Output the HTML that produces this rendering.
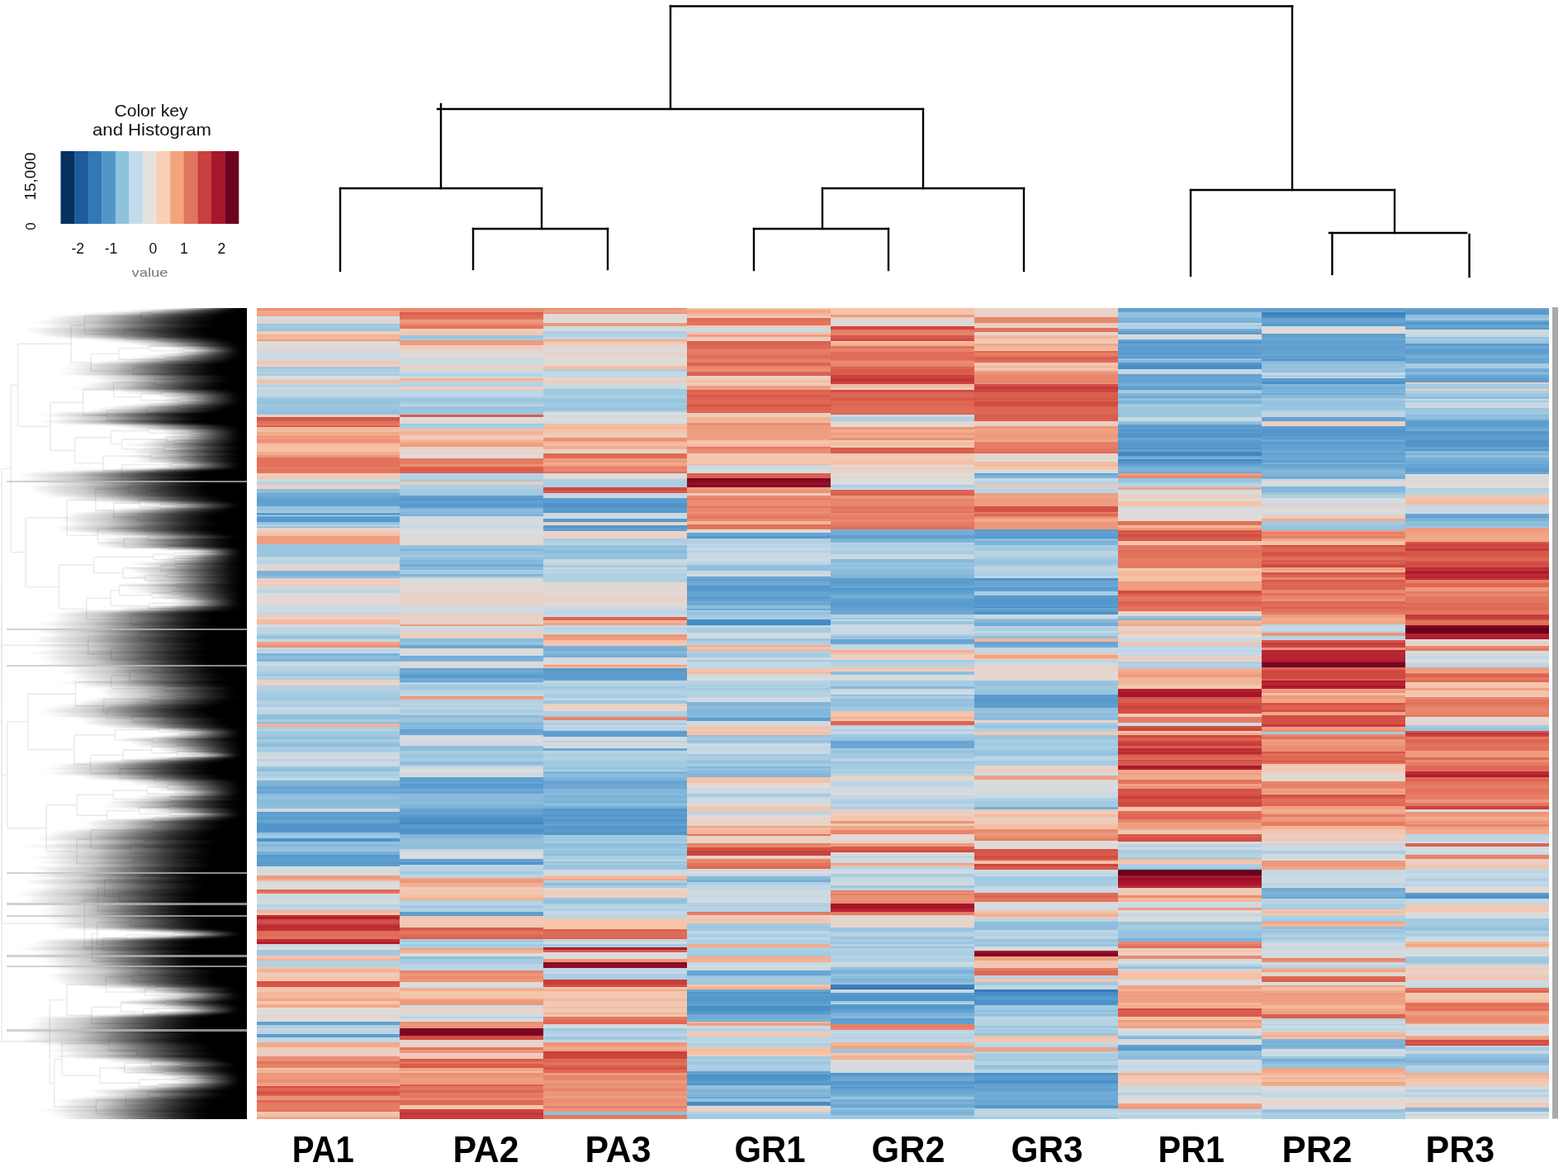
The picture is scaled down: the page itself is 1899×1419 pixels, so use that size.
<!DOCTYPE html>
<html><head><meta charset="utf-8"><title>Heatmap</title>
<style>
html,body{margin:0;padding:0;background:#fff;}
body{width:1899px;height:1419px;overflow:hidden;position:relative;}
svg{position:absolute;left:0;top:0;}
text{font-family:"Liberation Sans",Arial,sans-serif;}
#rd{position:absolute;left:0;top:373px;width:299px;height:981.5px;overflow:hidden;}
#rdi{position:absolute;left:0;top:-8px;width:320px;height:1000px;filter:blur(1.3px);}
#rdi div{position:absolute;left:0;width:320px;height:2.5px;}
#rd i{position:absolute;left:8px;width:292px;height:2.5px;background:rgba(192,192,192,.72);}
</style></head><body>
<svg width="1899" height="1419" viewBox="0 0 1899 1419">
<rect width="1899" height="1419" fill="#fff"/>
<g id="heat" shape-rendering="crispEdges">
<rect x="310.5" y="373.0" width="174.5" height="3.4" fill="#eb8f74"/>
<rect x="310.5" y="376.0" width="174.5" height="3.4" fill="#f1a889"/>
<rect x="310.5" y="379.0" width="174.5" height="4.0" fill="#f1a687"/>
<rect x="310.5" y="382.6" width="174.5" height="2.9" fill="#dddcda"/>
<rect x="310.5" y="385.1" width="174.5" height="4.9" fill="#d3dadf"/>
<rect x="310.5" y="389.6" width="174.5" height="3.2" fill="#eccec1"/>
<rect x="310.5" y="392.4" width="174.5" height="2.4" fill="#9cc7e0"/>
<rect x="310.5" y="394.4" width="174.5" height="3.9" fill="#a4cbe1"/>
<rect x="310.5" y="397.9" width="174.5" height="3.5" fill="#99c4df"/>
<rect x="310.5" y="401.0" width="174.5" height="4.4" fill="#eccdbf"/>
<rect x="310.5" y="405.0" width="174.5" height="3.4" fill="#f3b395"/>
<rect x="310.5" y="408.0" width="174.5" height="2.9" fill="#f4b89c"/>
<rect x="310.5" y="410.5" width="174.5" height="3.3" fill="#ee9c7f"/>
<rect x="310.5" y="413.4" width="174.5" height="2.4" fill="#dedcd9"/>
<rect x="310.5" y="415.4" width="174.5" height="2.4" fill="#dfdbd8"/>
<rect x="310.5" y="417.4" width="174.5" height="2.4" fill="#e1d9d5"/>
<rect x="310.5" y="419.4" width="174.5" height="3.4" fill="#d9dbdc"/>
<rect x="310.5" y="422.4" width="174.5" height="2.6" fill="#e3d7d1"/>
<rect x="310.5" y="424.6" width="174.5" height="3.9" fill="#c8d9e3"/>
<rect x="310.5" y="428.1" width="174.5" height="2.4" fill="#cedae1"/>
<rect x="310.5" y="430.1" width="174.5" height="4.4" fill="#d2dadf"/>
<rect x="310.5" y="434.1" width="174.5" height="3.3" fill="#cedae1"/>
<rect x="310.5" y="437.0" width="174.5" height="3.9" fill="#f2c7b0"/>
<rect x="310.5" y="440.5" width="174.5" height="3.9" fill="#ebcfc3"/>
<rect x="310.5" y="444.0" width="174.5" height="3.4" fill="#9fc8e0"/>
<rect x="310.5" y="447.0" width="174.5" height="3.4" fill="#aacde2"/>
<rect x="310.5" y="450.0" width="174.5" height="2.4" fill="#b5d2e3"/>
<rect x="310.5" y="452.0" width="174.5" height="3.8" fill="#abcee2"/>
<rect x="310.5" y="455.4" width="174.5" height="2.4" fill="#e0dad6"/>
<rect x="310.5" y="457.4" width="174.5" height="2.6" fill="#d7dbdd"/>
<rect x="310.5" y="459.6" width="174.5" height="4.6" fill="#f4bfa4"/>
<rect x="310.5" y="463.8" width="174.5" height="2.4" fill="#c4d8e5"/>
<rect x="310.5" y="465.8" width="174.5" height="3.4" fill="#b6d2e3"/>
<rect x="310.5" y="468.8" width="174.5" height="3.4" fill="#cdd9e1"/>
<rect x="310.5" y="471.8" width="174.5" height="2.4" fill="#bcd5e4"/>
<rect x="310.5" y="473.8" width="174.5" height="4.4" fill="#c1d7e5"/>
<rect x="310.5" y="477.8" width="174.5" height="3.2" fill="#bed6e4"/>
<rect x="310.5" y="480.6" width="174.5" height="2.4" fill="#a0c9e1"/>
<rect x="310.5" y="482.6" width="174.5" height="3.4" fill="#99c4df"/>
<rect x="310.5" y="485.6" width="174.5" height="2.9" fill="#93c1de"/>
<rect x="310.5" y="488.1" width="174.5" height="4.4" fill="#9bc6df"/>
<rect x="310.5" y="492.1" width="174.5" height="3.4" fill="#9bc5df"/>
<rect x="310.5" y="495.1" width="174.5" height="2.9" fill="#96c2de"/>
<rect x="310.5" y="497.6" width="174.5" height="4.4" fill="#92c0dd"/>
<rect x="310.5" y="501.6" width="174.5" height="3.3" fill="#e9d1c7"/>
<rect x="310.5" y="504.5" width="174.5" height="3.4" fill="#d55448"/>
<rect x="310.5" y="507.5" width="174.5" height="2.9" fill="#d85b4c"/>
<rect x="310.5" y="510.0" width="174.5" height="2.9" fill="#e2725b"/>
<rect x="310.5" y="512.5" width="174.5" height="2.4" fill="#e57c63"/>
<rect x="310.5" y="514.5" width="174.5" height="2.9" fill="#da5e4d"/>
<rect x="310.5" y="517.0" width="174.5" height="3.4" fill="#f4b99c"/>
<rect x="310.5" y="520.0" width="174.5" height="2.9" fill="#f4bca0"/>
<rect x="310.5" y="522.5" width="174.5" height="3.4" fill="#f1a687"/>
<rect x="310.5" y="525.5" width="174.5" height="1.9" fill="#f4bca0"/>
<rect x="310.5" y="527.0" width="174.5" height="2.4" fill="#ed977b"/>
<rect x="310.5" y="529.0" width="174.5" height="3.4" fill="#ee9a7e"/>
<rect x="310.5" y="532.0" width="174.5" height="3.4" fill="#ea8e74"/>
<rect x="310.5" y="535.0" width="174.5" height="2.1" fill="#ee9b7e"/>
<rect x="310.5" y="536.7" width="174.5" height="3.4" fill="#f4bda1"/>
<rect x="310.5" y="539.7" width="174.5" height="3.9" fill="#f5c0a4"/>
<rect x="310.5" y="543.2" width="174.5" height="4.4" fill="#f5c2a7"/>
<rect x="310.5" y="547.2" width="174.5" height="3.9" fill="#f2ad8f"/>
<rect x="310.5" y="550.7" width="174.5" height="3.9" fill="#ec957a"/>
<rect x="310.5" y="554.2" width="174.5" height="3.4" fill="#e1715a"/>
<rect x="310.5" y="557.2" width="174.5" height="3.9" fill="#e2725b"/>
<rect x="310.5" y="560.7" width="174.5" height="4.7" fill="#e1715a"/>
<rect x="310.5" y="565.0" width="174.5" height="2.9" fill="#e57b62"/>
<rect x="310.5" y="567.5" width="174.5" height="3.9" fill="#e2725b"/>
<rect x="310.5" y="571.0" width="174.5" height="2.8" fill="#e47960"/>
<rect x="310.5" y="573.4" width="174.5" height="4.4" fill="#eccec0"/>
<rect x="310.5" y="577.4" width="174.5" height="3.4" fill="#f1c7b2"/>
<rect x="310.5" y="580.4" width="174.5" height="3.4" fill="#cfdae0"/>
<rect x="310.5" y="583.4" width="174.5" height="4.4" fill="#bcd5e4"/>
<rect x="310.5" y="587.4" width="174.5" height="2.4" fill="#eccec2"/>
<rect x="310.5" y="589.4" width="174.5" height="2.6" fill="#e8d2c9"/>
<rect x="310.5" y="591.6" width="174.5" height="4.4" fill="#8ebedc"/>
<rect x="310.5" y="595.6" width="174.5" height="2.0" fill="#86b9db"/>
<rect x="310.5" y="597.2" width="174.5" height="3.9" fill="#70aad5"/>
<rect x="310.5" y="600.7" width="174.5" height="3.9" fill="#69a5d3"/>
<rect x="310.5" y="604.2" width="174.5" height="4.4" fill="#5f9fcf"/>
<rect x="310.5" y="608.2" width="174.5" height="2.4" fill="#61a0d0"/>
<rect x="310.5" y="610.2" width="174.5" height="2.8" fill="#61a0d0"/>
<rect x="310.5" y="612.6" width="174.5" height="3.9" fill="#97c3de"/>
<rect x="310.5" y="616.1" width="174.5" height="2.9" fill="#98c3df"/>
<rect x="310.5" y="618.6" width="174.5" height="2.8" fill="#a6cce1"/>
<rect x="310.5" y="621.0" width="174.5" height="3.2" fill="#5b9cce"/>
<rect x="310.5" y="623.8" width="174.5" height="1.8" fill="#c5d8e5"/>
<rect x="310.5" y="625.2" width="174.5" height="3.4" fill="#5c9dce"/>
<rect x="310.5" y="628.2" width="174.5" height="4.4" fill="#5698cc"/>
<rect x="310.5" y="632.2" width="174.5" height="3.4" fill="#96c2de"/>
<rect x="310.5" y="635.2" width="174.5" height="2.9" fill="#b2d0e3"/>
<rect x="310.5" y="637.7" width="174.5" height="1.9" fill="#86b8db"/>
<rect x="310.5" y="639.2" width="174.5" height="4.6" fill="#e5d5cd"/>
<rect x="310.5" y="643.4" width="174.5" height="2.9" fill="#f0c8b4"/>
<rect x="310.5" y="645.9" width="174.5" height="3.5" fill="#f5c0a5"/>
<rect x="310.5" y="649.0" width="174.5" height="3.4" fill="#ef9e81"/>
<rect x="310.5" y="652.0" width="174.5" height="4.4" fill="#efa082"/>
<rect x="310.5" y="656.0" width="174.5" height="3.2" fill="#ee9d80"/>
<rect x="310.5" y="658.8" width="174.5" height="4.4" fill="#9cc6e0"/>
<rect x="310.5" y="662.8" width="174.5" height="3.4" fill="#9ac5df"/>
<rect x="310.5" y="665.8" width="174.5" height="3.4" fill="#9bc6df"/>
<rect x="310.5" y="668.8" width="174.5" height="3.4" fill="#9bc6e0"/>
<rect x="310.5" y="671.8" width="174.5" height="2.8" fill="#96c3de"/>
<rect x="310.5" y="674.2" width="174.5" height="4.4" fill="#c1d7e5"/>
<rect x="310.5" y="678.2" width="174.5" height="4.8" fill="#b8d3e4"/>
<rect x="310.5" y="682.6" width="174.5" height="3.4" fill="#d8dbdd"/>
<rect x="310.5" y="685.6" width="174.5" height="3.4" fill="#e6d4cc"/>
<rect x="310.5" y="688.6" width="174.5" height="2.8" fill="#e4d6cf"/>
<rect x="310.5" y="691.0" width="174.5" height="3.4" fill="#7eb4d9"/>
<rect x="310.5" y="694.0" width="174.5" height="3.4" fill="#7bb1d8"/>
<rect x="310.5" y="697.0" width="174.5" height="2.9" fill="#8bbcdc"/>
<rect x="310.5" y="699.5" width="174.5" height="3.4" fill="#ebcec2"/>
<rect x="310.5" y="702.5" width="174.5" height="3.9" fill="#eccdbf"/>
<rect x="310.5" y="706.0" width="174.5" height="2.4" fill="#ebcfc3"/>
<rect x="310.5" y="708.0" width="174.5" height="3.1" fill="#edccbd"/>
<rect x="310.5" y="710.7" width="174.5" height="3.4" fill="#ccd9e2"/>
<rect x="310.5" y="713.7" width="174.5" height="4.4" fill="#bcd5e4"/>
<rect x="310.5" y="717.7" width="174.5" height="3.2" fill="#d8dbdc"/>
<rect x="310.5" y="720.5" width="174.5" height="3.9" fill="#dfdbd8"/>
<rect x="310.5" y="724.0" width="174.5" height="3.9" fill="#e5d5ce"/>
<rect x="310.5" y="727.5" width="174.5" height="2.4" fill="#dfdbd9"/>
<rect x="310.5" y="729.5" width="174.5" height="3.9" fill="#e3d7d1"/>
<rect x="310.5" y="733.0" width="174.5" height="3.9" fill="#cdd9e1"/>
<rect x="310.5" y="736.5" width="174.5" height="4.4" fill="#ccd9e1"/>
<rect x="310.5" y="740.5" width="174.5" height="2.4" fill="#bed6e4"/>
<rect x="310.5" y="742.5" width="174.5" height="2.2" fill="#ccd9e2"/>
<rect x="310.5" y="744.3" width="174.5" height="3.4" fill="#eeccbb"/>
<rect x="310.5" y="747.3" width="174.5" height="3.1" fill="#e9d1c7"/>
<rect x="310.5" y="750.0" width="174.5" height="4.4" fill="#f4bca0"/>
<rect x="310.5" y="754.0" width="174.5" height="1.9" fill="#f4ba9d"/>
<rect x="310.5" y="755.5" width="174.5" height="4.9" fill="#d0dae0"/>
<rect x="310.5" y="760.0" width="174.5" height="2.9" fill="#bed5e4"/>
<rect x="310.5" y="762.5" width="174.5" height="3.4" fill="#bcd5e4"/>
<rect x="310.5" y="765.5" width="174.5" height="1.9" fill="#c7d9e4"/>
<rect x="310.5" y="767.0" width="174.5" height="3.4" fill="#a9cde2"/>
<rect x="310.5" y="770.0" width="174.5" height="3.0" fill="#91c0dd"/>
<rect x="310.5" y="772.6" width="174.5" height="2.9" fill="#b8d3e4"/>
<rect x="310.5" y="775.1" width="174.5" height="2.1" fill="#cbd9e2"/>
<rect x="310.5" y="776.8" width="174.5" height="2.9" fill="#efa082"/>
<rect x="310.5" y="779.3" width="174.5" height="2.4" fill="#ef9f82"/>
<rect x="310.5" y="781.3" width="174.5" height="2.9" fill="#eb9075"/>
<rect x="310.5" y="783.8" width="174.5" height="2.9" fill="#c9d9e3"/>
<rect x="310.5" y="786.3" width="174.5" height="2.4" fill="#b5d2e3"/>
<rect x="310.5" y="788.3" width="174.5" height="2.9" fill="#c1d7e5"/>
<rect x="310.5" y="790.8" width="174.5" height="3.4" fill="#7cb2d8"/>
<rect x="310.5" y="793.8" width="174.5" height="4.4" fill="#8ebddc"/>
<rect x="310.5" y="797.8" width="174.5" height="3.2" fill="#81b5d9"/>
<rect x="310.5" y="800.6" width="174.5" height="3.9" fill="#c7d8e4"/>
<rect x="310.5" y="804.1" width="174.5" height="2.5" fill="#d0dae0"/>
<rect x="310.5" y="806.2" width="174.5" height="3.4" fill="#b7d3e3"/>
<rect x="310.5" y="809.2" width="174.5" height="3.9" fill="#b5d2e3"/>
<rect x="310.5" y="812.7" width="174.5" height="3.9" fill="#a7cce2"/>
<rect x="310.5" y="816.2" width="174.5" height="3.4" fill="#9bc6df"/>
<rect x="310.5" y="819.2" width="174.5" height="2.4" fill="#b7d2e3"/>
<rect x="310.5" y="821.2" width="174.5" height="2.2" fill="#abcee2"/>
<rect x="310.5" y="823.0" width="174.5" height="2.4" fill="#ebcfc4"/>
<rect x="310.5" y="825.0" width="174.5" height="3.4" fill="#e7d3c9"/>
<rect x="310.5" y="828.0" width="174.5" height="2.4" fill="#ead0c6"/>
<rect x="310.5" y="830.0" width="174.5" height="4.4" fill="#b2d1e3"/>
<rect x="310.5" y="834.0" width="174.5" height="3.9" fill="#b1d0e3"/>
<rect x="310.5" y="837.5" width="174.5" height="4.4" fill="#a6cce1"/>
<rect x="310.5" y="841.5" width="174.5" height="2.9" fill="#a4cbe1"/>
<rect x="310.5" y="844.0" width="174.5" height="4.4" fill="#9fc8e0"/>
<rect x="310.5" y="848.0" width="174.5" height="2.0" fill="#adcee2"/>
<rect x="310.5" y="849.6" width="174.5" height="2.9" fill="#bad4e4"/>
<rect x="310.5" y="852.1" width="174.5" height="3.9" fill="#aacde2"/>
<rect x="310.5" y="855.6" width="174.5" height="4.4" fill="#c6d8e4"/>
<rect x="310.5" y="859.6" width="174.5" height="3.4" fill="#c0d6e5"/>
<rect x="310.5" y="862.6" width="174.5" height="2.8" fill="#b9d4e4"/>
<rect x="310.5" y="865.0" width="174.5" height="3.9" fill="#91bfdd"/>
<rect x="310.5" y="868.5" width="174.5" height="2.9" fill="#8fbedd"/>
<rect x="310.5" y="871.0" width="174.5" height="2.9" fill="#aacde2"/>
<rect x="310.5" y="873.5" width="174.5" height="3.1" fill="#8abbdc"/>
<rect x="310.5" y="876.2" width="174.5" height="4.6" fill="#f3b194"/>
<rect x="310.5" y="880.4" width="174.5" height="2.9" fill="#abcee2"/>
<rect x="310.5" y="882.9" width="174.5" height="2.4" fill="#b6d2e3"/>
<rect x="310.5" y="884.9" width="174.5" height="4.4" fill="#a2cae1"/>
<rect x="310.5" y="888.9" width="174.5" height="3.9" fill="#9dc7e0"/>
<rect x="310.5" y="892.4" width="174.5" height="3.4" fill="#93c1de"/>
<rect x="310.5" y="895.4" width="174.5" height="2.9" fill="#a6cce1"/>
<rect x="310.5" y="897.9" width="174.5" height="2.4" fill="#9fc8e0"/>
<rect x="310.5" y="899.9" width="174.5" height="4.4" fill="#8fbedd"/>
<rect x="310.5" y="903.9" width="174.5" height="4.4" fill="#a9cde2"/>
<rect x="310.5" y="907.9" width="174.5" height="3.8" fill="#a9cde2"/>
<rect x="310.5" y="911.3" width="174.5" height="2.4" fill="#d2dadf"/>
<rect x="310.5" y="913.3" width="174.5" height="3.4" fill="#c6d8e4"/>
<rect x="310.5" y="916.3" width="174.5" height="3.4" fill="#d5dbde"/>
<rect x="310.5" y="919.3" width="174.5" height="3.4" fill="#bdd5e4"/>
<rect x="310.5" y="922.3" width="174.5" height="3.9" fill="#cfdae0"/>
<rect x="310.5" y="925.8" width="174.5" height="2.6" fill="#ccd9e2"/>
<rect x="310.5" y="928.0" width="174.5" height="3.4" fill="#9ac5df"/>
<rect x="310.5" y="931.0" width="174.5" height="2.4" fill="#8cbcdc"/>
<rect x="310.5" y="933.0" width="174.5" height="2.4" fill="#9ac5df"/>
<rect x="310.5" y="935.0" width="174.5" height="2.4" fill="#b4d2e3"/>
<rect x="310.5" y="937.0" width="174.5" height="2.9" fill="#a6cce1"/>
<rect x="310.5" y="939.5" width="174.5" height="2.9" fill="#b5d2e3"/>
<rect x="310.5" y="942.0" width="174.5" height="3.3" fill="#c2d7e5"/>
<rect x="310.5" y="944.9" width="174.5" height="4.4" fill="#7cb2d8"/>
<rect x="310.5" y="948.9" width="174.5" height="3.9" fill="#7bb1d8"/>
<rect x="310.5" y="952.4" width="174.5" height="3.0" fill="#67a4d2"/>
<rect x="310.5" y="955.0" width="174.5" height="3.9" fill="#6ea9d4"/>
<rect x="310.5" y="958.5" width="174.5" height="2.5" fill="#69a6d3"/>
<rect x="310.5" y="960.6" width="174.5" height="3.4" fill="#8bbcdc"/>
<rect x="310.5" y="963.6" width="174.5" height="4.4" fill="#92c0dd"/>
<rect x="310.5" y="967.6" width="174.5" height="3.9" fill="#8bbcdc"/>
<rect x="310.5" y="971.1" width="174.5" height="3.9" fill="#8abbdb"/>
<rect x="310.5" y="974.6" width="174.5" height="4.6" fill="#90bfdd"/>
<rect x="310.5" y="978.8" width="174.5" height="4.6" fill="#c8d9e3"/>
<rect x="310.5" y="983.0" width="174.5" height="2.9" fill="#5c9dce"/>
<rect x="310.5" y="985.5" width="174.5" height="3.9" fill="#63a1d1"/>
<rect x="310.5" y="989.0" width="174.5" height="3.9" fill="#5d9dce"/>
<rect x="310.5" y="992.5" width="174.5" height="3.4" fill="#68a5d3"/>
<rect x="310.5" y="995.5" width="174.5" height="1.9" fill="#5f9ecf"/>
<rect x="310.5" y="997.0" width="174.5" height="3.4" fill="#5396cb"/>
<rect x="310.5" y="1000.0" width="174.5" height="2.4" fill="#4f94ca"/>
<rect x="310.5" y="1002.0" width="174.5" height="3.4" fill="#5195cb"/>
<rect x="310.5" y="1005.0" width="174.5" height="3.6" fill="#5698cc"/>
<rect x="310.5" y="1008.2" width="174.5" height="3.4" fill="#95c2de"/>
<rect x="310.5" y="1011.2" width="174.5" height="2.4" fill="#a1c9e1"/>
<rect x="310.5" y="1013.2" width="174.5" height="2.4" fill="#9ec8e0"/>
<rect x="310.5" y="1015.2" width="174.5" height="4.6" fill="#4f94ca"/>
<rect x="310.5" y="1019.4" width="174.5" height="3.4" fill="#93c1de"/>
<rect x="310.5" y="1022.4" width="174.5" height="3.4" fill="#85b8da"/>
<rect x="310.5" y="1025.4" width="174.5" height="3.4" fill="#92c0dd"/>
<rect x="310.5" y="1028.4" width="174.5" height="3.4" fill="#99c5df"/>
<rect x="310.5" y="1031.4" width="174.5" height="3.8" fill="#77afd7"/>
<rect x="310.5" y="1034.8" width="174.5" height="3.9" fill="#589acd"/>
<rect x="310.5" y="1038.3" width="174.5" height="3.9" fill="#5f9fcf"/>
<rect x="310.5" y="1041.8" width="174.5" height="2.4" fill="#5e9ecf"/>
<rect x="310.5" y="1043.8" width="174.5" height="2.4" fill="#589acd"/>
<rect x="310.5" y="1045.8" width="174.5" height="3.4" fill="#5c9dce"/>
<rect x="310.5" y="1048.8" width="174.5" height="4.4" fill="#d8dbdc"/>
<rect x="310.5" y="1052.8" width="174.5" height="3.4" fill="#d0dae0"/>
<rect x="310.5" y="1055.8" width="174.5" height="4.6" fill="#dadbdc"/>
<rect x="310.5" y="1060.0" width="174.5" height="3.4" fill="#ee9c7f"/>
<rect x="310.5" y="1063.0" width="174.5" height="2.4" fill="#ef9e81"/>
<rect x="310.5" y="1065.0" width="174.5" height="2.4" fill="#f3b89c"/>
<rect x="310.5" y="1067.0" width="174.5" height="4.4" fill="#d5dbde"/>
<rect x="310.5" y="1071.0" width="174.5" height="3.9" fill="#dfdbd9"/>
<rect x="310.5" y="1074.5" width="174.5" height="2.7" fill="#dddcdb"/>
<rect x="310.5" y="1076.8" width="174.5" height="3.4" fill="#df6955"/>
<rect x="310.5" y="1079.8" width="174.5" height="3.0" fill="#e57c63"/>
<rect x="310.5" y="1082.4" width="174.5" height="2.9" fill="#d2dadf"/>
<rect x="310.5" y="1084.9" width="174.5" height="2.9" fill="#c4d8e5"/>
<rect x="310.5" y="1087.4" width="174.5" height="3.9" fill="#ced9e1"/>
<rect x="310.5" y="1090.9" width="174.5" height="4.5" fill="#d5dbde"/>
<rect x="310.5" y="1095.0" width="174.5" height="2.9" fill="#b5d2e3"/>
<rect x="310.5" y="1097.5" width="174.5" height="3.4" fill="#c6d8e4"/>
<rect x="310.5" y="1100.5" width="174.5" height="1.9" fill="#afcfe2"/>
<rect x="310.5" y="1102.0" width="174.5" height="2.9" fill="#f3b69a"/>
<rect x="310.5" y="1104.5" width="174.5" height="3.6" fill="#f5c1a6"/>
<rect x="310.5" y="1107.7" width="174.5" height="2.4" fill="#bb2934"/>
<rect x="310.5" y="1109.7" width="174.5" height="4.0" fill="#b31e30"/>
<rect x="310.5" y="1113.3" width="174.5" height="2.4" fill="#d14c42"/>
<rect x="310.5" y="1115.3" width="174.5" height="3.4" fill="#d45146"/>
<rect x="310.5" y="1118.3" width="174.5" height="2.4" fill="#ca413d"/>
<rect x="310.5" y="1120.3" width="174.5" height="3.9" fill="#bc2a35"/>
<rect x="310.5" y="1123.8" width="174.5" height="3.9" fill="#c03137"/>
<rect x="310.5" y="1127.3" width="174.5" height="4.4" fill="#df6c56"/>
<rect x="310.5" y="1131.3" width="174.5" height="2.9" fill="#e06c57"/>
<rect x="310.5" y="1133.8" width="174.5" height="3.6" fill="#e2745c"/>
<rect x="310.5" y="1137.0" width="174.5" height="3.4" fill="#be2e36"/>
<rect x="310.5" y="1140.0" width="174.5" height="3.1" fill="#b31d30"/>
<rect x="310.5" y="1142.7" width="174.5" height="3.4" fill="#c4d8e5"/>
<rect x="310.5" y="1145.7" width="174.5" height="4.7" fill="#dedcd9"/>
<rect x="310.5" y="1150.0" width="174.5" height="2.4" fill="#9dc7e0"/>
<rect x="310.5" y="1152.0" width="174.5" height="3.4" fill="#9fc8e0"/>
<rect x="310.5" y="1155.0" width="174.5" height="2.4" fill="#9fc8e0"/>
<rect x="310.5" y="1157.0" width="174.5" height="3.9" fill="#f5c2a7"/>
<rect x="310.5" y="1160.5" width="174.5" height="2.5" fill="#f2af91"/>
<rect x="310.5" y="1162.6" width="174.5" height="2.9" fill="#b1d0e3"/>
<rect x="310.5" y="1165.1" width="174.5" height="2.9" fill="#b5d2e3"/>
<rect x="310.5" y="1167.6" width="174.5" height="3.8" fill="#b2d1e3"/>
<rect x="310.5" y="1171.0" width="174.5" height="2.4" fill="#f4c4aa"/>
<rect x="310.5" y="1173.0" width="174.5" height="4.0" fill="#f3b295"/>
<rect x="310.5" y="1176.6" width="174.5" height="2.4" fill="#f0c8b4"/>
<rect x="310.5" y="1178.6" width="174.5" height="3.4" fill="#efcbb9"/>
<rect x="310.5" y="1181.6" width="174.5" height="3.4" fill="#f4c4aa"/>
<rect x="310.5" y="1184.6" width="174.5" height="3.6" fill="#f3c6af"/>
<rect x="310.5" y="1187.8" width="174.5" height="4.4" fill="#d45246"/>
<rect x="310.5" y="1191.8" width="174.5" height="3.4" fill="#d65548"/>
<rect x="310.5" y="1194.8" width="174.5" height="3.4" fill="#f5c0a5"/>
<rect x="310.5" y="1197.8" width="174.5" height="3.4" fill="#f3c6ae"/>
<rect x="310.5" y="1200.8" width="174.5" height="2.9" fill="#f3b79b"/>
<rect x="310.5" y="1203.3" width="174.5" height="3.9" fill="#f4b99d"/>
<rect x="310.5" y="1206.8" width="174.5" height="2.4" fill="#f3b395"/>
<rect x="310.5" y="1208.8" width="174.5" height="3.4" fill="#f1a687"/>
<rect x="310.5" y="1211.8" width="174.5" height="4.4" fill="#f3c6af"/>
<rect x="310.5" y="1215.8" width="174.5" height="4.6" fill="#f1a98a"/>
<rect x="310.5" y="1220.0" width="174.5" height="2.9" fill="#dedcda"/>
<rect x="310.5" y="1222.5" width="174.5" height="3.9" fill="#dbdcdb"/>
<rect x="310.5" y="1226.0" width="174.5" height="3.4" fill="#dedcda"/>
<rect x="310.5" y="1229.0" width="174.5" height="3.4" fill="#e6d4cd"/>
<rect x="310.5" y="1232.0" width="174.5" height="2.9" fill="#dbdbdb"/>
<rect x="310.5" y="1234.5" width="174.5" height="2.7" fill="#e2d8d2"/>
<rect x="310.5" y="1236.8" width="174.5" height="4.6" fill="#609fd0"/>
<rect x="310.5" y="1241.0" width="174.5" height="4.4" fill="#b0d0e3"/>
<rect x="310.5" y="1245.0" width="174.5" height="2.9" fill="#c2d7e5"/>
<rect x="310.5" y="1247.5" width="174.5" height="3.4" fill="#bbd4e4"/>
<rect x="310.5" y="1250.5" width="174.5" height="2.1" fill="#c0d6e5"/>
<rect x="310.5" y="1252.2" width="174.5" height="4.6" fill="#5d9dcf"/>
<rect x="310.5" y="1256.4" width="174.5" height="3.4" fill="#bfd6e4"/>
<rect x="310.5" y="1259.4" width="174.5" height="3.0" fill="#c2d7e5"/>
<rect x="310.5" y="1262.0" width="174.5" height="3.4" fill="#f1a98a"/>
<rect x="310.5" y="1265.0" width="174.5" height="3.0" fill="#f1a98b"/>
<rect x="310.5" y="1267.6" width="174.5" height="3.4" fill="#edccbc"/>
<rect x="310.5" y="1270.6" width="174.5" height="3.9" fill="#eccec1"/>
<rect x="310.5" y="1274.1" width="174.5" height="5.1" fill="#eccdbf"/>
<rect x="310.5" y="1278.8" width="174.5" height="3.4" fill="#eb8f75"/>
<rect x="310.5" y="1281.8" width="174.5" height="3.4" fill="#eb9277"/>
<rect x="310.5" y="1284.8" width="174.5" height="3.9" fill="#e2745c"/>
<rect x="310.5" y="1288.3" width="174.5" height="5.0" fill="#e78167"/>
<rect x="310.5" y="1292.9" width="174.5" height="2.9" fill="#f5c3a8"/>
<rect x="310.5" y="1295.4" width="174.5" height="3.5" fill="#f3b396"/>
<rect x="310.5" y="1298.5" width="174.5" height="2.9" fill="#ed987c"/>
<rect x="310.5" y="1301.0" width="174.5" height="3.4" fill="#ed997d"/>
<rect x="310.5" y="1304.0" width="174.5" height="3.4" fill="#ed997d"/>
<rect x="310.5" y="1307.0" width="174.5" height="3.9" fill="#ea8e74"/>
<rect x="310.5" y="1310.5" width="174.5" height="5.2" fill="#efa082"/>
<rect x="310.5" y="1315.3" width="174.5" height="2.4" fill="#d35145"/>
<rect x="310.5" y="1317.3" width="174.5" height="4.4" fill="#de6653"/>
<rect x="310.5" y="1321.3" width="174.5" height="3.9" fill="#d45246"/>
<rect x="310.5" y="1324.8" width="174.5" height="2.1" fill="#dd6552"/>
<rect x="310.5" y="1326.5" width="174.5" height="3.4" fill="#ec9378"/>
<rect x="310.5" y="1329.5" width="174.5" height="2.9" fill="#eb9176"/>
<rect x="310.5" y="1332.0" width="174.5" height="3.4" fill="#de6754"/>
<rect x="310.5" y="1335.0" width="174.5" height="3.9" fill="#e57b62"/>
<rect x="310.5" y="1338.5" width="174.5" height="3.4" fill="#e57b62"/>
<rect x="310.5" y="1341.5" width="174.5" height="3.4" fill="#e57b61"/>
<rect x="310.5" y="1344.5" width="174.5" height="1.9" fill="#e16e58"/>
<rect x="310.5" y="1346.0" width="174.5" height="3.4" fill="#f3c6af"/>
<rect x="310.5" y="1349.0" width="174.5" height="3.4" fill="#f4bfa4"/>
<rect x="310.5" y="1352.0" width="174.5" height="2.9" fill="#f1a688"/>
<rect x="484.4" y="373.0" width="174.5" height="5.8" fill="#e98b71"/>
<rect x="484.4" y="378.4" width="174.5" height="3.4" fill="#da5e4e"/>
<rect x="484.4" y="381.4" width="174.5" height="3.9" fill="#e06c57"/>
<rect x="484.4" y="384.9" width="174.5" height="2.3" fill="#e3765e"/>
<rect x="484.4" y="386.8" width="174.5" height="4.4" fill="#ee9a7e"/>
<rect x="484.4" y="390.8" width="174.5" height="3.4" fill="#e98a70"/>
<rect x="484.4" y="393.8" width="174.5" height="4.6" fill="#e3755d"/>
<rect x="484.4" y="398.0" width="174.5" height="2.4" fill="#edcdbf"/>
<rect x="484.4" y="400.0" width="174.5" height="3.4" fill="#efcab9"/>
<rect x="484.4" y="403.0" width="174.5" height="3.8" fill="#f2c6af"/>
<rect x="484.4" y="406.4" width="174.5" height="4.4" fill="#9bc6df"/>
<rect x="484.4" y="410.4" width="174.5" height="2.0" fill="#a2cae1"/>
<rect x="484.4" y="412.0" width="174.5" height="2.4" fill="#ed997d"/>
<rect x="484.4" y="414.0" width="174.5" height="4.0" fill="#ee9a7e"/>
<rect x="484.4" y="417.6" width="174.5" height="3.4" fill="#eccec2"/>
<rect x="484.4" y="420.6" width="174.5" height="2.9" fill="#eecbba"/>
<rect x="484.4" y="423.1" width="174.5" height="3.3" fill="#e6d4cb"/>
<rect x="484.4" y="426.0" width="174.5" height="4.4" fill="#e0dad6"/>
<rect x="484.4" y="430.0" width="174.5" height="4.8" fill="#e0dad7"/>
<rect x="484.4" y="434.4" width="174.5" height="2.4" fill="#ccd9e2"/>
<rect x="484.4" y="436.4" width="174.5" height="3.9" fill="#cedae1"/>
<rect x="484.4" y="439.9" width="174.5" height="3.3" fill="#d2dadf"/>
<rect x="484.4" y="442.8" width="174.5" height="4.4" fill="#ead0c4"/>
<rect x="484.4" y="446.8" width="174.5" height="2.0" fill="#e4d6cf"/>
<rect x="484.4" y="448.4" width="174.5" height="3.9" fill="#c9d9e3"/>
<rect x="484.4" y="451.9" width="174.5" height="4.4" fill="#b7d3e3"/>
<rect x="484.4" y="455.9" width="174.5" height="2.7" fill="#cfdae1"/>
<rect x="484.4" y="458.2" width="174.5" height="2.9" fill="#f3b194"/>
<rect x="484.4" y="460.7" width="174.5" height="2.1" fill="#f2c7b1"/>
<rect x="484.4" y="462.4" width="174.5" height="3.4" fill="#b6d2e3"/>
<rect x="484.4" y="465.4" width="174.5" height="3.0" fill="#b3d1e3"/>
<rect x="484.4" y="468.0" width="174.5" height="4.6" fill="#edcdbe"/>
<rect x="484.4" y="472.2" width="174.5" height="3.9" fill="#bcd5e4"/>
<rect x="484.4" y="475.7" width="174.5" height="4.4" fill="#c1d7e5"/>
<rect x="484.4" y="479.7" width="174.5" height="2.7" fill="#b1d0e3"/>
<rect x="484.4" y="482.0" width="174.5" height="4.4" fill="#9cc6e0"/>
<rect x="484.4" y="486.0" width="174.5" height="2.9" fill="#a5cbe1"/>
<rect x="484.4" y="488.5" width="174.5" height="3.9" fill="#b8d3e4"/>
<rect x="484.4" y="492.0" width="174.5" height="4.4" fill="#9ac5df"/>
<rect x="484.4" y="496.0" width="174.5" height="2.4" fill="#9cc6e0"/>
<rect x="484.4" y="498.0" width="174.5" height="4.0" fill="#9cc6e0"/>
<rect x="484.4" y="501.6" width="174.5" height="3.3" fill="#da5f4e"/>
<rect x="484.4" y="504.5" width="174.5" height="2.9" fill="#dedcda"/>
<rect x="484.4" y="507.0" width="174.5" height="3.9" fill="#dcdcdb"/>
<rect x="484.4" y="510.5" width="174.5" height="2.9" fill="#e5d5ce"/>
<rect x="484.4" y="513.0" width="174.5" height="2.9" fill="#a2cae1"/>
<rect x="484.4" y="515.5" width="174.5" height="3.4" fill="#adcfe2"/>
<rect x="484.4" y="518.5" width="174.5" height="3.4" fill="#f4bfa4"/>
<rect x="484.4" y="521.5" width="174.5" height="3.4" fill="#f3b396"/>
<rect x="484.4" y="524.5" width="174.5" height="2.9" fill="#f3b599"/>
<rect x="484.4" y="527.0" width="174.5" height="2.4" fill="#eccdbf"/>
<rect x="484.4" y="529.0" width="174.5" height="2.4" fill="#edcdbe"/>
<rect x="484.4" y="531.0" width="174.5" height="1.9" fill="#f5c1a5"/>
<rect x="484.4" y="532.5" width="174.5" height="3.4" fill="#f3b193"/>
<rect x="484.4" y="535.5" width="174.5" height="2.9" fill="#f0a385"/>
<rect x="484.4" y="538.0" width="174.5" height="3.4" fill="#ef9d80"/>
<rect x="484.4" y="541.0" width="174.5" height="3.9" fill="#ead0c5"/>
<rect x="484.4" y="544.5" width="174.5" height="3.4" fill="#e2d8d3"/>
<rect x="484.4" y="547.5" width="174.5" height="2.9" fill="#ead0c4"/>
<rect x="484.4" y="550.0" width="174.5" height="3.4" fill="#e1d9d6"/>
<rect x="484.4" y="553.0" width="174.5" height="2.4" fill="#dfdbd8"/>
<rect x="484.4" y="555.0" width="174.5" height="3.4" fill="#e47960"/>
<rect x="484.4" y="558.0" width="174.5" height="3.9" fill="#e57b62"/>
<rect x="484.4" y="561.5" width="174.5" height="3.9" fill="#eb9076"/>
<rect x="484.4" y="565.0" width="174.5" height="3.4" fill="#db604f"/>
<rect x="484.4" y="568.0" width="174.5" height="2.4" fill="#d85b4c"/>
<rect x="484.4" y="570.0" width="174.5" height="3.8" fill="#da5e4e"/>
<rect x="484.4" y="573.4" width="174.5" height="3.9" fill="#b7d2e3"/>
<rect x="484.4" y="576.9" width="174.5" height="4.4" fill="#b3d1e3"/>
<rect x="484.4" y="580.9" width="174.5" height="2.7" fill="#a1cae1"/>
<rect x="484.4" y="583.2" width="174.5" height="2.9" fill="#f2c7b1"/>
<rect x="484.4" y="585.7" width="174.5" height="2.1" fill="#e9d1c7"/>
<rect x="484.4" y="587.4" width="174.5" height="2.4" fill="#aacde2"/>
<rect x="484.4" y="589.4" width="174.5" height="3.4" fill="#afcfe3"/>
<rect x="484.4" y="592.4" width="174.5" height="4.4" fill="#a3cbe1"/>
<rect x="484.4" y="596.4" width="174.5" height="4.0" fill="#9fc8e0"/>
<rect x="484.4" y="600.0" width="174.5" height="3.4" fill="#609fd0"/>
<rect x="484.4" y="603.0" width="174.5" height="3.4" fill="#5699cc"/>
<rect x="484.4" y="606.0" width="174.5" height="4.4" fill="#62a1d0"/>
<rect x="484.4" y="610.0" width="174.5" height="3.9" fill="#5a9bce"/>
<rect x="484.4" y="613.5" width="174.5" height="2.3" fill="#62a1d1"/>
<rect x="484.4" y="615.4" width="174.5" height="2.4" fill="#7eb4d9"/>
<rect x="484.4" y="617.4" width="174.5" height="3.4" fill="#8dbddc"/>
<rect x="484.4" y="620.4" width="174.5" height="2.9" fill="#84b8da"/>
<rect x="484.4" y="622.9" width="174.5" height="2.7" fill="#7bb2d8"/>
<rect x="484.4" y="625.2" width="174.5" height="3.9" fill="#d2dadf"/>
<rect x="484.4" y="628.7" width="174.5" height="2.9" fill="#d4dbde"/>
<rect x="484.4" y="631.2" width="174.5" height="2.9" fill="#d3dadf"/>
<rect x="484.4" y="633.7" width="174.5" height="3.4" fill="#d0dae0"/>
<rect x="484.4" y="636.7" width="174.5" height="2.4" fill="#ccd9e2"/>
<rect x="484.4" y="638.7" width="174.5" height="2.3" fill="#cedae1"/>
<rect x="484.4" y="640.6" width="174.5" height="3.9" fill="#dedcda"/>
<rect x="484.4" y="644.1" width="174.5" height="3.4" fill="#dfdbd9"/>
<rect x="484.4" y="647.1" width="174.5" height="2.4" fill="#d8dbdd"/>
<rect x="484.4" y="649.1" width="174.5" height="3.9" fill="#dbdbdb"/>
<rect x="484.4" y="652.6" width="174.5" height="2.4" fill="#dbdbdb"/>
<rect x="484.4" y="654.6" width="174.5" height="2.4" fill="#e1d9d5"/>
<rect x="484.4" y="656.6" width="174.5" height="4.0" fill="#e3d7d1"/>
<rect x="484.4" y="660.2" width="174.5" height="2.9" fill="#96c3de"/>
<rect x="484.4" y="662.7" width="174.5" height="2.4" fill="#8ebedd"/>
<rect x="484.4" y="664.7" width="174.5" height="2.9" fill="#80b4d9"/>
<rect x="484.4" y="667.2" width="174.5" height="4.4" fill="#92c0dd"/>
<rect x="484.4" y="671.2" width="174.5" height="3.9" fill="#a0c9e1"/>
<rect x="484.4" y="674.7" width="174.5" height="3.4" fill="#90bfdd"/>
<rect x="484.4" y="677.7" width="174.5" height="3.4" fill="#84b7da"/>
<rect x="484.4" y="680.7" width="174.5" height="2.3" fill="#89badb"/>
<rect x="484.4" y="682.6" width="174.5" height="3.9" fill="#71abd6"/>
<rect x="484.4" y="686.1" width="174.5" height="3.9" fill="#89badb"/>
<rect x="484.4" y="689.6" width="174.5" height="2.4" fill="#aacde2"/>
<rect x="484.4" y="691.6" width="174.5" height="3.4" fill="#a4cbe1"/>
<rect x="484.4" y="694.6" width="174.5" height="3.4" fill="#83b7da"/>
<rect x="484.4" y="697.6" width="174.5" height="2.3" fill="#aacde2"/>
<rect x="484.4" y="699.5" width="174.5" height="3.4" fill="#dbdbdb"/>
<rect x="484.4" y="702.5" width="174.5" height="3.9" fill="#e0dad6"/>
<rect x="484.4" y="706.0" width="174.5" height="4.4" fill="#e0dad7"/>
<rect x="484.4" y="710.0" width="174.5" height="2.4" fill="#e5d5ce"/>
<rect x="484.4" y="712.0" width="174.5" height="3.4" fill="#e0dad7"/>
<rect x="484.4" y="715.0" width="174.5" height="2.9" fill="#e4d6d0"/>
<rect x="484.4" y="717.5" width="174.5" height="4.8" fill="#e6d4cc"/>
<rect x="484.4" y="721.9" width="174.5" height="3.4" fill="#ead0c6"/>
<rect x="484.4" y="724.9" width="174.5" height="3.4" fill="#e8d2c9"/>
<rect x="484.4" y="727.9" width="174.5" height="3.4" fill="#e8d2c9"/>
<rect x="484.4" y="730.9" width="174.5" height="2.5" fill="#ead0c4"/>
<rect x="484.4" y="733.0" width="174.5" height="3.4" fill="#ced9e1"/>
<rect x="484.4" y="736.0" width="174.5" height="4.4" fill="#d3dadf"/>
<rect x="484.4" y="740.0" width="174.5" height="2.9" fill="#d0dae0"/>
<rect x="484.4" y="742.5" width="174.5" height="2.2" fill="#cad9e2"/>
<rect x="484.4" y="744.3" width="174.5" height="3.4" fill="#eccec1"/>
<rect x="484.4" y="747.3" width="174.5" height="2.4" fill="#e8d2c9"/>
<rect x="484.4" y="749.3" width="174.5" height="3.4" fill="#e9d1c6"/>
<rect x="484.4" y="752.3" width="174.5" height="3.6" fill="#e9d1c7"/>
<rect x="484.4" y="755.5" width="174.5" height="3.2" fill="#ef9e81"/>
<rect x="484.4" y="758.3" width="174.5" height="2.1" fill="#d5dbde"/>
<rect x="484.4" y="760.0" width="174.5" height="4.6" fill="#ccd9e1"/>
<rect x="484.4" y="764.2" width="174.5" height="3.4" fill="#ead0c5"/>
<rect x="484.4" y="767.2" width="174.5" height="3.4" fill="#ebcfc4"/>
<rect x="484.4" y="770.2" width="174.5" height="2.8" fill="#edccbd"/>
<rect x="484.4" y="772.6" width="174.5" height="4.4" fill="#8bbbdc"/>
<rect x="484.4" y="776.6" width="174.5" height="4.8" fill="#97c3df"/>
<rect x="484.4" y="781.0" width="174.5" height="4.6" fill="#69a6d3"/>
<rect x="484.4" y="785.2" width="174.5" height="3.4" fill="#e4d6cf"/>
<rect x="484.4" y="788.2" width="174.5" height="5.8" fill="#d6dbde"/>
<rect x="484.4" y="793.6" width="174.5" height="3.4" fill="#74add6"/>
<rect x="484.4" y="796.6" width="174.5" height="2.9" fill="#76aed7"/>
<rect x="484.4" y="799.1" width="174.5" height="1.9" fill="#80b5d9"/>
<rect x="484.4" y="800.6" width="174.5" height="3.4" fill="#e1d9d4"/>
<rect x="484.4" y="803.6" width="174.5" height="3.4" fill="#d4dbde"/>
<rect x="484.4" y="806.6" width="174.5" height="2.8" fill="#d3dadf"/>
<rect x="484.4" y="809.0" width="174.5" height="2.4" fill="#65a3d1"/>
<rect x="484.4" y="811.0" width="174.5" height="3.4" fill="#72acd6"/>
<rect x="484.4" y="814.0" width="174.5" height="2.9" fill="#65a3d1"/>
<rect x="484.4" y="816.5" width="174.5" height="4.4" fill="#5a9bce"/>
<rect x="484.4" y="820.5" width="174.5" height="3.4" fill="#73acd6"/>
<rect x="484.4" y="823.5" width="174.5" height="2.7" fill="#6ba7d3"/>
<rect x="484.4" y="825.8" width="174.5" height="3.9" fill="#b7d3e4"/>
<rect x="484.4" y="829.3" width="174.5" height="2.9" fill="#a5cbe1"/>
<rect x="484.4" y="831.8" width="174.5" height="3.4" fill="#a1c9e1"/>
<rect x="484.4" y="834.8" width="174.5" height="3.9" fill="#b7d3e4"/>
<rect x="484.4" y="838.3" width="174.5" height="2.9" fill="#bdd5e4"/>
<rect x="484.4" y="840.8" width="174.5" height="2.2" fill="#c5d8e4"/>
<rect x="484.4" y="842.6" width="174.5" height="2.9" fill="#ec957a"/>
<rect x="484.4" y="845.1" width="174.5" height="2.1" fill="#efa183"/>
<rect x="484.4" y="846.8" width="174.5" height="4.4" fill="#b2d1e3"/>
<rect x="484.4" y="850.8" width="174.5" height="3.9" fill="#b9d3e4"/>
<rect x="484.4" y="854.3" width="174.5" height="3.4" fill="#b6d2e3"/>
<rect x="484.4" y="857.3" width="174.5" height="2.4" fill="#bdd5e4"/>
<rect x="484.4" y="859.3" width="174.5" height="3.9" fill="#a9cde2"/>
<rect x="484.4" y="862.8" width="174.5" height="4.0" fill="#b5d2e3"/>
<rect x="484.4" y="866.4" width="174.5" height="2.9" fill="#8bbcdc"/>
<rect x="484.4" y="868.9" width="174.5" height="4.4" fill="#9bc5df"/>
<rect x="484.4" y="872.9" width="174.5" height="2.9" fill="#95c2de"/>
<rect x="484.4" y="875.4" width="174.5" height="2.4" fill="#7eb3d9"/>
<rect x="484.4" y="877.4" width="174.5" height="2.9" fill="#87b9db"/>
<rect x="484.4" y="879.9" width="174.5" height="3.7" fill="#86b8db"/>
<rect x="484.4" y="883.2" width="174.5" height="3.9" fill="#66a4d2"/>
<rect x="484.4" y="886.7" width="174.5" height="4.0" fill="#6ba7d4"/>
<rect x="484.4" y="890.3" width="174.5" height="2.4" fill="#d3dadf"/>
<rect x="484.4" y="892.3" width="174.5" height="3.4" fill="#d7dbdd"/>
<rect x="484.4" y="895.3" width="174.5" height="4.4" fill="#d5dbde"/>
<rect x="484.4" y="899.3" width="174.5" height="4.0" fill="#cdd9e1"/>
<rect x="484.4" y="902.9" width="174.5" height="2.4" fill="#92c0dd"/>
<rect x="484.4" y="904.9" width="174.5" height="4.4" fill="#8ebedc"/>
<rect x="484.4" y="908.9" width="174.5" height="4.4" fill="#aacde2"/>
<rect x="484.4" y="912.9" width="174.5" height="4.4" fill="#99c5df"/>
<rect x="484.4" y="916.9" width="174.5" height="2.4" fill="#a4cbe1"/>
<rect x="484.4" y="918.9" width="174.5" height="3.4" fill="#a5cbe1"/>
<rect x="484.4" y="921.9" width="174.5" height="4.4" fill="#8dbddc"/>
<rect x="484.4" y="925.9" width="174.5" height="2.5" fill="#a8cce2"/>
<rect x="484.4" y="928.0" width="174.5" height="4.4" fill="#d0dae0"/>
<rect x="484.4" y="932.0" width="174.5" height="3.4" fill="#dfdbd9"/>
<rect x="484.4" y="935.0" width="174.5" height="3.4" fill="#ced9e1"/>
<rect x="484.4" y="938.0" width="174.5" height="3.1" fill="#d0dae0"/>
<rect x="484.4" y="940.7" width="174.5" height="2.9" fill="#61a0d0"/>
<rect x="484.4" y="943.2" width="174.5" height="2.9" fill="#5f9fcf"/>
<rect x="484.4" y="945.7" width="174.5" height="3.4" fill="#65a3d1"/>
<rect x="484.4" y="948.7" width="174.5" height="3.4" fill="#5598cc"/>
<rect x="484.4" y="951.7" width="174.5" height="3.7" fill="#5d9dcf"/>
<rect x="484.4" y="955.0" width="174.5" height="3.4" fill="#6ca8d4"/>
<rect x="484.4" y="958.0" width="174.5" height="3.0" fill="#67a4d2"/>
<rect x="484.4" y="960.6" width="174.5" height="3.9" fill="#8ebddc"/>
<rect x="484.4" y="964.1" width="174.5" height="4.4" fill="#89bbdb"/>
<rect x="484.4" y="968.1" width="174.5" height="2.9" fill="#85b8da"/>
<rect x="484.4" y="970.6" width="174.5" height="3.4" fill="#8abbdc"/>
<rect x="484.4" y="973.6" width="174.5" height="3.9" fill="#7fb4d9"/>
<rect x="484.4" y="977.1" width="174.5" height="2.1" fill="#7cb2d8"/>
<rect x="484.4" y="978.8" width="174.5" height="2.9" fill="#67a5d2"/>
<rect x="484.4" y="981.3" width="174.5" height="2.4" fill="#5d9dcf"/>
<rect x="484.4" y="983.3" width="174.5" height="3.4" fill="#66a4d2"/>
<rect x="484.4" y="986.3" width="174.5" height="2.7" fill="#5a9bcd"/>
<rect x="484.4" y="988.6" width="174.5" height="2.9" fill="#4d92c9"/>
<rect x="484.4" y="991.1" width="174.5" height="4.4" fill="#4a90c8"/>
<rect x="484.4" y="995.1" width="174.5" height="3.4" fill="#458ac3"/>
<rect x="484.4" y="998.1" width="174.5" height="3.9" fill="#589acd"/>
<rect x="484.4" y="1001.6" width="174.5" height="2.4" fill="#5497cc"/>
<rect x="484.4" y="1003.6" width="174.5" height="3.4" fill="#4a90c8"/>
<rect x="484.4" y="1006.6" width="174.5" height="3.4" fill="#5094ca"/>
<rect x="484.4" y="1009.6" width="174.5" height="2.4" fill="#7eb3d9"/>
<rect x="484.4" y="1011.6" width="174.5" height="3.4" fill="#85b8da"/>
<rect x="484.4" y="1014.6" width="174.5" height="4.4" fill="#92c0dd"/>
<rect x="484.4" y="1018.6" width="174.5" height="3.4" fill="#92c0dd"/>
<rect x="484.4" y="1021.6" width="174.5" height="3.9" fill="#90bfdd"/>
<rect x="484.4" y="1025.1" width="174.5" height="3.1" fill="#8fbedd"/>
<rect x="484.4" y="1027.8" width="174.5" height="3.9" fill="#bed6e4"/>
<rect x="484.4" y="1031.3" width="174.5" height="4.4" fill="#d7dbdd"/>
<rect x="484.4" y="1035.3" width="174.5" height="3.4" fill="#dbdcdb"/>
<rect x="484.4" y="1038.3" width="174.5" height="2.5" fill="#d0dae0"/>
<rect x="484.4" y="1040.4" width="174.5" height="3.9" fill="#62a1d0"/>
<rect x="484.4" y="1043.9" width="174.5" height="3.9" fill="#5195ca"/>
<rect x="484.4" y="1047.4" width="174.5" height="3.9" fill="#bbd4e4"/>
<rect x="484.4" y="1050.9" width="174.5" height="4.4" fill="#b7d2e3"/>
<rect x="484.4" y="1054.9" width="174.5" height="3.9" fill="#a2cae1"/>
<rect x="484.4" y="1058.4" width="174.5" height="2.4" fill="#b9d3e4"/>
<rect x="484.4" y="1060.4" width="174.5" height="2.8" fill="#b8d3e4"/>
<rect x="484.4" y="1062.8" width="174.5" height="2.9" fill="#f0a284"/>
<rect x="484.4" y="1065.3" width="174.5" height="4.4" fill="#ed987c"/>
<rect x="484.4" y="1069.3" width="174.5" height="2.3" fill="#f2b093"/>
<rect x="484.4" y="1071.2" width="174.5" height="3.4" fill="#f3b194"/>
<rect x="484.4" y="1074.2" width="174.5" height="3.4" fill="#f0c9b6"/>
<rect x="484.4" y="1077.2" width="174.5" height="4.4" fill="#f2c6b0"/>
<rect x="484.4" y="1081.2" width="174.5" height="2.9" fill="#f2c7b0"/>
<rect x="484.4" y="1083.7" width="174.5" height="3.9" fill="#f4bda1"/>
<rect x="484.4" y="1087.2" width="174.5" height="2.7" fill="#f2b193"/>
<rect x="484.4" y="1089.5" width="174.5" height="2.9" fill="#adcee2"/>
<rect x="484.4" y="1092.0" width="174.5" height="4.4" fill="#b9d3e4"/>
<rect x="484.4" y="1096.0" width="174.5" height="3.9" fill="#a1c9e1"/>
<rect x="484.4" y="1099.5" width="174.5" height="2.9" fill="#b3d1e3"/>
<rect x="484.4" y="1102.0" width="174.5" height="1.9" fill="#b2d1e3"/>
<rect x="484.4" y="1103.5" width="174.5" height="4.4" fill="#5f9fcf"/>
<rect x="484.4" y="1107.5" width="174.5" height="1.9" fill="#5698cc"/>
<rect x="484.4" y="1109.0" width="174.5" height="3.4" fill="#f3c6ae"/>
<rect x="484.4" y="1112.0" width="174.5" height="3.9" fill="#f0c9b7"/>
<rect x="484.4" y="1115.5" width="174.5" height="2.4" fill="#eecbbb"/>
<rect x="484.4" y="1117.5" width="174.5" height="4.4" fill="#f3c6ae"/>
<rect x="484.4" y="1121.5" width="174.5" height="1.9" fill="#f0c9b6"/>
<rect x="484.4" y="1123.0" width="174.5" height="4.4" fill="#d95c4d"/>
<rect x="484.4" y="1127.0" width="174.5" height="3.4" fill="#e3755d"/>
<rect x="484.4" y="1130.0" width="174.5" height="2.4" fill="#e3745c"/>
<rect x="484.4" y="1132.0" width="174.5" height="2.9" fill="#de6754"/>
<rect x="484.4" y="1134.5" width="174.5" height="2.9" fill="#db604f"/>
<rect x="484.4" y="1137.0" width="174.5" height="3.9" fill="#a1cae1"/>
<rect x="484.4" y="1140.5" width="174.5" height="2.9" fill="#b8d3e4"/>
<rect x="484.4" y="1143.0" width="174.5" height="3.4" fill="#a4cbe1"/>
<rect x="484.4" y="1146.0" width="174.5" height="2.7" fill="#accee2"/>
<rect x="484.4" y="1148.3" width="174.5" height="2.1" fill="#efa082"/>
<rect x="484.4" y="1150.0" width="174.5" height="4.6" fill="#f3b395"/>
<rect x="484.4" y="1154.2" width="174.5" height="4.6" fill="#dcdcdb"/>
<rect x="484.4" y="1158.4" width="174.5" height="3.4" fill="#93c0de"/>
<rect x="484.4" y="1161.4" width="174.5" height="3.9" fill="#a6cbe1"/>
<rect x="484.4" y="1164.9" width="174.5" height="2.3" fill="#a3cbe1"/>
<rect x="484.4" y="1166.8" width="174.5" height="4.4" fill="#b8d3e4"/>
<rect x="484.4" y="1170.8" width="174.5" height="4.8" fill="#bfd6e4"/>
<rect x="484.4" y="1175.2" width="174.5" height="3.4" fill="#e7846a"/>
<rect x="484.4" y="1178.2" width="174.5" height="4.4" fill="#ed967b"/>
<rect x="484.4" y="1182.2" width="174.5" height="3.4" fill="#ea8c71"/>
<rect x="484.4" y="1185.2" width="174.5" height="2.4" fill="#ec9479"/>
<rect x="484.4" y="1187.2" width="174.5" height="2.4" fill="#ec957a"/>
<rect x="484.4" y="1189.2" width="174.5" height="3.4" fill="#dfdbd9"/>
<rect x="484.4" y="1192.2" width="174.5" height="2.4" fill="#d5dbde"/>
<rect x="484.4" y="1194.2" width="174.5" height="2.4" fill="#d9dbdc"/>
<rect x="484.4" y="1196.2" width="174.5" height="3.9" fill="#f2ae90"/>
<rect x="484.4" y="1199.7" width="174.5" height="3.9" fill="#f2c7b1"/>
<rect x="484.4" y="1203.2" width="174.5" height="3.4" fill="#f5c3a8"/>
<rect x="484.4" y="1206.2" width="174.5" height="3.0" fill="#f2c7b0"/>
<rect x="484.4" y="1208.8" width="174.5" height="2.4" fill="#f1a587"/>
<rect x="484.4" y="1210.8" width="174.5" height="2.9" fill="#ed977b"/>
<rect x="484.4" y="1213.3" width="174.5" height="4.3" fill="#ed977b"/>
<rect x="484.4" y="1217.2" width="174.5" height="3.4" fill="#cedae1"/>
<rect x="484.4" y="1220.2" width="174.5" height="4.4" fill="#e5d5cd"/>
<rect x="484.4" y="1224.2" width="174.5" height="3.9" fill="#e4d6d0"/>
<rect x="484.4" y="1227.7" width="174.5" height="3.9" fill="#d3dadf"/>
<rect x="484.4" y="1231.2" width="174.5" height="2.4" fill="#b7d3e3"/>
<rect x="484.4" y="1233.2" width="174.5" height="4.0" fill="#d7dbdd"/>
<rect x="484.4" y="1236.8" width="174.5" height="3.9" fill="#eb9277"/>
<rect x="484.4" y="1240.3" width="174.5" height="3.4" fill="#ec957a"/>
<rect x="484.4" y="1243.3" width="174.5" height="2.3" fill="#eb9176"/>
<rect x="484.4" y="1245.2" width="174.5" height="4.4" fill="#7f0623"/>
<rect x="484.4" y="1249.2" width="174.5" height="2.4" fill="#780421"/>
<rect x="484.4" y="1251.2" width="174.5" height="2.8" fill="#800623"/>
<rect x="484.4" y="1253.6" width="174.5" height="3.9" fill="#d24e44"/>
<rect x="484.4" y="1257.1" width="174.5" height="2.5" fill="#d14d43"/>
<rect x="484.4" y="1259.2" width="174.5" height="2.9" fill="#e7d3ca"/>
<rect x="484.4" y="1261.7" width="174.5" height="4.4" fill="#e6d4cc"/>
<rect x="484.4" y="1265.7" width="174.5" height="2.3" fill="#ebcfc3"/>
<rect x="484.4" y="1267.6" width="174.5" height="3.4" fill="#e4775e"/>
<rect x="484.4" y="1270.6" width="174.5" height="4.4" fill="#ec967a"/>
<rect x="484.4" y="1274.6" width="174.5" height="2.9" fill="#e8d2c9"/>
<rect x="484.4" y="1277.1" width="174.5" height="2.4" fill="#efcab9"/>
<rect x="484.4" y="1279.1" width="174.5" height="2.9" fill="#f3c6ae"/>
<rect x="484.4" y="1281.6" width="174.5" height="3.4" fill="#d7584a"/>
<rect x="484.4" y="1284.6" width="174.5" height="3.4" fill="#e3745c"/>
<rect x="484.4" y="1287.6" width="174.5" height="3.4" fill="#d95d4d"/>
<rect x="484.4" y="1290.6" width="174.5" height="2.7" fill="#d65649"/>
<rect x="484.4" y="1292.9" width="174.5" height="4.4" fill="#f1a587"/>
<rect x="484.4" y="1296.9" width="174.5" height="2.0" fill="#f4b99c"/>
<rect x="484.4" y="1298.5" width="174.5" height="3.4" fill="#ea8f74"/>
<rect x="484.4" y="1301.5" width="174.5" height="3.4" fill="#ec9378"/>
<rect x="484.4" y="1304.5" width="174.5" height="4.4" fill="#ef9e81"/>
<rect x="484.4" y="1308.5" width="174.5" height="4.4" fill="#ee9b7f"/>
<rect x="484.4" y="1312.5" width="174.5" height="2.9" fill="#dc6250"/>
<rect x="484.4" y="1315.0" width="174.5" height="2.4" fill="#e3745c"/>
<rect x="484.4" y="1317.0" width="174.5" height="3.4" fill="#e3765e"/>
<rect x="484.4" y="1320.0" width="174.5" height="3.4" fill="#dd6552"/>
<rect x="484.4" y="1323.0" width="174.5" height="2.9" fill="#e57b62"/>
<rect x="484.4" y="1325.5" width="174.5" height="3.4" fill="#e4775e"/>
<rect x="484.4" y="1328.5" width="174.5" height="3.4" fill="#e9886e"/>
<rect x="484.4" y="1331.5" width="174.5" height="3.4" fill="#df6955"/>
<rect x="484.4" y="1334.5" width="174.5" height="3.6" fill="#e06c57"/>
<rect x="484.4" y="1337.7" width="174.5" height="2.4" fill="#f4c4aa"/>
<rect x="484.4" y="1339.7" width="174.5" height="4.0" fill="#f3c6ae"/>
<rect x="484.4" y="1343.3" width="174.5" height="4.4" fill="#cb423e"/>
<rect x="484.4" y="1347.3" width="174.5" height="3.4" fill="#c23438"/>
<rect x="484.4" y="1350.3" width="174.5" height="4.6" fill="#c93f3d"/>
<rect x="658.3" y="373.0" width="174.5" height="2.4" fill="#eb9177"/>
<rect x="658.3" y="375.0" width="174.5" height="3.9" fill="#ef9f81"/>
<rect x="658.3" y="378.5" width="174.5" height="1.9" fill="#e8876d"/>
<rect x="658.3" y="380.0" width="174.5" height="4.4" fill="#e0dad6"/>
<rect x="658.3" y="384.0" width="174.5" height="4.4" fill="#e2d8d3"/>
<rect x="658.3" y="388.0" width="174.5" height="3.4" fill="#dedcda"/>
<rect x="658.3" y="391.0" width="174.5" height="4.4" fill="#ee9a7e"/>
<rect x="658.3" y="395.0" width="174.5" height="2.4" fill="#d0dae0"/>
<rect x="658.3" y="397.0" width="174.5" height="4.4" fill="#d2dadf"/>
<rect x="658.3" y="401.0" width="174.5" height="3.9" fill="#abcee2"/>
<rect x="658.3" y="404.5" width="174.5" height="3.9" fill="#b7d2e3"/>
<rect x="658.3" y="408.0" width="174.5" height="3.0" fill="#c0d7e5"/>
<rect x="658.3" y="410.6" width="174.5" height="2.9" fill="#f1a98a"/>
<rect x="658.3" y="413.1" width="174.5" height="3.5" fill="#f4c4aa"/>
<rect x="658.3" y="416.2" width="174.5" height="2.4" fill="#ead0c6"/>
<rect x="658.3" y="418.2" width="174.5" height="2.9" fill="#e4d6cf"/>
<rect x="658.3" y="420.7" width="174.5" height="2.4" fill="#e1d9d4"/>
<rect x="658.3" y="422.7" width="174.5" height="3.9" fill="#dcdcdb"/>
<rect x="658.3" y="426.2" width="174.5" height="3.4" fill="#e5d5cd"/>
<rect x="658.3" y="429.2" width="174.5" height="2.4" fill="#e8d2c8"/>
<rect x="658.3" y="431.2" width="174.5" height="2.9" fill="#e2d8d4"/>
<rect x="658.3" y="433.7" width="174.5" height="2.4" fill="#dedcda"/>
<rect x="658.3" y="435.7" width="174.5" height="3.4" fill="#e2d8d4"/>
<rect x="658.3" y="438.7" width="174.5" height="4.7" fill="#e0dad7"/>
<rect x="658.3" y="443.0" width="174.5" height="4.4" fill="#f4bda2"/>
<rect x="658.3" y="447.0" width="174.5" height="3.4" fill="#accee2"/>
<rect x="658.3" y="450.0" width="174.5" height="4.4" fill="#c3d8e5"/>
<rect x="658.3" y="454.0" width="174.5" height="3.4" fill="#c3d8e5"/>
<rect x="658.3" y="457.0" width="174.5" height="3.9" fill="#e6d4cc"/>
<rect x="658.3" y="460.5" width="174.5" height="3.9" fill="#eecbbb"/>
<rect x="658.3" y="464.0" width="174.5" height="4.4" fill="#d1dadf"/>
<rect x="658.3" y="468.0" width="174.5" height="3.4" fill="#c5d8e4"/>
<rect x="658.3" y="471.0" width="174.5" height="4.4" fill="#a0c8e0"/>
<rect x="658.3" y="475.0" width="174.5" height="4.4" fill="#a3cbe1"/>
<rect x="658.3" y="479.0" width="174.5" height="2.9" fill="#b0d0e3"/>
<rect x="658.3" y="481.5" width="174.5" height="3.9" fill="#9bc6df"/>
<rect x="658.3" y="485.0" width="174.5" height="2.9" fill="#98c4df"/>
<rect x="658.3" y="487.5" width="174.5" height="3.9" fill="#a1c9e1"/>
<rect x="658.3" y="491.0" width="174.5" height="3.4" fill="#9dc7e0"/>
<rect x="658.3" y="494.0" width="174.5" height="2.9" fill="#97c3de"/>
<rect x="658.3" y="496.5" width="174.5" height="2.9" fill="#accee2"/>
<rect x="658.3" y="499.0" width="174.5" height="3.4" fill="#dedcda"/>
<rect x="658.3" y="502.0" width="174.5" height="4.4" fill="#d1dadf"/>
<rect x="658.3" y="506.0" width="174.5" height="3.4" fill="#dcdcdb"/>
<rect x="658.3" y="509.0" width="174.5" height="2.4" fill="#d9dbdc"/>
<rect x="658.3" y="511.0" width="174.5" height="2.4" fill="#d1dae0"/>
<rect x="658.3" y="513.0" width="174.5" height="4.4" fill="#f4bda1"/>
<rect x="658.3" y="517.0" width="174.5" height="3.4" fill="#f4b89c"/>
<rect x="658.3" y="520.0" width="174.5" height="3.4" fill="#f4c4aa"/>
<rect x="658.3" y="523.0" width="174.5" height="2.4" fill="#f3c6ae"/>
<rect x="658.3" y="525.0" width="174.5" height="5.4" fill="#efcbb9"/>
<rect x="658.3" y="530.0" width="174.5" height="3.9" fill="#eb9075"/>
<rect x="658.3" y="533.5" width="174.5" height="1.9" fill="#f0a183"/>
<rect x="658.3" y="535.0" width="174.5" height="2.4" fill="#f4b89c"/>
<rect x="658.3" y="537.0" width="174.5" height="3.4" fill="#f4bda1"/>
<rect x="658.3" y="540.0" width="174.5" height="4.4" fill="#f2ad8f"/>
<rect x="658.3" y="544.0" width="174.5" height="5.4" fill="#e8d2c8"/>
<rect x="658.3" y="549.0" width="174.5" height="3.9" fill="#df6a55"/>
<rect x="658.3" y="552.5" width="174.5" height="2.9" fill="#e06e58"/>
<rect x="658.3" y="555.0" width="174.5" height="3.4" fill="#ef9f81"/>
<rect x="658.3" y="558.0" width="174.5" height="2.4" fill="#ed977b"/>
<rect x="658.3" y="560.0" width="174.5" height="2.9" fill="#f2ab8d"/>
<rect x="658.3" y="562.5" width="174.5" height="2.9" fill="#ee9a7e"/>
<rect x="658.3" y="565.0" width="174.5" height="2.9" fill="#e67e65"/>
<rect x="658.3" y="567.5" width="174.5" height="2.4" fill="#ea8d72"/>
<rect x="658.3" y="569.5" width="174.5" height="2.4" fill="#e57c63"/>
<rect x="658.3" y="571.5" width="174.5" height="2.3" fill="#de6854"/>
<rect x="658.3" y="573.4" width="174.5" height="2.4" fill="#d5dbde"/>
<rect x="658.3" y="575.4" width="174.5" height="3.4" fill="#dedcd9"/>
<rect x="658.3" y="578.4" width="174.5" height="2.4" fill="#e2d8d3"/>
<rect x="658.3" y="580.4" width="174.5" height="4.4" fill="#b0d0e3"/>
<rect x="658.3" y="584.4" width="174.5" height="4.4" fill="#abcee2"/>
<rect x="658.3" y="588.4" width="174.5" height="2.2" fill="#accee2"/>
<rect x="658.3" y="590.2" width="174.5" height="3.9" fill="#d14b42"/>
<rect x="658.3" y="593.7" width="174.5" height="2.4" fill="#d95c4c"/>
<rect x="658.3" y="595.7" width="174.5" height="1.9" fill="#d8594b"/>
<rect x="658.3" y="597.2" width="174.5" height="3.9" fill="#c1d7e5"/>
<rect x="658.3" y="600.7" width="174.5" height="2.5" fill="#c5d8e5"/>
<rect x="658.3" y="602.8" width="174.5" height="4.4" fill="#5c9dce"/>
<rect x="658.3" y="606.8" width="174.5" height="2.4" fill="#599bcd"/>
<rect x="658.3" y="608.8" width="174.5" height="3.9" fill="#4f93ca"/>
<rect x="658.3" y="612.3" width="174.5" height="2.9" fill="#5195cb"/>
<rect x="658.3" y="614.8" width="174.5" height="2.9" fill="#5c9dce"/>
<rect x="658.3" y="617.3" width="174.5" height="4.1" fill="#589acd"/>
<rect x="658.3" y="621.0" width="174.5" height="3.4" fill="#cdd9e1"/>
<rect x="658.3" y="624.0" width="174.5" height="4.4" fill="#ccd9e2"/>
<rect x="658.3" y="628.0" width="174.5" height="2.9" fill="#5a9bcd"/>
<rect x="658.3" y="630.5" width="174.5" height="2.1" fill="#4c91c9"/>
<rect x="658.3" y="632.2" width="174.5" height="4.6" fill="#e6d4cb"/>
<rect x="658.3" y="636.4" width="174.5" height="3.4" fill="#5497cb"/>
<rect x="658.3" y="639.4" width="174.5" height="4.4" fill="#609fd0"/>
<rect x="658.3" y="643.4" width="174.5" height="4.4" fill="#e7d3c9"/>
<rect x="658.3" y="647.4" width="174.5" height="4.8" fill="#ead0c5"/>
<rect x="658.3" y="651.8" width="174.5" height="3.4" fill="#aacde2"/>
<rect x="658.3" y="654.8" width="174.5" height="3.4" fill="#afcfe3"/>
<rect x="658.3" y="657.8" width="174.5" height="2.8" fill="#bed5e4"/>
<rect x="658.3" y="660.2" width="174.5" height="3.9" fill="#94c1de"/>
<rect x="658.3" y="663.7" width="174.5" height="2.9" fill="#98c4df"/>
<rect x="658.3" y="666.2" width="174.5" height="3.9" fill="#8cbcdc"/>
<rect x="658.3" y="669.7" width="174.5" height="4.4" fill="#97c3de"/>
<rect x="658.3" y="673.7" width="174.5" height="3.7" fill="#90bfdd"/>
<rect x="658.3" y="677.0" width="174.5" height="2.4" fill="#c8d9e4"/>
<rect x="658.3" y="679.0" width="174.5" height="3.4" fill="#ccd9e1"/>
<rect x="658.3" y="682.0" width="174.5" height="2.9" fill="#bbd4e4"/>
<rect x="658.3" y="684.5" width="174.5" height="2.4" fill="#a5cbe1"/>
<rect x="658.3" y="686.5" width="174.5" height="2.4" fill="#ccd9e2"/>
<rect x="658.3" y="688.5" width="174.5" height="3.4" fill="#b8d3e4"/>
<rect x="658.3" y="691.5" width="174.5" height="2.4" fill="#c0d6e5"/>
<rect x="658.3" y="693.5" width="174.5" height="3.4" fill="#afcfe3"/>
<rect x="658.3" y="696.5" width="174.5" height="3.9" fill="#b4d1e3"/>
<rect x="658.3" y="700.0" width="174.5" height="3.9" fill="#afd0e3"/>
<rect x="658.3" y="703.5" width="174.5" height="1.9" fill="#b1d0e3"/>
<rect x="658.3" y="705.0" width="174.5" height="3.9" fill="#e2d8d3"/>
<rect x="658.3" y="708.5" width="174.5" height="3.9" fill="#e4d6d0"/>
<rect x="658.3" y="712.0" width="174.5" height="3.4" fill="#e4d6d0"/>
<rect x="658.3" y="715.0" width="174.5" height="3.4" fill="#d9dbdc"/>
<rect x="658.3" y="718.0" width="174.5" height="4.3" fill="#e3d7d2"/>
<rect x="658.3" y="721.9" width="174.5" height="4.4" fill="#e6d4cc"/>
<rect x="658.3" y="725.9" width="174.5" height="3.4" fill="#e8d2c8"/>
<rect x="658.3" y="728.9" width="174.5" height="4.5" fill="#e3d7d1"/>
<rect x="658.3" y="733.0" width="174.5" height="3.4" fill="#d3dade"/>
<rect x="658.3" y="736.0" width="174.5" height="3.9" fill="#c6d8e4"/>
<rect x="658.3" y="739.5" width="174.5" height="3.4" fill="#bdd5e4"/>
<rect x="658.3" y="742.5" width="174.5" height="4.9" fill="#ccd9e2"/>
<rect x="658.3" y="747.0" width="174.5" height="4.7" fill="#dc6351"/>
<rect x="658.3" y="751.3" width="174.5" height="3.4" fill="#f3b396"/>
<rect x="658.3" y="754.3" width="174.5" height="3.0" fill="#f1a586"/>
<rect x="658.3" y="756.9" width="174.5" height="3.5" fill="#c4d8e5"/>
<rect x="658.3" y="760.0" width="174.5" height="2.4" fill="#b6d2e3"/>
<rect x="658.3" y="762.0" width="174.5" height="4.4" fill="#bed6e4"/>
<rect x="658.3" y="766.0" width="174.5" height="2.8" fill="#d0dae0"/>
<rect x="658.3" y="768.4" width="174.5" height="3.9" fill="#ed987c"/>
<rect x="658.3" y="771.9" width="174.5" height="3.9" fill="#ef9f81"/>
<rect x="658.3" y="775.4" width="174.5" height="2.9" fill="#f5c0a5"/>
<rect x="658.3" y="777.9" width="174.5" height="3.4" fill="#f2c6b0"/>
<rect x="658.3" y="780.9" width="174.5" height="1.9" fill="#f4c4ab"/>
<rect x="658.3" y="782.4" width="174.5" height="3.4" fill="#79b0d8"/>
<rect x="658.3" y="785.4" width="174.5" height="3.4" fill="#73add6"/>
<rect x="658.3" y="788.4" width="174.5" height="2.9" fill="#87b9db"/>
<rect x="658.3" y="790.9" width="174.5" height="2.9" fill="#7db3d9"/>
<rect x="658.3" y="793.4" width="174.5" height="3.4" fill="#74add6"/>
<rect x="658.3" y="796.4" width="174.5" height="3.4" fill="#d7dbdd"/>
<rect x="658.3" y="799.4" width="174.5" height="2.4" fill="#d5dbde"/>
<rect x="658.3" y="801.4" width="174.5" height="3.8" fill="#d6dbde"/>
<rect x="658.3" y="804.8" width="174.5" height="2.9" fill="#ef9f82"/>
<rect x="658.3" y="807.3" width="174.5" height="2.1" fill="#f4bc9f"/>
<rect x="658.3" y="809.0" width="174.5" height="3.9" fill="#5799cd"/>
<rect x="658.3" y="812.5" width="174.5" height="3.4" fill="#5d9ecf"/>
<rect x="658.3" y="815.5" width="174.5" height="3.4" fill="#5c9dce"/>
<rect x="658.3" y="818.5" width="174.5" height="2.4" fill="#5c9dce"/>
<rect x="658.3" y="820.5" width="174.5" height="4.3" fill="#60a0d0"/>
<rect x="658.3" y="824.4" width="174.5" height="3.4" fill="#bbd4e4"/>
<rect x="658.3" y="827.4" width="174.5" height="3.9" fill="#b2d1e3"/>
<rect x="658.3" y="830.9" width="174.5" height="3.4" fill="#a2cae1"/>
<rect x="658.3" y="833.9" width="174.5" height="3.4" fill="#afd0e3"/>
<rect x="658.3" y="836.9" width="174.5" height="2.4" fill="#b9d3e4"/>
<rect x="658.3" y="838.9" width="174.5" height="3.4" fill="#afcfe3"/>
<rect x="658.3" y="841.9" width="174.5" height="3.9" fill="#a7cce2"/>
<rect x="658.3" y="845.4" width="174.5" height="2.9" fill="#c3d8e5"/>
<rect x="658.3" y="847.9" width="174.5" height="4.9" fill="#9dc7e0"/>
<rect x="658.3" y="852.4" width="174.5" height="3.4" fill="#eccec0"/>
<rect x="658.3" y="855.4" width="174.5" height="2.4" fill="#e2d8d2"/>
<rect x="658.3" y="857.4" width="174.5" height="3.8" fill="#e7d3cb"/>
<rect x="658.3" y="860.8" width="174.5" height="4.4" fill="#b1d0e3"/>
<rect x="658.3" y="864.8" width="174.5" height="3.4" fill="#a7cce2"/>
<rect x="658.3" y="867.8" width="174.5" height="4.6" fill="#e8856b"/>
<rect x="658.3" y="872.0" width="174.5" height="3.4" fill="#c0d6e5"/>
<rect x="658.3" y="875.0" width="174.5" height="3.4" fill="#aacde2"/>
<rect x="658.3" y="878.0" width="174.5" height="2.4" fill="#ccd9e1"/>
<rect x="658.3" y="880.0" width="174.5" height="2.9" fill="#bad4e4"/>
<rect x="658.3" y="882.5" width="174.5" height="2.5" fill="#b5d2e3"/>
<rect x="658.3" y="884.6" width="174.5" height="3.4" fill="#5c9dce"/>
<rect x="658.3" y="887.6" width="174.5" height="4.4" fill="#5e9ecf"/>
<rect x="658.3" y="891.6" width="174.5" height="2.9" fill="#cedae1"/>
<rect x="658.3" y="894.1" width="174.5" height="2.9" fill="#d5dbde"/>
<rect x="658.3" y="896.6" width="174.5" height="2.9" fill="#b9d3e4"/>
<rect x="658.3" y="899.1" width="174.5" height="3.4" fill="#cdd9e1"/>
<rect x="658.3" y="902.1" width="174.5" height="2.4" fill="#d0dae0"/>
<rect x="658.3" y="904.1" width="174.5" height="2.0" fill="#d9dbdc"/>
<rect x="658.3" y="905.7" width="174.5" height="3.2" fill="#6ca8d4"/>
<rect x="658.3" y="908.5" width="174.5" height="4.4" fill="#b8d3e4"/>
<rect x="658.3" y="912.5" width="174.5" height="3.4" fill="#adcee2"/>
<rect x="658.3" y="915.5" width="174.5" height="2.4" fill="#b3d1e3"/>
<rect x="658.3" y="917.5" width="174.5" height="3.4" fill="#b0d0e3"/>
<rect x="658.3" y="920.5" width="174.5" height="2.4" fill="#a5cbe1"/>
<rect x="658.3" y="922.5" width="174.5" height="4.4" fill="#a1c9e1"/>
<rect x="658.3" y="926.5" width="174.5" height="2.9" fill="#a3cae1"/>
<rect x="658.3" y="929.0" width="174.5" height="2.9" fill="#95c2de"/>
<rect x="658.3" y="931.5" width="174.5" height="2.6" fill="#adcee2"/>
<rect x="658.3" y="933.7" width="174.5" height="3.4" fill="#7fb4d9"/>
<rect x="658.3" y="936.7" width="174.5" height="4.4" fill="#8cbcdc"/>
<rect x="658.3" y="940.7" width="174.5" height="4.6" fill="#7eb3d9"/>
<rect x="658.3" y="944.9" width="174.5" height="2.9" fill="#69a5d3"/>
<rect x="658.3" y="947.4" width="174.5" height="3.4" fill="#68a5d2"/>
<rect x="658.3" y="950.4" width="174.5" height="5.0" fill="#6faad5"/>
<rect x="658.3" y="955.0" width="174.5" height="4.4" fill="#83b7da"/>
<rect x="658.3" y="959.0" width="174.5" height="2.4" fill="#83b7da"/>
<rect x="658.3" y="961.0" width="174.5" height="2.4" fill="#87b9db"/>
<rect x="658.3" y="963.0" width="174.5" height="3.4" fill="#7ab1d8"/>
<rect x="658.3" y="966.0" width="174.5" height="3.9" fill="#82b6da"/>
<rect x="658.3" y="969.5" width="174.5" height="2.9" fill="#74aed7"/>
<rect x="658.3" y="972.0" width="174.5" height="3.9" fill="#8fbedd"/>
<rect x="658.3" y="975.5" width="174.5" height="3.7" fill="#71abd6"/>
<rect x="658.3" y="978.8" width="174.5" height="3.4" fill="#5295cb"/>
<rect x="658.3" y="981.8" width="174.5" height="4.4" fill="#5c9dce"/>
<rect x="658.3" y="985.8" width="174.5" height="3.4" fill="#5295cb"/>
<rect x="658.3" y="988.8" width="174.5" height="3.4" fill="#5e9ecf"/>
<rect x="658.3" y="991.8" width="174.5" height="2.8" fill="#5094ca"/>
<rect x="658.3" y="994.2" width="174.5" height="2.9" fill="#599acd"/>
<rect x="658.3" y="996.7" width="174.5" height="3.9" fill="#63a2d1"/>
<rect x="658.3" y="1000.2" width="174.5" height="3.4" fill="#5497cb"/>
<rect x="658.3" y="1003.2" width="174.5" height="4.4" fill="#5b9cce"/>
<rect x="658.3" y="1007.2" width="174.5" height="4.2" fill="#5296cb"/>
<rect x="658.3" y="1011.0" width="174.5" height="2.9" fill="#a0c9e0"/>
<rect x="658.3" y="1013.5" width="174.5" height="4.4" fill="#a0c9e0"/>
<rect x="658.3" y="1017.5" width="174.5" height="2.3" fill="#99c5df"/>
<rect x="658.3" y="1019.4" width="174.5" height="2.4" fill="#aacde2"/>
<rect x="658.3" y="1021.4" width="174.5" height="3.4" fill="#8cbddc"/>
<rect x="658.3" y="1024.4" width="174.5" height="2.9" fill="#95c2de"/>
<rect x="658.3" y="1026.9" width="174.5" height="3.4" fill="#9ec7e0"/>
<rect x="658.3" y="1029.9" width="174.5" height="4.4" fill="#98c4df"/>
<rect x="658.3" y="1033.9" width="174.5" height="2.7" fill="#8ebedd"/>
<rect x="658.3" y="1036.2" width="174.5" height="2.9" fill="#a8cde2"/>
<rect x="658.3" y="1038.7" width="174.5" height="2.4" fill="#aecfe2"/>
<rect x="658.3" y="1040.7" width="174.5" height="2.4" fill="#bbd4e4"/>
<rect x="658.3" y="1042.7" width="174.5" height="2.9" fill="#95c2de"/>
<rect x="658.3" y="1045.2" width="174.5" height="2.4" fill="#aacde2"/>
<rect x="658.3" y="1047.2" width="174.5" height="3.4" fill="#97c3df"/>
<rect x="658.3" y="1050.2" width="174.5" height="3.2" fill="#9bc5df"/>
<rect x="658.3" y="1053.0" width="174.5" height="3.4" fill="#cdd9e1"/>
<rect x="658.3" y="1056.0" width="174.5" height="4.4" fill="#cedae1"/>
<rect x="658.3" y="1060.0" width="174.5" height="4.4" fill="#f3b89b"/>
<rect x="658.3" y="1064.0" width="174.5" height="2.0" fill="#f1a587"/>
<rect x="658.3" y="1065.6" width="174.5" height="3.4" fill="#b1d0e3"/>
<rect x="658.3" y="1068.6" width="174.5" height="3.4" fill="#8ebedc"/>
<rect x="658.3" y="1071.6" width="174.5" height="4.2" fill="#a8cce2"/>
<rect x="658.3" y="1075.4" width="174.5" height="2.9" fill="#e6d4cc"/>
<rect x="658.3" y="1077.9" width="174.5" height="3.4" fill="#eccec1"/>
<rect x="658.3" y="1080.9" width="174.5" height="3.4" fill="#edcdbf"/>
<rect x="658.3" y="1083.9" width="174.5" height="3.1" fill="#e9d1c7"/>
<rect x="658.3" y="1086.6" width="174.5" height="2.4" fill="#9bc6df"/>
<rect x="658.3" y="1088.6" width="174.5" height="3.4" fill="#93c1de"/>
<rect x="658.3" y="1091.6" width="174.5" height="2.5" fill="#96c3de"/>
<rect x="658.3" y="1093.7" width="174.5" height="3.4" fill="#b2d0e3"/>
<rect x="658.3" y="1096.7" width="174.5" height="3.4" fill="#bcd5e4"/>
<rect x="658.3" y="1099.7" width="174.5" height="2.9" fill="#adcee2"/>
<rect x="658.3" y="1102.2" width="174.5" height="2.4" fill="#bad4e4"/>
<rect x="658.3" y="1104.2" width="174.5" height="2.9" fill="#c9d9e3"/>
<rect x="658.3" y="1106.7" width="174.5" height="3.4" fill="#bdd5e4"/>
<rect x="658.3" y="1109.7" width="174.5" height="2.6" fill="#bad4e4"/>
<rect x="658.3" y="1111.9" width="174.5" height="3.4" fill="#f3c6ae"/>
<rect x="658.3" y="1114.9" width="174.5" height="2.9" fill="#f4c4aa"/>
<rect x="658.3" y="1117.4" width="174.5" height="3.4" fill="#f2c7b1"/>
<rect x="658.3" y="1120.4" width="174.5" height="4.5" fill="#f5c3a8"/>
<rect x="658.3" y="1124.5" width="174.5" height="3.9" fill="#dd6552"/>
<rect x="658.3" y="1128.0" width="174.5" height="3.4" fill="#e06d57"/>
<rect x="658.3" y="1131.0" width="174.5" height="3.9" fill="#de6955"/>
<rect x="658.3" y="1134.5" width="174.5" height="2.9" fill="#dc6351"/>
<rect x="658.3" y="1137.0" width="174.5" height="2.9" fill="#bcd5e4"/>
<rect x="658.3" y="1139.5" width="174.5" height="3.4" fill="#d5dbde"/>
<rect x="658.3" y="1142.5" width="174.5" height="4.8" fill="#a6cce1"/>
<rect x="658.3" y="1146.9" width="174.5" height="3.5" fill="#b11a2e"/>
<rect x="658.3" y="1150.0" width="174.5" height="2.9" fill="#da5d4d"/>
<rect x="658.3" y="1152.5" width="174.5" height="2.1" fill="#dcdcdb"/>
<rect x="658.3" y="1154.2" width="174.5" height="4.4" fill="#d7dbdd"/>
<rect x="658.3" y="1158.2" width="174.5" height="3.4" fill="#dadbdc"/>
<rect x="658.3" y="1161.2" width="174.5" height="4.6" fill="#ed967a"/>
<rect x="658.3" y="1165.4" width="174.5" height="3.4" fill="#890a25"/>
<rect x="658.3" y="1168.4" width="174.5" height="2.9" fill="#900d27"/>
<rect x="658.3" y="1170.9" width="174.5" height="1.9" fill="#930e28"/>
<rect x="658.3" y="1172.4" width="174.5" height="3.9" fill="#bed5e4"/>
<rect x="658.3" y="1175.9" width="174.5" height="3.4" fill="#c6d8e4"/>
<rect x="658.3" y="1178.9" width="174.5" height="4.4" fill="#aacde2"/>
<rect x="658.3" y="1182.9" width="174.5" height="3.9" fill="#accee2"/>
<rect x="658.3" y="1186.4" width="174.5" height="4.4" fill="#c83d3c"/>
<rect x="658.3" y="1190.4" width="174.5" height="2.4" fill="#c83d3c"/>
<rect x="658.3" y="1192.4" width="174.5" height="2.8" fill="#d24d43"/>
<rect x="658.3" y="1194.8" width="174.5" height="3.4" fill="#f3c5ad"/>
<rect x="658.3" y="1197.8" width="174.5" height="2.4" fill="#f1a788"/>
<rect x="658.3" y="1199.8" width="174.5" height="2.4" fill="#f1c8b3"/>
<rect x="658.3" y="1201.8" width="174.5" height="3.4" fill="#f2c6b0"/>
<rect x="658.3" y="1204.8" width="174.5" height="4.4" fill="#f0c9b6"/>
<rect x="658.3" y="1208.8" width="174.5" height="3.4" fill="#f4b99d"/>
<rect x="658.3" y="1211.8" width="174.5" height="4.4" fill="#f1c8b2"/>
<rect x="658.3" y="1215.8" width="174.5" height="3.4" fill="#f1c8b4"/>
<rect x="658.3" y="1218.8" width="174.5" height="2.4" fill="#f4bfa3"/>
<rect x="658.3" y="1220.8" width="174.5" height="2.4" fill="#f2c7b1"/>
<rect x="658.3" y="1222.8" width="174.5" height="3.4" fill="#f0c9b5"/>
<rect x="658.3" y="1225.8" width="174.5" height="2.9" fill="#f3b497"/>
<rect x="658.3" y="1228.3" width="174.5" height="3.3" fill="#f3c5ad"/>
<rect x="658.3" y="1231.2" width="174.5" height="4.4" fill="#e4775e"/>
<rect x="658.3" y="1235.2" width="174.5" height="2.9" fill="#de6955"/>
<rect x="658.3" y="1237.7" width="174.5" height="2.3" fill="#de6753"/>
<rect x="658.3" y="1239.6" width="174.5" height="3.4" fill="#ced9e1"/>
<rect x="658.3" y="1242.6" width="174.5" height="3.0" fill="#dadbdc"/>
<rect x="658.3" y="1245.2" width="174.5" height="3.4" fill="#a1c9e1"/>
<rect x="658.3" y="1248.2" width="174.5" height="3.4" fill="#adcfe2"/>
<rect x="658.3" y="1251.2" width="174.5" height="3.9" fill="#b9d3e4"/>
<rect x="658.3" y="1254.7" width="174.5" height="2.4" fill="#9cc7e0"/>
<rect x="658.3" y="1256.7" width="174.5" height="2.9" fill="#a4cbe1"/>
<rect x="658.3" y="1259.2" width="174.5" height="3.2" fill="#c0d6e5"/>
<rect x="658.3" y="1262.0" width="174.5" height="3.9" fill="#ed967b"/>
<rect x="658.3" y="1265.5" width="174.5" height="2.9" fill="#ef9f82"/>
<rect x="658.3" y="1268.0" width="174.5" height="3.4" fill="#f2ac8e"/>
<rect x="658.3" y="1271.0" width="174.5" height="2.6" fill="#ed987c"/>
<rect x="658.3" y="1273.2" width="174.5" height="3.4" fill="#c93f3c"/>
<rect x="658.3" y="1276.2" width="174.5" height="3.4" fill="#cc443e"/>
<rect x="658.3" y="1279.2" width="174.5" height="2.8" fill="#ce463f"/>
<rect x="658.3" y="1281.6" width="174.5" height="2.4" fill="#e06e58"/>
<rect x="658.3" y="1283.6" width="174.5" height="2.9" fill="#dd6451"/>
<rect x="658.3" y="1286.1" width="174.5" height="4.4" fill="#e1705a"/>
<rect x="658.3" y="1290.1" width="174.5" height="2.4" fill="#da5e4e"/>
<rect x="658.3" y="1292.1" width="174.5" height="3.4" fill="#d45347"/>
<rect x="658.3" y="1295.1" width="174.5" height="3.8" fill="#df6a55"/>
<rect x="658.3" y="1298.5" width="174.5" height="3.9" fill="#ee9b7e"/>
<rect x="658.3" y="1302.0" width="174.5" height="2.4" fill="#e8856b"/>
<rect x="658.3" y="1304.0" width="174.5" height="4.4" fill="#e8866c"/>
<rect x="658.3" y="1308.0" width="174.5" height="3.4" fill="#ee9c7f"/>
<rect x="658.3" y="1311.0" width="174.5" height="3.4" fill="#ea8f74"/>
<rect x="658.3" y="1314.0" width="174.5" height="3.9" fill="#eb9277"/>
<rect x="658.3" y="1317.5" width="174.5" height="3.9" fill="#e7836a"/>
<rect x="658.3" y="1321.0" width="174.5" height="2.4" fill="#ed967b"/>
<rect x="658.3" y="1323.0" width="174.5" height="4.4" fill="#ec9479"/>
<rect x="658.3" y="1327.0" width="174.5" height="3.4" fill="#ef9e81"/>
<rect x="658.3" y="1330.0" width="174.5" height="3.9" fill="#ea8f74"/>
<rect x="658.3" y="1333.5" width="174.5" height="2.4" fill="#ea8e73"/>
<rect x="658.3" y="1335.5" width="174.5" height="3.4" fill="#ed967a"/>
<rect x="658.3" y="1338.5" width="174.5" height="3.4" fill="#e68066"/>
<rect x="658.3" y="1341.5" width="174.5" height="3.4" fill="#ec9579"/>
<rect x="658.3" y="1344.5" width="174.5" height="1.9" fill="#ed967b"/>
<rect x="658.3" y="1346.0" width="174.5" height="4.7" fill="#91bfdd"/>
<rect x="658.3" y="1350.3" width="174.5" height="2.4" fill="#e3755d"/>
<rect x="658.3" y="1352.3" width="174.5" height="2.6" fill="#e57d63"/>
<rect x="832.2" y="373.0" width="174.5" height="2.4" fill="#f5c0a5"/>
<rect x="832.2" y="375.0" width="174.5" height="4.4" fill="#f1a586"/>
<rect x="832.2" y="379.0" width="174.5" height="2.9" fill="#f3b598"/>
<rect x="832.2" y="381.5" width="174.5" height="4.3" fill="#efcab8"/>
<rect x="832.2" y="385.4" width="174.5" height="3.4" fill="#e06c57"/>
<rect x="832.2" y="388.4" width="174.5" height="2.4" fill="#e16f59"/>
<rect x="832.2" y="390.4" width="174.5" height="3.8" fill="#e3765d"/>
<rect x="832.2" y="393.8" width="174.5" height="3.2" fill="#efcbb9"/>
<rect x="832.2" y="396.6" width="174.5" height="3.4" fill="#c8d9e3"/>
<rect x="832.2" y="399.6" width="174.5" height="3.0" fill="#c9d9e3"/>
<rect x="832.2" y="402.2" width="174.5" height="2.9" fill="#f5c0a5"/>
<rect x="832.2" y="404.7" width="174.5" height="3.5" fill="#ef9d80"/>
<rect x="832.2" y="407.8" width="174.5" height="2.4" fill="#eecbbb"/>
<rect x="832.2" y="409.8" width="174.5" height="4.0" fill="#edccbc"/>
<rect x="832.2" y="413.4" width="174.5" height="2.9" fill="#db604f"/>
<rect x="832.2" y="415.9" width="174.5" height="2.4" fill="#dd6653"/>
<rect x="832.2" y="417.9" width="174.5" height="3.9" fill="#de6754"/>
<rect x="832.2" y="421.4" width="174.5" height="2.2" fill="#df6b56"/>
<rect x="832.2" y="423.2" width="174.5" height="3.4" fill="#e67e65"/>
<rect x="832.2" y="426.2" width="174.5" height="4.4" fill="#e47960"/>
<rect x="832.2" y="430.2" width="174.5" height="2.9" fill="#e06d57"/>
<rect x="832.2" y="432.7" width="174.5" height="2.9" fill="#e2735c"/>
<rect x="832.2" y="435.2" width="174.5" height="3.9" fill="#e67f66"/>
<rect x="832.2" y="438.7" width="174.5" height="4.5" fill="#dc6351"/>
<rect x="832.2" y="442.8" width="174.5" height="3.4" fill="#e8856b"/>
<rect x="832.2" y="445.8" width="174.5" height="4.4" fill="#ea8c71"/>
<rect x="832.2" y="449.8" width="174.5" height="2.9" fill="#dd6653"/>
<rect x="832.2" y="452.3" width="174.5" height="3.5" fill="#da5f4e"/>
<rect x="832.2" y="455.4" width="174.5" height="2.9" fill="#ead0c5"/>
<rect x="832.2" y="457.9" width="174.5" height="3.4" fill="#f1c8b4"/>
<rect x="832.2" y="460.9" width="174.5" height="2.4" fill="#f4b99d"/>
<rect x="832.2" y="462.9" width="174.5" height="4.1" fill="#f0c9b6"/>
<rect x="832.2" y="466.6" width="174.5" height="3.4" fill="#ef9e81"/>
<rect x="832.2" y="469.6" width="174.5" height="3.0" fill="#efa082"/>
<rect x="832.2" y="472.2" width="174.5" height="2.9" fill="#dc6150"/>
<rect x="832.2" y="474.7" width="174.5" height="3.9" fill="#de6854"/>
<rect x="832.2" y="478.2" width="174.5" height="3.4" fill="#d8594b"/>
<rect x="832.2" y="481.2" width="174.5" height="3.4" fill="#db604f"/>
<rect x="832.2" y="484.2" width="174.5" height="3.4" fill="#df6955"/>
<rect x="832.2" y="487.2" width="174.5" height="2.9" fill="#de6854"/>
<rect x="832.2" y="489.7" width="174.5" height="2.4" fill="#d35045"/>
<rect x="832.2" y="491.7" width="174.5" height="4.4" fill="#dc6250"/>
<rect x="832.2" y="495.7" width="174.5" height="5.0" fill="#de6754"/>
<rect x="832.2" y="500.3" width="174.5" height="4.6" fill="#edccbc"/>
<rect x="832.2" y="504.5" width="174.5" height="2.9" fill="#f3b598"/>
<rect x="832.2" y="507.0" width="174.5" height="3.4" fill="#f3b194"/>
<rect x="832.2" y="510.0" width="174.5" height="1.9" fill="#f4bca0"/>
<rect x="832.2" y="511.5" width="174.5" height="3.4" fill="#ea8f74"/>
<rect x="832.2" y="514.5" width="174.5" height="2.9" fill="#ee9c7f"/>
<rect x="832.2" y="517.0" width="174.5" height="3.4" fill="#ee9c7f"/>
<rect x="832.2" y="520.0" width="174.5" height="3.9" fill="#ee9d80"/>
<rect x="832.2" y="523.5" width="174.5" height="3.9" fill="#f0a183"/>
<rect x="832.2" y="527.0" width="174.5" height="3.1" fill="#ef9f81"/>
<rect x="832.2" y="529.7" width="174.5" height="3.4" fill="#f0a183"/>
<rect x="832.2" y="532.7" width="174.5" height="2.4" fill="#f5c3a8"/>
<rect x="832.2" y="534.7" width="174.5" height="3.4" fill="#f3c5ad"/>
<rect x="832.2" y="537.7" width="174.5" height="3.6" fill="#f3b79a"/>
<rect x="832.2" y="540.9" width="174.5" height="2.9" fill="#e4775f"/>
<rect x="832.2" y="543.4" width="174.5" height="3.4" fill="#e98b70"/>
<rect x="832.2" y="546.4" width="174.5" height="3.3" fill="#ea8c72"/>
<rect x="832.2" y="549.3" width="174.5" height="3.4" fill="#f0c9b5"/>
<rect x="832.2" y="552.3" width="174.5" height="3.4" fill="#f2c6af"/>
<rect x="832.2" y="555.3" width="174.5" height="3.4" fill="#f5c3a9"/>
<rect x="832.2" y="558.3" width="174.5" height="3.9" fill="#f5c4a9"/>
<rect x="832.2" y="561.8" width="174.5" height="1.9" fill="#f3b496"/>
<rect x="832.2" y="563.3" width="174.5" height="2.1" fill="#c8d9e3"/>
<rect x="832.2" y="565.0" width="174.5" height="3.4" fill="#cad9e2"/>
<rect x="832.2" y="568.0" width="174.5" height="2.4" fill="#d3dade"/>
<rect x="832.2" y="570.0" width="174.5" height="3.8" fill="#d9dbdc"/>
<rect x="832.2" y="573.4" width="174.5" height="3.4" fill="#dc6250"/>
<rect x="832.2" y="576.4" width="174.5" height="3.0" fill="#dc6351"/>
<rect x="832.2" y="579.0" width="174.5" height="3.4" fill="#7f0623"/>
<rect x="832.2" y="582.0" width="174.5" height="2.4" fill="#880925"/>
<rect x="832.2" y="584.0" width="174.5" height="3.4" fill="#960f28"/>
<rect x="832.2" y="587.0" width="174.5" height="3.6" fill="#880a25"/>
<rect x="832.2" y="590.2" width="174.5" height="2.4" fill="#ef9f82"/>
<rect x="832.2" y="592.2" width="174.5" height="3.4" fill="#ed977b"/>
<rect x="832.2" y="595.2" width="174.5" height="2.4" fill="#ec9277"/>
<rect x="832.2" y="597.2" width="174.5" height="3.2" fill="#eeccbc"/>
<rect x="832.2" y="600.0" width="174.5" height="2.9" fill="#ea8c72"/>
<rect x="832.2" y="602.5" width="174.5" height="2.4" fill="#e57c63"/>
<rect x="832.2" y="604.5" width="174.5" height="2.9" fill="#e9896f"/>
<rect x="832.2" y="607.0" width="174.5" height="4.4" fill="#ea8f74"/>
<rect x="832.2" y="611.0" width="174.5" height="2.4" fill="#e98a70"/>
<rect x="832.2" y="613.0" width="174.5" height="2.4" fill="#e4775e"/>
<rect x="832.2" y="615.0" width="174.5" height="5.0" fill="#e9896f"/>
<rect x="832.2" y="619.6" width="174.5" height="2.9" fill="#ea8e73"/>
<rect x="832.2" y="622.1" width="174.5" height="3.4" fill="#e67f66"/>
<rect x="832.2" y="625.1" width="174.5" height="3.4" fill="#e4775e"/>
<rect x="832.2" y="628.1" width="174.5" height="3.1" fill="#e98b70"/>
<rect x="832.2" y="630.8" width="174.5" height="4.6" fill="#f3b497"/>
<rect x="832.2" y="635.0" width="174.5" height="4.4" fill="#e1705a"/>
<rect x="832.2" y="639.0" width="174.5" height="2.0" fill="#e57b62"/>
<rect x="832.2" y="640.6" width="174.5" height="4.6" fill="#dcdcdb"/>
<rect x="832.2" y="644.8" width="174.5" height="4.4" fill="#67a5d2"/>
<rect x="832.2" y="648.8" width="174.5" height="3.4" fill="#5598cc"/>
<rect x="832.2" y="651.8" width="174.5" height="3.4" fill="#b1d0e3"/>
<rect x="832.2" y="654.8" width="174.5" height="3.4" fill="#b3d1e3"/>
<rect x="832.2" y="657.8" width="174.5" height="2.4" fill="#bdd5e4"/>
<rect x="832.2" y="659.8" width="174.5" height="3.9" fill="#bbd4e4"/>
<rect x="832.2" y="663.3" width="174.5" height="3.9" fill="#c7d8e4"/>
<rect x="832.2" y="666.8" width="174.5" height="2.4" fill="#b0d0e3"/>
<rect x="832.2" y="668.8" width="174.5" height="2.0" fill="#c3d8e5"/>
<rect x="832.2" y="670.4" width="174.5" height="2.4" fill="#c4d8e5"/>
<rect x="832.2" y="672.4" width="174.5" height="3.9" fill="#c5d8e5"/>
<rect x="832.2" y="675.9" width="174.5" height="3.9" fill="#d0dae0"/>
<rect x="832.2" y="679.4" width="174.5" height="3.6" fill="#c0d6e5"/>
<rect x="832.2" y="682.6" width="174.5" height="2.9" fill="#a2cae1"/>
<rect x="832.2" y="685.1" width="174.5" height="2.9" fill="#8ebedd"/>
<rect x="832.2" y="687.6" width="174.5" height="3.8" fill="#92c0dd"/>
<rect x="832.2" y="691.0" width="174.5" height="3.9" fill="#c5d8e5"/>
<rect x="832.2" y="694.5" width="174.5" height="3.9" fill="#d2dadf"/>
<rect x="832.2" y="698.0" width="174.5" height="2.9" fill="#68a5d3"/>
<rect x="832.2" y="700.5" width="174.5" height="3.9" fill="#63a1d1"/>
<rect x="832.2" y="704.0" width="174.5" height="2.9" fill="#6da9d4"/>
<rect x="832.2" y="706.5" width="174.5" height="2.9" fill="#6faad5"/>
<rect x="832.2" y="709.0" width="174.5" height="3.4" fill="#5598cc"/>
<rect x="832.2" y="712.0" width="174.5" height="4.4" fill="#5799cc"/>
<rect x="832.2" y="716.0" width="174.5" height="2.4" fill="#65a3d1"/>
<rect x="832.2" y="718.0" width="174.5" height="2.9" fill="#67a4d2"/>
<rect x="832.2" y="720.5" width="174.5" height="2.4" fill="#65a3d1"/>
<rect x="832.2" y="722.5" width="174.5" height="2.9" fill="#589acd"/>
<rect x="832.2" y="725.0" width="174.5" height="2.9" fill="#64a2d1"/>
<rect x="832.2" y="727.5" width="174.5" height="2.4" fill="#72acd6"/>
<rect x="832.2" y="729.5" width="174.5" height="3.4" fill="#6ba7d3"/>
<rect x="832.2" y="732.5" width="174.5" height="4.4" fill="#8cbcdc"/>
<rect x="832.2" y="736.5" width="174.5" height="2.6" fill="#6ca8d4"/>
<rect x="832.2" y="738.7" width="174.5" height="2.9" fill="#a9cde2"/>
<rect x="832.2" y="741.2" width="174.5" height="3.4" fill="#93c1de"/>
<rect x="832.2" y="744.2" width="174.5" height="3.4" fill="#9ec8e0"/>
<rect x="832.2" y="747.2" width="174.5" height="3.1" fill="#a9cde2"/>
<rect x="832.2" y="749.9" width="174.5" height="3.9" fill="#488dc6"/>
<rect x="832.2" y="753.4" width="174.5" height="3.9" fill="#4488c2"/>
<rect x="832.2" y="756.9" width="174.5" height="3.5" fill="#bed5e4"/>
<rect x="832.2" y="760.0" width="174.5" height="3.4" fill="#a6cce2"/>
<rect x="832.2" y="763.0" width="174.5" height="3.0" fill="#a6cce2"/>
<rect x="832.2" y="765.6" width="174.5" height="3.4" fill="#d3dade"/>
<rect x="832.2" y="768.6" width="174.5" height="4.4" fill="#d6dbdd"/>
<rect x="832.2" y="772.6" width="174.5" height="3.4" fill="#9bc6df"/>
<rect x="832.2" y="775.6" width="174.5" height="3.4" fill="#accee2"/>
<rect x="832.2" y="778.6" width="174.5" height="2.8" fill="#b9d3e4"/>
<rect x="832.2" y="781.0" width="174.5" height="2.4" fill="#f2ab8d"/>
<rect x="832.2" y="783.0" width="174.5" height="2.9" fill="#f4c4ab"/>
<rect x="832.2" y="785.5" width="174.5" height="2.9" fill="#f3b89b"/>
<rect x="832.2" y="788.0" width="174.5" height="2.9" fill="#b0d0e3"/>
<rect x="832.2" y="790.5" width="174.5" height="2.4" fill="#a7cce2"/>
<rect x="832.2" y="792.5" width="174.5" height="3.4" fill="#a5cbe1"/>
<rect x="832.2" y="795.5" width="174.5" height="3.9" fill="#ccd9e2"/>
<rect x="832.2" y="799.0" width="174.5" height="2.0" fill="#a5cbe1"/>
<rect x="832.2" y="800.6" width="174.5" height="3.4" fill="#c1d7e5"/>
<rect x="832.2" y="803.6" width="174.5" height="3.4" fill="#bfd6e4"/>
<rect x="832.2" y="806.6" width="174.5" height="2.8" fill="#c1d7e5"/>
<rect x="832.2" y="809.0" width="174.5" height="3.9" fill="#f3c5ad"/>
<rect x="832.2" y="812.5" width="174.5" height="3.9" fill="#f4ba9d"/>
<rect x="832.2" y="816.0" width="174.5" height="4.4" fill="#cedae1"/>
<rect x="832.2" y="820.0" width="174.5" height="4.8" fill="#d8dbdd"/>
<rect x="832.2" y="824.4" width="174.5" height="3.9" fill="#b5d2e3"/>
<rect x="832.2" y="827.9" width="174.5" height="2.4" fill="#b0d0e3"/>
<rect x="832.2" y="829.9" width="174.5" height="3.9" fill="#aecfe2"/>
<rect x="832.2" y="833.4" width="174.5" height="2.4" fill="#a2cae1"/>
<rect x="832.2" y="835.4" width="174.5" height="2.9" fill="#adcfe2"/>
<rect x="832.2" y="837.9" width="174.5" height="3.4" fill="#b7d3e3"/>
<rect x="832.2" y="840.9" width="174.5" height="3.5" fill="#b5d2e3"/>
<rect x="832.2" y="844.0" width="174.5" height="3.4" fill="#ccd9e1"/>
<rect x="832.2" y="847.0" width="174.5" height="3.0" fill="#d1dadf"/>
<rect x="832.2" y="849.6" width="174.5" height="2.9" fill="#81b5d9"/>
<rect x="832.2" y="852.1" width="174.5" height="3.4" fill="#81b5d9"/>
<rect x="832.2" y="855.1" width="174.5" height="2.9" fill="#8dbddc"/>
<rect x="832.2" y="857.6" width="174.5" height="3.4" fill="#83b7da"/>
<rect x="832.2" y="860.6" width="174.5" height="3.4" fill="#82b6da"/>
<rect x="832.2" y="863.6" width="174.5" height="2.4" fill="#82b6da"/>
<rect x="832.2" y="865.6" width="174.5" height="4.0" fill="#88badb"/>
<rect x="832.2" y="869.2" width="174.5" height="4.6" fill="#5d9dcf"/>
<rect x="832.2" y="873.4" width="174.5" height="4.4" fill="#d2dadf"/>
<rect x="832.2" y="877.4" width="174.5" height="2.0" fill="#d2dadf"/>
<rect x="832.2" y="879.0" width="174.5" height="4.4" fill="#f3c5ad"/>
<rect x="832.2" y="883.0" width="174.5" height="3.4" fill="#efcbba"/>
<rect x="832.2" y="886.0" width="174.5" height="2.4" fill="#f4bea3"/>
<rect x="832.2" y="888.0" width="174.5" height="2.7" fill="#f4c4aa"/>
<rect x="832.2" y="890.3" width="174.5" height="2.9" fill="#97c3de"/>
<rect x="832.2" y="892.8" width="174.5" height="3.4" fill="#a3cae1"/>
<rect x="832.2" y="895.8" width="174.5" height="2.4" fill="#92c0dd"/>
<rect x="832.2" y="897.8" width="174.5" height="2.6" fill="#9bc5df"/>
<rect x="832.2" y="900.0" width="174.5" height="2.4" fill="#d0dae0"/>
<rect x="832.2" y="902.0" width="174.5" height="2.4" fill="#cbd9e2"/>
<rect x="832.2" y="904.0" width="174.5" height="3.9" fill="#c1d7e5"/>
<rect x="832.2" y="907.5" width="174.5" height="5.6" fill="#c7d8e4"/>
<rect x="832.2" y="912.7" width="174.5" height="3.4" fill="#a1c9e1"/>
<rect x="832.2" y="915.7" width="174.5" height="4.4" fill="#accee2"/>
<rect x="832.2" y="919.7" width="174.5" height="2.9" fill="#99c5df"/>
<rect x="832.2" y="922.2" width="174.5" height="2.4" fill="#92c0dd"/>
<rect x="832.2" y="924.2" width="174.5" height="2.4" fill="#a4cbe1"/>
<rect x="832.2" y="926.2" width="174.5" height="2.2" fill="#a6cce1"/>
<rect x="832.2" y="928.0" width="174.5" height="2.4" fill="#86b9db"/>
<rect x="832.2" y="930.0" width="174.5" height="3.4" fill="#95c2de"/>
<rect x="832.2" y="933.0" width="174.5" height="4.4" fill="#8cbcdc"/>
<rect x="832.2" y="937.0" width="174.5" height="4.1" fill="#7fb4d9"/>
<rect x="832.2" y="940.7" width="174.5" height="3.4" fill="#f5c2a7"/>
<rect x="832.2" y="943.7" width="174.5" height="4.4" fill="#f5c2a6"/>
<rect x="832.2" y="947.7" width="174.5" height="4.4" fill="#e0dad7"/>
<rect x="832.2" y="951.7" width="174.5" height="3.7" fill="#e2d8d3"/>
<rect x="832.2" y="955.0" width="174.5" height="2.4" fill="#c4d8e5"/>
<rect x="832.2" y="957.0" width="174.5" height="4.0" fill="#d1dae0"/>
<rect x="832.2" y="960.6" width="174.5" height="3.4" fill="#a3cae1"/>
<rect x="832.2" y="963.6" width="174.5" height="3.0" fill="#b9d4e4"/>
<rect x="832.2" y="966.2" width="174.5" height="3.4" fill="#cfdae1"/>
<rect x="832.2" y="969.2" width="174.5" height="3.9" fill="#d3dadf"/>
<rect x="832.2" y="972.7" width="174.5" height="2.3" fill="#d5dbde"/>
<rect x="832.2" y="974.6" width="174.5" height="2.9" fill="#e9d1c7"/>
<rect x="832.2" y="977.1" width="174.5" height="3.4" fill="#f5c3a9"/>
<rect x="832.2" y="980.1" width="174.5" height="1.9" fill="#f2c6af"/>
<rect x="832.2" y="981.6" width="174.5" height="3.4" fill="#bbd4e4"/>
<rect x="832.2" y="984.6" width="174.5" height="3.0" fill="#c2d7e5"/>
<rect x="832.2" y="987.2" width="174.5" height="3.4" fill="#e2d8d3"/>
<rect x="832.2" y="990.2" width="174.5" height="2.4" fill="#e8d2c8"/>
<rect x="832.2" y="992.2" width="174.5" height="2.9" fill="#e4d6cf"/>
<rect x="832.2" y="994.7" width="174.5" height="5.5" fill="#e9d1c6"/>
<rect x="832.2" y="999.8" width="174.5" height="2.4" fill="#f0a485"/>
<rect x="832.2" y="1001.8" width="174.5" height="3.9" fill="#f4bca0"/>
<rect x="832.2" y="1005.3" width="174.5" height="4.7" fill="#f3b497"/>
<rect x="832.2" y="1009.6" width="174.5" height="3.2" fill="#e2735b"/>
<rect x="832.2" y="1012.4" width="174.5" height="2.9" fill="#e9d1c7"/>
<rect x="832.2" y="1014.9" width="174.5" height="3.9" fill="#ead0c5"/>
<rect x="832.2" y="1018.4" width="174.5" height="2.8" fill="#e9d1c6"/>
<rect x="832.2" y="1020.8" width="174.5" height="2.4" fill="#e67d64"/>
<rect x="832.2" y="1022.8" width="174.5" height="4.0" fill="#e9896f"/>
<rect x="832.2" y="1026.4" width="174.5" height="3.9" fill="#d35045"/>
<rect x="832.2" y="1029.9" width="174.5" height="3.4" fill="#cb433e"/>
<rect x="832.2" y="1032.9" width="174.5" height="3.7" fill="#cb423e"/>
<rect x="832.2" y="1036.2" width="174.5" height="2.9" fill="#e9d1c6"/>
<rect x="832.2" y="1038.7" width="174.5" height="2.1" fill="#f2c6af"/>
<rect x="832.2" y="1040.4" width="174.5" height="4.6" fill="#e8856b"/>
<rect x="832.2" y="1044.6" width="174.5" height="3.9" fill="#e2725b"/>
<rect x="832.2" y="1048.1" width="174.5" height="3.9" fill="#df6a56"/>
<rect x="832.2" y="1051.6" width="174.5" height="3.9" fill="#d1dadf"/>
<rect x="832.2" y="1055.1" width="174.5" height="3.4" fill="#dcdcdb"/>
<rect x="832.2" y="1058.1" width="174.5" height="3.7" fill="#c1d7e5"/>
<rect x="832.2" y="1061.4" width="174.5" height="4.4" fill="#8abbdb"/>
<rect x="832.2" y="1065.4" width="174.5" height="3.4" fill="#76aed7"/>
<rect x="832.2" y="1068.4" width="174.5" height="3.4" fill="#b0d0e3"/>
<rect x="832.2" y="1071.4" width="174.5" height="2.4" fill="#bed6e4"/>
<rect x="832.2" y="1073.4" width="174.5" height="5.2" fill="#c1d7e5"/>
<rect x="832.2" y="1078.2" width="174.5" height="3.4" fill="#d0dae0"/>
<rect x="832.2" y="1081.2" width="174.5" height="4.4" fill="#cdd9e1"/>
<rect x="832.2" y="1085.2" width="174.5" height="2.9" fill="#cbd9e2"/>
<rect x="832.2" y="1087.7" width="174.5" height="2.4" fill="#cfdae0"/>
<rect x="832.2" y="1089.7" width="174.5" height="3.4" fill="#d1dae0"/>
<rect x="832.2" y="1092.7" width="174.5" height="2.7" fill="#b3d1e3"/>
<rect x="832.2" y="1095.0" width="174.5" height="3.4" fill="#afcfe3"/>
<rect x="832.2" y="1098.0" width="174.5" height="2.9" fill="#b7d3e3"/>
<rect x="832.2" y="1100.5" width="174.5" height="3.4" fill="#b5d2e3"/>
<rect x="832.2" y="1103.5" width="174.5" height="2.9" fill="#e4785f"/>
<rect x="832.2" y="1106.0" width="174.5" height="2.1" fill="#e78369"/>
<rect x="832.2" y="1107.7" width="174.5" height="3.9" fill="#eccec0"/>
<rect x="832.2" y="1111.2" width="174.5" height="4.4" fill="#f2c7b1"/>
<rect x="832.2" y="1115.2" width="174.5" height="2.7" fill="#f3c6ae"/>
<rect x="832.2" y="1117.5" width="174.5" height="4.4" fill="#a4cbe1"/>
<rect x="832.2" y="1121.5" width="174.5" height="1.9" fill="#9bc5df"/>
<rect x="832.2" y="1123.0" width="174.5" height="4.4" fill="#a0c9e1"/>
<rect x="832.2" y="1127.0" width="174.5" height="4.4" fill="#bcd5e4"/>
<rect x="832.2" y="1131.0" width="174.5" height="3.9" fill="#abcee2"/>
<rect x="832.2" y="1134.5" width="174.5" height="2.9" fill="#c1d7e5"/>
<rect x="832.2" y="1137.0" width="174.5" height="2.4" fill="#b3d1e3"/>
<rect x="832.2" y="1139.0" width="174.5" height="4.1" fill="#abcee2"/>
<rect x="832.2" y="1142.7" width="174.5" height="4.6" fill="#f2ab8d"/>
<rect x="832.2" y="1146.9" width="174.5" height="3.5" fill="#aecfe2"/>
<rect x="832.2" y="1150.0" width="174.5" height="3.9" fill="#aacde2"/>
<rect x="832.2" y="1153.5" width="174.5" height="3.4" fill="#a0c9e1"/>
<rect x="832.2" y="1156.5" width="174.5" height="2.3" fill="#9ec8e0"/>
<rect x="832.2" y="1158.4" width="174.5" height="4.4" fill="#f2ae90"/>
<rect x="832.2" y="1162.4" width="174.5" height="3.4" fill="#f3b193"/>
<rect x="832.2" y="1165.4" width="174.5" height="3.9" fill="#c9d9e3"/>
<rect x="832.2" y="1168.9" width="174.5" height="2.9" fill="#d4dade"/>
<rect x="832.2" y="1171.4" width="174.5" height="4.2" fill="#c6d8e4"/>
<rect x="832.2" y="1175.2" width="174.5" height="3.9" fill="#68a5d2"/>
<rect x="832.2" y="1178.7" width="174.5" height="2.5" fill="#63a2d1"/>
<rect x="832.2" y="1180.8" width="174.5" height="2.4" fill="#98c4df"/>
<rect x="832.2" y="1182.8" width="174.5" height="3.4" fill="#a0c9e1"/>
<rect x="832.2" y="1185.8" width="174.5" height="2.9" fill="#a6cce1"/>
<rect x="832.2" y="1188.3" width="174.5" height="4.1" fill="#9fc8e0"/>
<rect x="832.2" y="1192.0" width="174.5" height="3.4" fill="#f5c2a6"/>
<rect x="832.2" y="1195.0" width="174.5" height="3.0" fill="#f3b396"/>
<rect x="832.2" y="1197.6" width="174.5" height="3.9" fill="#68a5d2"/>
<rect x="832.2" y="1201.1" width="174.5" height="2.4" fill="#4f94ca"/>
<rect x="832.2" y="1203.1" width="174.5" height="2.9" fill="#5b9cce"/>
<rect x="832.2" y="1205.6" width="174.5" height="2.9" fill="#5296cb"/>
<rect x="832.2" y="1208.1" width="174.5" height="4.4" fill="#5598cc"/>
<rect x="832.2" y="1212.1" width="174.5" height="3.9" fill="#5b9cce"/>
<rect x="832.2" y="1215.6" width="174.5" height="2.9" fill="#63a1d1"/>
<rect x="832.2" y="1218.1" width="174.5" height="2.4" fill="#478dc5"/>
<rect x="832.2" y="1220.1" width="174.5" height="3.9" fill="#4a90c8"/>
<rect x="832.2" y="1223.6" width="174.5" height="5.2" fill="#5799cc"/>
<rect x="832.2" y="1228.4" width="174.5" height="3.9" fill="#71abd6"/>
<rect x="832.2" y="1231.9" width="174.5" height="2.9" fill="#72acd6"/>
<rect x="832.2" y="1234.4" width="174.5" height="2.8" fill="#7cb2d8"/>
<rect x="832.2" y="1236.8" width="174.5" height="2.4" fill="#f3b79a"/>
<rect x="832.2" y="1238.8" width="174.5" height="2.4" fill="#ef9d80"/>
<rect x="832.2" y="1240.8" width="174.5" height="2.0" fill="#ef9f82"/>
<rect x="832.2" y="1242.4" width="174.5" height="3.4" fill="#c8d9e3"/>
<rect x="832.2" y="1245.4" width="174.5" height="4.4" fill="#b8d3e4"/>
<rect x="832.2" y="1249.4" width="174.5" height="3.9" fill="#efcbb9"/>
<rect x="832.2" y="1252.9" width="174.5" height="2.5" fill="#f3c6ae"/>
<rect x="832.2" y="1255.0" width="174.5" height="2.4" fill="#bdd5e4"/>
<rect x="832.2" y="1257.0" width="174.5" height="2.9" fill="#b9d3e4"/>
<rect x="832.2" y="1259.5" width="174.5" height="3.4" fill="#bfd6e4"/>
<rect x="832.2" y="1262.5" width="174.5" height="3.4" fill="#aecfe2"/>
<rect x="832.2" y="1265.5" width="174.5" height="2.5" fill="#b7d3e4"/>
<rect x="832.2" y="1267.6" width="174.5" height="2.9" fill="#f4c4ab"/>
<rect x="832.2" y="1270.1" width="174.5" height="3.4" fill="#f4bca0"/>
<rect x="832.2" y="1273.1" width="174.5" height="4.4" fill="#f4c4aa"/>
<rect x="832.2" y="1277.1" width="174.5" height="2.1" fill="#f0c9b6"/>
<rect x="832.2" y="1278.8" width="174.5" height="4.4" fill="#a1c9e1"/>
<rect x="832.2" y="1282.8" width="174.5" height="2.9" fill="#aecfe2"/>
<rect x="832.2" y="1285.3" width="174.5" height="2.9" fill="#9dc7e0"/>
<rect x="832.2" y="1287.8" width="174.5" height="2.9" fill="#a5cbe1"/>
<rect x="832.2" y="1290.3" width="174.5" height="2.9" fill="#afcfe3"/>
<rect x="832.2" y="1292.8" width="174.5" height="4.6" fill="#a9cde2"/>
<rect x="832.2" y="1297.0" width="174.5" height="3.9" fill="#62a1d0"/>
<rect x="832.2" y="1300.5" width="174.5" height="3.4" fill="#4d92c9"/>
<rect x="832.2" y="1303.5" width="174.5" height="3.9" fill="#5094ca"/>
<rect x="832.2" y="1307.0" width="174.5" height="2.4" fill="#599acd"/>
<rect x="832.2" y="1309.0" width="174.5" height="3.4" fill="#5c9dce"/>
<rect x="832.2" y="1312.0" width="174.5" height="2.3" fill="#4f94ca"/>
<rect x="832.2" y="1313.9" width="174.5" height="4.4" fill="#94c1de"/>
<rect x="832.2" y="1317.9" width="174.5" height="2.4" fill="#88badb"/>
<rect x="832.2" y="1319.9" width="174.5" height="2.4" fill="#78b0d7"/>
<rect x="832.2" y="1321.9" width="174.5" height="4.4" fill="#86b8db"/>
<rect x="832.2" y="1325.9" width="174.5" height="2.9" fill="#7db3d9"/>
<rect x="832.2" y="1328.4" width="174.5" height="2.4" fill="#6ba7d4"/>
<rect x="832.2" y="1330.4" width="174.5" height="3.5" fill="#96c2de"/>
<rect x="832.2" y="1333.5" width="174.5" height="4.4" fill="#478dc5"/>
<rect x="832.2" y="1337.5" width="174.5" height="2.0" fill="#61a0d0"/>
<rect x="832.2" y="1339.1" width="174.5" height="2.9" fill="#e2d8d3"/>
<rect x="832.2" y="1341.6" width="174.5" height="2.9" fill="#ead0c4"/>
<rect x="832.2" y="1344.1" width="174.5" height="2.3" fill="#ead0c5"/>
<rect x="832.2" y="1346.0" width="174.5" height="3.4" fill="#b3d1e3"/>
<rect x="832.2" y="1349.0" width="174.5" height="3.9" fill="#a2cae1"/>
<rect x="832.2" y="1352.5" width="174.5" height="2.4" fill="#a8cce2"/>
<rect x="1006.1" y="373.0" width="174.5" height="2.4" fill="#f4c4aa"/>
<rect x="1006.1" y="375.0" width="174.5" height="2.4" fill="#f4c5ac"/>
<rect x="1006.1" y="377.0" width="174.5" height="4.6" fill="#f5c3a8"/>
<rect x="1006.1" y="381.2" width="174.5" height="3.2" fill="#ee9a7e"/>
<rect x="1006.1" y="384.0" width="174.5" height="2.9" fill="#e9d1c6"/>
<rect x="1006.1" y="386.5" width="174.5" height="3.4" fill="#d7dbdd"/>
<rect x="1006.1" y="389.5" width="174.5" height="3.4" fill="#e3d7d1"/>
<rect x="1006.1" y="392.5" width="174.5" height="3.1" fill="#e3d7d0"/>
<rect x="1006.1" y="395.2" width="174.5" height="4.6" fill="#ce463f"/>
<rect x="1006.1" y="399.4" width="174.5" height="2.9" fill="#e57b62"/>
<rect x="1006.1" y="401.9" width="174.5" height="4.9" fill="#e78369"/>
<rect x="1006.1" y="406.4" width="174.5" height="4.4" fill="#d7584a"/>
<rect x="1006.1" y="410.4" width="174.5" height="3.4" fill="#d24d43"/>
<rect x="1006.1" y="413.4" width="174.5" height="2.4" fill="#f4bfa3"/>
<rect x="1006.1" y="415.4" width="174.5" height="4.0" fill="#f2af92"/>
<rect x="1006.1" y="419.0" width="174.5" height="2.9" fill="#e2715a"/>
<rect x="1006.1" y="421.5" width="174.5" height="4.9" fill="#e8856b"/>
<rect x="1006.1" y="426.0" width="174.5" height="3.4" fill="#e06d57"/>
<rect x="1006.1" y="429.0" width="174.5" height="3.4" fill="#e06d58"/>
<rect x="1006.1" y="432.0" width="174.5" height="3.9" fill="#df6b56"/>
<rect x="1006.1" y="435.5" width="174.5" height="2.1" fill="#e57c63"/>
<rect x="1006.1" y="437.2" width="174.5" height="3.9" fill="#ea8d72"/>
<rect x="1006.1" y="440.7" width="174.5" height="3.9" fill="#e7846a"/>
<rect x="1006.1" y="444.2" width="174.5" height="2.9" fill="#dc6351"/>
<rect x="1006.1" y="446.7" width="174.5" height="2.4" fill="#d8594b"/>
<rect x="1006.1" y="448.7" width="174.5" height="5.7" fill="#da5d4d"/>
<rect x="1006.1" y="454.0" width="174.5" height="3.9" fill="#cb423e"/>
<rect x="1006.1" y="457.5" width="174.5" height="4.4" fill="#c23438"/>
<rect x="1006.1" y="461.5" width="174.5" height="4.1" fill="#cc433e"/>
<rect x="1006.1" y="465.2" width="174.5" height="3.9" fill="#f3b89b"/>
<rect x="1006.1" y="468.7" width="174.5" height="3.9" fill="#eeccbc"/>
<rect x="1006.1" y="472.2" width="174.5" height="3.4" fill="#d14d43"/>
<rect x="1006.1" y="475.2" width="174.5" height="3.4" fill="#dd6552"/>
<rect x="1006.1" y="478.2" width="174.5" height="3.4" fill="#df6955"/>
<rect x="1006.1" y="481.2" width="174.5" height="4.4" fill="#d8594b"/>
<rect x="1006.1" y="485.2" width="174.5" height="3.4" fill="#de6854"/>
<rect x="1006.1" y="488.2" width="174.5" height="3.9" fill="#dd6552"/>
<rect x="1006.1" y="491.7" width="174.5" height="2.9" fill="#df6955"/>
<rect x="1006.1" y="494.2" width="174.5" height="3.4" fill="#df6b56"/>
<rect x="1006.1" y="497.2" width="174.5" height="2.4" fill="#e2715b"/>
<rect x="1006.1" y="499.2" width="174.5" height="2.8" fill="#de6854"/>
<rect x="1006.1" y="501.6" width="174.5" height="3.4" fill="#cbd9e2"/>
<rect x="1006.1" y="504.6" width="174.5" height="3.9" fill="#b1d0e3"/>
<rect x="1006.1" y="508.1" width="174.5" height="2.3" fill="#adcfe2"/>
<rect x="1006.1" y="510.0" width="174.5" height="3.4" fill="#e5d5cd"/>
<rect x="1006.1" y="513.0" width="174.5" height="2.4" fill="#e2d8d3"/>
<rect x="1006.1" y="515.0" width="174.5" height="2.4" fill="#e1d9d4"/>
<rect x="1006.1" y="517.0" width="174.5" height="3.4" fill="#ec9479"/>
<rect x="1006.1" y="520.0" width="174.5" height="4.4" fill="#f2ad90"/>
<rect x="1006.1" y="524.0" width="174.5" height="3.4" fill="#ee9d80"/>
<rect x="1006.1" y="527.0" width="174.5" height="2.9" fill="#f2ac8e"/>
<rect x="1006.1" y="529.5" width="174.5" height="3.4" fill="#eb9176"/>
<rect x="1006.1" y="532.5" width="174.5" height="3.9" fill="#f1c8b3"/>
<rect x="1006.1" y="536.0" width="174.5" height="3.4" fill="#f4b99d"/>
<rect x="1006.1" y="539.0" width="174.5" height="3.7" fill="#f1c8b3"/>
<rect x="1006.1" y="542.3" width="174.5" height="2.9" fill="#d95c4c"/>
<rect x="1006.1" y="544.8" width="174.5" height="4.9" fill="#d95d4d"/>
<rect x="1006.1" y="549.3" width="174.5" height="4.4" fill="#f1c8b4"/>
<rect x="1006.1" y="553.3" width="174.5" height="2.9" fill="#efcbb9"/>
<rect x="1006.1" y="555.8" width="174.5" height="3.4" fill="#f4c4aa"/>
<rect x="1006.1" y="558.8" width="174.5" height="2.9" fill="#f4bea2"/>
<rect x="1006.1" y="561.3" width="174.5" height="2.4" fill="#f2c7b0"/>
<rect x="1006.1" y="563.3" width="174.5" height="2.1" fill="#dedcd9"/>
<rect x="1006.1" y="565.0" width="174.5" height="3.4" fill="#eecbba"/>
<rect x="1006.1" y="568.0" width="174.5" height="3.4" fill="#e7d3ca"/>
<rect x="1006.1" y="571.0" width="174.5" height="2.8" fill="#e7d3cb"/>
<rect x="1006.1" y="573.4" width="174.5" height="3.4" fill="#e0dad7"/>
<rect x="1006.1" y="576.4" width="174.5" height="4.4" fill="#e2d8d3"/>
<rect x="1006.1" y="580.4" width="174.5" height="3.9" fill="#dedcda"/>
<rect x="1006.1" y="583.9" width="174.5" height="3.9" fill="#dbdcdb"/>
<rect x="1006.1" y="587.4" width="174.5" height="3.4" fill="#adcee2"/>
<rect x="1006.1" y="590.4" width="174.5" height="3.0" fill="#c1d7e5"/>
<rect x="1006.1" y="593.0" width="174.5" height="3.9" fill="#dd6653"/>
<rect x="1006.1" y="596.5" width="174.5" height="3.9" fill="#db614f"/>
<rect x="1006.1" y="600.0" width="174.5" height="4.4" fill="#ec9479"/>
<rect x="1006.1" y="604.0" width="174.5" height="2.4" fill="#e78168"/>
<rect x="1006.1" y="606.0" width="174.5" height="3.4" fill="#e8876d"/>
<rect x="1006.1" y="609.0" width="174.5" height="3.4" fill="#e7846a"/>
<rect x="1006.1" y="612.0" width="174.5" height="2.4" fill="#e78167"/>
<rect x="1006.1" y="614.0" width="174.5" height="2.4" fill="#e16f59"/>
<rect x="1006.1" y="616.0" width="174.5" height="3.4" fill="#e67d64"/>
<rect x="1006.1" y="619.0" width="174.5" height="2.4" fill="#e3745c"/>
<rect x="1006.1" y="621.0" width="174.5" height="3.4" fill="#e8866c"/>
<rect x="1006.1" y="624.0" width="174.5" height="2.4" fill="#e68066"/>
<rect x="1006.1" y="626.0" width="174.5" height="3.4" fill="#e67f65"/>
<rect x="1006.1" y="629.0" width="174.5" height="3.6" fill="#e9896e"/>
<rect x="1006.1" y="632.2" width="174.5" height="4.4" fill="#e67e64"/>
<rect x="1006.1" y="636.2" width="174.5" height="2.9" fill="#e2745c"/>
<rect x="1006.1" y="638.7" width="174.5" height="2.3" fill="#e17059"/>
<rect x="1006.1" y="640.6" width="174.5" height="3.4" fill="#77afd7"/>
<rect x="1006.1" y="643.6" width="174.5" height="4.4" fill="#72acd6"/>
<rect x="1006.1" y="647.6" width="174.5" height="4.6" fill="#5f9fcf"/>
<rect x="1006.1" y="651.8" width="174.5" height="4.4" fill="#7ab1d8"/>
<rect x="1006.1" y="655.8" width="174.5" height="2.0" fill="#84b7da"/>
<rect x="1006.1" y="657.4" width="174.5" height="2.4" fill="#b7d3e3"/>
<rect x="1006.1" y="659.4" width="174.5" height="2.9" fill="#a9cde2"/>
<rect x="1006.1" y="661.9" width="174.5" height="2.4" fill="#b5d2e3"/>
<rect x="1006.1" y="663.9" width="174.5" height="3.9" fill="#b2d0e3"/>
<rect x="1006.1" y="667.4" width="174.5" height="4.4" fill="#a7cce2"/>
<rect x="1006.1" y="671.4" width="174.5" height="3.9" fill="#c5d8e5"/>
<rect x="1006.1" y="674.9" width="174.5" height="2.5" fill="#c9d9e3"/>
<rect x="1006.1" y="677.0" width="174.5" height="4.4" fill="#87b9db"/>
<rect x="1006.1" y="681.0" width="174.5" height="2.4" fill="#9ac5df"/>
<rect x="1006.1" y="683.0" width="174.5" height="3.4" fill="#93c0dd"/>
<rect x="1006.1" y="686.0" width="174.5" height="3.4" fill="#9ac5df"/>
<rect x="1006.1" y="689.0" width="174.5" height="2.9" fill="#8dbddc"/>
<rect x="1006.1" y="691.5" width="174.5" height="3.9" fill="#8dbddc"/>
<rect x="1006.1" y="695.0" width="174.5" height="4.9" fill="#83b7da"/>
<rect x="1006.1" y="699.5" width="174.5" height="3.9" fill="#5d9ecf"/>
<rect x="1006.1" y="703.0" width="174.5" height="4.4" fill="#5a9bce"/>
<rect x="1006.1" y="707.0" width="174.5" height="2.4" fill="#5e9ecf"/>
<rect x="1006.1" y="709.0" width="174.5" height="3.4" fill="#6aa6d3"/>
<rect x="1006.1" y="712.0" width="174.5" height="2.4" fill="#5396cb"/>
<rect x="1006.1" y="714.0" width="174.5" height="4.4" fill="#5d9dcf"/>
<rect x="1006.1" y="718.0" width="174.5" height="3.4" fill="#68a5d3"/>
<rect x="1006.1" y="721.0" width="174.5" height="2.4" fill="#74add6"/>
<rect x="1006.1" y="723.0" width="174.5" height="2.4" fill="#6ea9d4"/>
<rect x="1006.1" y="725.0" width="174.5" height="2.9" fill="#5f9fcf"/>
<rect x="1006.1" y="727.5" width="174.5" height="2.9" fill="#5d9ecf"/>
<rect x="1006.1" y="730.0" width="174.5" height="4.4" fill="#599bcd"/>
<rect x="1006.1" y="734.0" width="174.5" height="2.9" fill="#5e9ecf"/>
<rect x="1006.1" y="736.5" width="174.5" height="3.4" fill="#65a3d2"/>
<rect x="1006.1" y="739.5" width="174.5" height="5.2" fill="#6ba7d4"/>
<rect x="1006.1" y="744.3" width="174.5" height="4.4" fill="#b8d3e4"/>
<rect x="1006.1" y="748.3" width="174.5" height="2.4" fill="#9bc6df"/>
<rect x="1006.1" y="750.3" width="174.5" height="2.4" fill="#c1d7e5"/>
<rect x="1006.1" y="752.3" width="174.5" height="3.6" fill="#99c4df"/>
<rect x="1006.1" y="755.5" width="174.5" height="3.4" fill="#c9d9e3"/>
<rect x="1006.1" y="758.5" width="174.5" height="1.9" fill="#cdd9e1"/>
<rect x="1006.1" y="760.0" width="174.5" height="3.4" fill="#c8d9e3"/>
<rect x="1006.1" y="763.0" width="174.5" height="2.9" fill="#c6d8e4"/>
<rect x="1006.1" y="765.5" width="174.5" height="3.3" fill="#cedae1"/>
<rect x="1006.1" y="768.4" width="174.5" height="2.4" fill="#accee2"/>
<rect x="1006.1" y="770.4" width="174.5" height="4.0" fill="#98c4df"/>
<rect x="1006.1" y="774.0" width="174.5" height="4.4" fill="#67a4d2"/>
<rect x="1006.1" y="778.0" width="174.5" height="2.0" fill="#6da8d4"/>
<rect x="1006.1" y="779.6" width="174.5" height="3.4" fill="#bfd6e4"/>
<rect x="1006.1" y="782.6" width="174.5" height="2.4" fill="#c8d9e3"/>
<rect x="1006.1" y="784.6" width="174.5" height="2.4" fill="#c8d9e4"/>
<rect x="1006.1" y="786.6" width="174.5" height="3.9" fill="#f2b092"/>
<rect x="1006.1" y="790.1" width="174.5" height="2.5" fill="#f5bfa4"/>
<rect x="1006.1" y="792.2" width="174.5" height="2.9" fill="#ead0c4"/>
<rect x="1006.1" y="794.7" width="174.5" height="3.4" fill="#eccdc0"/>
<rect x="1006.1" y="797.7" width="174.5" height="1.9" fill="#ead0c4"/>
<rect x="1006.1" y="799.2" width="174.5" height="3.4" fill="#a6cce1"/>
<rect x="1006.1" y="802.2" width="174.5" height="5.8" fill="#b5d2e3"/>
<rect x="1006.1" y="807.6" width="174.5" height="3.9" fill="#f5c3a9"/>
<rect x="1006.1" y="811.1" width="174.5" height="2.5" fill="#ead0c5"/>
<rect x="1006.1" y="813.2" width="174.5" height="4.6" fill="#8fbedd"/>
<rect x="1006.1" y="817.4" width="174.5" height="2.4" fill="#d2dadf"/>
<rect x="1006.1" y="819.4" width="174.5" height="3.9" fill="#dbdcdb"/>
<rect x="1006.1" y="822.9" width="174.5" height="1.9" fill="#d9dbdc"/>
<rect x="1006.1" y="824.4" width="174.5" height="3.9" fill="#a6cbe1"/>
<rect x="1006.1" y="827.9" width="174.5" height="3.4" fill="#a9cde2"/>
<rect x="1006.1" y="830.9" width="174.5" height="3.7" fill="#88badb"/>
<rect x="1006.1" y="834.2" width="174.5" height="3.4" fill="#c5d8e4"/>
<rect x="1006.1" y="837.2" width="174.5" height="4.4" fill="#d2dadf"/>
<rect x="1006.1" y="841.2" width="174.5" height="2.4" fill="#95c2de"/>
<rect x="1006.1" y="843.2" width="174.5" height="3.4" fill="#afcfe3"/>
<rect x="1006.1" y="846.2" width="174.5" height="2.9" fill="#90bfdd"/>
<rect x="1006.1" y="848.7" width="174.5" height="3.4" fill="#96c3de"/>
<rect x="1006.1" y="851.7" width="174.5" height="2.4" fill="#91c0dd"/>
<rect x="1006.1" y="853.7" width="174.5" height="2.4" fill="#92c0dd"/>
<rect x="1006.1" y="855.7" width="174.5" height="3.4" fill="#a4cbe1"/>
<rect x="1006.1" y="858.7" width="174.5" height="2.5" fill="#a0c9e1"/>
<rect x="1006.1" y="860.8" width="174.5" height="4.4" fill="#f5c3a8"/>
<rect x="1006.1" y="864.8" width="174.5" height="2.9" fill="#f1c8b4"/>
<rect x="1006.1" y="867.3" width="174.5" height="4.4" fill="#f3b699"/>
<rect x="1006.1" y="871.3" width="174.5" height="2.5" fill="#f4c5ac"/>
<rect x="1006.1" y="873.4" width="174.5" height="4.6" fill="#dd6451"/>
<rect x="1006.1" y="877.6" width="174.5" height="2.9" fill="#b9d4e4"/>
<rect x="1006.1" y="880.1" width="174.5" height="3.4" fill="#c7d8e4"/>
<rect x="1006.1" y="883.1" width="174.5" height="2.4" fill="#a9cde2"/>
<rect x="1006.1" y="885.1" width="174.5" height="4.2" fill="#c6d8e4"/>
<rect x="1006.1" y="888.9" width="174.5" height="3.4" fill="#9dc7e0"/>
<rect x="1006.1" y="891.9" width="174.5" height="2.9" fill="#9dc7e0"/>
<rect x="1006.1" y="894.4" width="174.5" height="3.3" fill="#94c1de"/>
<rect x="1006.1" y="897.3" width="174.5" height="3.4" fill="#67a4d2"/>
<rect x="1006.1" y="900.3" width="174.5" height="5.8" fill="#6ba7d4"/>
<rect x="1006.1" y="905.7" width="174.5" height="2.9" fill="#a9cde2"/>
<rect x="1006.1" y="908.2" width="174.5" height="4.4" fill="#97c3df"/>
<rect x="1006.1" y="912.2" width="174.5" height="3.4" fill="#a1cae1"/>
<rect x="1006.1" y="915.2" width="174.5" height="2.9" fill="#a1c9e1"/>
<rect x="1006.1" y="917.7" width="174.5" height="4.4" fill="#b8d3e4"/>
<rect x="1006.1" y="921.7" width="174.5" height="3.4" fill="#98c4df"/>
<rect x="1006.1" y="924.7" width="174.5" height="3.7" fill="#a6cce1"/>
<rect x="1006.1" y="928.0" width="174.5" height="2.9" fill="#a3cae1"/>
<rect x="1006.1" y="930.5" width="174.5" height="3.9" fill="#b0d0e3"/>
<rect x="1006.1" y="934.0" width="174.5" height="2.4" fill="#a4cbe1"/>
<rect x="1006.1" y="936.0" width="174.5" height="3.7" fill="#b3d1e3"/>
<rect x="1006.1" y="939.3" width="174.5" height="3.4" fill="#ead0c4"/>
<rect x="1006.1" y="942.3" width="174.5" height="3.0" fill="#e5d5cd"/>
<rect x="1006.1" y="944.9" width="174.5" height="3.4" fill="#c0d6e4"/>
<rect x="1006.1" y="947.9" width="174.5" height="3.9" fill="#bad4e4"/>
<rect x="1006.1" y="951.4" width="174.5" height="4.0" fill="#cad9e2"/>
<rect x="1006.1" y="955.0" width="174.5" height="2.9" fill="#d4dbde"/>
<rect x="1006.1" y="957.5" width="174.5" height="3.4" fill="#d8dbdd"/>
<rect x="1006.1" y="960.5" width="174.5" height="3.3" fill="#e0dad7"/>
<rect x="1006.1" y="963.4" width="174.5" height="4.4" fill="#c1d7e5"/>
<rect x="1006.1" y="967.4" width="174.5" height="2.9" fill="#b3d1e3"/>
<rect x="1006.1" y="969.9" width="174.5" height="4.4" fill="#aecfe2"/>
<rect x="1006.1" y="973.9" width="174.5" height="2.5" fill="#c3d8e5"/>
<rect x="1006.1" y="976.0" width="174.5" height="4.6" fill="#adcfe2"/>
<rect x="1006.1" y="980.2" width="174.5" height="3.9" fill="#edcdbe"/>
<rect x="1006.1" y="983.7" width="174.5" height="4.4" fill="#ebcfc4"/>
<rect x="1006.1" y="987.7" width="174.5" height="3.4" fill="#f4c4aa"/>
<rect x="1006.1" y="990.7" width="174.5" height="3.9" fill="#f0c9b6"/>
<rect x="1006.1" y="994.2" width="174.5" height="3.2" fill="#ec9479"/>
<rect x="1006.1" y="997.0" width="174.5" height="3.4" fill="#f1c8b4"/>
<rect x="1006.1" y="1000.0" width="174.5" height="5.8" fill="#f1a586"/>
<rect x="1006.1" y="1005.4" width="174.5" height="4.6" fill="#e8856b"/>
<rect x="1006.1" y="1009.6" width="174.5" height="2.9" fill="#e6d4cd"/>
<rect x="1006.1" y="1012.1" width="174.5" height="4.4" fill="#dfdbd8"/>
<rect x="1006.1" y="1016.1" width="174.5" height="5.1" fill="#e7d3ca"/>
<rect x="1006.1" y="1020.8" width="174.5" height="4.6" fill="#ee9a7e"/>
<rect x="1006.1" y="1025.0" width="174.5" height="3.9" fill="#d85b4c"/>
<rect x="1006.1" y="1028.5" width="174.5" height="3.9" fill="#cf4840"/>
<rect x="1006.1" y="1032.0" width="174.5" height="3.9" fill="#e1d9d5"/>
<rect x="1006.1" y="1035.5" width="174.5" height="3.4" fill="#bdd5e4"/>
<rect x="1006.1" y="1038.5" width="174.5" height="2.9" fill="#d0dae0"/>
<rect x="1006.1" y="1041.0" width="174.5" height="4.0" fill="#d1dae0"/>
<rect x="1006.1" y="1044.6" width="174.5" height="2.4" fill="#f0a284"/>
<rect x="1006.1" y="1046.6" width="174.5" height="2.6" fill="#f3b497"/>
<rect x="1006.1" y="1048.8" width="174.5" height="3.4" fill="#b9d3e4"/>
<rect x="1006.1" y="1051.8" width="174.5" height="3.4" fill="#cad9e3"/>
<rect x="1006.1" y="1054.8" width="174.5" height="3.4" fill="#cedae1"/>
<rect x="1006.1" y="1057.8" width="174.5" height="4.4" fill="#a9cde2"/>
<rect x="1006.1" y="1061.8" width="174.5" height="3.4" fill="#c5d8e4"/>
<rect x="1006.1" y="1064.8" width="174.5" height="4.4" fill="#cbd9e2"/>
<rect x="1006.1" y="1068.8" width="174.5" height="3.4" fill="#cdd9e1"/>
<rect x="1006.1" y="1071.8" width="174.5" height="3.4" fill="#9fc8e0"/>
<rect x="1006.1" y="1074.8" width="174.5" height="3.8" fill="#bdd5e4"/>
<rect x="1006.1" y="1078.2" width="174.5" height="2.4" fill="#e7836a"/>
<rect x="1006.1" y="1080.2" width="174.5" height="2.4" fill="#eb9277"/>
<rect x="1006.1" y="1082.2" width="174.5" height="2.4" fill="#e67f65"/>
<rect x="1006.1" y="1084.2" width="174.5" height="2.9" fill="#ea8e73"/>
<rect x="1006.1" y="1086.7" width="174.5" height="4.4" fill="#ec9479"/>
<rect x="1006.1" y="1090.7" width="174.5" height="3.4" fill="#e9886e"/>
<rect x="1006.1" y="1093.7" width="174.5" height="3.4" fill="#a7152c"/>
<rect x="1006.1" y="1096.7" width="174.5" height="3.9" fill="#a4142b"/>
<rect x="1006.1" y="1100.2" width="174.5" height="3.7" fill="#b72332"/>
<rect x="1006.1" y="1103.5" width="174.5" height="4.6" fill="#e57b62"/>
<rect x="1006.1" y="1107.7" width="174.5" height="2.9" fill="#e7d3ca"/>
<rect x="1006.1" y="1110.2" width="174.5" height="3.9" fill="#e0dad7"/>
<rect x="1006.1" y="1113.7" width="174.5" height="2.9" fill="#e6d4cc"/>
<rect x="1006.1" y="1116.2" width="174.5" height="2.4" fill="#e6d4cb"/>
<rect x="1006.1" y="1118.2" width="174.5" height="5.2" fill="#e7d3ca"/>
<rect x="1006.1" y="1123.0" width="174.5" height="3.4" fill="#9bc6df"/>
<rect x="1006.1" y="1126.0" width="174.5" height="2.4" fill="#9bc6df"/>
<rect x="1006.1" y="1128.0" width="174.5" height="2.4" fill="#afcfe2"/>
<rect x="1006.1" y="1130.0" width="174.5" height="4.4" fill="#b8d3e4"/>
<rect x="1006.1" y="1134.0" width="174.5" height="2.9" fill="#99c4df"/>
<rect x="1006.1" y="1136.5" width="174.5" height="3.9" fill="#a8cce2"/>
<rect x="1006.1" y="1140.0" width="174.5" height="3.4" fill="#9cc6e0"/>
<rect x="1006.1" y="1143.0" width="174.5" height="2.9" fill="#b8d3e4"/>
<rect x="1006.1" y="1145.5" width="174.5" height="2.4" fill="#94c2de"/>
<rect x="1006.1" y="1147.5" width="174.5" height="2.9" fill="#b5d2e3"/>
<rect x="1006.1" y="1150.0" width="174.5" height="3.4" fill="#aecfe2"/>
<rect x="1006.1" y="1153.0" width="174.5" height="3.9" fill="#adcee2"/>
<rect x="1006.1" y="1156.5" width="174.5" height="3.9" fill="#b8d3e4"/>
<rect x="1006.1" y="1160.0" width="174.5" height="2.9" fill="#b0d0e3"/>
<rect x="1006.1" y="1162.5" width="174.5" height="3.3" fill="#b2d1e3"/>
<rect x="1006.1" y="1165.4" width="174.5" height="3.4" fill="#d7dbdd"/>
<rect x="1006.1" y="1168.4" width="174.5" height="3.0" fill="#c1d7e5"/>
<rect x="1006.1" y="1171.0" width="174.5" height="2.9" fill="#93c1de"/>
<rect x="1006.1" y="1173.5" width="174.5" height="2.9" fill="#7db3d9"/>
<rect x="1006.1" y="1176.0" width="174.5" height="3.4" fill="#7bb2d8"/>
<rect x="1006.1" y="1179.0" width="174.5" height="2.9" fill="#92c0dd"/>
<rect x="1006.1" y="1181.5" width="174.5" height="3.4" fill="#8abbdc"/>
<rect x="1006.1" y="1184.5" width="174.5" height="3.4" fill="#80b5d9"/>
<rect x="1006.1" y="1187.5" width="174.5" height="2.4" fill="#87b9db"/>
<rect x="1006.1" y="1189.5" width="174.5" height="2.9" fill="#96c2de"/>
<rect x="1006.1" y="1192.0" width="174.5" height="4.4" fill="#3c7fbb"/>
<rect x="1006.1" y="1196.0" width="174.5" height="2.0" fill="#3273b1"/>
<rect x="1006.1" y="1197.6" width="174.5" height="4.6" fill="#c6d8e4"/>
<rect x="1006.1" y="1201.8" width="174.5" height="3.4" fill="#599bcd"/>
<rect x="1006.1" y="1204.8" width="174.5" height="2.4" fill="#4e93c9"/>
<rect x="1006.1" y="1206.8" width="174.5" height="3.4" fill="#5295cb"/>
<rect x="1006.1" y="1209.8" width="174.5" height="2.2" fill="#5195cb"/>
<rect x="1006.1" y="1211.6" width="174.5" height="2.4" fill="#a0c9e1"/>
<rect x="1006.1" y="1213.6" width="174.5" height="2.6" fill="#b5d2e3"/>
<rect x="1006.1" y="1215.8" width="174.5" height="2.9" fill="#589acd"/>
<rect x="1006.1" y="1218.3" width="174.5" height="3.9" fill="#5497cc"/>
<rect x="1006.1" y="1221.8" width="174.5" height="4.2" fill="#63a1d1"/>
<rect x="1006.1" y="1225.6" width="174.5" height="4.4" fill="#76afd7"/>
<rect x="1006.1" y="1229.6" width="174.5" height="3.4" fill="#86b9db"/>
<rect x="1006.1" y="1232.6" width="174.5" height="2.9" fill="#5a9bce"/>
<rect x="1006.1" y="1235.1" width="174.5" height="3.4" fill="#5f9fcf"/>
<rect x="1006.1" y="1238.1" width="174.5" height="1.9" fill="#62a1d0"/>
<rect x="1006.1" y="1239.6" width="174.5" height="3.4" fill="#e67f65"/>
<rect x="1006.1" y="1242.6" width="174.5" height="2.4" fill="#e67e65"/>
<rect x="1006.1" y="1244.6" width="174.5" height="2.4" fill="#e8886e"/>
<rect x="1006.1" y="1246.6" width="174.5" height="2.9" fill="#bed5e4"/>
<rect x="1006.1" y="1249.1" width="174.5" height="2.4" fill="#c4d8e5"/>
<rect x="1006.1" y="1251.1" width="174.5" height="3.4" fill="#bbd4e4"/>
<rect x="1006.1" y="1254.1" width="174.5" height="3.9" fill="#b7d3e3"/>
<rect x="1006.1" y="1257.6" width="174.5" height="4.8" fill="#c2d7e5"/>
<rect x="1006.1" y="1262.0" width="174.5" height="4.4" fill="#f3b69a"/>
<rect x="1006.1" y="1266.0" width="174.5" height="4.8" fill="#f1a587"/>
<rect x="1006.1" y="1270.4" width="174.5" height="4.6" fill="#9dc7e0"/>
<rect x="1006.1" y="1274.6" width="174.5" height="3.9" fill="#f5c3a9"/>
<rect x="1006.1" y="1278.1" width="174.5" height="5.3" fill="#f3b294"/>
<rect x="1006.1" y="1283.0" width="174.5" height="3.9" fill="#e0dad7"/>
<rect x="1006.1" y="1286.5" width="174.5" height="2.9" fill="#d3dadf"/>
<rect x="1006.1" y="1289.0" width="174.5" height="3.4" fill="#dadbdc"/>
<rect x="1006.1" y="1292.0" width="174.5" height="2.4" fill="#d4dade"/>
<rect x="1006.1" y="1294.0" width="174.5" height="4.9" fill="#d6dbdd"/>
<rect x="1006.1" y="1298.5" width="174.5" height="3.4" fill="#5296cb"/>
<rect x="1006.1" y="1301.5" width="174.5" height="3.9" fill="#64a2d1"/>
<rect x="1006.1" y="1305.0" width="174.5" height="3.9" fill="#6faad5"/>
<rect x="1006.1" y="1308.5" width="174.5" height="4.4" fill="#5698cc"/>
<rect x="1006.1" y="1312.5" width="174.5" height="3.4" fill="#609fd0"/>
<rect x="1006.1" y="1315.5" width="174.5" height="2.4" fill="#5598cc"/>
<rect x="1006.1" y="1317.5" width="174.5" height="3.9" fill="#65a3d1"/>
<rect x="1006.1" y="1321.0" width="174.5" height="3.1" fill="#6ca8d4"/>
<rect x="1006.1" y="1323.7" width="174.5" height="2.4" fill="#72acd6"/>
<rect x="1006.1" y="1325.7" width="174.5" height="2.4" fill="#7cb2d8"/>
<rect x="1006.1" y="1327.7" width="174.5" height="3.9" fill="#98c4df"/>
<rect x="1006.1" y="1331.2" width="174.5" height="3.4" fill="#73acd6"/>
<rect x="1006.1" y="1334.2" width="174.5" height="3.4" fill="#7bb1d8"/>
<rect x="1006.1" y="1337.2" width="174.5" height="3.9" fill="#6ca8d4"/>
<rect x="1006.1" y="1340.7" width="174.5" height="3.9" fill="#90bfdd"/>
<rect x="1006.1" y="1344.2" width="174.5" height="2.4" fill="#82b6da"/>
<rect x="1006.1" y="1346.2" width="174.5" height="4.2" fill="#7cb2d8"/>
<rect x="1006.1" y="1350.0" width="174.5" height="4.9" fill="#9fc8e0"/>
<rect x="1179.9" y="373.0" width="174.5" height="3.9" fill="#e9d1c6"/>
<rect x="1179.9" y="376.5" width="174.5" height="3.4" fill="#e7d3cb"/>
<rect x="1179.9" y="379.5" width="174.5" height="2.4" fill="#e8d2c8"/>
<rect x="1179.9" y="381.5" width="174.5" height="2.9" fill="#ebcfc4"/>
<rect x="1179.9" y="384.0" width="174.5" height="4.4" fill="#e8886e"/>
<rect x="1179.9" y="388.0" width="174.5" height="3.4" fill="#e8876d"/>
<rect x="1179.9" y="391.0" width="174.5" height="3.4" fill="#eccec0"/>
<rect x="1179.9" y="394.0" width="174.5" height="3.0" fill="#ebcfc3"/>
<rect x="1179.9" y="396.6" width="174.5" height="3.9" fill="#e2725b"/>
<rect x="1179.9" y="400.1" width="174.5" height="2.5" fill="#e1705a"/>
<rect x="1179.9" y="402.2" width="174.5" height="4.6" fill="#e7d3ca"/>
<rect x="1179.9" y="406.4" width="174.5" height="4.4" fill="#f3b79a"/>
<rect x="1179.9" y="410.4" width="174.5" height="2.9" fill="#f1c8b3"/>
<rect x="1179.9" y="412.9" width="174.5" height="3.4" fill="#efcbb9"/>
<rect x="1179.9" y="415.9" width="174.5" height="3.9" fill="#f1a889"/>
<rect x="1179.9" y="419.4" width="174.5" height="3.9" fill="#f3b89b"/>
<rect x="1179.9" y="422.9" width="174.5" height="2.1" fill="#f4bda1"/>
<rect x="1179.9" y="424.6" width="174.5" height="2.9" fill="#df6955"/>
<rect x="1179.9" y="427.1" width="174.5" height="2.9" fill="#e67f65"/>
<rect x="1179.9" y="429.6" width="174.5" height="2.4" fill="#e4785f"/>
<rect x="1179.9" y="431.6" width="174.5" height="4.4" fill="#dc6250"/>
<rect x="1179.9" y="435.6" width="174.5" height="3.4" fill="#e06c57"/>
<rect x="1179.9" y="438.6" width="174.5" height="4.4" fill="#f0c9b6"/>
<rect x="1179.9" y="442.6" width="174.5" height="2.9" fill="#f3b294"/>
<rect x="1179.9" y="445.1" width="174.5" height="3.4" fill="#f2c7b1"/>
<rect x="1179.9" y="448.1" width="174.5" height="2.1" fill="#f2ae90"/>
<rect x="1179.9" y="449.8" width="174.5" height="3.4" fill="#ec9479"/>
<rect x="1179.9" y="452.8" width="174.5" height="4.4" fill="#e8886e"/>
<rect x="1179.9" y="456.8" width="174.5" height="4.4" fill="#e9886e"/>
<rect x="1179.9" y="460.8" width="174.5" height="2.4" fill="#e78268"/>
<rect x="1179.9" y="462.8" width="174.5" height="2.8" fill="#eb9176"/>
<rect x="1179.9" y="465.2" width="174.5" height="3.4" fill="#d34f45"/>
<rect x="1179.9" y="468.2" width="174.5" height="3.4" fill="#c63a3a"/>
<rect x="1179.9" y="471.2" width="174.5" height="4.2" fill="#cd453f"/>
<rect x="1179.9" y="475.0" width="174.5" height="3.9" fill="#db5f4e"/>
<rect x="1179.9" y="478.5" width="174.5" height="3.4" fill="#da5e4d"/>
<rect x="1179.9" y="481.5" width="174.5" height="2.4" fill="#d65548"/>
<rect x="1179.9" y="483.5" width="174.5" height="2.4" fill="#d95d4d"/>
<rect x="1179.9" y="485.5" width="174.5" height="3.4" fill="#d14b42"/>
<rect x="1179.9" y="488.5" width="174.5" height="3.4" fill="#d24d43"/>
<rect x="1179.9" y="491.5" width="174.5" height="2.4" fill="#dc6351"/>
<rect x="1179.9" y="493.5" width="174.5" height="4.4" fill="#dd6451"/>
<rect x="1179.9" y="497.5" width="174.5" height="3.4" fill="#df6a55"/>
<rect x="1179.9" y="500.5" width="174.5" height="4.4" fill="#da5d4d"/>
<rect x="1179.9" y="504.5" width="174.5" height="3.4" fill="#d95c4c"/>
<rect x="1179.9" y="507.5" width="174.5" height="2.9" fill="#dc6250"/>
<rect x="1179.9" y="510.0" width="174.5" height="3.4" fill="#ead0c5"/>
<rect x="1179.9" y="513.0" width="174.5" height="3.1" fill="#eeccbc"/>
<rect x="1179.9" y="515.7" width="174.5" height="3.9" fill="#ed967b"/>
<rect x="1179.9" y="519.2" width="174.5" height="3.4" fill="#f0a384"/>
<rect x="1179.9" y="522.2" width="174.5" height="3.9" fill="#ef9e81"/>
<rect x="1179.9" y="525.7" width="174.5" height="4.4" fill="#ed977b"/>
<rect x="1179.9" y="529.7" width="174.5" height="3.9" fill="#ef9e81"/>
<rect x="1179.9" y="533.2" width="174.5" height="2.5" fill="#f2ab8d"/>
<rect x="1179.9" y="535.3" width="174.5" height="3.9" fill="#e67e64"/>
<rect x="1179.9" y="538.8" width="174.5" height="4.4" fill="#e57d64"/>
<rect x="1179.9" y="542.8" width="174.5" height="4.4" fill="#e3765e"/>
<rect x="1179.9" y="546.8" width="174.5" height="2.9" fill="#df6b56"/>
<rect x="1179.9" y="549.3" width="174.5" height="2.4" fill="#e4d6d0"/>
<rect x="1179.9" y="551.3" width="174.5" height="2.9" fill="#e2d8d4"/>
<rect x="1179.9" y="553.8" width="174.5" height="3.4" fill="#e4d6cf"/>
<rect x="1179.9" y="556.8" width="174.5" height="2.6" fill="#dedcda"/>
<rect x="1179.9" y="559.0" width="174.5" height="3.4" fill="#f4bca0"/>
<rect x="1179.9" y="562.0" width="174.5" height="3.4" fill="#f4b99c"/>
<rect x="1179.9" y="565.0" width="174.5" height="2.4" fill="#f1c8b3"/>
<rect x="1179.9" y="567.0" width="174.5" height="2.6" fill="#f2c6af"/>
<rect x="1179.9" y="569.2" width="174.5" height="2.4" fill="#d7dbdd"/>
<rect x="1179.9" y="571.2" width="174.5" height="2.6" fill="#d1dadf"/>
<rect x="1179.9" y="573.4" width="174.5" height="2.4" fill="#64a2d1"/>
<rect x="1179.9" y="575.4" width="174.5" height="4.0" fill="#7cb2d8"/>
<rect x="1179.9" y="579.0" width="174.5" height="3.9" fill="#c5d8e5"/>
<rect x="1179.9" y="582.5" width="174.5" height="2.4" fill="#b7d3e3"/>
<rect x="1179.9" y="584.5" width="174.5" height="3.3" fill="#b9d4e4"/>
<rect x="1179.9" y="587.4" width="174.5" height="3.2" fill="#f5c3a9"/>
<rect x="1179.9" y="590.2" width="174.5" height="2.4" fill="#c2d7e5"/>
<rect x="1179.9" y="592.2" width="174.5" height="5.4" fill="#bad4e4"/>
<rect x="1179.9" y="597.2" width="174.5" height="3.9" fill="#ef9f82"/>
<rect x="1179.9" y="600.7" width="174.5" height="3.4" fill="#f1a586"/>
<rect x="1179.9" y="603.7" width="174.5" height="4.4" fill="#ee9b7e"/>
<rect x="1179.9" y="607.7" width="174.5" height="5.3" fill="#ef9e81"/>
<rect x="1179.9" y="612.6" width="174.5" height="3.4" fill="#d45246"/>
<rect x="1179.9" y="615.6" width="174.5" height="2.4" fill="#d35045"/>
<rect x="1179.9" y="617.6" width="174.5" height="2.4" fill="#d45347"/>
<rect x="1179.9" y="619.6" width="174.5" height="2.4" fill="#e68066"/>
<rect x="1179.9" y="621.6" width="174.5" height="3.4" fill="#de6754"/>
<rect x="1179.9" y="624.6" width="174.5" height="2.4" fill="#e9896f"/>
<rect x="1179.9" y="626.6" width="174.5" height="2.9" fill="#f0a485"/>
<rect x="1179.9" y="629.1" width="174.5" height="2.9" fill="#f2aa8c"/>
<rect x="1179.9" y="631.6" width="174.5" height="3.4" fill="#ed967b"/>
<rect x="1179.9" y="634.6" width="174.5" height="4.4" fill="#ed967a"/>
<rect x="1179.9" y="638.6" width="174.5" height="2.4" fill="#ed987c"/>
<rect x="1179.9" y="640.6" width="174.5" height="3.4" fill="#5c9dce"/>
<rect x="1179.9" y="643.6" width="174.5" height="2.4" fill="#64a2d1"/>
<rect x="1179.9" y="645.6" width="174.5" height="4.4" fill="#5d9dcf"/>
<rect x="1179.9" y="649.6" width="174.5" height="2.6" fill="#5195cb"/>
<rect x="1179.9" y="651.8" width="174.5" height="3.4" fill="#8cbcdc"/>
<rect x="1179.9" y="654.8" width="174.5" height="3.4" fill="#7eb3d9"/>
<rect x="1179.9" y="657.8" width="174.5" height="2.8" fill="#80b5d9"/>
<rect x="1179.9" y="660.2" width="174.5" height="3.4" fill="#abcee2"/>
<rect x="1179.9" y="663.2" width="174.5" height="4.4" fill="#a2cae1"/>
<rect x="1179.9" y="667.2" width="174.5" height="3.9" fill="#bad4e4"/>
<rect x="1179.9" y="670.7" width="174.5" height="3.9" fill="#b5d2e3"/>
<rect x="1179.9" y="674.2" width="174.5" height="2.9" fill="#a7cce2"/>
<rect x="1179.9" y="676.7" width="174.5" height="3.4" fill="#9dc7e0"/>
<rect x="1179.9" y="679.7" width="174.5" height="2.9" fill="#95c2de"/>
<rect x="1179.9" y="682.2" width="174.5" height="3.4" fill="#a0c9e1"/>
<rect x="1179.9" y="685.2" width="174.5" height="2.9" fill="#b6d2e3"/>
<rect x="1179.9" y="687.7" width="174.5" height="4.4" fill="#bed5e4"/>
<rect x="1179.9" y="691.7" width="174.5" height="3.4" fill="#b4d1e3"/>
<rect x="1179.9" y="694.7" width="174.5" height="2.9" fill="#a6cce1"/>
<rect x="1179.9" y="697.2" width="174.5" height="2.7" fill="#bdd5e4"/>
<rect x="1179.9" y="699.5" width="174.5" height="3.4" fill="#5295cb"/>
<rect x="1179.9" y="702.5" width="174.5" height="2.4" fill="#68a5d2"/>
<rect x="1179.9" y="704.5" width="174.5" height="3.4" fill="#66a4d2"/>
<rect x="1179.9" y="707.5" width="174.5" height="3.9" fill="#6ca8d4"/>
<rect x="1179.9" y="711.0" width="174.5" height="2.9" fill="#5b9cce"/>
<rect x="1179.9" y="713.5" width="174.5" height="3.2" fill="#60a0d0"/>
<rect x="1179.9" y="716.3" width="174.5" height="4.6" fill="#a9cde2"/>
<rect x="1179.9" y="720.5" width="174.5" height="2.4" fill="#5598cc"/>
<rect x="1179.9" y="722.5" width="174.5" height="2.4" fill="#599bcd"/>
<rect x="1179.9" y="724.5" width="174.5" height="4.4" fill="#5396cb"/>
<rect x="1179.9" y="728.5" width="174.5" height="3.4" fill="#5497cb"/>
<rect x="1179.9" y="731.5" width="174.5" height="2.4" fill="#609fd0"/>
<rect x="1179.9" y="733.5" width="174.5" height="2.4" fill="#4c91c9"/>
<rect x="1179.9" y="735.5" width="174.5" height="3.4" fill="#66a4d2"/>
<rect x="1179.9" y="738.5" width="174.5" height="2.9" fill="#5b9cce"/>
<rect x="1179.9" y="741.0" width="174.5" height="3.7" fill="#4d92c9"/>
<rect x="1179.9" y="744.3" width="174.5" height="4.6" fill="#cad9e2"/>
<rect x="1179.9" y="748.5" width="174.5" height="2.9" fill="#93c0dd"/>
<rect x="1179.9" y="751.0" width="174.5" height="3.4" fill="#82b6da"/>
<rect x="1179.9" y="754.0" width="174.5" height="4.7" fill="#73add6"/>
<rect x="1179.9" y="758.3" width="174.5" height="2.1" fill="#b5d2e3"/>
<rect x="1179.9" y="760.0" width="174.5" height="4.4" fill="#accee2"/>
<rect x="1179.9" y="764.0" width="174.5" height="2.0" fill="#c8d9e3"/>
<rect x="1179.9" y="765.6" width="174.5" height="4.4" fill="#aecfe2"/>
<rect x="1179.9" y="769.6" width="174.5" height="3.4" fill="#90bfdd"/>
<rect x="1179.9" y="772.6" width="174.5" height="4.6" fill="#f3b497"/>
<rect x="1179.9" y="776.8" width="174.5" height="4.4" fill="#66a4d2"/>
<rect x="1179.9" y="780.8" width="174.5" height="3.4" fill="#6ea9d5"/>
<rect x="1179.9" y="783.8" width="174.5" height="4.4" fill="#c4d8e5"/>
<rect x="1179.9" y="787.8" width="174.5" height="3.4" fill="#c0d7e5"/>
<rect x="1179.9" y="790.8" width="174.5" height="2.9" fill="#f5c3a8"/>
<rect x="1179.9" y="793.3" width="174.5" height="4.4" fill="#f0a284"/>
<rect x="1179.9" y="797.3" width="174.5" height="2.3" fill="#f5c3a9"/>
<rect x="1179.9" y="799.2" width="174.5" height="3.4" fill="#bdd5e4"/>
<rect x="1179.9" y="802.2" width="174.5" height="3.0" fill="#cfdae0"/>
<rect x="1179.9" y="804.8" width="174.5" height="3.4" fill="#e6d4cc"/>
<rect x="1179.9" y="807.8" width="174.5" height="2.9" fill="#e8d2c8"/>
<rect x="1179.9" y="810.3" width="174.5" height="2.4" fill="#e7d3ca"/>
<rect x="1179.9" y="812.3" width="174.5" height="2.9" fill="#e1d9d4"/>
<rect x="1179.9" y="814.8" width="174.5" height="3.9" fill="#e3d7d1"/>
<rect x="1179.9" y="818.3" width="174.5" height="4.4" fill="#e5d5cd"/>
<rect x="1179.9" y="822.3" width="174.5" height="2.5" fill="#e0dad6"/>
<rect x="1179.9" y="824.4" width="174.5" height="3.4" fill="#9ac5df"/>
<rect x="1179.9" y="827.4" width="174.5" height="3.4" fill="#93c1de"/>
<rect x="1179.9" y="830.4" width="174.5" height="3.9" fill="#9dc7e0"/>
<rect x="1179.9" y="833.9" width="174.5" height="2.4" fill="#9cc6e0"/>
<rect x="1179.9" y="835.9" width="174.5" height="5.7" fill="#99c4df"/>
<rect x="1179.9" y="841.2" width="174.5" height="3.4" fill="#5c9dce"/>
<rect x="1179.9" y="844.2" width="174.5" height="3.4" fill="#5799cd"/>
<rect x="1179.9" y="847.2" width="174.5" height="2.4" fill="#5799cc"/>
<rect x="1179.9" y="849.2" width="174.5" height="3.4" fill="#5799cd"/>
<rect x="1179.9" y="852.2" width="174.5" height="4.8" fill="#5f9fcf"/>
<rect x="1179.9" y="856.6" width="174.5" height="3.9" fill="#93c1de"/>
<rect x="1179.9" y="860.1" width="174.5" height="3.9" fill="#96c2de"/>
<rect x="1179.9" y="863.6" width="174.5" height="2.9" fill="#88badb"/>
<rect x="1179.9" y="866.1" width="174.5" height="2.4" fill="#97c3de"/>
<rect x="1179.9" y="868.1" width="174.5" height="4.3" fill="#8cbcdc"/>
<rect x="1179.9" y="872.0" width="174.5" height="3.2" fill="#e6d4cc"/>
<rect x="1179.9" y="874.8" width="174.5" height="3.4" fill="#a6cce1"/>
<rect x="1179.9" y="877.8" width="174.5" height="4.4" fill="#98c4df"/>
<rect x="1179.9" y="881.8" width="174.5" height="4.6" fill="#b3d1e3"/>
<rect x="1179.9" y="886.0" width="174.5" height="4.7" fill="#f1c8b3"/>
<rect x="1179.9" y="890.3" width="174.5" height="2.4" fill="#9cc6e0"/>
<rect x="1179.9" y="892.3" width="174.5" height="3.4" fill="#98c4df"/>
<rect x="1179.9" y="895.3" width="174.5" height="3.9" fill="#a7cce2"/>
<rect x="1179.9" y="898.8" width="174.5" height="2.9" fill="#a0c9e1"/>
<rect x="1179.9" y="901.3" width="174.5" height="2.0" fill="#9fc8e0"/>
<rect x="1179.9" y="902.9" width="174.5" height="3.9" fill="#adcee2"/>
<rect x="1179.9" y="906.4" width="174.5" height="2.9" fill="#a3cae1"/>
<rect x="1179.9" y="908.9" width="174.5" height="3.4" fill="#97c3de"/>
<rect x="1179.9" y="911.9" width="174.5" height="3.4" fill="#93c1de"/>
<rect x="1179.9" y="914.9" width="174.5" height="2.9" fill="#b5d2e3"/>
<rect x="1179.9" y="917.4" width="174.5" height="4.4" fill="#bcd5e4"/>
<rect x="1179.9" y="921.4" width="174.5" height="3.4" fill="#a4cbe1"/>
<rect x="1179.9" y="924.4" width="174.5" height="2.7" fill="#a7cce2"/>
<rect x="1179.9" y="926.7" width="174.5" height="4.4" fill="#e9d1c7"/>
<rect x="1179.9" y="930.7" width="174.5" height="4.7" fill="#edcdbe"/>
<rect x="1179.9" y="935.0" width="174.5" height="2.9" fill="#d8dbdd"/>
<rect x="1179.9" y="937.5" width="174.5" height="2.2" fill="#c8d9e3"/>
<rect x="1179.9" y="939.3" width="174.5" height="2.4" fill="#f0a284"/>
<rect x="1179.9" y="941.3" width="174.5" height="2.6" fill="#ef9f82"/>
<rect x="1179.9" y="943.5" width="174.5" height="2.9" fill="#d7dbdd"/>
<rect x="1179.9" y="946.0" width="174.5" height="3.4" fill="#dbdcdb"/>
<rect x="1179.9" y="949.0" width="174.5" height="2.4" fill="#d6dbdd"/>
<rect x="1179.9" y="951.0" width="174.5" height="4.4" fill="#d6dbdd"/>
<rect x="1179.9" y="955.0" width="174.5" height="2.9" fill="#d6dbdd"/>
<rect x="1179.9" y="957.5" width="174.5" height="2.4" fill="#d3dade"/>
<rect x="1179.9" y="959.5" width="174.5" height="3.4" fill="#ccd9e1"/>
<rect x="1179.9" y="962.5" width="174.5" height="4.1" fill="#ccd9e2"/>
<rect x="1179.9" y="966.2" width="174.5" height="4.4" fill="#aecfe2"/>
<rect x="1179.9" y="970.2" width="174.5" height="2.4" fill="#9dc7e0"/>
<rect x="1179.9" y="972.2" width="174.5" height="3.4" fill="#a6cbe1"/>
<rect x="1179.9" y="975.2" width="174.5" height="2.6" fill="#a4cbe1"/>
<rect x="1179.9" y="977.4" width="174.5" height="3.2" fill="#75aed7"/>
<rect x="1179.9" y="980.2" width="174.5" height="2.4" fill="#f1c8b3"/>
<rect x="1179.9" y="982.2" width="174.5" height="3.9" fill="#eeccbc"/>
<rect x="1179.9" y="985.7" width="174.5" height="3.9" fill="#f4ba9e"/>
<rect x="1179.9" y="989.2" width="174.5" height="2.9" fill="#eeccbc"/>
<rect x="1179.9" y="991.7" width="174.5" height="2.9" fill="#edcdbe"/>
<rect x="1179.9" y="994.2" width="174.5" height="2.9" fill="#efcab8"/>
<rect x="1179.9" y="996.7" width="174.5" height="2.1" fill="#f0c9b6"/>
<rect x="1179.9" y="998.4" width="174.5" height="3.4" fill="#f5c1a6"/>
<rect x="1179.9" y="1001.4" width="174.5" height="3.0" fill="#f4bca0"/>
<rect x="1179.9" y="1004.0" width="174.5" height="4.4" fill="#e98b71"/>
<rect x="1179.9" y="1008.0" width="174.5" height="2.9" fill="#ed987c"/>
<rect x="1179.9" y="1010.5" width="174.5" height="2.4" fill="#ec9378"/>
<rect x="1179.9" y="1012.5" width="174.5" height="2.9" fill="#e9896f"/>
<rect x="1179.9" y="1015.0" width="174.5" height="3.4" fill="#e68066"/>
<rect x="1179.9" y="1018.0" width="174.5" height="4.4" fill="#dcdcdb"/>
<rect x="1179.9" y="1022.0" width="174.5" height="2.4" fill="#e0dad6"/>
<rect x="1179.9" y="1024.0" width="174.5" height="4.2" fill="#e1d9d5"/>
<rect x="1179.9" y="1027.8" width="174.5" height="2.9" fill="#d45346"/>
<rect x="1179.9" y="1030.3" width="174.5" height="2.9" fill="#d65749"/>
<rect x="1179.9" y="1032.8" width="174.5" height="3.9" fill="#d85b4c"/>
<rect x="1179.9" y="1036.3" width="174.5" height="3.9" fill="#d14d43"/>
<rect x="1179.9" y="1039.8" width="174.5" height="2.4" fill="#dd6452"/>
<rect x="1179.9" y="1041.8" width="174.5" height="4.6" fill="#f4bfa4"/>
<rect x="1179.9" y="1046.0" width="174.5" height="3.4" fill="#cc433e"/>
<rect x="1179.9" y="1049.0" width="174.5" height="4.4" fill="#d95c4c"/>
<rect x="1179.9" y="1053.0" width="174.5" height="3.4" fill="#ccd9e2"/>
<rect x="1179.9" y="1056.0" width="174.5" height="3.4" fill="#c1d7e5"/>
<rect x="1179.9" y="1059.0" width="174.5" height="2.8" fill="#c5d8e4"/>
<rect x="1179.9" y="1061.4" width="174.5" height="4.4" fill="#a2cae1"/>
<rect x="1179.9" y="1065.4" width="174.5" height="4.4" fill="#a5cbe1"/>
<rect x="1179.9" y="1069.4" width="174.5" height="3.6" fill="#a8cde2"/>
<rect x="1179.9" y="1072.6" width="174.5" height="3.9" fill="#c6d8e4"/>
<rect x="1179.9" y="1076.1" width="174.5" height="2.4" fill="#c9d9e3"/>
<rect x="1179.9" y="1078.1" width="174.5" height="3.3" fill="#c3d7e5"/>
<rect x="1179.9" y="1081.0" width="174.5" height="3.9" fill="#df6a55"/>
<rect x="1179.9" y="1084.5" width="174.5" height="2.9" fill="#dc6351"/>
<rect x="1179.9" y="1087.0" width="174.5" height="5.6" fill="#e2745c"/>
<rect x="1179.9" y="1092.2" width="174.5" height="3.9" fill="#d4dbde"/>
<rect x="1179.9" y="1095.7" width="174.5" height="3.4" fill="#d8dbdc"/>
<rect x="1179.9" y="1098.7" width="174.5" height="3.7" fill="#cdd9e1"/>
<rect x="1179.9" y="1102.0" width="174.5" height="2.4" fill="#f1c8b3"/>
<rect x="1179.9" y="1104.0" width="174.5" height="2.9" fill="#f4bca0"/>
<rect x="1179.9" y="1106.5" width="174.5" height="3.4" fill="#f2b092"/>
<rect x="1179.9" y="1109.5" width="174.5" height="2.8" fill="#f1c8b4"/>
<rect x="1179.9" y="1111.9" width="174.5" height="4.6" fill="#b6d2e3"/>
<rect x="1179.9" y="1116.1" width="174.5" height="3.9" fill="#90bfdd"/>
<rect x="1179.9" y="1119.6" width="174.5" height="3.4" fill="#8dbddc"/>
<rect x="1179.9" y="1122.6" width="174.5" height="3.7" fill="#8fbedd"/>
<rect x="1179.9" y="1125.9" width="174.5" height="2.4" fill="#bfd6e4"/>
<rect x="1179.9" y="1127.9" width="174.5" height="3.9" fill="#b8d3e4"/>
<rect x="1179.9" y="1131.4" width="174.5" height="2.4" fill="#aecfe2"/>
<rect x="1179.9" y="1133.4" width="174.5" height="4.0" fill="#bbd4e4"/>
<rect x="1179.9" y="1137.0" width="174.5" height="3.4" fill="#93c1de"/>
<rect x="1179.9" y="1140.0" width="174.5" height="3.4" fill="#a4cbe1"/>
<rect x="1179.9" y="1143.0" width="174.5" height="2.9" fill="#98c4df"/>
<rect x="1179.9" y="1145.5" width="174.5" height="4.9" fill="#d7dbdd"/>
<rect x="1179.9" y="1150.0" width="174.5" height="1.5" fill="#c8d9e3"/>
<rect x="1179.9" y="1151.1" width="174.5" height="2.1" fill="#b21b2f"/>
<rect x="1179.9" y="1152.8" width="174.5" height="2.4" fill="#880925"/>
<rect x="1179.9" y="1154.8" width="174.5" height="4.0" fill="#800623"/>
<rect x="1179.9" y="1158.4" width="174.5" height="2.4" fill="#f1a586"/>
<rect x="1179.9" y="1160.4" width="174.5" height="3.4" fill="#efa082"/>
<rect x="1179.9" y="1163.4" width="174.5" height="3.8" fill="#f3c5ad"/>
<rect x="1179.9" y="1166.8" width="174.5" height="2.4" fill="#f1c7b2"/>
<rect x="1179.9" y="1168.8" width="174.5" height="4.0" fill="#f2c6af"/>
<rect x="1179.9" y="1172.4" width="174.5" height="3.4" fill="#e67d64"/>
<rect x="1179.9" y="1175.4" width="174.5" height="5.8" fill="#df6b56"/>
<rect x="1179.9" y="1180.8" width="174.5" height="4.6" fill="#b8d3e4"/>
<rect x="1179.9" y="1185.0" width="174.5" height="4.6" fill="#f3c5ad"/>
<rect x="1179.9" y="1189.2" width="174.5" height="3.9" fill="#9fc8e0"/>
<rect x="1179.9" y="1192.7" width="174.5" height="5.3" fill="#c2d7e5"/>
<rect x="1179.9" y="1197.6" width="174.5" height="3.4" fill="#397bb7"/>
<rect x="1179.9" y="1200.6" width="174.5" height="3.0" fill="#468bc4"/>
<rect x="1179.9" y="1203.2" width="174.5" height="2.9" fill="#498fc7"/>
<rect x="1179.9" y="1205.7" width="174.5" height="3.4" fill="#5a9bcd"/>
<rect x="1179.9" y="1208.7" width="174.5" height="2.9" fill="#599bcd"/>
<rect x="1179.9" y="1211.2" width="174.5" height="3.9" fill="#4b91c8"/>
<rect x="1179.9" y="1214.7" width="174.5" height="2.9" fill="#5095ca"/>
<rect x="1179.9" y="1217.2" width="174.5" height="3.4" fill="#a0c9e1"/>
<rect x="1179.9" y="1220.2" width="174.5" height="3.4" fill="#9ec8e0"/>
<rect x="1179.9" y="1223.2" width="174.5" height="2.4" fill="#8ebedc"/>
<rect x="1179.9" y="1225.2" width="174.5" height="2.9" fill="#99c4df"/>
<rect x="1179.9" y="1227.7" width="174.5" height="2.4" fill="#90bedd"/>
<rect x="1179.9" y="1229.7" width="174.5" height="1.9" fill="#a5cbe1"/>
<rect x="1179.9" y="1231.2" width="174.5" height="3.9" fill="#bfd6e4"/>
<rect x="1179.9" y="1234.7" width="174.5" height="3.4" fill="#b6d2e3"/>
<rect x="1179.9" y="1237.7" width="174.5" height="5.1" fill="#b7d3e3"/>
<rect x="1179.9" y="1242.4" width="174.5" height="2.4" fill="#99c4df"/>
<rect x="1179.9" y="1244.4" width="174.5" height="3.4" fill="#afcfe3"/>
<rect x="1179.9" y="1247.4" width="174.5" height="3.9" fill="#a7cce2"/>
<rect x="1179.9" y="1250.9" width="174.5" height="3.1" fill="#97c3de"/>
<rect x="1179.9" y="1253.6" width="174.5" height="3.9" fill="#f5c0a5"/>
<rect x="1179.9" y="1257.1" width="174.5" height="5.3" fill="#efcab8"/>
<rect x="1179.9" y="1262.0" width="174.5" height="2.9" fill="#c0d7e5"/>
<rect x="1179.9" y="1264.5" width="174.5" height="3.5" fill="#b9d3e4"/>
<rect x="1179.9" y="1267.6" width="174.5" height="4.4" fill="#f0a385"/>
<rect x="1179.9" y="1271.6" width="174.5" height="2.0" fill="#efa082"/>
<rect x="1179.9" y="1273.2" width="174.5" height="3.4" fill="#b5d2e3"/>
<rect x="1179.9" y="1276.2" width="174.5" height="3.9" fill="#a4cbe1"/>
<rect x="1179.9" y="1279.7" width="174.5" height="2.9" fill="#a8cde2"/>
<rect x="1179.9" y="1282.2" width="174.5" height="3.4" fill="#a5cbe1"/>
<rect x="1179.9" y="1285.2" width="174.5" height="2.4" fill="#bdd5e4"/>
<rect x="1179.9" y="1287.2" width="174.5" height="3.4" fill="#b1d0e3"/>
<rect x="1179.9" y="1290.2" width="174.5" height="2.4" fill="#8fbedd"/>
<rect x="1179.9" y="1292.2" width="174.5" height="2.9" fill="#9ec7e0"/>
<rect x="1179.9" y="1294.7" width="174.5" height="4.2" fill="#bad4e4"/>
<rect x="1179.9" y="1298.5" width="174.5" height="3.4" fill="#4d92c9"/>
<rect x="1179.9" y="1301.5" width="174.5" height="3.4" fill="#5a9bce"/>
<rect x="1179.9" y="1304.5" width="174.5" height="3.4" fill="#599acd"/>
<rect x="1179.9" y="1307.5" width="174.5" height="4.4" fill="#4c91c9"/>
<rect x="1179.9" y="1311.5" width="174.5" height="4.2" fill="#63a2d1"/>
<rect x="1179.9" y="1315.3" width="174.5" height="2.9" fill="#68a5d2"/>
<rect x="1179.9" y="1317.8" width="174.5" height="2.4" fill="#5f9fcf"/>
<rect x="1179.9" y="1319.8" width="174.5" height="2.4" fill="#68a5d3"/>
<rect x="1179.9" y="1321.8" width="174.5" height="3.9" fill="#72acd6"/>
<rect x="1179.9" y="1325.3" width="174.5" height="2.9" fill="#6eaad5"/>
<rect x="1179.9" y="1327.8" width="174.5" height="3.4" fill="#72acd6"/>
<rect x="1179.9" y="1330.8" width="174.5" height="3.4" fill="#6ba7d4"/>
<rect x="1179.9" y="1333.8" width="174.5" height="2.4" fill="#68a5d3"/>
<rect x="1179.9" y="1335.8" width="174.5" height="2.3" fill="#6eaad5"/>
<rect x="1179.9" y="1337.7" width="174.5" height="4.6" fill="#5396cb"/>
<rect x="1179.9" y="1341.9" width="174.5" height="2.9" fill="#b4d1e3"/>
<rect x="1179.9" y="1344.4" width="174.5" height="2.9" fill="#c0d6e5"/>
<rect x="1179.9" y="1346.9" width="174.5" height="2.9" fill="#c0d6e4"/>
<rect x="1179.9" y="1349.4" width="174.5" height="2.9" fill="#bbd4e4"/>
<rect x="1179.9" y="1351.9" width="174.5" height="3.0" fill="#a9cde2"/>
<rect x="1353.8" y="373.0" width="174.5" height="2.9" fill="#61a0d0"/>
<rect x="1353.8" y="375.5" width="174.5" height="3.3" fill="#65a3d1"/>
<rect x="1353.8" y="378.4" width="174.5" height="4.4" fill="#95c2de"/>
<rect x="1353.8" y="382.4" width="174.5" height="3.4" fill="#91bfdd"/>
<rect x="1353.8" y="385.4" width="174.5" height="3.4" fill="#7bb2d8"/>
<rect x="1353.8" y="388.4" width="174.5" height="3.0" fill="#79b1d8"/>
<rect x="1353.8" y="391.0" width="174.5" height="2.4" fill="#c2d7e5"/>
<rect x="1353.8" y="393.0" width="174.5" height="3.9" fill="#abcee2"/>
<rect x="1353.8" y="396.5" width="174.5" height="1.9" fill="#c5d8e5"/>
<rect x="1353.8" y="398.0" width="174.5" height="2.9" fill="#72acd6"/>
<rect x="1353.8" y="400.5" width="174.5" height="2.9" fill="#5f9fcf"/>
<rect x="1353.8" y="403.0" width="174.5" height="2.4" fill="#5f9fcf"/>
<rect x="1353.8" y="405.0" width="174.5" height="2.4" fill="#dfdbd7"/>
<rect x="1353.8" y="407.0" width="174.5" height="4.0" fill="#d0dae0"/>
<rect x="1353.8" y="410.6" width="174.5" height="2.4" fill="#6ca8d4"/>
<rect x="1353.8" y="412.6" width="174.5" height="3.9" fill="#5397cb"/>
<rect x="1353.8" y="416.1" width="174.5" height="2.4" fill="#65a3d1"/>
<rect x="1353.8" y="418.1" width="174.5" height="3.4" fill="#60a0d0"/>
<rect x="1353.8" y="421.1" width="174.5" height="3.4" fill="#5b9cce"/>
<rect x="1353.8" y="424.1" width="174.5" height="3.4" fill="#609fd0"/>
<rect x="1353.8" y="427.1" width="174.5" height="2.4" fill="#5699cc"/>
<rect x="1353.8" y="429.1" width="174.5" height="3.9" fill="#63a1d1"/>
<rect x="1353.8" y="432.6" width="174.5" height="2.2" fill="#5497cc"/>
<rect x="1353.8" y="434.4" width="174.5" height="2.4" fill="#98c4df"/>
<rect x="1353.8" y="436.4" width="174.5" height="2.6" fill="#88badb"/>
<rect x="1353.8" y="438.6" width="174.5" height="3.4" fill="#5497cb"/>
<rect x="1353.8" y="441.6" width="174.5" height="3.9" fill="#478dc5"/>
<rect x="1353.8" y="445.1" width="174.5" height="2.3" fill="#4c91c9"/>
<rect x="1353.8" y="447.0" width="174.5" height="4.4" fill="#c7d8e4"/>
<rect x="1353.8" y="451.0" width="174.5" height="2.0" fill="#bdd5e4"/>
<rect x="1353.8" y="452.6" width="174.5" height="2.4" fill="#62a1d0"/>
<rect x="1353.8" y="454.6" width="174.5" height="3.4" fill="#65a3d1"/>
<rect x="1353.8" y="457.6" width="174.5" height="3.4" fill="#66a3d2"/>
<rect x="1353.8" y="460.6" width="174.5" height="3.4" fill="#67a5d2"/>
<rect x="1353.8" y="463.6" width="174.5" height="3.9" fill="#74add7"/>
<rect x="1353.8" y="467.1" width="174.5" height="3.4" fill="#64a2d1"/>
<rect x="1353.8" y="470.1" width="174.5" height="2.5" fill="#589acd"/>
<rect x="1353.8" y="472.2" width="174.5" height="2.4" fill="#9dc7e0"/>
<rect x="1353.8" y="474.2" width="174.5" height="2.6" fill="#a8cde2"/>
<rect x="1353.8" y="476.4" width="174.5" height="3.9" fill="#7db3d9"/>
<rect x="1353.8" y="479.9" width="174.5" height="2.5" fill="#6aa6d3"/>
<rect x="1353.8" y="482.0" width="174.5" height="3.4" fill="#94c1de"/>
<rect x="1353.8" y="485.0" width="174.5" height="3.9" fill="#7eb4d9"/>
<rect x="1353.8" y="488.5" width="174.5" height="4.4" fill="#a6cce1"/>
<rect x="1353.8" y="492.5" width="174.5" height="4.4" fill="#99c5df"/>
<rect x="1353.8" y="496.5" width="174.5" height="3.9" fill="#9bc5df"/>
<rect x="1353.8" y="500.0" width="174.5" height="4.9" fill="#9ac5df"/>
<rect x="1353.8" y="504.5" width="174.5" height="2.4" fill="#cad9e2"/>
<rect x="1353.8" y="506.5" width="174.5" height="3.9" fill="#c9d9e3"/>
<rect x="1353.8" y="510.0" width="174.5" height="2.4" fill="#95c2de"/>
<rect x="1353.8" y="512.0" width="174.5" height="2.7" fill="#8ebedc"/>
<rect x="1353.8" y="514.3" width="174.5" height="3.9" fill="#5b9cce"/>
<rect x="1353.8" y="517.8" width="174.5" height="2.9" fill="#609fd0"/>
<rect x="1353.8" y="520.3" width="174.5" height="3.4" fill="#5698cc"/>
<rect x="1353.8" y="523.3" width="174.5" height="2.4" fill="#599bcd"/>
<rect x="1353.8" y="525.3" width="174.5" height="3.4" fill="#5296cb"/>
<rect x="1353.8" y="528.3" width="174.5" height="2.4" fill="#5195cb"/>
<rect x="1353.8" y="530.3" width="174.5" height="3.4" fill="#6aa7d3"/>
<rect x="1353.8" y="533.3" width="174.5" height="4.4" fill="#5b9cce"/>
<rect x="1353.8" y="537.3" width="174.5" height="2.4" fill="#5396cb"/>
<rect x="1353.8" y="539.3" width="174.5" height="3.4" fill="#5699cc"/>
<rect x="1353.8" y="542.3" width="174.5" height="2.4" fill="#4c92c9"/>
<rect x="1353.8" y="544.3" width="174.5" height="2.6" fill="#64a2d1"/>
<rect x="1353.8" y="546.5" width="174.5" height="2.4" fill="#4489c3"/>
<rect x="1353.8" y="548.5" width="174.5" height="3.9" fill="#4286c0"/>
<rect x="1353.8" y="552.0" width="174.5" height="2.4" fill="#6ba7d4"/>
<rect x="1353.8" y="554.0" width="174.5" height="2.7" fill="#7bb2d8"/>
<rect x="1353.8" y="556.3" width="174.5" height="2.4" fill="#4185bf"/>
<rect x="1353.8" y="558.3" width="174.5" height="4.0" fill="#5296cb"/>
<rect x="1353.8" y="561.9" width="174.5" height="3.5" fill="#66a4d2"/>
<rect x="1353.8" y="565.0" width="174.5" height="2.4" fill="#76afd7"/>
<rect x="1353.8" y="567.0" width="174.5" height="3.9" fill="#7bb2d8"/>
<rect x="1353.8" y="570.5" width="174.5" height="3.3" fill="#6da9d4"/>
<rect x="1353.8" y="573.4" width="174.5" height="3.4" fill="#ee9c7f"/>
<rect x="1353.8" y="576.4" width="174.5" height="3.0" fill="#e8876d"/>
<rect x="1353.8" y="579.0" width="174.5" height="3.9" fill="#98c4df"/>
<rect x="1353.8" y="582.5" width="174.5" height="2.5" fill="#a0c9e1"/>
<rect x="1353.8" y="584.6" width="174.5" height="4.4" fill="#b6d2e3"/>
<rect x="1353.8" y="588.6" width="174.5" height="2.0" fill="#b5d2e3"/>
<rect x="1353.8" y="590.2" width="174.5" height="3.2" fill="#f0a385"/>
<rect x="1353.8" y="593.0" width="174.5" height="3.4" fill="#d8dbdd"/>
<rect x="1353.8" y="596.0" width="174.5" height="3.0" fill="#d7dbdd"/>
<rect x="1353.8" y="598.6" width="174.5" height="4.4" fill="#edcdbe"/>
<rect x="1353.8" y="602.6" width="174.5" height="4.8" fill="#e1d9d5"/>
<rect x="1353.8" y="607.0" width="174.5" height="2.9" fill="#f5c3a8"/>
<rect x="1353.8" y="609.5" width="174.5" height="3.5" fill="#f4c4aa"/>
<rect x="1353.8" y="612.6" width="174.5" height="3.4" fill="#d6dbde"/>
<rect x="1353.8" y="615.6" width="174.5" height="3.4" fill="#dbdcdb"/>
<rect x="1353.8" y="618.6" width="174.5" height="4.4" fill="#dadbdc"/>
<rect x="1353.8" y="622.6" width="174.5" height="3.4" fill="#dcdcdb"/>
<rect x="1353.8" y="625.6" width="174.5" height="2.8" fill="#dfdbd9"/>
<rect x="1353.8" y="628.0" width="174.5" height="3.2" fill="#e1d9d5"/>
<rect x="1353.8" y="630.8" width="174.5" height="4.4" fill="#e17059"/>
<rect x="1353.8" y="634.8" width="174.5" height="2.0" fill="#e57a61"/>
<rect x="1353.8" y="636.4" width="174.5" height="2.9" fill="#f3b69a"/>
<rect x="1353.8" y="638.9" width="174.5" height="3.5" fill="#ee9a7d"/>
<rect x="1353.8" y="642.0" width="174.5" height="2.9" fill="#d7584a"/>
<rect x="1353.8" y="644.5" width="174.5" height="2.4" fill="#da5d4d"/>
<rect x="1353.8" y="646.5" width="174.5" height="4.3" fill="#d14c42"/>
<rect x="1353.8" y="650.4" width="174.5" height="4.6" fill="#d85b4b"/>
<rect x="1353.8" y="654.6" width="174.5" height="3.9" fill="#f5c2a7"/>
<rect x="1353.8" y="658.1" width="174.5" height="2.5" fill="#f1c7b2"/>
<rect x="1353.8" y="660.2" width="174.5" height="2.4" fill="#e3755d"/>
<rect x="1353.8" y="662.2" width="174.5" height="4.4" fill="#e4775e"/>
<rect x="1353.8" y="666.2" width="174.5" height="3.4" fill="#e06c57"/>
<rect x="1353.8" y="669.2" width="174.5" height="4.4" fill="#e3745c"/>
<rect x="1353.8" y="673.2" width="174.5" height="3.4" fill="#e3745c"/>
<rect x="1353.8" y="676.2" width="174.5" height="3.4" fill="#e67f65"/>
<rect x="1353.8" y="679.2" width="174.5" height="4.4" fill="#e57c63"/>
<rect x="1353.8" y="683.2" width="174.5" height="2.4" fill="#e4775e"/>
<rect x="1353.8" y="685.2" width="174.5" height="3.4" fill="#e57c62"/>
<rect x="1353.8" y="688.2" width="174.5" height="3.4" fill="#eecbba"/>
<rect x="1353.8" y="691.2" width="174.5" height="2.9" fill="#f4b99c"/>
<rect x="1353.8" y="693.7" width="174.5" height="3.9" fill="#f3b598"/>
<rect x="1353.8" y="697.2" width="174.5" height="4.4" fill="#f5c2a7"/>
<rect x="1353.8" y="701.2" width="174.5" height="2.9" fill="#f5c2a7"/>
<rect x="1353.8" y="703.7" width="174.5" height="2.9" fill="#ed997d"/>
<rect x="1353.8" y="706.2" width="174.5" height="3.4" fill="#ef9f81"/>
<rect x="1353.8" y="709.2" width="174.5" height="4.4" fill="#ef9f81"/>
<rect x="1353.8" y="713.2" width="174.5" height="2.1" fill="#ef9d80"/>
<rect x="1353.8" y="714.9" width="174.5" height="4.4" fill="#d24d43"/>
<rect x="1353.8" y="718.9" width="174.5" height="3.4" fill="#dc6351"/>
<rect x="1353.8" y="721.9" width="174.5" height="3.4" fill="#e3765e"/>
<rect x="1353.8" y="724.9" width="174.5" height="3.4" fill="#e3755d"/>
<rect x="1353.8" y="727.9" width="174.5" height="4.4" fill="#dc6250"/>
<rect x="1353.8" y="731.9" width="174.5" height="2.4" fill="#df6955"/>
<rect x="1353.8" y="733.9" width="174.5" height="4.4" fill="#e2725b"/>
<rect x="1353.8" y="737.9" width="174.5" height="2.5" fill="#e1705a"/>
<rect x="1353.8" y="740.0" width="174.5" height="3.9" fill="#e6d4cc"/>
<rect x="1353.8" y="743.5" width="174.5" height="2.6" fill="#e7d3c9"/>
<rect x="1353.8" y="745.7" width="174.5" height="3.4" fill="#91bfdd"/>
<rect x="1353.8" y="748.7" width="174.5" height="3.0" fill="#81b5d9"/>
<rect x="1353.8" y="751.3" width="174.5" height="4.4" fill="#f3b497"/>
<rect x="1353.8" y="755.3" width="174.5" height="3.4" fill="#f1a88a"/>
<rect x="1353.8" y="758.3" width="174.5" height="2.1" fill="#e9d1c7"/>
<rect x="1353.8" y="760.0" width="174.5" height="4.6" fill="#e6d4cc"/>
<rect x="1353.8" y="764.2" width="174.5" height="4.6" fill="#f4c4aa"/>
<rect x="1353.8" y="768.4" width="174.5" height="2.9" fill="#dedcda"/>
<rect x="1353.8" y="770.9" width="174.5" height="2.4" fill="#e0dad7"/>
<rect x="1353.8" y="772.9" width="174.5" height="4.3" fill="#c5d8e4"/>
<rect x="1353.8" y="776.8" width="174.5" height="4.6" fill="#f5c4a9"/>
<rect x="1353.8" y="781.0" width="174.5" height="3.4" fill="#bad4e4"/>
<rect x="1353.8" y="784.0" width="174.5" height="3.4" fill="#c6d8e4"/>
<rect x="1353.8" y="787.0" width="174.5" height="3.4" fill="#bfd6e4"/>
<rect x="1353.8" y="790.0" width="174.5" height="3.4" fill="#ccd9e2"/>
<rect x="1353.8" y="793.0" width="174.5" height="2.4" fill="#c3d7e5"/>
<rect x="1353.8" y="795.0" width="174.5" height="3.4" fill="#eecbbb"/>
<rect x="1353.8" y="798.0" width="174.5" height="3.0" fill="#e8d2c8"/>
<rect x="1353.8" y="800.6" width="174.5" height="3.9" fill="#adcfe2"/>
<rect x="1353.8" y="804.1" width="174.5" height="2.4" fill="#b8d3e4"/>
<rect x="1353.8" y="806.1" width="174.5" height="3.3" fill="#abcee2"/>
<rect x="1353.8" y="809.0" width="174.5" height="3.9" fill="#f2b092"/>
<rect x="1353.8" y="812.5" width="174.5" height="3.9" fill="#f1a586"/>
<rect x="1353.8" y="816.0" width="174.5" height="3.9" fill="#ee9c7f"/>
<rect x="1353.8" y="819.5" width="174.5" height="3.9" fill="#f3b497"/>
<rect x="1353.8" y="823.0" width="174.5" height="3.4" fill="#f3b79a"/>
<rect x="1353.8" y="826.0" width="174.5" height="3.4" fill="#f3b699"/>
<rect x="1353.8" y="829.0" width="174.5" height="5.6" fill="#f1c8b3"/>
<rect x="1353.8" y="834.2" width="174.5" height="3.9" fill="#b42031"/>
<rect x="1353.8" y="837.7" width="174.5" height="3.4" fill="#a7152c"/>
<rect x="1353.8" y="840.7" width="174.5" height="3.7" fill="#aa172d"/>
<rect x="1353.8" y="844.0" width="174.5" height="3.4" fill="#d7584a"/>
<rect x="1353.8" y="847.0" width="174.5" height="4.4" fill="#db5f4e"/>
<rect x="1353.8" y="851.0" width="174.5" height="2.9" fill="#d35045"/>
<rect x="1353.8" y="853.5" width="174.5" height="4.4" fill="#ce463f"/>
<rect x="1353.8" y="857.5" width="174.5" height="3.9" fill="#d14b42"/>
<rect x="1353.8" y="861.0" width="174.5" height="3.0" fill="#d34f45"/>
<rect x="1353.8" y="863.6" width="174.5" height="4.6" fill="#efcab8"/>
<rect x="1353.8" y="867.8" width="174.5" height="3.4" fill="#e57d64"/>
<rect x="1353.8" y="870.8" width="174.5" height="4.4" fill="#e57c63"/>
<rect x="1353.8" y="874.8" width="174.5" height="4.6" fill="#cedae1"/>
<rect x="1353.8" y="879.0" width="174.5" height="3.4" fill="#d24e44"/>
<rect x="1353.8" y="882.0" width="174.5" height="3.0" fill="#cd453f"/>
<rect x="1353.8" y="884.6" width="174.5" height="2.4" fill="#f3c5ae"/>
<rect x="1353.8" y="886.6" width="174.5" height="4.1" fill="#f2ac8e"/>
<rect x="1353.8" y="890.3" width="174.5" height="3.4" fill="#d04941"/>
<rect x="1353.8" y="893.3" width="174.5" height="3.9" fill="#dc614f"/>
<rect x="1353.8" y="896.8" width="174.5" height="3.9" fill="#cc443e"/>
<rect x="1353.8" y="900.3" width="174.5" height="2.9" fill="#c63b3b"/>
<rect x="1353.8" y="902.8" width="174.5" height="3.3" fill="#da5e4d"/>
<rect x="1353.8" y="905.7" width="174.5" height="3.4" fill="#be2e36"/>
<rect x="1353.8" y="908.7" width="174.5" height="2.4" fill="#c13338"/>
<rect x="1353.8" y="910.7" width="174.5" height="2.4" fill="#b82533"/>
<rect x="1353.8" y="912.7" width="174.5" height="2.9" fill="#d45246"/>
<rect x="1353.8" y="915.2" width="174.5" height="2.9" fill="#dd6452"/>
<rect x="1353.8" y="917.7" width="174.5" height="2.4" fill="#e06e58"/>
<rect x="1353.8" y="919.7" width="174.5" height="2.9" fill="#d14c42"/>
<rect x="1353.8" y="922.2" width="174.5" height="4.9" fill="#d8594b"/>
<rect x="1353.8" y="926.7" width="174.5" height="3.4" fill="#a7162c"/>
<rect x="1353.8" y="929.7" width="174.5" height="3.0" fill="#b62232"/>
<rect x="1353.8" y="932.3" width="174.5" height="4.4" fill="#f1a98a"/>
<rect x="1353.8" y="936.3" width="174.5" height="2.4" fill="#ee9b7e"/>
<rect x="1353.8" y="938.3" width="174.5" height="3.4" fill="#f1a98b"/>
<rect x="1353.8" y="941.3" width="174.5" height="2.6" fill="#f2ad8f"/>
<rect x="1353.8" y="943.5" width="174.5" height="2.9" fill="#e2725b"/>
<rect x="1353.8" y="946.0" width="174.5" height="3.5" fill="#e4775f"/>
<rect x="1353.8" y="949.1" width="174.5" height="2.9" fill="#efa082"/>
<rect x="1353.8" y="951.6" width="174.5" height="3.8" fill="#eb9277"/>
<rect x="1353.8" y="955.0" width="174.5" height="3.4" fill="#d35145"/>
<rect x="1353.8" y="958.0" width="174.5" height="2.4" fill="#d65649"/>
<rect x="1353.8" y="960.0" width="174.5" height="3.4" fill="#d45246"/>
<rect x="1353.8" y="963.0" width="174.5" height="2.4" fill="#cf4840"/>
<rect x="1353.8" y="965.0" width="174.5" height="2.4" fill="#c73c3b"/>
<rect x="1353.8" y="967.0" width="174.5" height="3.9" fill="#d45246"/>
<rect x="1353.8" y="970.5" width="174.5" height="3.4" fill="#ce4740"/>
<rect x="1353.8" y="973.5" width="174.5" height="2.4" fill="#d04b42"/>
<rect x="1353.8" y="975.5" width="174.5" height="2.3" fill="#d8594b"/>
<rect x="1353.8" y="977.4" width="174.5" height="4.6" fill="#f5c3a8"/>
<rect x="1353.8" y="981.6" width="174.5" height="3.4" fill="#e16e59"/>
<rect x="1353.8" y="984.6" width="174.5" height="2.9" fill="#de6854"/>
<rect x="1353.8" y="987.1" width="174.5" height="2.4" fill="#de6854"/>
<rect x="1353.8" y="989.1" width="174.5" height="3.4" fill="#dd6452"/>
<rect x="1353.8" y="992.1" width="174.5" height="3.9" fill="#e8856b"/>
<rect x="1353.8" y="995.6" width="174.5" height="3.4" fill="#efa082"/>
<rect x="1353.8" y="998.6" width="174.5" height="2.9" fill="#ef9f81"/>
<rect x="1353.8" y="1001.1" width="174.5" height="2.4" fill="#ee9c7f"/>
<rect x="1353.8" y="1003.1" width="174.5" height="2.7" fill="#f1a98b"/>
<rect x="1353.8" y="1005.4" width="174.5" height="2.4" fill="#f0c9b5"/>
<rect x="1353.8" y="1007.4" width="174.5" height="2.6" fill="#f4c4aa"/>
<rect x="1353.8" y="1009.6" width="174.5" height="4.4" fill="#d85a4b"/>
<rect x="1353.8" y="1013.6" width="174.5" height="4.4" fill="#d35045"/>
<rect x="1353.8" y="1017.6" width="174.5" height="2.2" fill="#d04941"/>
<rect x="1353.8" y="1019.4" width="174.5" height="3.4" fill="#d8dbdd"/>
<rect x="1353.8" y="1022.4" width="174.5" height="3.9" fill="#bbd4e4"/>
<rect x="1353.8" y="1025.9" width="174.5" height="3.7" fill="#cfdae0"/>
<rect x="1353.8" y="1029.2" width="174.5" height="2.9" fill="#a6cce1"/>
<rect x="1353.8" y="1031.7" width="174.5" height="2.4" fill="#abcee2"/>
<rect x="1353.8" y="1033.7" width="174.5" height="2.4" fill="#b3d1e3"/>
<rect x="1353.8" y="1035.7" width="174.5" height="3.4" fill="#b3d1e3"/>
<rect x="1353.8" y="1038.7" width="174.5" height="2.1" fill="#92c0dd"/>
<rect x="1353.8" y="1040.4" width="174.5" height="2.9" fill="#f4bfa4"/>
<rect x="1353.8" y="1042.9" width="174.5" height="3.5" fill="#f2c6af"/>
<rect x="1353.8" y="1046.0" width="174.5" height="2.9" fill="#afcfe2"/>
<rect x="1353.8" y="1048.5" width="174.5" height="2.4" fill="#abcee2"/>
<rect x="1353.8" y="1050.5" width="174.5" height="2.9" fill="#90bfdd"/>
<rect x="1353.8" y="1053.0" width="174.5" height="3.4" fill="#67001d"/>
<rect x="1353.8" y="1056.0" width="174.5" height="4.4" fill="#6a011e"/>
<rect x="1353.8" y="1060.0" width="174.5" height="3.4" fill="#ad182d"/>
<rect x="1353.8" y="1063.0" width="174.5" height="3.4" fill="#960f28"/>
<rect x="1353.8" y="1066.0" width="174.5" height="3.9" fill="#a5152c"/>
<rect x="1353.8" y="1069.5" width="174.5" height="2.9" fill="#ac172d"/>
<rect x="1353.8" y="1072.0" width="174.5" height="3.8" fill="#ba2834"/>
<rect x="1353.8" y="1075.4" width="174.5" height="3.4" fill="#efcbb9"/>
<rect x="1353.8" y="1078.4" width="174.5" height="3.4" fill="#f1c8b3"/>
<rect x="1353.8" y="1081.4" width="174.5" height="2.8" fill="#f0c9b5"/>
<rect x="1353.8" y="1083.8" width="174.5" height="3.9" fill="#ea8c71"/>
<rect x="1353.8" y="1087.3" width="174.5" height="5.3" fill="#f3b89b"/>
<rect x="1353.8" y="1092.2" width="174.5" height="3.9" fill="#cedae1"/>
<rect x="1353.8" y="1095.7" width="174.5" height="2.4" fill="#cbd9e2"/>
<rect x="1353.8" y="1097.7" width="174.5" height="2.0" fill="#c4d8e5"/>
<rect x="1353.8" y="1099.3" width="174.5" height="3.1" fill="#ef9e81"/>
<rect x="1353.8" y="1102.0" width="174.5" height="2.9" fill="#e0dad7"/>
<rect x="1353.8" y="1104.5" width="174.5" height="2.4" fill="#d0dae0"/>
<rect x="1353.8" y="1106.5" width="174.5" height="2.9" fill="#bdd5e4"/>
<rect x="1353.8" y="1109.0" width="174.5" height="2.4" fill="#d3dadf"/>
<rect x="1353.8" y="1111.0" width="174.5" height="3.4" fill="#dcdcdb"/>
<rect x="1353.8" y="1114.0" width="174.5" height="2.5" fill="#d7dbdd"/>
<rect x="1353.8" y="1116.1" width="174.5" height="4.4" fill="#98c4df"/>
<rect x="1353.8" y="1120.1" width="174.5" height="2.4" fill="#a6cce2"/>
<rect x="1353.8" y="1122.1" width="174.5" height="3.9" fill="#a7cce2"/>
<rect x="1353.8" y="1125.6" width="174.5" height="3.4" fill="#96c3de"/>
<rect x="1353.8" y="1128.6" width="174.5" height="3.9" fill="#93c1de"/>
<rect x="1353.8" y="1132.1" width="174.5" height="4.0" fill="#98c4df"/>
<rect x="1353.8" y="1135.7" width="174.5" height="4.6" fill="#7ab1d8"/>
<rect x="1353.8" y="1139.9" width="174.5" height="3.4" fill="#e9896f"/>
<rect x="1353.8" y="1142.9" width="174.5" height="2.9" fill="#e57a61"/>
<rect x="1353.8" y="1145.4" width="174.5" height="3.3" fill="#e06d58"/>
<rect x="1353.8" y="1148.3" width="174.5" height="2.1" fill="#ebcfc3"/>
<rect x="1353.8" y="1150.0" width="174.5" height="3.4" fill="#f1c7b1"/>
<rect x="1353.8" y="1153.0" width="174.5" height="2.9" fill="#e8d2c8"/>
<rect x="1353.8" y="1155.5" width="174.5" height="1.9" fill="#eeccbc"/>
<rect x="1353.8" y="1157.0" width="174.5" height="4.6" fill="#e98b71"/>
<rect x="1353.8" y="1161.2" width="174.5" height="3.4" fill="#d2dadf"/>
<rect x="1353.8" y="1164.2" width="174.5" height="3.0" fill="#d8dbdc"/>
<rect x="1353.8" y="1166.8" width="174.5" height="3.4" fill="#b7d3e3"/>
<rect x="1353.8" y="1169.8" width="174.5" height="3.4" fill="#95c2de"/>
<rect x="1353.8" y="1172.8" width="174.5" height="2.8" fill="#c7d8e4"/>
<rect x="1353.8" y="1175.2" width="174.5" height="3.4" fill="#f1c8b3"/>
<rect x="1353.8" y="1178.2" width="174.5" height="3.4" fill="#f5c0a5"/>
<rect x="1353.8" y="1181.2" width="174.5" height="5.6" fill="#f5c0a4"/>
<rect x="1353.8" y="1186.4" width="174.5" height="3.9" fill="#d6dbde"/>
<rect x="1353.8" y="1189.9" width="174.5" height="3.9" fill="#dadbdc"/>
<rect x="1353.8" y="1193.4" width="174.5" height="3.9" fill="#f1a586"/>
<rect x="1353.8" y="1196.9" width="174.5" height="2.4" fill="#f2ad8f"/>
<rect x="1353.8" y="1198.9" width="174.5" height="1.9" fill="#f4bfa4"/>
<rect x="1353.8" y="1200.4" width="174.5" height="2.4" fill="#ee9b7e"/>
<rect x="1353.8" y="1202.4" width="174.5" height="3.4" fill="#f0a385"/>
<rect x="1353.8" y="1205.4" width="174.5" height="2.4" fill="#ed997d"/>
<rect x="1353.8" y="1207.4" width="174.5" height="2.4" fill="#f0a384"/>
<rect x="1353.8" y="1209.4" width="174.5" height="2.9" fill="#ef9f81"/>
<rect x="1353.8" y="1211.9" width="174.5" height="2.9" fill="#ef9e81"/>
<rect x="1353.8" y="1214.4" width="174.5" height="2.4" fill="#f4ba9e"/>
<rect x="1353.8" y="1216.4" width="174.5" height="3.9" fill="#f2ad8f"/>
<rect x="1353.8" y="1219.9" width="174.5" height="1.9" fill="#f3b497"/>
<rect x="1353.8" y="1221.4" width="174.5" height="2.4" fill="#d14b42"/>
<rect x="1353.8" y="1223.4" width="174.5" height="3.4" fill="#db604f"/>
<rect x="1353.8" y="1226.4" width="174.5" height="5.2" fill="#d95b4c"/>
<rect x="1353.8" y="1231.2" width="174.5" height="3.9" fill="#f5c1a6"/>
<rect x="1353.8" y="1234.7" width="174.5" height="3.9" fill="#ee9c7f"/>
<rect x="1353.8" y="1238.2" width="174.5" height="3.9" fill="#f2ad8f"/>
<rect x="1353.8" y="1241.7" width="174.5" height="2.4" fill="#ef9f81"/>
<rect x="1353.8" y="1243.7" width="174.5" height="1.9" fill="#f1a586"/>
<rect x="1353.8" y="1245.2" width="174.5" height="4.4" fill="#dddcda"/>
<rect x="1353.8" y="1249.2" width="174.5" height="4.8" fill="#cfdae0"/>
<rect x="1353.8" y="1253.6" width="174.5" height="2.9" fill="#8dbddc"/>
<rect x="1353.8" y="1256.1" width="174.5" height="2.1" fill="#84b7da"/>
<rect x="1353.8" y="1257.8" width="174.5" height="3.9" fill="#d4dbde"/>
<rect x="1353.8" y="1261.3" width="174.5" height="2.4" fill="#d8dbdc"/>
<rect x="1353.8" y="1263.3" width="174.5" height="1.9" fill="#e0dad7"/>
<rect x="1353.8" y="1264.8" width="174.5" height="3.4" fill="#61a0d0"/>
<rect x="1353.8" y="1267.8" width="174.5" height="2.9" fill="#599bcd"/>
<rect x="1353.8" y="1270.3" width="174.5" height="1.9" fill="#5799cd"/>
<rect x="1353.8" y="1271.8" width="174.5" height="2.9" fill="#92c0dd"/>
<rect x="1353.8" y="1274.3" width="174.5" height="4.4" fill="#95c2de"/>
<rect x="1353.8" y="1278.3" width="174.5" height="5.1" fill="#8cbcdc"/>
<rect x="1353.8" y="1283.0" width="174.5" height="3.4" fill="#d6dbdd"/>
<rect x="1353.8" y="1286.0" width="174.5" height="3.4" fill="#ccd9e2"/>
<rect x="1353.8" y="1289.0" width="174.5" height="4.4" fill="#c5d8e5"/>
<rect x="1353.8" y="1293.0" width="174.5" height="2.9" fill="#d1dadf"/>
<rect x="1353.8" y="1295.5" width="174.5" height="3.4" fill="#c7d8e4"/>
<rect x="1353.8" y="1298.5" width="174.5" height="3.9" fill="#f2ae90"/>
<rect x="1353.8" y="1302.0" width="174.5" height="2.4" fill="#f4c4aa"/>
<rect x="1353.8" y="1304.0" width="174.5" height="3.4" fill="#f3c6ae"/>
<rect x="1353.8" y="1307.0" width="174.5" height="3.9" fill="#edcdbd"/>
<rect x="1353.8" y="1310.5" width="174.5" height="3.8" fill="#f3c5ac"/>
<rect x="1353.8" y="1313.9" width="174.5" height="2.9" fill="#c7d8e4"/>
<rect x="1353.8" y="1316.4" width="174.5" height="4.4" fill="#cdd9e1"/>
<rect x="1353.8" y="1320.4" width="174.5" height="3.4" fill="#cfdae0"/>
<rect x="1353.8" y="1323.4" width="174.5" height="2.9" fill="#b1d0e3"/>
<rect x="1353.8" y="1325.9" width="174.5" height="3.8" fill="#d2dadf"/>
<rect x="1353.8" y="1329.3" width="174.5" height="4.4" fill="#e4d6d0"/>
<rect x="1353.8" y="1333.3" width="174.5" height="3.4" fill="#dddcdb"/>
<rect x="1353.8" y="1336.3" width="174.5" height="3.9" fill="#f0a183"/>
<rect x="1353.8" y="1339.8" width="174.5" height="2.4" fill="#ed977c"/>
<rect x="1353.8" y="1341.8" width="174.5" height="1.9" fill="#f1a98b"/>
<rect x="1353.8" y="1343.3" width="174.5" height="4.4" fill="#b8d3e4"/>
<rect x="1353.8" y="1347.3" width="174.5" height="3.4" fill="#c9d9e3"/>
<rect x="1353.8" y="1350.3" width="174.5" height="2.9" fill="#afcfe3"/>
<rect x="1353.8" y="1352.8" width="174.5" height="2.1" fill="#c8d9e3"/>
<rect x="1527.7" y="373.0" width="174.5" height="3.4" fill="#5f9fd0"/>
<rect x="1527.7" y="376.0" width="174.5" height="2.8" fill="#64a2d1"/>
<rect x="1527.7" y="378.4" width="174.5" height="3.9" fill="#3e82bd"/>
<rect x="1527.7" y="381.9" width="174.5" height="3.9" fill="#458ac3"/>
<rect x="1527.7" y="385.4" width="174.5" height="2.9" fill="#64a2d1"/>
<rect x="1527.7" y="387.9" width="174.5" height="3.9" fill="#69a5d3"/>
<rect x="1527.7" y="391.4" width="174.5" height="4.2" fill="#5a9cce"/>
<rect x="1527.7" y="395.2" width="174.5" height="2.4" fill="#d8dbdd"/>
<rect x="1527.7" y="397.2" width="174.5" height="2.4" fill="#dbdcdb"/>
<rect x="1527.7" y="399.2" width="174.5" height="4.8" fill="#e2d8d3"/>
<rect x="1527.7" y="403.6" width="174.5" height="3.4" fill="#5f9fcf"/>
<rect x="1527.7" y="406.6" width="174.5" height="3.4" fill="#65a3d1"/>
<rect x="1527.7" y="409.6" width="174.5" height="2.4" fill="#6ca8d4"/>
<rect x="1527.7" y="411.6" width="174.5" height="4.4" fill="#5f9fcf"/>
<rect x="1527.7" y="415.6" width="174.5" height="2.9" fill="#65a3d1"/>
<rect x="1527.7" y="418.1" width="174.5" height="2.4" fill="#5f9fcf"/>
<rect x="1527.7" y="420.1" width="174.5" height="3.9" fill="#61a0d0"/>
<rect x="1527.7" y="423.6" width="174.5" height="4.4" fill="#64a2d1"/>
<rect x="1527.7" y="427.6" width="174.5" height="3.9" fill="#69a6d3"/>
<rect x="1527.7" y="431.1" width="174.5" height="3.9" fill="#609fd0"/>
<rect x="1527.7" y="434.6" width="174.5" height="3.0" fill="#5497cc"/>
<rect x="1527.7" y="437.2" width="174.5" height="3.4" fill="#87b9db"/>
<rect x="1527.7" y="440.2" width="174.5" height="3.9" fill="#93c1de"/>
<rect x="1527.7" y="443.7" width="174.5" height="2.9" fill="#93c1de"/>
<rect x="1527.7" y="446.2" width="174.5" height="3.4" fill="#98c4df"/>
<rect x="1527.7" y="449.2" width="174.5" height="2.4" fill="#91c0dd"/>
<rect x="1527.7" y="451.2" width="174.5" height="2.9" fill="#c6d8e4"/>
<rect x="1527.7" y="453.7" width="174.5" height="3.4" fill="#abcee2"/>
<rect x="1527.7" y="456.7" width="174.5" height="1.9" fill="#c6d8e4"/>
<rect x="1527.7" y="458.2" width="174.5" height="4.4" fill="#5b9cce"/>
<rect x="1527.7" y="462.2" width="174.5" height="3.4" fill="#4b91c8"/>
<rect x="1527.7" y="465.2" width="174.5" height="2.9" fill="#83b7da"/>
<rect x="1527.7" y="467.7" width="174.5" height="3.4" fill="#75aed7"/>
<rect x="1527.7" y="470.7" width="174.5" height="3.9" fill="#7db3d9"/>
<rect x="1527.7" y="474.2" width="174.5" height="2.4" fill="#80b5d9"/>
<rect x="1527.7" y="476.2" width="174.5" height="2.4" fill="#70abd5"/>
<rect x="1527.7" y="478.2" width="174.5" height="4.2" fill="#87b9db"/>
<rect x="1527.7" y="482.0" width="174.5" height="2.9" fill="#a5cbe1"/>
<rect x="1527.7" y="484.5" width="174.5" height="4.4" fill="#97c3de"/>
<rect x="1527.7" y="488.5" width="174.5" height="3.4" fill="#96c3de"/>
<rect x="1527.7" y="491.5" width="174.5" height="3.9" fill="#99c4df"/>
<rect x="1527.7" y="495.0" width="174.5" height="2.8" fill="#9bc6df"/>
<rect x="1527.7" y="497.4" width="174.5" height="2.4" fill="#b6d2e3"/>
<rect x="1527.7" y="499.4" width="174.5" height="5.5" fill="#c0d6e5"/>
<rect x="1527.7" y="504.5" width="174.5" height="3.4" fill="#65a3d2"/>
<rect x="1527.7" y="507.5" width="174.5" height="2.9" fill="#61a0d0"/>
<rect x="1527.7" y="510.0" width="174.5" height="3.9" fill="#ebcfc2"/>
<rect x="1527.7" y="513.5" width="174.5" height="2.6" fill="#e9d1c6"/>
<rect x="1527.7" y="515.7" width="174.5" height="2.9" fill="#5a9bce"/>
<rect x="1527.7" y="518.2" width="174.5" height="2.9" fill="#589acd"/>
<rect x="1527.7" y="520.7" width="174.5" height="3.9" fill="#5195ca"/>
<rect x="1527.7" y="524.2" width="174.5" height="3.9" fill="#5799cd"/>
<rect x="1527.7" y="527.7" width="174.5" height="4.4" fill="#5d9dcf"/>
<rect x="1527.7" y="531.7" width="174.5" height="3.4" fill="#6ea9d5"/>
<rect x="1527.7" y="534.7" width="174.5" height="3.7" fill="#5799cd"/>
<rect x="1527.7" y="538.0" width="174.5" height="2.4" fill="#64a2d1"/>
<rect x="1527.7" y="540.0" width="174.5" height="2.9" fill="#63a1d1"/>
<rect x="1527.7" y="542.5" width="174.5" height="3.4" fill="#65a3d1"/>
<rect x="1527.7" y="545.5" width="174.5" height="2.4" fill="#6faad5"/>
<rect x="1527.7" y="547.5" width="174.5" height="3.9" fill="#60a0d0"/>
<rect x="1527.7" y="551.0" width="174.5" height="3.9" fill="#68a5d2"/>
<rect x="1527.7" y="554.5" width="174.5" height="2.4" fill="#6da9d4"/>
<rect x="1527.7" y="556.5" width="174.5" height="3.4" fill="#5f9ecf"/>
<rect x="1527.7" y="559.5" width="174.5" height="2.9" fill="#76afd7"/>
<rect x="1527.7" y="562.0" width="174.5" height="3.4" fill="#67a4d2"/>
<rect x="1527.7" y="565.0" width="174.5" height="3.4" fill="#71abd6"/>
<rect x="1527.7" y="568.0" width="174.5" height="2.4" fill="#7fb4d9"/>
<rect x="1527.7" y="570.0" width="174.5" height="3.8" fill="#86b8db"/>
<rect x="1527.7" y="573.4" width="174.5" height="3.4" fill="#80b5d9"/>
<rect x="1527.7" y="576.4" width="174.5" height="2.9" fill="#70abd5"/>
<rect x="1527.7" y="578.9" width="174.5" height="1.9" fill="#79b1d8"/>
<rect x="1527.7" y="580.4" width="174.5" height="3.4" fill="#cdd9e1"/>
<rect x="1527.7" y="583.4" width="174.5" height="3.4" fill="#e1d9d4"/>
<rect x="1527.7" y="586.4" width="174.5" height="2.8" fill="#cfdae0"/>
<rect x="1527.7" y="588.8" width="174.5" height="2.9" fill="#83b7da"/>
<rect x="1527.7" y="591.3" width="174.5" height="2.9" fill="#83b7da"/>
<rect x="1527.7" y="593.8" width="174.5" height="2.4" fill="#84b7da"/>
<rect x="1527.7" y="595.8" width="174.5" height="3.4" fill="#9bc5df"/>
<rect x="1527.7" y="598.8" width="174.5" height="4.4" fill="#accee2"/>
<rect x="1527.7" y="602.8" width="174.5" height="3.4" fill="#dbdcdb"/>
<rect x="1527.7" y="605.8" width="174.5" height="3.9" fill="#d8dbdc"/>
<rect x="1527.7" y="609.3" width="174.5" height="3.4" fill="#c8d9e3"/>
<rect x="1527.7" y="612.3" width="174.5" height="3.4" fill="#e8d2c8"/>
<rect x="1527.7" y="615.3" width="174.5" height="3.4" fill="#dadbdc"/>
<rect x="1527.7" y="618.3" width="174.5" height="3.9" fill="#dfdbd8"/>
<rect x="1527.7" y="621.8" width="174.5" height="2.4" fill="#cbd9e2"/>
<rect x="1527.7" y="623.8" width="174.5" height="4.4" fill="#eecbba"/>
<rect x="1527.7" y="627.8" width="174.5" height="3.4" fill="#f2aa8b"/>
<rect x="1527.7" y="630.8" width="174.5" height="2.4" fill="#a0c9e1"/>
<rect x="1527.7" y="632.8" width="174.5" height="3.9" fill="#a1cae1"/>
<rect x="1527.7" y="636.3" width="174.5" height="3.4" fill="#95c2de"/>
<rect x="1527.7" y="639.3" width="174.5" height="3.1" fill="#95c2de"/>
<rect x="1527.7" y="642.0" width="174.5" height="2.4" fill="#ef9e81"/>
<rect x="1527.7" y="644.0" width="174.5" height="3.4" fill="#e78168"/>
<rect x="1527.7" y="647.0" width="174.5" height="2.4" fill="#e9886e"/>
<rect x="1527.7" y="649.0" width="174.5" height="3.2" fill="#e67f65"/>
<rect x="1527.7" y="651.8" width="174.5" height="3.4" fill="#f1a98a"/>
<rect x="1527.7" y="654.8" width="174.5" height="3.9" fill="#f5c0a5"/>
<rect x="1527.7" y="658.3" width="174.5" height="2.3" fill="#f4c4aa"/>
<rect x="1527.7" y="660.2" width="174.5" height="2.4" fill="#d24e44"/>
<rect x="1527.7" y="662.2" width="174.5" height="2.9" fill="#dd6552"/>
<rect x="1527.7" y="664.7" width="174.5" height="3.4" fill="#dd6552"/>
<rect x="1527.7" y="667.7" width="174.5" height="2.4" fill="#d55347"/>
<rect x="1527.7" y="669.7" width="174.5" height="3.4" fill="#d45146"/>
<rect x="1527.7" y="672.7" width="174.5" height="2.9" fill="#dc6350"/>
<rect x="1527.7" y="675.2" width="174.5" height="2.9" fill="#e16f59"/>
<rect x="1527.7" y="677.7" width="174.5" height="3.4" fill="#d95c4c"/>
<rect x="1527.7" y="680.7" width="174.5" height="2.3" fill="#dc614f"/>
<rect x="1527.7" y="682.6" width="174.5" height="2.9" fill="#d04b42"/>
<rect x="1527.7" y="685.1" width="174.5" height="2.1" fill="#cc433e"/>
<rect x="1527.7" y="686.8" width="174.5" height="4.4" fill="#f1a586"/>
<rect x="1527.7" y="690.8" width="174.5" height="2.1" fill="#f3b194"/>
<rect x="1527.7" y="692.5" width="174.5" height="3.9" fill="#d65649"/>
<rect x="1527.7" y="696.0" width="174.5" height="3.4" fill="#de6653"/>
<rect x="1527.7" y="699.0" width="174.5" height="3.4" fill="#e98a70"/>
<rect x="1527.7" y="702.0" width="174.5" height="2.9" fill="#d85b4b"/>
<rect x="1527.7" y="704.5" width="174.5" height="3.9" fill="#de6753"/>
<rect x="1527.7" y="708.0" width="174.5" height="4.4" fill="#dd6552"/>
<rect x="1527.7" y="712.0" width="174.5" height="1.9" fill="#dc6351"/>
<rect x="1527.7" y="713.5" width="174.5" height="2.4" fill="#e8856b"/>
<rect x="1527.7" y="715.5" width="174.5" height="2.4" fill="#ea8d73"/>
<rect x="1527.7" y="717.5" width="174.5" height="3.9" fill="#e1715a"/>
<rect x="1527.7" y="721.0" width="174.5" height="3.9" fill="#e7846a"/>
<rect x="1527.7" y="724.5" width="174.5" height="3.4" fill="#eb8f75"/>
<rect x="1527.7" y="727.5" width="174.5" height="3.9" fill="#dd6653"/>
<rect x="1527.7" y="731.0" width="174.5" height="3.9" fill="#e06d58"/>
<rect x="1527.7" y="734.5" width="174.5" height="2.9" fill="#db604e"/>
<rect x="1527.7" y="737.0" width="174.5" height="4.4" fill="#e16f59"/>
<rect x="1527.7" y="741.0" width="174.5" height="3.7" fill="#e57a61"/>
<rect x="1527.7" y="744.3" width="174.5" height="2.9" fill="#ed987c"/>
<rect x="1527.7" y="746.8" width="174.5" height="2.9" fill="#f1a486"/>
<rect x="1527.7" y="749.3" width="174.5" height="2.4" fill="#f2b093"/>
<rect x="1527.7" y="751.3" width="174.5" height="4.6" fill="#f1a688"/>
<rect x="1527.7" y="755.5" width="174.5" height="3.4" fill="#bed5e4"/>
<rect x="1527.7" y="758.5" width="174.5" height="1.9" fill="#d7dbdd"/>
<rect x="1527.7" y="760.0" width="174.5" height="4.4" fill="#c5d8e5"/>
<rect x="1527.7" y="764.0" width="174.5" height="2.0" fill="#b4d1e3"/>
<rect x="1527.7" y="765.6" width="174.5" height="4.6" fill="#ec957a"/>
<rect x="1527.7" y="769.8" width="174.5" height="3.4" fill="#b8d3e4"/>
<rect x="1527.7" y="772.8" width="174.5" height="3.0" fill="#bad4e4"/>
<rect x="1527.7" y="775.4" width="174.5" height="3.4" fill="#d75749"/>
<rect x="1527.7" y="778.4" width="174.5" height="3.4" fill="#c63b3b"/>
<rect x="1527.7" y="781.4" width="174.5" height="2.8" fill="#cd443f"/>
<rect x="1527.7" y="783.8" width="174.5" height="3.2" fill="#ec9479"/>
<rect x="1527.7" y="786.6" width="174.5" height="3.4" fill="#b72432"/>
<rect x="1527.7" y="789.6" width="174.5" height="3.4" fill="#ba2834"/>
<rect x="1527.7" y="792.6" width="174.5" height="4.4" fill="#b62332"/>
<rect x="1527.7" y="796.6" width="174.5" height="3.9" fill="#b62332"/>
<rect x="1527.7" y="800.1" width="174.5" height="2.3" fill="#af192e"/>
<rect x="1527.7" y="802.0" width="174.5" height="3.4" fill="#750321"/>
<rect x="1527.7" y="805.0" width="174.5" height="3.0" fill="#730320"/>
<rect x="1527.7" y="807.6" width="174.5" height="3.9" fill="#dd6451"/>
<rect x="1527.7" y="811.1" width="174.5" height="3.9" fill="#d04941"/>
<rect x="1527.7" y="814.6" width="174.5" height="4.4" fill="#cf4840"/>
<rect x="1527.7" y="818.6" width="174.5" height="3.4" fill="#d04a41"/>
<rect x="1527.7" y="821.6" width="174.5" height="3.2" fill="#db604f"/>
<rect x="1527.7" y="824.4" width="174.5" height="2.4" fill="#af182e"/>
<rect x="1527.7" y="826.4" width="174.5" height="4.4" fill="#b92633"/>
<rect x="1527.7" y="830.4" width="174.5" height="2.4" fill="#a9162c"/>
<rect x="1527.7" y="832.4" width="174.5" height="2.2" fill="#b21d2f"/>
<rect x="1527.7" y="834.2" width="174.5" height="2.4" fill="#f0a284"/>
<rect x="1527.7" y="836.2" width="174.5" height="2.9" fill="#ec957a"/>
<rect x="1527.7" y="838.7" width="174.5" height="3.4" fill="#f4bda1"/>
<rect x="1527.7" y="841.7" width="174.5" height="4.4" fill="#ed997d"/>
<rect x="1527.7" y="845.7" width="174.5" height="5.7" fill="#f1a586"/>
<rect x="1527.7" y="851.0" width="174.5" height="2.9" fill="#d55448"/>
<rect x="1527.7" y="853.5" width="174.5" height="2.4" fill="#dc6250"/>
<rect x="1527.7" y="855.5" width="174.5" height="3.4" fill="#dd6552"/>
<rect x="1527.7" y="858.5" width="174.5" height="4.1" fill="#d55347"/>
<rect x="1527.7" y="862.2" width="174.5" height="4.6" fill="#f1a687"/>
<rect x="1527.7" y="866.4" width="174.5" height="3.9" fill="#d24e44"/>
<rect x="1527.7" y="869.9" width="174.5" height="2.9" fill="#d55448"/>
<rect x="1527.7" y="872.4" width="174.5" height="2.4" fill="#d24e44"/>
<rect x="1527.7" y="874.4" width="174.5" height="2.9" fill="#d45246"/>
<rect x="1527.7" y="876.9" width="174.5" height="3.9" fill="#c63b3b"/>
<rect x="1527.7" y="880.4" width="174.5" height="3.4" fill="#f0a183"/>
<rect x="1527.7" y="883.4" width="174.5" height="3.0" fill="#eb9176"/>
<rect x="1527.7" y="886.0" width="174.5" height="3.3" fill="#a5cbe1"/>
<rect x="1527.7" y="888.9" width="174.5" height="3.9" fill="#e8876d"/>
<rect x="1527.7" y="892.4" width="174.5" height="3.4" fill="#e1715a"/>
<rect x="1527.7" y="895.4" width="174.5" height="4.4" fill="#ee9d80"/>
<rect x="1527.7" y="899.4" width="174.5" height="3.9" fill="#ed977b"/>
<rect x="1527.7" y="902.9" width="174.5" height="2.4" fill="#ea8c71"/>
<rect x="1527.7" y="904.9" width="174.5" height="5.4" fill="#ea8d72"/>
<rect x="1527.7" y="909.9" width="174.5" height="2.9" fill="#d75749"/>
<rect x="1527.7" y="912.4" width="174.5" height="3.9" fill="#e16f59"/>
<rect x="1527.7" y="915.9" width="174.5" height="2.9" fill="#dc6351"/>
<rect x="1527.7" y="918.4" width="174.5" height="2.9" fill="#df6b56"/>
<rect x="1527.7" y="920.9" width="174.5" height="2.9" fill="#d65749"/>
<rect x="1527.7" y="923.4" width="174.5" height="2.3" fill="#e2725b"/>
<rect x="1527.7" y="925.3" width="174.5" height="2.4" fill="#f4bfa4"/>
<rect x="1527.7" y="927.3" width="174.5" height="3.4" fill="#eecbbb"/>
<rect x="1527.7" y="930.3" width="174.5" height="3.8" fill="#f1c7b2"/>
<rect x="1527.7" y="933.7" width="174.5" height="3.9" fill="#ead0c5"/>
<rect x="1527.7" y="937.2" width="174.5" height="3.4" fill="#e1d9d4"/>
<rect x="1527.7" y="940.2" width="174.5" height="3.4" fill="#e5d5cd"/>
<rect x="1527.7" y="943.2" width="174.5" height="3.5" fill="#e3d7d1"/>
<rect x="1527.7" y="946.3" width="174.5" height="3.4" fill="#e8866c"/>
<rect x="1527.7" y="949.3" width="174.5" height="2.9" fill="#e67f66"/>
<rect x="1527.7" y="951.8" width="174.5" height="3.6" fill="#e8856b"/>
<rect x="1527.7" y="955.0" width="174.5" height="3.4" fill="#f0a385"/>
<rect x="1527.7" y="958.0" width="174.5" height="2.4" fill="#ed977b"/>
<rect x="1527.7" y="960.0" width="174.5" height="2.4" fill="#f1a687"/>
<rect x="1527.7" y="962.0" width="174.5" height="2.9" fill="#d34f44"/>
<rect x="1527.7" y="964.5" width="174.5" height="2.4" fill="#db604f"/>
<rect x="1527.7" y="966.5" width="174.5" height="4.4" fill="#e17059"/>
<rect x="1527.7" y="970.5" width="174.5" height="2.9" fill="#e06d58"/>
<rect x="1527.7" y="973.0" width="174.5" height="3.4" fill="#de6753"/>
<rect x="1527.7" y="976.0" width="174.5" height="4.4" fill="#f0a183"/>
<rect x="1527.7" y="980.0" width="174.5" height="4.4" fill="#f2ad8f"/>
<rect x="1527.7" y="984.0" width="174.5" height="2.2" fill="#efa083"/>
<rect x="1527.7" y="985.8" width="174.5" height="3.9" fill="#e67d64"/>
<rect x="1527.7" y="989.3" width="174.5" height="2.9" fill="#ed987c"/>
<rect x="1527.7" y="991.8" width="174.5" height="3.4" fill="#ed977b"/>
<rect x="1527.7" y="994.8" width="174.5" height="5.4" fill="#e57d64"/>
<rect x="1527.7" y="999.8" width="174.5" height="4.4" fill="#f3b396"/>
<rect x="1527.7" y="1003.8" width="174.5" height="2.4" fill="#f3c5ad"/>
<rect x="1527.7" y="1005.8" width="174.5" height="4.2" fill="#f1c8b4"/>
<rect x="1527.7" y="1009.6" width="174.5" height="3.9" fill="#edcdbe"/>
<rect x="1527.7" y="1013.1" width="174.5" height="3.4" fill="#eccdbf"/>
<rect x="1527.7" y="1016.1" width="174.5" height="2.4" fill="#f0c8b4"/>
<rect x="1527.7" y="1018.1" width="174.5" height="3.1" fill="#e8d2c9"/>
<rect x="1527.7" y="1020.8" width="174.5" height="3.9" fill="#c7d8e4"/>
<rect x="1527.7" y="1024.3" width="174.5" height="3.4" fill="#cfdae0"/>
<rect x="1527.7" y="1027.3" width="174.5" height="3.4" fill="#ccd9e2"/>
<rect x="1527.7" y="1030.3" width="174.5" height="4.4" fill="#adcee2"/>
<rect x="1527.7" y="1034.3" width="174.5" height="3.4" fill="#d0dae0"/>
<rect x="1527.7" y="1037.3" width="174.5" height="3.4" fill="#d1dadf"/>
<rect x="1527.7" y="1040.3" width="174.5" height="1.9" fill="#dfdbd9"/>
<rect x="1527.7" y="1041.8" width="174.5" height="4.4" fill="#ed987c"/>
<rect x="1527.7" y="1045.8" width="174.5" height="3.4" fill="#ed977b"/>
<rect x="1527.7" y="1048.8" width="174.5" height="4.6" fill="#f0a485"/>
<rect x="1527.7" y="1053.0" width="174.5" height="2.4" fill="#c8d9e3"/>
<rect x="1527.7" y="1055.0" width="174.5" height="3.4" fill="#c3d8e5"/>
<rect x="1527.7" y="1058.0" width="174.5" height="4.4" fill="#c9d9e3"/>
<rect x="1527.7" y="1062.0" width="174.5" height="3.4" fill="#cedae1"/>
<rect x="1527.7" y="1065.0" width="174.5" height="4.4" fill="#d3dadf"/>
<rect x="1527.7" y="1069.0" width="174.5" height="3.9" fill="#bdd5e4"/>
<rect x="1527.7" y="1072.5" width="174.5" height="3.3" fill="#cfdae0"/>
<rect x="1527.7" y="1075.4" width="174.5" height="3.9" fill="#70abd5"/>
<rect x="1527.7" y="1078.9" width="174.5" height="4.4" fill="#7db3d9"/>
<rect x="1527.7" y="1082.9" width="174.5" height="3.4" fill="#76afd7"/>
<rect x="1527.7" y="1085.9" width="174.5" height="2.5" fill="#68a5d3"/>
<rect x="1527.7" y="1088.0" width="174.5" height="3.4" fill="#bbd4e4"/>
<rect x="1527.7" y="1091.0" width="174.5" height="4.4" fill="#b7d3e3"/>
<rect x="1527.7" y="1095.0" width="174.5" height="2.4" fill="#a9cde2"/>
<rect x="1527.7" y="1097.0" width="174.5" height="4.1" fill="#accee2"/>
<rect x="1527.7" y="1100.7" width="174.5" height="2.9" fill="#f2c7b1"/>
<rect x="1527.7" y="1103.2" width="174.5" height="2.9" fill="#f4bda1"/>
<rect x="1527.7" y="1105.7" width="174.5" height="2.4" fill="#f2c7b0"/>
<rect x="1527.7" y="1107.7" width="174.5" height="3.4" fill="#b1d0e3"/>
<rect x="1527.7" y="1110.7" width="174.5" height="3.4" fill="#aacde2"/>
<rect x="1527.7" y="1113.7" width="174.5" height="2.8" fill="#a1c9e1"/>
<rect x="1527.7" y="1116.1" width="174.5" height="2.4" fill="#f0a385"/>
<rect x="1527.7" y="1118.1" width="174.5" height="4.0" fill="#f3b598"/>
<rect x="1527.7" y="1121.7" width="174.5" height="3.4" fill="#91bfdd"/>
<rect x="1527.7" y="1124.7" width="174.5" height="2.4" fill="#a5cbe1"/>
<rect x="1527.7" y="1126.7" width="174.5" height="2.4" fill="#97c3de"/>
<rect x="1527.7" y="1128.7" width="174.5" height="3.9" fill="#a5cbe1"/>
<rect x="1527.7" y="1132.2" width="174.5" height="3.4" fill="#b1d0e3"/>
<rect x="1527.7" y="1135.2" width="174.5" height="2.4" fill="#9ec8e0"/>
<rect x="1527.7" y="1137.2" width="174.5" height="3.1" fill="#b0d0e3"/>
<rect x="1527.7" y="1139.9" width="174.5" height="2.4" fill="#c0d6e4"/>
<rect x="1527.7" y="1141.9" width="174.5" height="4.4" fill="#d1dae0"/>
<rect x="1527.7" y="1145.9" width="174.5" height="4.5" fill="#cad9e3"/>
<rect x="1527.7" y="1150.0" width="174.5" height="2.9" fill="#d5dbde"/>
<rect x="1527.7" y="1152.5" width="174.5" height="3.9" fill="#d2dadf"/>
<rect x="1527.7" y="1156.0" width="174.5" height="4.2" fill="#d0dae0"/>
<rect x="1527.7" y="1159.8" width="174.5" height="3.4" fill="#e8866c"/>
<rect x="1527.7" y="1162.8" width="174.5" height="3.0" fill="#ea8e74"/>
<rect x="1527.7" y="1165.4" width="174.5" height="3.9" fill="#c9d9e3"/>
<rect x="1527.7" y="1168.9" width="174.5" height="3.9" fill="#b6d2e3"/>
<rect x="1527.7" y="1172.4" width="174.5" height="2.4" fill="#f3b194"/>
<rect x="1527.7" y="1174.4" width="174.5" height="2.6" fill="#f1a486"/>
<rect x="1527.7" y="1176.6" width="174.5" height="4.4" fill="#e2d8d3"/>
<rect x="1527.7" y="1180.6" width="174.5" height="2.0" fill="#e6d4cb"/>
<rect x="1527.7" y="1182.2" width="174.5" height="2.4" fill="#df6a56"/>
<rect x="1527.7" y="1184.2" width="174.5" height="5.4" fill="#dc6351"/>
<rect x="1527.7" y="1189.2" width="174.5" height="2.9" fill="#dfdbd8"/>
<rect x="1527.7" y="1191.7" width="174.5" height="2.1" fill="#d9dbdc"/>
<rect x="1527.7" y="1193.4" width="174.5" height="2.4" fill="#f0a284"/>
<rect x="1527.7" y="1195.4" width="174.5" height="4.4" fill="#f5c1a5"/>
<rect x="1527.7" y="1199.4" width="174.5" height="2.9" fill="#f2aa8c"/>
<rect x="1527.7" y="1201.9" width="174.5" height="4.4" fill="#ee9b7f"/>
<rect x="1527.7" y="1205.9" width="174.5" height="2.4" fill="#ef9f81"/>
<rect x="1527.7" y="1207.9" width="174.5" height="3.9" fill="#efa082"/>
<rect x="1527.7" y="1211.4" width="174.5" height="3.4" fill="#ef9f81"/>
<rect x="1527.7" y="1214.4" width="174.5" height="3.4" fill="#f0a485"/>
<rect x="1527.7" y="1217.4" width="174.5" height="3.9" fill="#f4b89c"/>
<rect x="1527.7" y="1220.9" width="174.5" height="3.4" fill="#f1a98a"/>
<rect x="1527.7" y="1223.9" width="174.5" height="2.4" fill="#f1a586"/>
<rect x="1527.7" y="1225.9" width="174.5" height="2.9" fill="#ef9f81"/>
<rect x="1527.7" y="1228.4" width="174.5" height="4.6" fill="#db614f"/>
<rect x="1527.7" y="1232.6" width="174.5" height="3.4" fill="#b6d2e3"/>
<rect x="1527.7" y="1235.6" width="174.5" height="4.4" fill="#c9d9e3"/>
<rect x="1527.7" y="1239.6" width="174.5" height="2.4" fill="#b8d3e4"/>
<rect x="1527.7" y="1241.6" width="174.5" height="3.4" fill="#d0dae0"/>
<rect x="1527.7" y="1244.6" width="174.5" height="3.4" fill="#bcd5e4"/>
<rect x="1527.7" y="1247.6" width="174.5" height="2.2" fill="#c8d9e3"/>
<rect x="1527.7" y="1249.4" width="174.5" height="2.9" fill="#f4bea3"/>
<rect x="1527.7" y="1251.9" width="174.5" height="4.4" fill="#f3b396"/>
<rect x="1527.7" y="1255.9" width="174.5" height="2.3" fill="#f3c5ad"/>
<rect x="1527.7" y="1257.8" width="174.5" height="2.4" fill="#81b5d9"/>
<rect x="1527.7" y="1259.8" width="174.5" height="2.4" fill="#7ab1d8"/>
<rect x="1527.7" y="1261.8" width="174.5" height="3.4" fill="#81b5d9"/>
<rect x="1527.7" y="1264.8" width="174.5" height="3.4" fill="#78b0d7"/>
<rect x="1527.7" y="1267.8" width="174.5" height="3.0" fill="#83b6da"/>
<rect x="1527.7" y="1270.4" width="174.5" height="3.9" fill="#d3dadf"/>
<rect x="1527.7" y="1273.9" width="174.5" height="3.4" fill="#cbd9e2"/>
<rect x="1527.7" y="1276.9" width="174.5" height="2.3" fill="#cad9e2"/>
<rect x="1527.7" y="1278.8" width="174.5" height="3.4" fill="#9bc6df"/>
<rect x="1527.7" y="1281.8" width="174.5" height="3.4" fill="#77afd7"/>
<rect x="1527.7" y="1284.8" width="174.5" height="3.9" fill="#88badb"/>
<rect x="1527.7" y="1288.3" width="174.5" height="5.0" fill="#99c4df"/>
<rect x="1527.7" y="1292.9" width="174.5" height="3.9" fill="#f1a687"/>
<rect x="1527.7" y="1296.4" width="174.5" height="2.5" fill="#f2ab8d"/>
<rect x="1527.7" y="1298.5" width="174.5" height="3.4" fill="#f3b69a"/>
<rect x="1527.7" y="1301.5" width="174.5" height="3.0" fill="#f4c5ac"/>
<rect x="1527.7" y="1304.1" width="174.5" height="3.4" fill="#f3b699"/>
<rect x="1527.7" y="1307.1" width="174.5" height="3.4" fill="#f4bfa3"/>
<rect x="1527.7" y="1310.1" width="174.5" height="2.4" fill="#f1a587"/>
<rect x="1527.7" y="1312.1" width="174.5" height="3.6" fill="#f2ac8e"/>
<rect x="1527.7" y="1315.3" width="174.5" height="2.9" fill="#d8dbdc"/>
<rect x="1527.7" y="1317.8" width="174.5" height="3.4" fill="#d9dbdc"/>
<rect x="1527.7" y="1320.8" width="174.5" height="3.4" fill="#c9d9e3"/>
<rect x="1527.7" y="1323.8" width="174.5" height="4.4" fill="#c0d7e5"/>
<rect x="1527.7" y="1327.8" width="174.5" height="1.9" fill="#cbd9e2"/>
<rect x="1527.7" y="1329.3" width="174.5" height="3.4" fill="#dbdcdb"/>
<rect x="1527.7" y="1332.3" width="174.5" height="3.4" fill="#e6d4cb"/>
<rect x="1527.7" y="1335.3" width="174.5" height="2.4" fill="#e1d9d5"/>
<rect x="1527.7" y="1337.3" width="174.5" height="3.9" fill="#dfdbd8"/>
<rect x="1527.7" y="1340.8" width="174.5" height="2.9" fill="#e1d9d5"/>
<rect x="1527.7" y="1343.3" width="174.5" height="3.9" fill="#97c3de"/>
<rect x="1527.7" y="1346.8" width="174.5" height="3.9" fill="#accee2"/>
<rect x="1527.7" y="1350.3" width="174.5" height="4.6" fill="#a9cde2"/>
<rect x="1701.6" y="373.0" width="174.5" height="2.4" fill="#69a6d3"/>
<rect x="1701.6" y="375.0" width="174.5" height="3.4" fill="#599acd"/>
<rect x="1701.6" y="378.0" width="174.5" height="3.6" fill="#5598cc"/>
<rect x="1701.6" y="381.2" width="174.5" height="2.9" fill="#8ebedc"/>
<rect x="1701.6" y="383.7" width="174.5" height="3.4" fill="#95c2de"/>
<rect x="1701.6" y="386.7" width="174.5" height="1.9" fill="#a1c9e1"/>
<rect x="1701.6" y="388.2" width="174.5" height="2.4" fill="#66a3d2"/>
<rect x="1701.6" y="390.2" width="174.5" height="3.4" fill="#5296cb"/>
<rect x="1701.6" y="393.2" width="174.5" height="4.4" fill="#67a4d2"/>
<rect x="1701.6" y="397.2" width="174.5" height="2.6" fill="#5a9bce"/>
<rect x="1701.6" y="399.4" width="174.5" height="2.9" fill="#d2dadf"/>
<rect x="1701.6" y="401.9" width="174.5" height="2.9" fill="#cbd9e2"/>
<rect x="1701.6" y="404.4" width="174.5" height="3.8" fill="#c6d8e4"/>
<rect x="1701.6" y="407.8" width="174.5" height="2.9" fill="#97c3de"/>
<rect x="1701.6" y="410.3" width="174.5" height="3.4" fill="#a2cae1"/>
<rect x="1701.6" y="413.3" width="174.5" height="3.3" fill="#97c3df"/>
<rect x="1701.6" y="416.2" width="174.5" height="2.9" fill="#5a9bce"/>
<rect x="1701.6" y="418.7" width="174.5" height="3.4" fill="#70aad5"/>
<rect x="1701.6" y="421.7" width="174.5" height="3.4" fill="#5d9dcf"/>
<rect x="1701.6" y="424.7" width="174.5" height="3.9" fill="#5d9ecf"/>
<rect x="1701.6" y="428.2" width="174.5" height="2.2" fill="#67a5d2"/>
<rect x="1701.6" y="430.0" width="174.5" height="4.0" fill="#73add6"/>
<rect x="1701.6" y="433.6" width="174.5" height="2.4" fill="#65a3d2"/>
<rect x="1701.6" y="435.6" width="174.5" height="4.4" fill="#6aa6d3"/>
<rect x="1701.6" y="439.6" width="174.5" height="3.9" fill="#a9cde2"/>
<rect x="1701.6" y="443.1" width="174.5" height="2.9" fill="#a5cbe1"/>
<rect x="1701.6" y="445.6" width="174.5" height="2.9" fill="#78b0d7"/>
<rect x="1701.6" y="448.1" width="174.5" height="2.7" fill="#6da8d4"/>
<rect x="1701.6" y="450.4" width="174.5" height="4.4" fill="#86b8da"/>
<rect x="1701.6" y="454.4" width="174.5" height="3.6" fill="#68a5d2"/>
<rect x="1701.6" y="457.6" width="174.5" height="5.8" fill="#5f9ecf"/>
<rect x="1701.6" y="463.0" width="174.5" height="2.2" fill="#eccdc0"/>
<rect x="1701.6" y="464.8" width="174.5" height="3.4" fill="#a4cbe1"/>
<rect x="1701.6" y="467.8" width="174.5" height="3.9" fill="#a4cbe1"/>
<rect x="1701.6" y="471.3" width="174.5" height="1.6" fill="#ebcfc4"/>
<rect x="1701.6" y="472.5" width="174.5" height="3.4" fill="#accee2"/>
<rect x="1701.6" y="475.5" width="174.5" height="4.4" fill="#9cc6e0"/>
<rect x="1701.6" y="479.5" width="174.5" height="3.6" fill="#8fbedd"/>
<rect x="1701.6" y="482.7" width="174.5" height="2.4" fill="#cad9e3"/>
<rect x="1701.6" y="484.7" width="174.5" height="2.4" fill="#a5cbe1"/>
<rect x="1701.6" y="486.7" width="174.5" height="4.4" fill="#c7d9e4"/>
<rect x="1701.6" y="490.7" width="174.5" height="3.2" fill="#ccd9e2"/>
<rect x="1701.6" y="493.5" width="174.5" height="3.4" fill="#9ac5df"/>
<rect x="1701.6" y="496.5" width="174.5" height="2.4" fill="#9dc7e0"/>
<rect x="1701.6" y="498.5" width="174.5" height="3.4" fill="#9fc8e0"/>
<rect x="1701.6" y="501.5" width="174.5" height="2.4" fill="#8cbcdc"/>
<rect x="1701.6" y="503.5" width="174.5" height="3.9" fill="#93c0dd"/>
<rect x="1701.6" y="507.0" width="174.5" height="2.4" fill="#84b7da"/>
<rect x="1701.6" y="509.0" width="174.5" height="3.9" fill="#5d9dcf"/>
<rect x="1701.6" y="512.5" width="174.5" height="4.2" fill="#5e9ecf"/>
<rect x="1701.6" y="516.3" width="174.5" height="3.4" fill="#64a2d1"/>
<rect x="1701.6" y="519.3" width="174.5" height="3.4" fill="#70abd5"/>
<rect x="1701.6" y="522.3" width="174.5" height="3.9" fill="#5698cc"/>
<rect x="1701.6" y="525.8" width="174.5" height="3.4" fill="#5c9cce"/>
<rect x="1701.6" y="528.8" width="174.5" height="3.4" fill="#609fd0"/>
<rect x="1701.6" y="531.8" width="174.5" height="2.4" fill="#5497cc"/>
<rect x="1701.6" y="533.8" width="174.5" height="3.4" fill="#5094ca"/>
<rect x="1701.6" y="536.8" width="174.5" height="4.4" fill="#5396cb"/>
<rect x="1701.6" y="540.8" width="174.5" height="3.9" fill="#64a2d1"/>
<rect x="1701.6" y="544.3" width="174.5" height="2.3" fill="#5699cc"/>
<rect x="1701.6" y="546.2" width="174.5" height="2.9" fill="#8cbcdc"/>
<rect x="1701.6" y="548.7" width="174.5" height="2.9" fill="#7bb1d8"/>
<rect x="1701.6" y="551.2" width="174.5" height="3.4" fill="#93c0dd"/>
<rect x="1701.6" y="554.2" width="174.5" height="4.4" fill="#77afd7"/>
<rect x="1701.6" y="558.2" width="174.5" height="3.9" fill="#71abd5"/>
<rect x="1701.6" y="561.7" width="174.5" height="4.4" fill="#69a5d3"/>
<rect x="1701.6" y="565.7" width="174.5" height="2.9" fill="#5f9fcf"/>
<rect x="1701.6" y="568.2" width="174.5" height="3.4" fill="#5b9cce"/>
<rect x="1701.6" y="571.2" width="174.5" height="3.0" fill="#68a5d2"/>
<rect x="1701.6" y="573.8" width="174.5" height="4.0" fill="#dfdbd9"/>
<rect x="1701.6" y="577.4" width="174.5" height="4.4" fill="#d8dbdd"/>
<rect x="1701.6" y="581.4" width="174.5" height="2.4" fill="#d0dae0"/>
<rect x="1701.6" y="583.4" width="174.5" height="2.9" fill="#e3d7d0"/>
<rect x="1701.6" y="585.9" width="174.5" height="5.1" fill="#dfdbd8"/>
<rect x="1701.6" y="590.6" width="174.5" height="3.9" fill="#b4d1e3"/>
<rect x="1701.6" y="594.1" width="174.5" height="4.9" fill="#b7d3e4"/>
<rect x="1701.6" y="598.6" width="174.5" height="3.4" fill="#f0c9b5"/>
<rect x="1701.6" y="601.6" width="174.5" height="2.9" fill="#f3c6ae"/>
<rect x="1701.6" y="604.1" width="174.5" height="3.9" fill="#f5c0a5"/>
<rect x="1701.6" y="607.6" width="174.5" height="4.0" fill="#f4bb9f"/>
<rect x="1701.6" y="611.2" width="174.5" height="3.4" fill="#c5d8e5"/>
<rect x="1701.6" y="614.2" width="174.5" height="3.4" fill="#c9d9e3"/>
<rect x="1701.6" y="617.2" width="174.5" height="2.9" fill="#cad9e2"/>
<rect x="1701.6" y="619.7" width="174.5" height="3.1" fill="#cbd9e2"/>
<rect x="1701.6" y="622.4" width="174.5" height="2.9" fill="#6ca8d4"/>
<rect x="1701.6" y="624.9" width="174.5" height="2.1" fill="#5e9ecf"/>
<rect x="1701.6" y="626.6" width="174.5" height="4.4" fill="#7db3d8"/>
<rect x="1701.6" y="630.6" width="174.5" height="3.4" fill="#8fbedd"/>
<rect x="1701.6" y="633.6" width="174.5" height="3.4" fill="#8ebedc"/>
<rect x="1701.6" y="636.6" width="174.5" height="3.0" fill="#9ac5df"/>
<rect x="1701.6" y="639.2" width="174.5" height="2.9" fill="#ee9b7f"/>
<rect x="1701.6" y="641.7" width="174.5" height="2.4" fill="#ee9b7f"/>
<rect x="1701.6" y="643.7" width="174.5" height="4.4" fill="#f0a385"/>
<rect x="1701.6" y="647.7" width="174.5" height="3.9" fill="#f1a586"/>
<rect x="1701.6" y="651.2" width="174.5" height="5.2" fill="#f1a788"/>
<rect x="1701.6" y="656.0" width="174.5" height="2.4" fill="#d75749"/>
<rect x="1701.6" y="658.0" width="174.5" height="2.9" fill="#ce463f"/>
<rect x="1701.6" y="660.5" width="174.5" height="3.4" fill="#cf4940"/>
<rect x="1701.6" y="663.5" width="174.5" height="3.9" fill="#c5393a"/>
<rect x="1701.6" y="667.0" width="174.5" height="3.4" fill="#d65649"/>
<rect x="1701.6" y="670.0" width="174.5" height="3.9" fill="#d65648"/>
<rect x="1701.6" y="673.5" width="174.5" height="2.4" fill="#dd6451"/>
<rect x="1701.6" y="675.5" width="174.5" height="3.4" fill="#de6753"/>
<rect x="1701.6" y="678.5" width="174.5" height="2.4" fill="#d55548"/>
<rect x="1701.6" y="680.5" width="174.5" height="3.4" fill="#d04b42"/>
<rect x="1701.6" y="683.5" width="174.5" height="3.7" fill="#d24f44"/>
<rect x="1701.6" y="686.8" width="174.5" height="2.4" fill="#ba2834"/>
<rect x="1701.6" y="688.8" width="174.5" height="2.9" fill="#c13338"/>
<rect x="1701.6" y="691.3" width="174.5" height="4.4" fill="#b21c2f"/>
<rect x="1701.6" y="695.3" width="174.5" height="2.4" fill="#be2e36"/>
<rect x="1701.6" y="697.3" width="174.5" height="3.4" fill="#b82533"/>
<rect x="1701.6" y="700.3" width="174.5" height="2.4" fill="#c13338"/>
<rect x="1701.6" y="702.3" width="174.5" height="4.4" fill="#e68066"/>
<rect x="1701.6" y="706.3" width="174.5" height="4.8" fill="#de6854"/>
<rect x="1701.6" y="710.7" width="174.5" height="2.9" fill="#ee9b7e"/>
<rect x="1701.6" y="713.2" width="174.5" height="3.5" fill="#ed987c"/>
<rect x="1701.6" y="716.3" width="174.5" height="3.4" fill="#e57b62"/>
<rect x="1701.6" y="719.3" width="174.5" height="3.4" fill="#e9896f"/>
<rect x="1701.6" y="722.3" width="174.5" height="2.4" fill="#e3755d"/>
<rect x="1701.6" y="724.3" width="174.5" height="3.4" fill="#e3755d"/>
<rect x="1701.6" y="727.3" width="174.5" height="2.9" fill="#e4775e"/>
<rect x="1701.6" y="729.8" width="174.5" height="2.9" fill="#df6b56"/>
<rect x="1701.6" y="732.3" width="174.5" height="3.4" fill="#e06e58"/>
<rect x="1701.6" y="735.3" width="174.5" height="3.9" fill="#df6a56"/>
<rect x="1701.6" y="738.8" width="174.5" height="4.4" fill="#e3775e"/>
<rect x="1701.6" y="742.8" width="174.5" height="1.9" fill="#e47960"/>
<rect x="1701.6" y="744.3" width="174.5" height="4.4" fill="#c63a3b"/>
<rect x="1701.6" y="748.3" width="174.5" height="2.0" fill="#c93e3c"/>
<rect x="1701.6" y="749.9" width="174.5" height="2.4" fill="#dc6351"/>
<rect x="1701.6" y="751.9" width="174.5" height="2.9" fill="#e3755d"/>
<rect x="1701.6" y="754.4" width="174.5" height="2.9" fill="#e1715a"/>
<rect x="1701.6" y="756.9" width="174.5" height="3.5" fill="#840824"/>
<rect x="1701.6" y="760.0" width="174.5" height="3.4" fill="#69011d"/>
<rect x="1701.6" y="763.0" width="174.5" height="4.4" fill="#6b011e"/>
<rect x="1701.6" y="767.0" width="174.5" height="4.4" fill="#b52031"/>
<rect x="1701.6" y="771.0" width="174.5" height="3.4" fill="#b11b2f"/>
<rect x="1701.6" y="774.0" width="174.5" height="3.4" fill="#e0dad6"/>
<rect x="1701.6" y="777.0" width="174.5" height="3.4" fill="#edcdbe"/>
<rect x="1701.6" y="780.0" width="174.5" height="2.8" fill="#e5d5ce"/>
<rect x="1701.6" y="782.4" width="174.5" height="3.4" fill="#e8866c"/>
<rect x="1701.6" y="785.4" width="174.5" height="3.0" fill="#e4785f"/>
<rect x="1701.6" y="788.0" width="174.5" height="3.4" fill="#d9dbdc"/>
<rect x="1701.6" y="791.0" width="174.5" height="2.9" fill="#d0dae0"/>
<rect x="1701.6" y="793.5" width="174.5" height="4.4" fill="#c4d8e5"/>
<rect x="1701.6" y="797.5" width="174.5" height="3.4" fill="#dbdcdb"/>
<rect x="1701.6" y="800.5" width="174.5" height="1.9" fill="#dfdbd8"/>
<rect x="1701.6" y="802.0" width="174.5" height="2.9" fill="#c6d8e4"/>
<rect x="1701.6" y="804.5" width="174.5" height="3.5" fill="#bad4e4"/>
<rect x="1701.6" y="807.6" width="174.5" height="2.9" fill="#ee9c7f"/>
<rect x="1701.6" y="810.1" width="174.5" height="2.9" fill="#ee9b7f"/>
<rect x="1701.6" y="812.6" width="174.5" height="2.4" fill="#f0a385"/>
<rect x="1701.6" y="814.6" width="174.5" height="2.9" fill="#e06d58"/>
<rect x="1701.6" y="817.1" width="174.5" height="3.4" fill="#db5f4e"/>
<rect x="1701.6" y="820.1" width="174.5" height="2.9" fill="#e4785f"/>
<rect x="1701.6" y="822.6" width="174.5" height="3.6" fill="#df6c57"/>
<rect x="1701.6" y="825.8" width="174.5" height="3.9" fill="#f1c8b4"/>
<rect x="1701.6" y="829.3" width="174.5" height="4.4" fill="#f4c4aa"/>
<rect x="1701.6" y="833.3" width="174.5" height="3.4" fill="#f0a284"/>
<rect x="1701.6" y="836.3" width="174.5" height="2.9" fill="#f2c6b0"/>
<rect x="1701.6" y="838.8" width="174.5" height="3.4" fill="#f5c2a7"/>
<rect x="1701.6" y="841.8" width="174.5" height="2.6" fill="#f0c9b6"/>
<rect x="1701.6" y="844.0" width="174.5" height="2.9" fill="#e8856b"/>
<rect x="1701.6" y="846.5" width="174.5" height="3.4" fill="#e3765e"/>
<rect x="1701.6" y="849.5" width="174.5" height="3.9" fill="#e2715a"/>
<rect x="1701.6" y="853.0" width="174.5" height="3.9" fill="#e57d63"/>
<rect x="1701.6" y="856.5" width="174.5" height="3.4" fill="#e9886e"/>
<rect x="1701.6" y="859.5" width="174.5" height="2.9" fill="#e98a70"/>
<rect x="1701.6" y="862.0" width="174.5" height="2.9" fill="#e8856b"/>
<rect x="1701.6" y="864.5" width="174.5" height="3.7" fill="#e57b62"/>
<rect x="1701.6" y="867.8" width="174.5" height="3.4" fill="#e0dad6"/>
<rect x="1701.6" y="870.8" width="174.5" height="3.4" fill="#e1d9d5"/>
<rect x="1701.6" y="873.8" width="174.5" height="4.2" fill="#e9d1c6"/>
<rect x="1701.6" y="877.6" width="174.5" height="3.4" fill="#a4cbe1"/>
<rect x="1701.6" y="880.6" width="174.5" height="4.4" fill="#98c4df"/>
<rect x="1701.6" y="884.6" width="174.5" height="2.4" fill="#d55347"/>
<rect x="1701.6" y="886.6" width="174.5" height="3.4" fill="#c63a3b"/>
<rect x="1701.6" y="889.6" width="174.5" height="2.4" fill="#cc443e"/>
<rect x="1701.6" y="891.6" width="174.5" height="3.4" fill="#e47960"/>
<rect x="1701.6" y="894.6" width="174.5" height="4.4" fill="#dd6452"/>
<rect x="1701.6" y="898.6" width="174.5" height="2.4" fill="#e06d58"/>
<rect x="1701.6" y="900.6" width="174.5" height="3.9" fill="#e3745c"/>
<rect x="1701.6" y="904.1" width="174.5" height="4.8" fill="#e1705a"/>
<rect x="1701.6" y="908.5" width="174.5" height="4.4" fill="#ee9c7f"/>
<rect x="1701.6" y="912.5" width="174.5" height="4.8" fill="#ee9b7e"/>
<rect x="1701.6" y="916.9" width="174.5" height="3.9" fill="#df6b56"/>
<rect x="1701.6" y="920.4" width="174.5" height="3.4" fill="#ea8c72"/>
<rect x="1701.6" y="923.4" width="174.5" height="3.9" fill="#e57c63"/>
<rect x="1701.6" y="926.9" width="174.5" height="2.9" fill="#df6b56"/>
<rect x="1701.6" y="929.4" width="174.5" height="2.9" fill="#de6854"/>
<rect x="1701.6" y="931.9" width="174.5" height="2.2" fill="#e16f59"/>
<rect x="1701.6" y="933.7" width="174.5" height="4.4" fill="#bc2a35"/>
<rect x="1701.6" y="937.7" width="174.5" height="3.4" fill="#b0192e"/>
<rect x="1701.6" y="940.7" width="174.5" height="2.9" fill="#e06c57"/>
<rect x="1701.6" y="943.2" width="174.5" height="3.4" fill="#dd6451"/>
<rect x="1701.6" y="946.2" width="174.5" height="4.4" fill="#e3755d"/>
<rect x="1701.6" y="950.2" width="174.5" height="5.2" fill="#e67e64"/>
<rect x="1701.6" y="955.0" width="174.5" height="3.4" fill="#e16f59"/>
<rect x="1701.6" y="958.0" width="174.5" height="3.9" fill="#e3745c"/>
<rect x="1701.6" y="961.5" width="174.5" height="3.4" fill="#e67f66"/>
<rect x="1701.6" y="964.5" width="174.5" height="3.9" fill="#e67d64"/>
<rect x="1701.6" y="968.0" width="174.5" height="4.4" fill="#ed967b"/>
<rect x="1701.6" y="972.0" width="174.5" height="4.4" fill="#e3755d"/>
<rect x="1701.6" y="976.0" width="174.5" height="4.6" fill="#cb423e"/>
<rect x="1701.6" y="980.2" width="174.5" height="3.2" fill="#dadbdc"/>
<rect x="1701.6" y="983.0" width="174.5" height="2.9" fill="#ec9479"/>
<rect x="1701.6" y="985.5" width="174.5" height="3.9" fill="#ee997d"/>
<rect x="1701.6" y="989.0" width="174.5" height="2.9" fill="#f2ad8e"/>
<rect x="1701.6" y="991.5" width="174.5" height="2.9" fill="#f1a586"/>
<rect x="1701.6" y="994.0" width="174.5" height="4.4" fill="#ed987c"/>
<rect x="1701.6" y="998.0" width="174.5" height="3.6" fill="#e8866c"/>
<rect x="1701.6" y="1001.2" width="174.5" height="4.4" fill="#f0a385"/>
<rect x="1701.6" y="1005.2" width="174.5" height="4.8" fill="#f2ad8e"/>
<rect x="1701.6" y="1009.6" width="174.5" height="2.9" fill="#bad4e4"/>
<rect x="1701.6" y="1012.1" width="174.5" height="3.4" fill="#bcd5e4"/>
<rect x="1701.6" y="1015.1" width="174.5" height="3.9" fill="#c0d6e5"/>
<rect x="1701.6" y="1018.6" width="174.5" height="2.6" fill="#d8dbdc"/>
<rect x="1701.6" y="1020.8" width="174.5" height="4.6" fill="#dd6451"/>
<rect x="1701.6" y="1025.0" width="174.5" height="4.4" fill="#d2dadf"/>
<rect x="1701.6" y="1029.0" width="174.5" height="3.4" fill="#d8dbdd"/>
<rect x="1701.6" y="1032.0" width="174.5" height="3.2" fill="#c8d9e3"/>
<rect x="1701.6" y="1034.8" width="174.5" height="3.4" fill="#e78369"/>
<rect x="1701.6" y="1037.8" width="174.5" height="3.0" fill="#e8846a"/>
<rect x="1701.6" y="1040.4" width="174.5" height="4.4" fill="#ebcfc2"/>
<rect x="1701.6" y="1044.4" width="174.5" height="2.9" fill="#edcdbe"/>
<rect x="1701.6" y="1046.9" width="174.5" height="2.4" fill="#f3c5ad"/>
<rect x="1701.6" y="1048.9" width="174.5" height="3.1" fill="#f1c8b2"/>
<rect x="1701.6" y="1051.6" width="174.5" height="2.4" fill="#c1d7e5"/>
<rect x="1701.6" y="1053.6" width="174.5" height="3.4" fill="#bcd5e4"/>
<rect x="1701.6" y="1056.6" width="174.5" height="3.4" fill="#cbd9e2"/>
<rect x="1701.6" y="1059.6" width="174.5" height="2.4" fill="#c6d8e4"/>
<rect x="1701.6" y="1061.6" width="174.5" height="2.4" fill="#bed6e4"/>
<rect x="1701.6" y="1063.6" width="174.5" height="3.9" fill="#afcfe3"/>
<rect x="1701.6" y="1067.1" width="174.5" height="4.4" fill="#c3d8e5"/>
<rect x="1701.6" y="1071.1" width="174.5" height="1.9" fill="#b9d4e4"/>
<rect x="1701.6" y="1072.6" width="174.5" height="2.4" fill="#d7dbdd"/>
<rect x="1701.6" y="1074.6" width="174.5" height="2.9" fill="#e1d9d4"/>
<rect x="1701.6" y="1077.1" width="174.5" height="4.3" fill="#e3d7d0"/>
<rect x="1701.6" y="1081.0" width="174.5" height="2.9" fill="#5b9cce"/>
<rect x="1701.6" y="1083.5" width="174.5" height="4.9" fill="#4f93ca"/>
<rect x="1701.6" y="1088.0" width="174.5" height="3.9" fill="#c6d8e4"/>
<rect x="1701.6" y="1091.5" width="174.5" height="3.9" fill="#c2d7e5"/>
<rect x="1701.6" y="1095.0" width="174.5" height="4.4" fill="#f2c7b1"/>
<rect x="1701.6" y="1099.0" width="174.5" height="2.4" fill="#f1c8b3"/>
<rect x="1701.6" y="1101.0" width="174.5" height="2.9" fill="#efcab8"/>
<rect x="1701.6" y="1103.5" width="174.5" height="3.4" fill="#e1d9d5"/>
<rect x="1701.6" y="1106.5" width="174.5" height="3.9" fill="#d6dbde"/>
<rect x="1701.6" y="1110.0" width="174.5" height="2.3" fill="#dddcda"/>
<rect x="1701.6" y="1111.9" width="174.5" height="4.4" fill="#a2cae1"/>
<rect x="1701.6" y="1115.9" width="174.5" height="3.9" fill="#a8cce2"/>
<rect x="1701.6" y="1119.4" width="174.5" height="3.9" fill="#9fc8e0"/>
<rect x="1701.6" y="1122.9" width="174.5" height="4.4" fill="#94c2de"/>
<rect x="1701.6" y="1126.9" width="174.5" height="3.9" fill="#b4d1e3"/>
<rect x="1701.6" y="1130.4" width="174.5" height="4.3" fill="#a6cce1"/>
<rect x="1701.6" y="1134.3" width="174.5" height="4.4" fill="#cfdae0"/>
<rect x="1701.6" y="1138.3" width="174.5" height="2.0" fill="#d4dade"/>
<rect x="1701.6" y="1139.9" width="174.5" height="3.9" fill="#f3b89c"/>
<rect x="1701.6" y="1143.4" width="174.5" height="2.9" fill="#f1a586"/>
<rect x="1701.6" y="1145.9" width="174.5" height="2.8" fill="#f5c0a5"/>
<rect x="1701.6" y="1148.3" width="174.5" height="2.1" fill="#d1dae0"/>
<rect x="1701.6" y="1150.0" width="174.5" height="2.4" fill="#d8dbdd"/>
<rect x="1701.6" y="1152.0" width="174.5" height="3.4" fill="#d4dade"/>
<rect x="1701.6" y="1155.0" width="174.5" height="3.8" fill="#dcdcdb"/>
<rect x="1701.6" y="1158.4" width="174.5" height="4.4" fill="#a1c9e1"/>
<rect x="1701.6" y="1162.4" width="174.5" height="3.9" fill="#9dc7e0"/>
<rect x="1701.6" y="1165.9" width="174.5" height="2.7" fill="#adcee2"/>
<rect x="1701.6" y="1168.2" width="174.5" height="2.4" fill="#ebcfc3"/>
<rect x="1701.6" y="1170.2" width="174.5" height="2.4" fill="#e6d4cb"/>
<rect x="1701.6" y="1172.2" width="174.5" height="3.9" fill="#eccec1"/>
<rect x="1701.6" y="1175.7" width="174.5" height="2.7" fill="#e2d8d3"/>
<rect x="1701.6" y="1178.0" width="174.5" height="3.4" fill="#eccdbf"/>
<rect x="1701.6" y="1181.0" width="174.5" height="3.4" fill="#f1c8b4"/>
<rect x="1701.6" y="1184.0" width="174.5" height="2.8" fill="#f3c5ad"/>
<rect x="1701.6" y="1186.4" width="174.5" height="2.4" fill="#cdd9e1"/>
<rect x="1701.6" y="1188.4" width="174.5" height="3.4" fill="#d1dae0"/>
<rect x="1701.6" y="1191.4" width="174.5" height="3.4" fill="#d0dae0"/>
<rect x="1701.6" y="1194.4" width="174.5" height="2.2" fill="#c4d8e5"/>
<rect x="1701.6" y="1196.2" width="174.5" height="3.4" fill="#e3745c"/>
<rect x="1701.6" y="1199.2" width="174.5" height="3.0" fill="#dd6552"/>
<rect x="1701.6" y="1201.8" width="174.5" height="3.4" fill="#f3c5ad"/>
<rect x="1701.6" y="1204.8" width="174.5" height="3.4" fill="#f2c7b1"/>
<rect x="1701.6" y="1207.8" width="174.5" height="2.9" fill="#f3c5ad"/>
<rect x="1701.6" y="1210.3" width="174.5" height="4.5" fill="#f4bda1"/>
<rect x="1701.6" y="1214.4" width="174.5" height="2.4" fill="#e3745c"/>
<rect x="1701.6" y="1216.4" width="174.5" height="2.4" fill="#e06c57"/>
<rect x="1701.6" y="1218.4" width="174.5" height="2.9" fill="#e4775f"/>
<rect x="1701.6" y="1220.9" width="174.5" height="3.7" fill="#e1705a"/>
<rect x="1701.6" y="1224.2" width="174.5" height="2.9" fill="#ee9a7e"/>
<rect x="1701.6" y="1226.7" width="174.5" height="2.9" fill="#f0a385"/>
<rect x="1701.6" y="1229.2" width="174.5" height="2.4" fill="#eb9075"/>
<rect x="1701.6" y="1231.2" width="174.5" height="3.9" fill="#e98a70"/>
<rect x="1701.6" y="1234.7" width="174.5" height="3.4" fill="#e9886e"/>
<rect x="1701.6" y="1237.7" width="174.5" height="2.3" fill="#f0a183"/>
<rect x="1701.6" y="1239.6" width="174.5" height="2.4" fill="#dddcda"/>
<rect x="1701.6" y="1241.6" width="174.5" height="2.9" fill="#d2dadf"/>
<rect x="1701.6" y="1244.1" width="174.5" height="3.4" fill="#c8d9e3"/>
<rect x="1701.6" y="1247.1" width="174.5" height="3.9" fill="#d2dadf"/>
<rect x="1701.6" y="1250.6" width="174.5" height="3.4" fill="#d6dbdd"/>
<rect x="1701.6" y="1253.6" width="174.5" height="3.4" fill="#f1a586"/>
<rect x="1701.6" y="1256.6" width="174.5" height="3.0" fill="#ee9c7f"/>
<rect x="1701.6" y="1259.2" width="174.5" height="3.4" fill="#d14d43"/>
<rect x="1701.6" y="1262.2" width="174.5" height="2.4" fill="#d65648"/>
<rect x="1701.6" y="1264.2" width="174.5" height="2.4" fill="#cf4941"/>
<rect x="1701.6" y="1266.2" width="174.5" height="2.4" fill="#bbd4e4"/>
<rect x="1701.6" y="1268.2" width="174.5" height="4.4" fill="#a7cce2"/>
<rect x="1701.6" y="1272.2" width="174.5" height="4.2" fill="#c5d8e5"/>
<rect x="1701.6" y="1276.0" width="174.5" height="3.9" fill="#95c2de"/>
<rect x="1701.6" y="1279.5" width="174.5" height="4.4" fill="#8abbdc"/>
<rect x="1701.6" y="1283.5" width="174.5" height="3.4" fill="#7db3d9"/>
<rect x="1701.6" y="1286.5" width="174.5" height="3.9" fill="#91bfdd"/>
<rect x="1701.6" y="1290.0" width="174.5" height="2.9" fill="#b4d1e3"/>
<rect x="1701.6" y="1292.5" width="174.5" height="4.4" fill="#b1d0e3"/>
<rect x="1701.6" y="1296.5" width="174.5" height="2.4" fill="#a5cbe1"/>
<rect x="1701.6" y="1298.5" width="174.5" height="3.9" fill="#f2ae90"/>
<rect x="1701.6" y="1302.0" width="174.5" height="4.4" fill="#f3b89c"/>
<rect x="1701.6" y="1306.0" width="174.5" height="4.4" fill="#f3c5ad"/>
<rect x="1701.6" y="1310.0" width="174.5" height="2.4" fill="#eecbbb"/>
<rect x="1701.6" y="1312.0" width="174.5" height="3.7" fill="#f1c7b2"/>
<rect x="1701.6" y="1315.3" width="174.5" height="3.9" fill="#d1dadf"/>
<rect x="1701.6" y="1318.8" width="174.5" height="3.4" fill="#b5d2e3"/>
<rect x="1701.6" y="1321.8" width="174.5" height="4.4" fill="#c5d8e5"/>
<rect x="1701.6" y="1325.8" width="174.5" height="2.4" fill="#b1d0e3"/>
<rect x="1701.6" y="1327.8" width="174.5" height="1.9" fill="#cedae1"/>
<rect x="1701.6" y="1329.3" width="174.5" height="3.4" fill="#e3d7d2"/>
<rect x="1701.6" y="1332.3" width="174.5" height="3.4" fill="#dcdcdb"/>
<rect x="1701.6" y="1335.3" width="174.5" height="5.6" fill="#eecbbb"/>
<rect x="1701.6" y="1340.5" width="174.5" height="3.4" fill="#81b5d9"/>
<rect x="1701.6" y="1343.5" width="174.5" height="2.9" fill="#88badb"/>
<rect x="1701.6" y="1346.0" width="174.5" height="3.4" fill="#d5dbde"/>
<rect x="1701.6" y="1349.0" width="174.5" height="2.4" fill="#c0d6e5"/>
<rect x="1701.6" y="1351.0" width="174.5" height="3.9" fill="#dedcda"/>
</g>
<rect x="1880" y="372" width="7" height="982.5" fill="#aaaaaa"/>
<g id="coldend" stroke="#000" stroke-width="2.4" stroke-linecap="square" fill="none">
<line x1="812" y1="7.5" x2="1565" y2="7.5"/>
<line x1="812" y1="7.5" x2="812" y2="132"/>
<line x1="1565" y1="7.5" x2="1565" y2="230"/>
<line x1="530" y1="132" x2="1118" y2="132"/>
<line x1="534" y1="126" x2="534" y2="228"/>
<line x1="1118" y1="132" x2="1118" y2="228"/>
<line x1="412" y1="228" x2="656" y2="228"/>
<line x1="412" y1="228" x2="412" y2="328"/>
<line x1="656" y1="228" x2="656" y2="277"/>
<line x1="573" y1="277" x2="736" y2="277"/>
<line x1="573" y1="277" x2="573" y2="326"/>
<line x1="736" y1="277" x2="736" y2="326"/>
<line x1="996" y1="228" x2="1240" y2="228"/>
<line x1="996" y1="228" x2="996" y2="277"/>
<line x1="1240" y1="228" x2="1240" y2="328"/>
<line x1="913" y1="277" x2="1076" y2="277"/>
<line x1="913" y1="277" x2="913" y2="327"/>
<line x1="1076" y1="277" x2="1076" y2="327"/>
<line x1="1442" y1="230" x2="1689" y2="230"/>
<line x1="1442" y1="230" x2="1442" y2="334"/>
<line x1="1689" y1="230" x2="1689" y2="282"/>
<line x1="1610" y1="282" x2="1776" y2="282"/>
<line x1="1613.4" y1="282" x2="1613.4" y2="332"/>
<line x1="1779.5" y1="284" x2="1779.5" y2="335"/>
</g>
<g id="key">
<rect x="73.50" y="183" width="16.88" height="88" fill="#05305f"/>
<rect x="90.08" y="183" width="16.88" height="88" fill="#1f5a9a"/>
<rect x="106.65" y="183" width="16.88" height="88" fill="#3278b6"/>
<rect x="123.23" y="183" width="16.88" height="88" fill="#5097c8"/>
<rect x="139.81" y="183" width="16.88" height="88" fill="#8fc2dd"/>
<rect x="156.38" y="183" width="16.88" height="88" fill="#c2dced"/>
<rect x="172.96" y="183" width="16.88" height="88" fill="#e5e2de"/>
<rect x="189.54" y="183" width="16.88" height="88" fill="#f9cfb6"/>
<rect x="206.12" y="183" width="16.88" height="88" fill="#f3a47e"/>
<rect x="222.69" y="183" width="16.88" height="88" fill="#e0765f"/>
<rect x="239.27" y="183" width="16.88" height="88" fill="#c9403e"/>
<rect x="255.85" y="183" width="16.88" height="88" fill="#a6172d"/>
<rect x="272.42" y="183" width="16.88" height="88" fill="#6b0220"/>
<text x="183" y="140.5" font-size="21" text-anchor="middle" fill="#111" textLength="89" lengthAdjust="spacingAndGlyphs">Color key</text>
<text x="184" y="163.8" font-size="21" text-anchor="middle" fill="#111" textLength="144" lengthAdjust="spacingAndGlyphs">and Histogram</text>
<g font-size="17.5" text-anchor="middle" fill="#111">
<text x="94.3" y="307">-2</text><text x="134.5" y="307">-1</text><text x="185.3" y="307">0</text><text x="222.9" y="307">1</text><text x="268.4" y="307">2</text>
</g>
<text x="181.5" y="335" font-size="15" text-anchor="middle" fill="#777" textLength="44" lengthAdjust="spacingAndGlyphs">value</text>
<text transform="translate(43,213.5) rotate(-90)" font-size="17.5" text-anchor="middle" fill="#111" textLength="58" lengthAdjust="spacingAndGlyphs">15,000</text>
<text transform="translate(43,274) rotate(-90)" font-size="17" text-anchor="middle" fill="#111">0</text>
</g>
<g id="labels" font-size="45" font-weight="bold" fill="#000">
<text x="391.4" y="1407" text-anchor="middle" textLength="75.1" lengthAdjust="spacingAndGlyphs">PA1</text>
<text x="588.5" y="1407" text-anchor="middle" textLength="80.0" lengthAdjust="spacingAndGlyphs">PA2</text>
<text x="748.5" y="1407" text-anchor="middle" textLength="80.0" lengthAdjust="spacingAndGlyphs">PA3</text>
<text x="932.5" y="1407" text-anchor="middle" textLength="86.0" lengthAdjust="spacingAndGlyphs">GR1</text>
<text x="1100.0" y="1407" text-anchor="middle" textLength="89.0" lengthAdjust="spacingAndGlyphs">GR2</text>
<text x="1268.0" y="1407" text-anchor="middle" textLength="87.0" lengthAdjust="spacingAndGlyphs">GR3</text>
<text x="1442.8" y="1407" text-anchor="middle" textLength="80.5" lengthAdjust="spacingAndGlyphs">PR1</text>
<text x="1595.0" y="1407" text-anchor="middle" textLength="85.0" lengthAdjust="spacingAndGlyphs">PR2</text>
<text x="1768.3" y="1407" text-anchor="middle" textLength="83.6" lengthAdjust="spacingAndGlyphs">PR3</text>
</g>
</svg>
<svg style="position:absolute;left:0;top:0" width="300" height="1419"><g stroke="#e9e9e9" stroke-width="1.4" fill="none"><path d="M184.3 375.9L184.3 381.1"/><path d="M184.3 375.9L265.0 375.9"/><path d="M184.3 381.1L265.0 381.1"/><path d="M219.6 388.1L219.6 391.1"/><path d="M219.6 388.1L265.0 388.1"/><path d="M219.6 391.1L265.0 391.1"/><path d="M198.0 384.8L198.0 389.6"/><path d="M198.0 384.8L265.0 384.8"/><path d="M198.0 389.6L219.6 389.6"/><path d="M171.2 378.5L171.2 387.2"/><path d="M171.2 378.5L184.3 378.5"/><path d="M171.2 387.2L198.0 387.2"/><path d="M218.3 394.0L218.3 397.7"/><path d="M218.3 394.0L265.0 394.0"/><path d="M218.3 397.7L265.0 397.7"/><path d="M180.3 395.9L180.3 401.7"/><path d="M180.3 395.9L218.3 395.9"/><path d="M180.3 401.7L265.0 401.7"/><path d="M220.6 406.0L220.6 409.4"/><path d="M220.6 406.0L265.0 406.0"/><path d="M220.6 409.4L265.0 409.4"/><path d="M191.7 407.7L191.7 413.3"/><path d="M191.7 407.7L220.6 407.7"/><path d="M191.7 413.3L265.0 413.3"/><path d="M151.4 398.8L151.4 410.5"/><path d="M151.4 398.8L180.3 398.8"/><path d="M151.4 410.5L191.7 410.5"/><path d="M102.5 382.8L102.5 404.6"/><path d="M102.5 382.8L171.2 382.8"/><path d="M102.5 404.6L151.4 404.6"/><path d="M222.4 422.6L222.4 426.3"/><path d="M222.4 422.6L265.0 422.6"/><path d="M222.4 426.3L265.0 426.3"/><path d="M181.5 418.7L181.5 424.5"/><path d="M181.5 418.7L265.0 418.7"/><path d="M181.5 424.5L222.4 424.5"/><path d="M226.4 431.1L226.4 434.3"/><path d="M226.4 431.1L265.0 431.1"/><path d="M226.4 434.3L265.0 434.3"/><path d="M200.7 432.7L200.7 437.8"/><path d="M200.7 432.7L226.4 432.7"/><path d="M200.7 437.8L265.0 437.8"/><path d="M143.7 421.6L143.7 435.3"/><path d="M143.7 421.6L181.5 421.6"/><path d="M143.7 435.3L200.7 435.3"/><path d="M208.4 442.5L208.4 447.4"/><path d="M208.4 442.5L265.0 442.5"/><path d="M208.4 447.4L265.0 447.4"/><path d="M216.7 451.9L216.7 454.9"/><path d="M216.7 451.9L265.0 451.9"/><path d="M216.7 454.9L265.0 454.9"/><path d="M161.7 444.9L161.7 453.4"/><path d="M161.7 444.9L208.4 444.9"/><path d="M161.7 453.4L216.7 453.4"/><path d="M110.3 428.4L110.3 449.2"/><path d="M110.3 428.4L143.7 428.4"/><path d="M110.3 449.2L161.7 449.2"/><path d="M86.2 393.7L86.2 438.8"/><path d="M86.2 393.7L102.5 393.7"/><path d="M86.2 438.8L110.3 438.8"/><path d="M214.0 457.6L214.0 461.1"/><path d="M214.0 457.6L265.0 457.6"/><path d="M214.0 461.1L265.0 461.1"/><path d="M220.3 464.9L220.3 468.3"/><path d="M220.3 464.9L265.0 464.9"/><path d="M220.3 468.3L265.0 468.3"/><path d="M187.6 459.3L187.6 466.6"/><path d="M187.6 459.3L214.0 459.3"/><path d="M187.6 466.6L220.3 466.6"/><path d="M226.3 472.3L226.3 476.0"/><path d="M226.3 472.3L265.0 472.3"/><path d="M226.3 476.0L265.0 476.0"/><path d="M195.6 474.2L195.6 479.1"/><path d="M195.6 474.2L226.3 474.2"/><path d="M195.6 479.1L265.0 479.1"/><path d="M217.1 482.5L217.1 486.6"/><path d="M217.1 482.5L265.0 482.5"/><path d="M217.1 486.6L265.0 486.6"/><path d="M170.5 476.7L170.5 484.5"/><path d="M170.5 476.7L195.6 476.7"/><path d="M170.5 484.5L217.1 484.5"/><path d="M137.6 463.0L137.6 480.6"/><path d="M137.6 463.0L187.6 463.0"/><path d="M137.6 480.6L170.5 480.6"/><path d="M215.4 490.8L215.4 495.0"/><path d="M215.4 490.8L265.0 490.8"/><path d="M215.4 495.0L265.0 495.0"/><path d="M178.3 492.9L178.3 500.5"/><path d="M178.3 492.9L215.4 492.9"/><path d="M178.3 500.5L265.0 500.5"/><path d="M222.3 510.0L222.3 513.7"/><path d="M222.3 510.0L265.0 510.0"/><path d="M222.3 513.7L265.0 513.7"/><path d="M194.7 506.1L194.7 511.8"/><path d="M194.7 506.1L265.0 506.1"/><path d="M194.7 511.8L222.3 511.8"/><path d="M129.8 496.7L129.8 509.0"/><path d="M129.8 496.7L178.3 496.7"/><path d="M129.8 509.0L194.7 509.0"/><path d="M100.7 471.8L100.7 502.8"/><path d="M100.7 471.8L137.6 471.8"/><path d="M100.7 502.8L129.8 502.8"/><path d="M230.9 522.9L230.9 526.1"/><path d="M230.9 522.9L265.0 522.9"/><path d="M230.9 526.1L265.0 526.1"/><path d="M179.8 518.6L179.8 524.5"/><path d="M179.8 518.6L265.0 518.6"/><path d="M179.8 524.5L230.9 524.5"/><path d="M210.6 533.0L210.6 536.7"/><path d="M210.6 533.0L265.0 533.0"/><path d="M210.6 536.7L265.0 536.7"/><path d="M201.7 529.1L201.7 534.9"/><path d="M201.7 529.1L265.0 529.1"/><path d="M201.7 534.9L210.6 534.9"/><path d="M236.4 539.8L236.4 542.9"/><path d="M236.4 539.8L265.0 539.8"/><path d="M236.4 542.9L265.0 542.9"/><path d="M198.6 541.4L198.6 545.8"/><path d="M198.6 541.4L236.4 541.4"/><path d="M198.6 545.8L265.0 545.8"/><path d="M147.5 532.0L147.5 543.6"/><path d="M147.5 532.0L201.7 532.0"/><path d="M147.5 543.6L198.6 543.6"/><path d="M134.3 521.5L134.3 537.8"/><path d="M134.3 521.5L179.8 521.5"/><path d="M134.3 537.8L147.5 537.8"/><path d="M220.8 553.1L220.8 556.5"/><path d="M220.8 553.1L265.0 553.1"/><path d="M220.8 556.5L265.0 556.5"/><path d="M182.4 549.4L182.4 554.8"/><path d="M182.4 549.4L265.0 549.4"/><path d="M182.4 554.8L220.8 554.8"/><path d="M207.0 560.9L207.0 564.8"/><path d="M207.0 560.9L265.0 560.9"/><path d="M207.0 564.8L265.0 564.8"/><path d="M212.3 567.9L212.3 571.7"/><path d="M212.3 567.9L265.0 567.9"/><path d="M212.3 571.7L265.0 571.7"/><path d="M189.7 569.8L189.7 575.7"/><path d="M189.7 569.8L212.3 569.8"/><path d="M189.7 575.7L265.0 575.7"/><path d="M170.7 572.8L170.7 580.3"/><path d="M170.7 572.8L189.7 572.8"/><path d="M170.7 580.3L265.0 580.3"/><path d="M147.5 562.9L147.5 576.6"/><path d="M147.5 562.9L207.0 562.9"/><path d="M147.5 576.6L170.7 576.6"/><path d="M125.0 552.1L125.0 569.7"/><path d="M125.0 552.1L182.4 552.1"/><path d="M125.0 569.7L147.5 569.7"/><path d="M90.5 529.7L90.5 560.9"/><path d="M90.5 529.7L134.3 529.7"/><path d="M90.5 560.9L125.0 560.9"/><path d="M61.0 487.3L61.0 545.3"/><path d="M61.0 487.3L100.7 487.3"/><path d="M61.0 545.3L90.5 545.3"/><path d="M21.6 416.3L21.6 516.3"/><path d="M21.6 416.3L86.2 416.3"/><path d="M21.6 516.3L61.0 516.3"/><path d="M208.7 585.9L208.7 590.0"/><path d="M208.7 585.9L265.0 585.9"/><path d="M208.7 590.0L265.0 590.0"/><path d="M177.9 594.2L177.9 599.9"/><path d="M177.9 594.2L265.0 594.2"/><path d="M177.9 599.9L265.0 599.9"/><path d="M156.1 587.9L156.1 597.1"/><path d="M156.1 587.9L208.7 587.9"/><path d="M156.1 597.1L177.9 597.1"/><path d="M215.6 609.3L215.6 612.3"/><path d="M215.6 609.3L265.0 609.3"/><path d="M215.6 612.3L265.0 612.3"/><path d="M194.3 610.8L194.3 616.1"/><path d="M194.3 610.8L215.6 610.8"/><path d="M194.3 616.1L265.0 616.1"/><path d="M169.2 605.1L169.2 613.5"/><path d="M169.2 605.1L265.0 605.1"/><path d="M169.2 613.5L194.3 613.5"/><path d="M214.6 620.4L214.6 624.5"/><path d="M214.6 620.4L265.0 620.4"/><path d="M214.6 624.5L265.0 624.5"/><path d="M214.8 628.5L214.8 631.5"/><path d="M214.8 628.5L265.0 628.5"/><path d="M214.8 631.5L265.0 631.5"/><path d="M166.8 622.4L166.8 630.0"/><path d="M166.8 622.4L214.6 622.4"/><path d="M166.8 630.0L214.8 630.0"/><path d="M137.8 609.3L137.8 626.2"/><path d="M137.8 609.3L169.2 609.3"/><path d="M137.8 626.2L166.8 626.2"/><path d="M115.7 592.5L115.7 617.8"/><path d="M115.7 592.5L156.1 592.5"/><path d="M115.7 617.8L137.8 617.8"/><path d="M215.6 634.5L215.6 637.9"/><path d="M215.6 634.5L265.0 634.5"/><path d="M215.6 637.9L265.0 637.9"/><path d="M211.4 641.1L211.4 644.7"/><path d="M211.4 641.1L265.0 641.1"/><path d="M211.4 644.7L265.0 644.7"/><path d="M174.8 636.2L174.8 642.9"/><path d="M174.8 636.2L215.6 636.2"/><path d="M174.8 642.9L211.4 642.9"/><path d="M228.4 652.9L228.4 656.1"/><path d="M228.4 652.9L265.0 652.9"/><path d="M228.4 656.1L265.0 656.1"/><path d="M179.0 649.1L179.0 654.5"/><path d="M179.0 649.1L265.0 649.1"/><path d="M179.0 654.5L228.4 654.5"/><path d="M204.9 660.5L204.9 665.3"/><path d="M204.9 660.5L265.0 660.5"/><path d="M204.9 665.3L265.0 665.3"/><path d="M150.1 651.8L150.1 662.9"/><path d="M150.1 651.8L179.0 651.8"/><path d="M150.1 662.9L204.9 662.9"/><path d="M118.4 639.6L118.4 657.3"/><path d="M118.4 639.6L174.8 639.6"/><path d="M118.4 657.3L150.1 657.3"/><path d="M81.2 605.1L81.2 648.4"/><path d="M81.2 605.1L115.7 605.1"/><path d="M81.2 648.4L118.4 648.4"/><path d="M211.2 669.5L211.2 672.8"/><path d="M211.2 669.5L265.0 669.5"/><path d="M211.2 672.8L265.0 672.8"/><path d="M210.8 675.8L210.8 679.5"/><path d="M210.8 675.8L265.0 675.8"/><path d="M210.8 679.5L265.0 679.5"/><path d="M185.7 671.2L185.7 677.6"/><path d="M185.7 671.2L211.2 671.2"/><path d="M185.7 677.6L210.8 677.6"/><path d="M212.8 682.9L212.8 686.4"/><path d="M212.8 682.9L265.0 682.9"/><path d="M212.8 686.4L265.0 686.4"/><path d="M194.7 684.7L194.7 690.7"/><path d="M194.7 684.7L212.8 684.7"/><path d="M194.7 690.7L265.0 690.7"/><path d="M203.3 694.6L203.3 698.6"/><path d="M203.3 694.6L265.0 694.6"/><path d="M203.3 698.6L265.0 698.6"/><path d="M176.3 696.6L176.3 702.8"/><path d="M176.3 696.6L203.3 696.6"/><path d="M176.3 702.8L265.0 702.8"/><path d="M148.9 687.7L148.9 699.7"/><path d="M148.9 687.7L194.7 687.7"/><path d="M148.9 699.7L176.3 699.7"/><path d="M113.7 674.4L113.7 693.7"/><path d="M113.7 674.4L185.7 674.4"/><path d="M113.7 693.7L148.9 693.7"/><path d="M214.3 706.7L214.3 710.9"/><path d="M214.3 706.7L265.0 706.7"/><path d="M214.3 710.9L265.0 710.9"/><path d="M207.2 715.8L207.2 719.7"/><path d="M207.2 715.8L265.0 715.8"/><path d="M207.2 719.7L265.0 719.7"/><path d="M219.0 722.3L219.0 725.5"/><path d="M219.0 722.3L265.0 722.3"/><path d="M219.0 725.5L265.0 725.5"/><path d="M184.1 717.8L184.1 723.9"/><path d="M184.1 717.8L207.2 717.8"/><path d="M184.1 723.9L219.0 723.9"/><path d="M144.6 708.8L144.6 720.8"/><path d="M144.6 708.8L214.3 708.8"/><path d="M144.6 720.8L184.1 720.8"/><path d="M213.5 734.9L213.5 738.5"/><path d="M213.5 734.9L265.0 734.9"/><path d="M213.5 738.5L265.0 738.5"/><path d="M180.0 730.3L180.0 736.7"/><path d="M180.0 730.3L265.0 730.3"/><path d="M180.0 736.7L213.5 736.7"/><path d="M134.0 714.8L134.0 733.5"/><path d="M134.0 714.8L144.6 714.8"/><path d="M134.0 733.5L180.0 733.5"/><path d="M222.1 741.6L222.1 745.5"/><path d="M222.1 741.6L265.0 741.6"/><path d="M222.1 745.5L265.0 745.5"/><path d="M235.3 749.7L235.3 752.9"/><path d="M235.3 749.7L265.0 749.7"/><path d="M235.3 752.9L265.0 752.9"/><path d="M213.8 751.3L213.8 755.9"/><path d="M213.8 751.3L235.3 751.3"/><path d="M213.8 755.9L265.0 755.9"/><path d="M172.2 753.6L172.2 759.6"/><path d="M172.2 753.6L213.8 753.6"/><path d="M172.2 759.6L265.0 759.6"/><path d="M158.7 743.6L158.7 756.6"/><path d="M158.7 743.6L222.1 743.6"/><path d="M158.7 756.6L172.2 756.6"/><path d="M104.7 724.2L104.7 750.1"/><path d="M104.7 724.2L134.0 724.2"/><path d="M104.7 750.1L158.7 750.1"/><path d="M71.5 684.0L71.5 737.1"/><path d="M71.5 684.0L113.7 684.0"/><path d="M71.5 737.1L104.7 737.1"/><path d="M31.1 626.8L31.1 710.6"/><path d="M31.1 626.8L81.2 626.8"/><path d="M31.1 710.6L71.5 710.6"/><path d="M199.8 763.6L199.8 767.6"/><path d="M199.8 763.6L265.0 763.6"/><path d="M199.8 767.6L265.0 767.6"/><path d="M190.3 772.7L190.3 777.9"/><path d="M190.3 772.7L265.0 772.7"/><path d="M190.3 777.9L265.0 777.9"/><path d="M169.7 765.6L169.7 775.3"/><path d="M169.7 765.6L199.8 765.6"/><path d="M169.7 775.3L190.3 775.3"/><path d="M213.4 783.0L213.4 787.1"/><path d="M213.4 783.0L265.0 783.0"/><path d="M213.4 787.1L265.0 787.1"/><path d="M213.8 791.0L213.8 794.9"/><path d="M213.8 791.0L265.0 791.0"/><path d="M213.8 794.9L265.0 794.9"/><path d="M176.2 792.9L176.2 798.2"/><path d="M176.2 792.9L213.8 792.9"/><path d="M176.2 798.2L265.0 798.2"/><path d="M170.6 795.6L170.6 803.1"/><path d="M170.6 795.6L176.2 795.6"/><path d="M170.6 803.1L265.0 803.1"/><path d="M134.7 785.0L134.7 799.3"/><path d="M134.7 785.0L213.4 785.0"/><path d="M134.7 799.3L170.6 799.3"/><path d="M106.8 770.4L106.8 792.2"/><path d="M106.8 770.4L169.7 770.4"/><path d="M106.8 792.2L134.7 792.2"/><path d="M226.5 812.8L226.5 816.3"/><path d="M226.5 812.8L265.0 812.8"/><path d="M226.5 816.3L265.0 816.3"/><path d="M184.2 808.7L184.2 814.6"/><path d="M184.2 808.7L265.0 808.7"/><path d="M184.2 814.6L226.5 814.6"/><path d="M216.1 819.8L216.1 823.0"/><path d="M216.1 819.8L265.0 819.8"/><path d="M216.1 823.0L265.0 823.0"/><path d="M195.9 821.4L195.9 826.7"/><path d="M195.9 821.4L216.1 821.4"/><path d="M195.9 826.7L265.0 826.7"/><path d="M157.3 811.6L157.3 824.1"/><path d="M157.3 811.6L184.2 811.6"/><path d="M157.3 824.1L195.9 824.1"/><path d="M228.7 834.9L228.7 838.4"/><path d="M228.7 834.9L265.0 834.9"/><path d="M228.7 838.4L265.0 838.4"/><path d="M199.4 830.8L199.4 836.6"/><path d="M199.4 830.8L265.0 830.8"/><path d="M199.4 836.6L228.7 836.6"/><path d="M134.8 817.8L134.8 833.7"/><path d="M134.8 817.8L157.3 817.8"/><path d="M134.8 833.7L199.4 833.7"/><path d="M211.5 841.8L211.5 845.0"/><path d="M211.5 841.8L265.0 841.8"/><path d="M211.5 845.0L265.0 845.0"/><path d="M182.5 843.4L182.5 848.8"/><path d="M182.5 843.4L211.5 843.4"/><path d="M182.5 848.8L265.0 848.8"/><path d="M189.9 854.2L189.9 859.7"/><path d="M189.9 854.2L265.0 854.2"/><path d="M189.9 859.7L265.0 859.7"/><path d="M199.4 864.8L199.4 868.7"/><path d="M199.4 864.8L265.0 864.8"/><path d="M199.4 868.7L265.0 868.7"/><path d="M199.9 871.5L199.9 875.6"/><path d="M199.9 871.5L265.0 871.5"/><path d="M199.9 875.6L265.0 875.6"/><path d="M161.1 866.7L161.1 873.5"/><path d="M161.1 866.7L199.4 866.7"/><path d="M161.1 873.5L199.9 873.5"/><path d="M129.6 856.9L129.6 870.1"/><path d="M129.6 856.9L189.9 856.9"/><path d="M129.6 870.1L161.1 870.1"/><path d="M125.6 846.1L125.6 863.5"/><path d="M125.6 846.1L182.5 846.1"/><path d="M125.6 863.5L129.6 863.5"/><path d="M91.4 825.8L91.4 854.8"/><path d="M91.4 825.8L134.8 825.8"/><path d="M91.4 854.8L125.6 854.8"/><path d="M216.8 884.7L216.8 888.1"/><path d="M216.8 884.7L265.0 884.7"/><path d="M216.8 888.1L265.0 888.1"/><path d="M191.9 880.8L191.9 886.4"/><path d="M191.9 880.8L265.0 880.8"/><path d="M191.9 886.4L216.8 886.4"/><path d="M217.3 891.4L217.3 894.5"/><path d="M217.3 891.4L265.0 891.4"/><path d="M217.3 894.5L265.0 894.5"/><path d="M184.4 892.9L184.4 898.9"/><path d="M184.4 892.9L217.3 892.9"/><path d="M184.4 898.9L265.0 898.9"/><path d="M139.4 883.6L139.4 895.9"/><path d="M139.4 883.6L191.9 883.6"/><path d="M139.4 895.9L184.4 895.9"/><path d="M215.1 902.7L215.1 905.9"/><path d="M215.1 902.7L265.0 902.7"/><path d="M215.1 905.9L265.0 905.9"/><path d="M214.2 909.7L214.2 913.6"/><path d="M214.2 909.7L265.0 909.7"/><path d="M214.2 913.6L265.0 913.6"/><path d="M183.8 904.3L183.8 911.7"/><path d="M183.8 904.3L215.1 904.3"/><path d="M183.8 911.7L214.2 911.7"/><path d="M204.4 918.0L204.4 923.0"/><path d="M204.4 918.0L265.0 918.0"/><path d="M204.4 923.0L265.0 923.0"/><path d="M149.2 908.0L149.2 920.5"/><path d="M149.2 908.0L183.8 908.0"/><path d="M149.2 920.5L204.4 920.5"/><path d="M194.5 928.1L194.5 933.3"/><path d="M194.5 928.1L265.0 928.1"/><path d="M194.5 933.3L265.0 933.3"/><path d="M224.3 937.8L224.3 941.2"/><path d="M224.3 937.8L265.0 937.8"/><path d="M224.3 941.2L265.0 941.2"/><path d="M187.3 939.5L187.3 945.4"/><path d="M187.3 939.5L224.3 939.5"/><path d="M187.3 945.4L265.0 945.4"/><path d="M145.2 930.7L145.2 942.4"/><path d="M145.2 930.7L194.5 930.7"/><path d="M145.2 942.4L187.3 942.4"/><path d="M109.6 914.2L109.6 936.6"/><path d="M109.6 914.2L149.2 914.2"/><path d="M109.6 936.6L145.2 936.6"/><path d="M89.9 889.8L89.9 925.4"/><path d="M89.9 889.8L139.4 889.8"/><path d="M89.9 925.4L109.6 925.4"/><path d="M33.8 840.3L33.8 907.6"/><path d="M33.8 840.3L91.4 840.3"/><path d="M33.8 907.6L89.9 907.6"/><path d="M203.3 950.2L203.3 955.5"/><path d="M203.3 950.2L265.0 950.2"/><path d="M203.3 955.5L265.0 955.5"/><path d="M178.0 952.9L178.0 961.0"/><path d="M178.0 952.9L203.3 952.9"/><path d="M178.0 961.0L265.0 961.0"/><path d="M206.3 965.3L206.3 969.5"/><path d="M206.3 965.3L265.0 965.3"/><path d="M206.3 969.5L265.0 969.5"/><path d="M137.3 957.0L137.3 967.4"/><path d="M137.3 957.0L178.0 957.0"/><path d="M137.3 967.4L206.3 967.4"/><path d="M227.9 973.9L227.9 977.1"/><path d="M227.9 973.9L265.0 973.9"/><path d="M227.9 977.1L265.0 977.1"/><path d="M205.1 975.5L205.1 979.9"/><path d="M205.1 975.5L227.9 975.5"/><path d="M205.1 979.9L265.0 979.9"/><path d="M205.0 983.5L205.0 987.2"/><path d="M205.0 983.5L265.0 983.5"/><path d="M205.0 987.2L265.0 987.2"/><path d="M168.6 977.7L168.6 985.4"/><path d="M168.6 977.7L205.1 977.7"/><path d="M168.6 985.4L205.0 985.4"/><path d="M223.4 993.3L223.4 996.9"/><path d="M223.4 993.3L265.0 993.3"/><path d="M223.4 996.9L265.0 996.9"/><path d="M185.2 990.5L185.2 995.1"/><path d="M185.2 990.5L265.0 990.5"/><path d="M185.2 995.1L223.4 995.1"/><path d="M129.6 981.5L129.6 992.8"/><path d="M129.6 981.5L168.6 981.5"/><path d="M129.6 992.8L185.2 992.8"/><path d="M93.2 962.2L93.2 987.2"/><path d="M93.2 962.2L137.3 962.2"/><path d="M93.2 987.2L129.6 987.2"/><path d="M233.3 1004.6L233.3 1007.6"/><path d="M233.3 1004.6L265.0 1004.6"/><path d="M233.3 1007.6L265.0 1007.6"/><path d="M203.1 1006.1L203.1 1011.4"/><path d="M203.1 1006.1L233.3 1006.1"/><path d="M203.1 1011.4L265.0 1011.4"/><path d="M185.7 1001.3L185.7 1008.8"/><path d="M185.7 1001.3L265.0 1001.3"/><path d="M185.7 1008.8L203.1 1008.8"/><path d="M194.8 1015.8L194.8 1020.1"/><path d="M194.8 1015.8L265.0 1015.8"/><path d="M194.8 1020.1L265.0 1020.1"/><path d="M213.5 1024.0L213.5 1027.8"/><path d="M213.5 1024.0L265.0 1024.0"/><path d="M213.5 1027.8L265.0 1027.8"/><path d="M174.6 1018.0L174.6 1025.9"/><path d="M174.6 1018.0L194.8 1018.0"/><path d="M174.6 1025.9L213.5 1025.9"/><path d="M219.2 1030.6L219.2 1034.4"/><path d="M219.2 1030.6L265.0 1030.6"/><path d="M219.2 1034.4L265.0 1034.4"/><path d="M157.7 1022.0L157.7 1032.5"/><path d="M157.7 1022.0L174.6 1022.0"/><path d="M157.7 1032.5L219.2 1032.5"/><path d="M110.0 1005.0L110.0 1027.2"/><path d="M110.0 1005.0L185.7 1005.0"/><path d="M110.0 1027.2L157.7 1027.2"/><path d="M213.4 1039.2L213.4 1043.5"/><path d="M213.4 1039.2L265.0 1039.2"/><path d="M213.4 1043.5L265.0 1043.5"/><path d="M212.4 1051.4L212.4 1054.8"/><path d="M212.4 1051.4L265.0 1051.4"/><path d="M212.4 1054.8L265.0 1054.8"/><path d="M192.0 1047.8L192.0 1053.1"/><path d="M192.0 1047.8L265.0 1047.8"/><path d="M192.0 1053.1L212.4 1053.1"/><path d="M162.9 1041.3L162.9 1050.4"/><path d="M162.9 1041.3L213.4 1041.3"/><path d="M162.9 1050.4L192.0 1050.4"/><path d="M93.3 1016.1L93.3 1045.9"/><path d="M93.3 1016.1L110.0 1016.1"/><path d="M93.3 1045.9L162.9 1045.9"/><path d="M56.0 974.7L56.0 1031.0"/><path d="M56.0 974.7L93.2 974.7"/><path d="M56.0 1031.0L93.3 1031.0"/><path d="M8.7 873.9L8.7 1002.8"/><path d="M8.7 873.9L33.8 873.9"/><path d="M8.7 1002.8L56.0 1002.8"/><path d="M212.1 1058.3L212.1 1062.1"/><path d="M212.1 1058.3L265.0 1058.3"/><path d="M212.1 1062.1L265.0 1062.1"/><path d="M232.0 1066.1L232.0 1069.2"/><path d="M232.0 1066.1L265.0 1066.1"/><path d="M232.0 1069.2L265.0 1069.2"/><path d="M196.4 1067.6L196.4 1072.1"/><path d="M196.4 1067.6L232.0 1067.6"/><path d="M196.4 1072.1L265.0 1072.1"/><path d="M172.8 1060.2L172.8 1069.9"/><path d="M172.8 1060.2L212.1 1060.2"/><path d="M172.8 1069.9L196.4 1069.9"/><path d="M215.7 1075.3L215.7 1078.9"/><path d="M215.7 1075.3L265.0 1075.3"/><path d="M215.7 1078.9L265.0 1078.9"/><path d="M187.0 1077.1L187.0 1083.4"/><path d="M187.0 1077.1L215.7 1077.1"/><path d="M187.0 1083.4L265.0 1083.4"/><path d="M199.1 1088.9L199.1 1093.1"/><path d="M199.1 1088.9L265.0 1088.9"/><path d="M199.1 1093.1L265.0 1093.1"/><path d="M144.6 1080.3L144.6 1091.0"/><path d="M144.6 1080.3L187.0 1080.3"/><path d="M144.6 1091.0L199.1 1091.0"/><path d="M126.8 1065.1L126.8 1085.6"/><path d="M126.8 1065.1L172.8 1065.1"/><path d="M126.8 1085.6L144.6 1085.6"/><path d="M197.7 1096.9L197.7 1101.8"/><path d="M197.7 1096.9L265.0 1096.9"/><path d="M197.7 1101.8L265.0 1101.8"/><path d="M180.9 1099.4L180.9 1106.6"/><path d="M180.9 1099.4L197.7 1099.4"/><path d="M180.9 1106.6L265.0 1106.6"/><path d="M216.6 1110.4L216.6 1114.1"/><path d="M216.6 1110.4L265.0 1110.4"/><path d="M216.6 1114.1L265.0 1114.1"/><path d="M229.5 1122.2L229.5 1125.3"/><path d="M229.5 1122.2L265.0 1122.2"/><path d="M229.5 1125.3L265.0 1125.3"/><path d="M203.7 1118.7L203.7 1123.7"/><path d="M203.7 1118.7L265.0 1118.7"/><path d="M203.7 1123.7L229.5 1123.7"/><path d="M157.8 1112.3L157.8 1121.2"/><path d="M157.8 1112.3L216.6 1112.3"/><path d="M157.8 1121.2L203.7 1121.2"/><path d="M210.5 1129.8L210.5 1133.9"/><path d="M210.5 1129.8L265.0 1129.8"/><path d="M210.5 1133.9L265.0 1133.9"/><path d="M193.6 1137.3L193.6 1142.0"/><path d="M193.6 1137.3L265.0 1137.3"/><path d="M193.6 1142.0L265.0 1142.0"/><path d="M152.9 1131.9L152.9 1139.7"/><path d="M152.9 1131.9L210.5 1131.9"/><path d="M152.9 1139.7L193.6 1139.7"/><path d="M216.5 1146.2L216.5 1149.4"/><path d="M216.5 1146.2L265.0 1146.2"/><path d="M216.5 1149.4L265.0 1149.4"/><path d="M218.2 1152.5L218.2 1155.7"/><path d="M218.2 1152.5L265.0 1152.5"/><path d="M218.2 1155.7L265.0 1155.7"/><path d="M190.0 1147.8L190.0 1154.1"/><path d="M190.0 1147.8L216.5 1147.8"/><path d="M190.0 1154.1L218.2 1154.1"/><path d="M124.5 1135.8L124.5 1150.9"/><path d="M124.5 1135.8L152.9 1135.8"/><path d="M124.5 1150.9L190.0 1150.9"/><path d="M117.8 1116.7L117.8 1143.4"/><path d="M117.8 1116.7L157.8 1116.7"/><path d="M117.8 1143.4L124.5 1143.4"/><path d="M224.4 1159.2L224.4 1162.2"/><path d="M224.4 1159.2L265.0 1159.2"/><path d="M224.4 1162.2L265.0 1162.2"/><path d="M231.0 1165.7L231.0 1168.8"/><path d="M231.0 1165.7L265.0 1165.7"/><path d="M231.0 1168.8L265.0 1168.8"/><path d="M185.6 1160.7L185.6 1167.2"/><path d="M185.6 1160.7L224.4 1160.7"/><path d="M185.6 1167.2L231.0 1167.2"/><path d="M231.8 1172.0L231.8 1175.3"/><path d="M231.8 1172.0L265.0 1172.0"/><path d="M231.8 1175.3L265.0 1175.3"/><path d="M205.0 1178.5L205.0 1182.4"/><path d="M205.0 1178.5L265.0 1178.5"/><path d="M205.0 1182.4L265.0 1182.4"/><path d="M169.6 1173.6L169.6 1180.5"/><path d="M169.6 1173.6L231.8 1173.6"/><path d="M169.6 1180.5L205.0 1180.5"/><path d="M214.0 1186.8L214.0 1190.8"/><path d="M214.0 1186.8L265.0 1186.8"/><path d="M214.0 1190.8L265.0 1190.8"/><path d="M161.5 1177.1L161.5 1188.8"/><path d="M161.5 1177.1L169.6 1177.1"/><path d="M161.5 1188.8L214.0 1188.8"/><path d="M220.0 1197.6L220.0 1200.6"/><path d="M220.0 1197.6L265.0 1197.6"/><path d="M220.0 1200.6L265.0 1200.6"/><path d="M189.1 1194.5L189.1 1199.1"/><path d="M189.1 1194.5L265.0 1194.5"/><path d="M189.1 1199.1L220.0 1199.1"/><path d="M175.9 1196.8L175.9 1205.4"/><path d="M175.9 1196.8L189.1 1196.8"/><path d="M175.9 1205.4L265.0 1205.4"/><path d="M128.4 1182.9L128.4 1201.1"/><path d="M128.4 1182.9L161.5 1182.9"/><path d="M128.4 1201.1L175.9 1201.1"/><path d="M218.0 1209.6L218.0 1213.0"/><path d="M218.0 1209.6L265.0 1209.6"/><path d="M218.0 1213.0L265.0 1213.0"/><path d="M200.2 1211.3L200.2 1216.8"/><path d="M200.2 1211.3L218.0 1211.3"/><path d="M200.2 1216.8L265.0 1216.8"/><path d="M214.0 1229.4L214.0 1232.9"/><path d="M214.0 1229.4L265.0 1229.4"/><path d="M214.0 1232.9L265.0 1232.9"/><path d="M191.8 1225.5L191.8 1231.2"/><path d="M191.8 1225.5L265.0 1225.5"/><path d="M191.8 1231.2L214.0 1231.2"/><path d="M173.7 1221.2L173.7 1228.3"/><path d="M173.7 1221.2L265.0 1221.2"/><path d="M173.7 1228.3L191.8 1228.3"/><path d="M146.3 1214.0L146.3 1224.8"/><path d="M146.3 1214.0L200.2 1214.0"/><path d="M146.3 1224.8L173.7 1224.8"/><path d="M199.6 1240.2L199.6 1244.9"/><path d="M199.6 1240.2L265.0 1240.2"/><path d="M199.6 1244.9L265.0 1244.9"/><path d="M180.0 1236.1L180.0 1242.5"/><path d="M180.0 1236.1L265.0 1236.1"/><path d="M180.0 1242.5L199.6 1242.5"/><path d="M111.1 1219.4L111.1 1239.3"/><path d="M111.1 1219.4L146.3 1219.4"/><path d="M111.1 1239.3L180.0 1239.3"/><path d="M81.0 1192.0L81.0 1229.4"/><path d="M81.0 1192.0L128.4 1192.0"/><path d="M81.0 1229.4L111.1 1229.4"/><path d="M211.7 1259.9L211.7 1263.2"/><path d="M211.7 1259.9L265.0 1259.9"/><path d="M211.7 1263.2L265.0 1263.2"/><path d="M199.9 1255.8L199.9 1261.6"/><path d="M199.9 1255.8L265.0 1255.8"/><path d="M199.9 1261.6L211.7 1261.6"/><path d="M175.8 1250.5L175.8 1258.7"/><path d="M175.8 1250.5L265.0 1250.5"/><path d="M175.8 1258.7L199.9 1258.7"/><path d="M223.0 1271.7L223.0 1275.3"/><path d="M223.0 1271.7L265.0 1271.7"/><path d="M223.0 1275.3L265.0 1275.3"/><path d="M200.1 1273.5L200.1 1278.9"/><path d="M200.1 1273.5L223.0 1273.5"/><path d="M200.1 1278.9L265.0 1278.9"/><path d="M165.1 1267.4L165.1 1276.2"/><path d="M165.1 1267.4L265.0 1267.4"/><path d="M165.1 1276.2L200.1 1276.2"/><path d="M132.2 1254.6L132.2 1271.8"/><path d="M132.2 1254.6L175.8 1254.6"/><path d="M132.2 1271.8L165.1 1271.8"/><path d="M219.7 1288.7L219.7 1292.8"/><path d="M219.7 1288.7L265.0 1288.7"/><path d="M219.7 1292.8L265.0 1292.8"/><path d="M182.7 1283.5L182.7 1290.8"/><path d="M182.7 1283.5L265.0 1283.5"/><path d="M182.7 1290.8L219.7 1290.8"/><path d="M198.1 1296.6L198.1 1300.8"/><path d="M198.1 1296.6L265.0 1296.6"/><path d="M198.1 1300.8L265.0 1300.8"/><path d="M151.0 1287.1L151.0 1298.7"/><path d="M151.0 1287.1L182.7 1287.1"/><path d="M151.0 1298.7L198.1 1298.7"/><path d="M217.0 1305.1L217.0 1308.9"/><path d="M217.0 1305.1L265.0 1305.1"/><path d="M217.0 1308.9L265.0 1308.9"/><path d="M191.4 1313.0L191.4 1317.9"/><path d="M191.4 1313.0L265.0 1313.0"/><path d="M191.4 1317.9L265.0 1317.9"/><path d="M168.9 1307.0L168.9 1315.4"/><path d="M168.9 1307.0L217.0 1307.0"/><path d="M168.9 1315.4L191.4 1315.4"/><path d="M121.0 1292.9L121.0 1311.2"/><path d="M121.0 1292.9L151.0 1292.9"/><path d="M121.0 1311.2L168.9 1311.2"/><path d="M75.0 1263.2L75.0 1302.1"/><path d="M75.0 1263.2L132.2 1263.2"/><path d="M75.0 1302.1L121.0 1302.1"/><path d="M200.5 1327.2L200.5 1331.3"/><path d="M200.5 1327.2L265.0 1327.2"/><path d="M200.5 1331.3L265.0 1331.3"/><path d="M180.3 1322.3L180.3 1329.3"/><path d="M180.3 1322.3L265.0 1322.3"/><path d="M180.3 1329.3L200.5 1329.3"/><path d="M201.1 1335.5L201.1 1340.4"/><path d="M201.1 1335.5L265.0 1335.5"/><path d="M201.1 1340.4L265.0 1340.4"/><path d="M152.4 1325.8L152.4 1337.9"/><path d="M152.4 1325.8L180.3 1325.8"/><path d="M152.4 1337.9L201.1 1337.9"/><path d="M217.4 1343.9L217.4 1347.2"/><path d="M217.4 1343.9L265.0 1343.9"/><path d="M217.4 1347.2L265.0 1347.2"/><path d="M180.6 1345.6L180.6 1351.4"/><path d="M180.6 1345.6L217.4 1345.6"/><path d="M180.6 1351.4L265.0 1351.4"/><path d="M116.4 1331.9L116.4 1348.5"/><path d="M116.4 1331.9L152.4 1331.9"/><path d="M116.4 1348.5L180.6 1348.5"/><path d="M65.8 1282.6L65.8 1340.2"/><path d="M65.8 1282.6L75.0 1282.6"/><path d="M65.8 1340.2L116.4 1340.2"/><path d="M13.1 466.3L13.1 668.7"/><path d="M13.1 466.3L21.6 466.3"/><path d="M13.1 668.7L31.1 668.7"/><path d="M2.0 781.3L2.0 938.4"/><path d="M2.0 781.3L106.8 781.3"/><path d="M2.0 938.4L8.7 938.4"/><path d="M118.4 1075.3L118.4 1103.0"/><path d="M118.4 1075.3L126.8 1075.3"/><path d="M118.4 1103.0L180.9 1103.0"/><path d="M111.6 1130.0L111.6 1164.0"/><path d="M111.6 1130.0L117.8 1130.0"/><path d="M111.6 1164.0L185.6 1164.0"/><path d="M60.2 1210.7L60.2 1311.4"/><path d="M60.2 1210.7L81.0 1210.7"/><path d="M60.2 1311.4L65.8 1311.4"/><path d="M2.0 567.5L2.0 859.8"/><path d="M2.0 567.5L13.1 567.5"/><path d="M2.0 859.8L2.0 859.8"/><path d="M102.4 1089.2L102.4 1147.0"/><path d="M102.4 1089.2L118.4 1089.2"/><path d="M102.4 1147.0L111.6 1147.0"/><path d="M2.0 713.7L2.0 1118.1"/><path d="M2.0 713.7L2.0 713.7"/><path d="M2.0 1118.1L102.4 1118.1"/><path d="M2.0 915.9L2.0 1261.0"/><path d="M2.0 915.9L2.0 915.9"/><path d="M2.0 1261.0L60.2 1261.0"/></g></svg>
<div id="rd"><div id="rdi">
<div style="top:0px;background:linear-gradient(90deg,rgba(0,0,0,0) 226px,rgba(0,0,0,0.05) 233px,rgba(0,0,0,0.15) 246px,rgba(0,0,0,0.3) 256px,rgba(0,0,0,0.5) 267px,rgba(0,0,0,0.75) 279px,rgba(0,0,0,0.92) 287px,#000 292px)"></div>
<div style="top:2px;background:linear-gradient(90deg,rgba(0,0,0,0) 231px,rgba(0,0,0,0.05) 237px,rgba(0,0,0,0.15) 249px,rgba(0,0,0,0.3) 258px,rgba(0,0,0,0.5) 269px,rgba(0,0,0,0.75) 280px,rgba(0,0,0,0.92) 287px,#000 292px)"></div>
<div style="top:4px;background:linear-gradient(90deg,rgba(0,0,0,0) 222px,rgba(0,0,0,0.05) 229px,rgba(0,0,0,0.15) 243px,rgba(0,0,0,0.3) 253px,rgba(0,0,0,0.5) 265px,rgba(0,0,0,0.75) 278px,rgba(0,0,0,0.92) 286px,#000 292px)"></div>
<div style="top:6px;background:linear-gradient(90deg,rgba(0,0,0,0) 218px,rgba(0,0,0,0.05) 226px,rgba(0,0,0,0.15) 240px,rgba(0,0,0,0.3) 252px,rgba(0,0,0,0.5) 264px,rgba(0,0,0,0.75) 277px,rgba(0,0,0,0.92) 286px,#000 292px)"></div>
<div style="top:8px;background:linear-gradient(90deg,rgba(0,0,0,0) 189px,rgba(0,0,0,0.05) 199px,rgba(0,0,0,0.15) 220px,rgba(0,0,0,0.3) 235px,rgba(0,0,0,0.5) 253px,rgba(0,0,0,0.75) 271px,rgba(0,0,0,0.92) 284px,#000 292px)"></div>
<div style="top:10px;background:linear-gradient(90deg,rgba(0,0,0,0) 151px,rgba(0,0,0,0.05) 164px,rgba(0,0,0,0.15) 191px,rgba(0,0,0,0.3) 211px,rgba(0,0,0,0.5) 234px,rgba(0,0,0,0.75) 259px,rgba(0,0,0,0.92) 275px,#000 285px)"></div>
<div style="top:12px;background:linear-gradient(90deg,rgba(0,0,0,0) 127px,rgba(0,0,0,0.05) 142px,rgba(0,0,0,0.15) 173px,rgba(0,0,0,0.3) 196px,rgba(0,0,0,0.5) 223px,rgba(0,0,0,0.75) 251px,rgba(0,0,0,0.92) 269px,#000 282px)"></div>
<div style="top:14px;background:linear-gradient(90deg,rgba(0,0,0,0) 94px,rgba(0,0,0,0.05) 112px,rgba(0,0,0,0.15) 148px,rgba(0,0,0,0.3) 175px,rgba(0,0,0,0.5) 206px,rgba(0,0,0,0.75) 238px,rgba(0,0,0,0.92) 260px,#000 274px)"></div>
<div style="top:16px;background:linear-gradient(90deg,rgba(0,0,0,0) 73px,rgba(0,0,0,0.05) 93px,rgba(0,0,0,0.15) 132px,rgba(0,0,0,0.3) 162px,rgba(0,0,0,0.5) 196px,rgba(0,0,0,0.75) 232px,rgba(0,0,0,0.92) 255px,#000 271px)"></div>
<div style="top:18px;background:linear-gradient(90deg,rgba(0,0,0,0) 52px,rgba(0,0,0,0.05) 74px,rgba(0,0,0,0.15) 116px,rgba(0,0,0,0.3) 148px,rgba(0,0,0,0.5) 184px,rgba(0,0,0,0.75) 222px,rgba(0,0,0,0.92) 248px,#000 265px)"></div>
<div style="top:20px;background:linear-gradient(90deg,rgba(0,0,0,0) 54px,rgba(0,0,0,0.05) 75px,rgba(0,0,0,0.15) 117px,rgba(0,0,0,0.3) 148px,rgba(0,0,0,0.5) 184px,rgba(0,0,0,0.75) 221px,rgba(0,0,0,0.92) 247px,#000 263px)"></div>
<div style="top:22px;background:linear-gradient(90deg,rgba(0,0,0,0) 52px,rgba(0,0,0,0.05) 73px,rgba(0,0,0,0.15) 114px,rgba(0,0,0,0.3) 146px,rgba(0,0,0,0.5) 181px,rgba(0,0,0,0.75) 219px,rgba(0,0,0,0.92) 244px,#000 261px)"></div>
<div style="top:24px;background:linear-gradient(90deg,rgba(0,0,0,0) 34px,rgba(0,0,0,0.05) 56px,rgba(0,0,0,0.15) 100px,rgba(0,0,0,0.3) 133px,rgba(0,0,0,0.5) 170px,rgba(0,0,0,0.75) 209px,rgba(0,0,0,0.92) 235px,#000 253px)"></div>
<div style="top:26px;background:linear-gradient(90deg,rgba(0,0,0,0) 56px,rgba(0,0,0,0.05) 76px,rgba(0,0,0,0.15) 117px,rgba(0,0,0,0.3) 148px,rgba(0,0,0,0.5) 183px,rgba(0,0,0,0.75) 220px,rgba(0,0,0,0.92) 245px,#000 261px)"></div>
<div style="top:28px;background:linear-gradient(90deg,rgba(0,0,0,0) 52px,rgba(0,0,0,0.05) 72px,rgba(0,0,0,0.15) 114px,rgba(0,0,0,0.3) 145px,rgba(0,0,0,0.5) 180px,rgba(0,0,0,0.75) 217px,rgba(0,0,0,0.92) 242px,#000 259px)"></div>
<div style="top:30px;background:linear-gradient(90deg,rgba(0,0,0,0) 50px,rgba(0,0,0,0.05) 71px,rgba(0,0,0,0.15) 113px,rgba(0,0,0,0.3) 144px,rgba(0,0,0,0.5) 179px,rgba(0,0,0,0.75) 216px,rgba(0,0,0,0.92) 241px,#000 258px)"></div>
<div style="top:32px;background:linear-gradient(90deg,rgba(0,0,0,0) 30px,rgba(0,0,0,0.05) 52px,rgba(0,0,0,0.15) 96px,rgba(0,0,0,0.3) 128px,rgba(0,0,0,0.5) 166px,rgba(0,0,0,0.75) 205px,rgba(0,0,0,0.92) 231px,#000 249px)"></div>
<div style="top:34px;background:linear-gradient(90deg,rgba(0,0,0,0) 29px,rgba(0,0,0,0.05) 51px,rgba(0,0,0,0.15) 95px,rgba(0,0,0,0.3) 128px,rgba(0,0,0,0.5) 165px,rgba(0,0,0,0.75) 205px,rgba(0,0,0,0.92) 231px,#000 249px)"></div>
<div style="top:36px;background:linear-gradient(90deg,rgba(0,0,0,0) 37px,rgba(0,0,0,0.05) 58px,rgba(0,0,0,0.15) 101px,rgba(0,0,0,0.3) 134px,rgba(0,0,0,0.5) 170px,rgba(0,0,0,0.75) 209px,rgba(0,0,0,0.92) 235px,#000 252px)"></div>
<div style="top:38px;background:linear-gradient(90deg,rgba(0,0,0,0) 41px,rgba(0,0,0,0.05) 62px,rgba(0,0,0,0.15) 105px,rgba(0,0,0,0.3) 136px,rgba(0,0,0,0.5) 173px,rgba(0,0,0,0.75) 211px,rgba(0,0,0,0.92) 236px,#000 253px)"></div>
<div style="top:40px;background:linear-gradient(90deg,rgba(0,0,0,0) 48px,rgba(0,0,0,0.05) 69px,rgba(0,0,0,0.15) 110px,rgba(0,0,0,0.3) 142px,rgba(0,0,0,0.5) 177px,rgba(0,0,0,0.75) 214px,rgba(0,0,0,0.92) 239px,#000 256px)"></div>
<div style="top:42px;background:linear-gradient(90deg,rgba(0,0,0,0) 63px,rgba(0,0,0,0.05) 83px,rgba(0,0,0,0.15) 123px,rgba(0,0,0,0.3) 152px,rgba(0,0,0,0.5) 186px,rgba(0,0,0,0.75) 222px,rgba(0,0,0,0.92) 245px,#000 261px)"></div>
<div style="top:44px;background:linear-gradient(90deg,rgba(0,0,0,0) 106px,rgba(0,0,0,0.05) 123px,rgba(0,0,0,0.15) 157px,rgba(0,0,0,0.3) 182px,rgba(0,0,0,0.5) 211px,rgba(0,0,0,0.75) 242px,rgba(0,0,0,0.92) 262px,#000 276px)"></div>
<div style="top:46px;background:linear-gradient(90deg,rgba(0,0,0,0) 122px,rgba(0,0,0,0.05) 137px,rgba(0,0,0,0.15) 169px,rgba(0,0,0,0.3) 193px,rgba(0,0,0,0.5) 219px,rgba(0,0,0,0.75) 248px,rgba(0,0,0,0.92) 267px,#000 279px)"></div>
<div style="top:48px;background:linear-gradient(90deg,rgba(0,0,0,0) 145px,rgba(0,0,0,0.05) 159px,rgba(0,0,0,0.15) 187px,rgba(0,0,0,0.3) 208px,rgba(0,0,0,0.5) 232px,rgba(0,0,0,0.75) 258px,rgba(0,0,0,0.92) 274px,#000 286px)"></div>
<div style="top:50px;background:linear-gradient(90deg,rgba(0,0,0,0) 161px,rgba(0,0,0,0.05) 174px,rgba(0,0,0,0.15) 199px,rgba(0,0,0,0.3) 219px,rgba(0,0,0,0.5) 240px,rgba(0,0,0,0.75) 263px,rgba(0,0,0,0.92) 279px,#000 289px)"></div>
<div style="top:52px;background:linear-gradient(90deg,rgba(0,0,0,0) 167px,rgba(0,0,0,0.05) 179px,rgba(0,0,0,0.15) 203px,rgba(0,0,0,0.3) 221px,rgba(0,0,0,0.5) 242px,rgba(0,0,0,0.75) 264px,rgba(0,0,0,0.92) 278px,#000 288px)"></div>
<div style="top:54px;background:linear-gradient(90deg,rgba(0,0,0,0) 203px,rgba(0,0,0,0.05) 212px,rgba(0,0,0,0.15) 230px,rgba(0,0,0,0.3) 243px,rgba(0,0,0,0.5) 258px,rgba(0,0,0,0.75) 274px,rgba(0,0,0,0.92) 285px,#000 292px)"></div>
<div style="top:56px;background:linear-gradient(90deg,rgba(0,0,0,0) 208px,rgba(0,0,0,0.05) 216px,rgba(0,0,0,0.15) 233px,rgba(0,0,0,0.3) 246px,rgba(0,0,0,0.5) 260px,rgba(0,0,0,0.75) 275px,rgba(0,0,0,0.92) 285px,#000 292px)"></div>
<div style="top:58px;background:linear-gradient(90deg,rgba(0,0,0,0) 228px,rgba(0,0,0,0.05) 235px,rgba(0,0,0,0.15) 247px,rgba(0,0,0,0.3) 257px,rgba(0,0,0,0.5) 268px,rgba(0,0,0,0.75) 279px,rgba(0,0,0,0.92) 287px,#000 292px)"></div>
<div style="top:60px;background:linear-gradient(90deg,rgba(0,0,0,0) 211px,rgba(0,0,0,0.05) 219px,rgba(0,0,0,0.15) 236px,rgba(0,0,0,0.3) 248px,rgba(0,0,0,0.5) 261px,rgba(0,0,0,0.75) 276px,rgba(0,0,0,0.92) 286px,#000 292px)"></div>
<div style="top:62px;background:linear-gradient(90deg,rgba(0,0,0,0) 194px,rgba(0,0,0,0.05) 204px,rgba(0,0,0,0.15) 223px,rgba(0,0,0,0.3) 238px,rgba(0,0,0,0.5) 255px,rgba(0,0,0,0.75) 272px,rgba(0,0,0,0.92) 284px,#000 292px)"></div>
<div style="top:64px;background:linear-gradient(90deg,rgba(0,0,0,0) 182px,rgba(0,0,0,0.05) 193px,rgba(0,0,0,0.15) 215px,rgba(0,0,0,0.3) 231px,rgba(0,0,0,0.5) 250px,rgba(0,0,0,0.75) 270px,rgba(0,0,0,0.92) 283px,#000 292px)"></div>
<div style="top:66px;background:linear-gradient(90deg,rgba(0,0,0,0) 168px,rgba(0,0,0,0.05) 180px,rgba(0,0,0,0.15) 204px,rgba(0,0,0,0.3) 222px,rgba(0,0,0,0.5) 243px,rgba(0,0,0,0.75) 265px,rgba(0,0,0,0.92) 280px,#000 289px)"></div>
<div style="top:68px;background:linear-gradient(90deg,rgba(0,0,0,0) 158px,rgba(0,0,0,0.05) 171px,rgba(0,0,0,0.15) 197px,rgba(0,0,0,0.3) 217px,rgba(0,0,0,0.5) 239px,rgba(0,0,0,0.75) 263px,rgba(0,0,0,0.92) 278px,#000 289px)"></div>
<div style="top:70px;background:linear-gradient(90deg,rgba(0,0,0,0) 138px,rgba(0,0,0,0.05) 153px,rgba(0,0,0,0.15) 182px,rgba(0,0,0,0.3) 204px,rgba(0,0,0,0.5) 229px,rgba(0,0,0,0.75) 255px,rgba(0,0,0,0.92) 272px,#000 284px)"></div>
<div style="top:72px;background:linear-gradient(90deg,rgba(0,0,0,0) 116px,rgba(0,0,0,0.05) 132px,rgba(0,0,0,0.15) 165px,rgba(0,0,0,0.3) 189px,rgba(0,0,0,0.5) 217px,rgba(0,0,0,0.75) 246px,rgba(0,0,0,0.92) 265px,#000 278px)"></div>
<div style="top:74px;background:linear-gradient(90deg,rgba(0,0,0,0) 91px,rgba(0,0,0,0.05) 109px,rgba(0,0,0,0.15) 145px,rgba(0,0,0,0.3) 171px,rgba(0,0,0,0.5) 202px,rgba(0,0,0,0.75) 234px,rgba(0,0,0,0.92) 255px,#000 269px)"></div>
<div style="top:76px;background:linear-gradient(90deg,rgba(0,0,0,0) 75px,rgba(0,0,0,0.05) 94px,rgba(0,0,0,0.15) 132px,rgba(0,0,0,0.3) 160px,rgba(0,0,0,0.5) 192px,rgba(0,0,0,0.75) 226px,rgba(0,0,0,0.92) 248px,#000 263px)"></div>
<div style="top:78px;background:linear-gradient(90deg,rgba(0,0,0,0) 91px,rgba(0,0,0,0.05) 109px,rgba(0,0,0,0.15) 145px,rgba(0,0,0,0.3) 171px,rgba(0,0,0,0.5) 202px,rgba(0,0,0,0.75) 234px,rgba(0,0,0,0.92) 255px,#000 269px)"></div>
<div style="top:80px;background:linear-gradient(90deg,rgba(0,0,0,0) 73px,rgba(0,0,0,0.05) 92px,rgba(0,0,0,0.15) 130px,rgba(0,0,0,0.3) 158px,rgba(0,0,0,0.5) 190px,rgba(0,0,0,0.75) 224px,rgba(0,0,0,0.92) 247px,#000 262px)"></div>
<div style="top:82px;background:linear-gradient(90deg,rgba(0,0,0,0) 82px,rgba(0,0,0,0.05) 101px,rgba(0,0,0,0.15) 137px,rgba(0,0,0,0.3) 165px,rgba(0,0,0,0.5) 196px,rgba(0,0,0,0.75) 229px,rgba(0,0,0,0.92) 251px,#000 266px)"></div>
<div style="top:84px;background:linear-gradient(90deg,rgba(0,0,0,0) 84px,rgba(0,0,0,0.05) 102px,rgba(0,0,0,0.15) 139px,rgba(0,0,0,0.3) 166px,rgba(0,0,0,0.5) 197px,rgba(0,0,0,0.75) 230px,rgba(0,0,0,0.92) 252px,#000 267px)"></div>
<div style="top:86px;background:linear-gradient(90deg,rgba(0,0,0,0) 67px,rgba(0,0,0,0.05) 86px,rgba(0,0,0,0.15) 125px,rgba(0,0,0,0.3) 153px,rgba(0,0,0,0.5) 186px,rgba(0,0,0,0.75) 221px,rgba(0,0,0,0.92) 244px,#000 260px)"></div>
<div style="top:88px;background:linear-gradient(90deg,rgba(0,0,0,0) 95px,rgba(0,0,0,0.05) 112px,rgba(0,0,0,0.15) 148px,rgba(0,0,0,0.3) 174px,rgba(0,0,0,0.5) 204px,rgba(0,0,0,0.75) 236px,rgba(0,0,0,0.92) 257px,#000 271px)"></div>
<div style="top:90px;background:linear-gradient(90deg,rgba(0,0,0,0) 120px,rgba(0,0,0,0.05) 136px,rgba(0,0,0,0.15) 169px,rgba(0,0,0,0.3) 193px,rgba(0,0,0,0.5) 220px,rgba(0,0,0,0.75) 249px,rgba(0,0,0,0.92) 268px,#000 281px)"></div>
<div style="top:92px;background:linear-gradient(90deg,rgba(0,0,0,0) 105px,rgba(0,0,0,0.05) 122px,rgba(0,0,0,0.15) 156px,rgba(0,0,0,0.3) 181px,rgba(0,0,0,0.5) 210px,rgba(0,0,0,0.75) 241px,rgba(0,0,0,0.92) 261px,#000 275px)"></div>
<div style="top:94px;background:linear-gradient(90deg,rgba(0,0,0,0) 123px,rgba(0,0,0,0.05) 139px,rgba(0,0,0,0.15) 170px,rgba(0,0,0,0.3) 194px,rgba(0,0,0,0.5) 221px,rgba(0,0,0,0.75) 250px,rgba(0,0,0,0.92) 269px,#000 282px)"></div>
<div style="top:96px;background:linear-gradient(90deg,rgba(0,0,0,0) 116px,rgba(0,0,0,0.05) 132px,rgba(0,0,0,0.15) 165px,rgba(0,0,0,0.3) 189px,rgba(0,0,0,0.5) 217px,rgba(0,0,0,0.75) 246px,rgba(0,0,0,0.92) 265px,#000 278px)"></div>
<div style="top:98px;background:linear-gradient(90deg,rgba(0,0,0,0) 101px,rgba(0,0,0,0.05) 118px,rgba(0,0,0,0.15) 152px,rgba(0,0,0,0.3) 178px,rgba(0,0,0,0.5) 207px,rgba(0,0,0,0.75) 237px,rgba(0,0,0,0.92) 258px,#000 271px)"></div>
<div style="top:100px;background:linear-gradient(90deg,rgba(0,0,0,0) 104px,rgba(0,0,0,0.05) 121px,rgba(0,0,0,0.15) 155px,rgba(0,0,0,0.3) 180px,rgba(0,0,0,0.5) 208px,rgba(0,0,0,0.75) 238px,rgba(0,0,0,0.92) 258px,#000 272px)"></div>
<div style="top:102px;background:linear-gradient(90deg,rgba(0,0,0,0) 99px,rgba(0,0,0,0.05) 116px,rgba(0,0,0,0.15) 151px,rgba(0,0,0,0.3) 176px,rgba(0,0,0,0.5) 205px,rgba(0,0,0,0.75) 236px,rgba(0,0,0,0.92) 256px,#000 270px)"></div>
<div style="top:104px;background:linear-gradient(90deg,rgba(0,0,0,0) 87px,rgba(0,0,0,0.05) 105px,rgba(0,0,0,0.15) 140px,rgba(0,0,0,0.3) 167px,rgba(0,0,0,0.5) 197px,rgba(0,0,0,0.75) 229px,rgba(0,0,0,0.92) 250px,#000 265px)"></div>
<div style="top:106px;background:linear-gradient(90deg,rgba(0,0,0,0) 127px,rgba(0,0,0,0.05) 143px,rgba(0,0,0,0.15) 173px,rgba(0,0,0,0.3) 196px,rgba(0,0,0,0.5) 222px,rgba(0,0,0,0.75) 250px,rgba(0,0,0,0.92) 268px,#000 280px)"></div>
<div style="top:108px;background:linear-gradient(90deg,rgba(0,0,0,0) 146px,rgba(0,0,0,0.05) 160px,rgba(0,0,0,0.15) 188px,rgba(0,0,0,0.3) 210px,rgba(0,0,0,0.5) 234px,rgba(0,0,0,0.75) 259px,rgba(0,0,0,0.92) 276px,#000 287px)"></div>
<div style="top:110px;background:linear-gradient(90deg,rgba(0,0,0,0) 169px,rgba(0,0,0,0.05) 181px,rgba(0,0,0,0.15) 206px,rgba(0,0,0,0.3) 224px,rgba(0,0,0,0.5) 245px,rgba(0,0,0,0.75) 267px,rgba(0,0,0,0.92) 282px,#000 292px)"></div>
<div style="top:112px;background:linear-gradient(90deg,rgba(0,0,0,0) 193px,rgba(0,0,0,0.05) 203px,rgba(0,0,0,0.15) 223px,rgba(0,0,0,0.3) 238px,rgba(0,0,0,0.5) 254px,rgba(0,0,0,0.75) 272px,rgba(0,0,0,0.92) 284px,#000 292px)"></div>
<div style="top:114px;background:linear-gradient(90deg,rgba(0,0,0,0) 192px,rgba(0,0,0,0.05) 202px,rgba(0,0,0,0.15) 222px,rgba(0,0,0,0.3) 237px,rgba(0,0,0,0.5) 254px,rgba(0,0,0,0.75) 272px,rgba(0,0,0,0.92) 284px,#000 292px)"></div>
<div style="top:116px;background:linear-gradient(90deg,rgba(0,0,0,0) 198px,rgba(0,0,0,0.05) 207px,rgba(0,0,0,0.15) 226px,rgba(0,0,0,0.3) 240px,rgba(0,0,0,0.5) 256px,rgba(0,0,0,0.75) 273px,rgba(0,0,0,0.92) 284px,#000 292px)"></div>
<div style="top:118px;background:linear-gradient(90deg,rgba(0,0,0,0) 193px,rgba(0,0,0,0.05) 203px,rgba(0,0,0,0.15) 223px,rgba(0,0,0,0.3) 238px,rgba(0,0,0,0.5) 254px,rgba(0,0,0,0.75) 272px,rgba(0,0,0,0.92) 284px,#000 292px)"></div>
<div style="top:120px;background:linear-gradient(90deg,rgba(0,0,0,0) 196px,rgba(0,0,0,0.05) 205px,rgba(0,0,0,0.15) 224px,rgba(0,0,0,0.3) 239px,rgba(0,0,0,0.5) 255px,rgba(0,0,0,0.75) 273px,rgba(0,0,0,0.92) 284px,#000 292px)"></div>
<div style="top:122px;background:linear-gradient(90deg,rgba(0,0,0,0) 169px,rgba(0,0,0,0.05) 182px,rgba(0,0,0,0.15) 206px,rgba(0,0,0,0.3) 225px,rgba(0,0,0,0.5) 245px,rgba(0,0,0,0.75) 267px,rgba(0,0,0,0.92) 282px,#000 292px)"></div>
<div style="top:124px;background:linear-gradient(90deg,rgba(0,0,0,0) 156px,rgba(0,0,0,0.05) 169px,rgba(0,0,0,0.15) 196px,rgba(0,0,0,0.3) 216px,rgba(0,0,0,0.5) 238px,rgba(0,0,0,0.75) 262px,rgba(0,0,0,0.92) 278px,#000 288px)"></div>
<div style="top:126px;background:linear-gradient(90deg,rgba(0,0,0,0) 133px,rgba(0,0,0,0.05) 147px,rgba(0,0,0,0.15) 177px,rgba(0,0,0,0.3) 200px,rgba(0,0,0,0.5) 225px,rgba(0,0,0,0.75) 252px,rgba(0,0,0,0.92) 270px,#000 281px)"></div>
<div style="top:128px;background:linear-gradient(90deg,rgba(0,0,0,0) 119px,rgba(0,0,0,0.05) 135px,rgba(0,0,0,0.15) 167px,rgba(0,0,0,0.3) 191px,rgba(0,0,0,0.5) 218px,rgba(0,0,0,0.75) 247px,rgba(0,0,0,0.92) 266px,#000 279px)"></div>
<div style="top:130px;background:linear-gradient(90deg,rgba(0,0,0,0) 107px,rgba(0,0,0,0.05) 123px,rgba(0,0,0,0.15) 157px,rgba(0,0,0,0.3) 182px,rgba(0,0,0,0.5) 210px,rgba(0,0,0,0.75) 240px,rgba(0,0,0,0.92) 260px,#000 273px)"></div>
<div style="top:132px;background:linear-gradient(90deg,rgba(0,0,0,0) 106px,rgba(0,0,0,0.05) 122px,rgba(0,0,0,0.15) 155px,rgba(0,0,0,0.3) 180px,rgba(0,0,0,0.5) 207px,rgba(0,0,0,0.75) 237px,rgba(0,0,0,0.92) 257px,#000 270px)"></div>
<div style="top:134px;background:linear-gradient(90deg,rgba(0,0,0,0) 59px,rgba(0,0,0,0.05) 78px,rgba(0,0,0,0.15) 116px,rgba(0,0,0,0.3) 144px,rgba(0,0,0,0.5) 176px,rgba(0,0,0,0.75) 210px,rgba(0,0,0,0.92) 233px,#000 248px)"></div>
<div style="top:136px;background:linear-gradient(90deg,rgba(0,0,0,0) 47px,rgba(0,0,0,0.05) 66px,rgba(0,0,0,0.15) 105px,rgba(0,0,0,0.3) 134px,rgba(0,0,0,0.5) 166px,rgba(0,0,0,0.75) 201px,rgba(0,0,0,0.92) 224px,#000 240px)"></div>
<div style="top:138px;background:linear-gradient(90deg,rgba(0,0,0,0) 62px,rgba(0,0,0,0.05) 81px,rgba(0,0,0,0.15) 117px,rgba(0,0,0,0.3) 145px,rgba(0,0,0,0.5) 176px,rgba(0,0,0,0.75) 209px,rgba(0,0,0,0.92) 231px,#000 246px)"></div>
<div style="top:140px;background:linear-gradient(90deg,rgba(0,0,0,0) 73px,rgba(0,0,0,0.05) 91px,rgba(0,0,0,0.15) 126px,rgba(0,0,0,0.3) 153px,rgba(0,0,0,0.5) 183px,rgba(0,0,0,0.75) 215px,rgba(0,0,0,0.92) 236px,#000 250px)"></div>
<div style="top:142px;background:linear-gradient(90deg,rgba(0,0,0,0) 65px,rgba(0,0,0,0.05) 83px,rgba(0,0,0,0.15) 120px,rgba(0,0,0,0.3) 147px,rgba(0,0,0,0.5) 178px,rgba(0,0,0,0.75) 211px,rgba(0,0,0,0.92) 233px,#000 247px)"></div>
<div style="top:144px;background:linear-gradient(90deg,rgba(0,0,0,0) 43px,rgba(0,0,0,0.05) 62px,rgba(0,0,0,0.15) 101px,rgba(0,0,0,0.3) 131px,rgba(0,0,0,0.5) 164px,rgba(0,0,0,0.75) 199px,rgba(0,0,0,0.92) 223px,#000 238px)"></div>
<div style="top:146px;background:linear-gradient(90deg,rgba(0,0,0,0) 67px,rgba(0,0,0,0.05) 86px,rgba(0,0,0,0.15) 122px,rgba(0,0,0,0.3) 150px,rgba(0,0,0,0.5) 181px,rgba(0,0,0,0.75) 214px,rgba(0,0,0,0.92) 236px,#000 251px)"></div>
<div style="top:148px;background:linear-gradient(90deg,rgba(0,0,0,0) 123px,rgba(0,0,0,0.05) 139px,rgba(0,0,0,0.15) 169px,rgba(0,0,0,0.3) 192px,rgba(0,0,0,0.5) 218px,rgba(0,0,0,0.75) 246px,rgba(0,0,0,0.92) 264px,#000 276px)"></div>
<div style="top:150px;background:linear-gradient(90deg,rgba(0,0,0,0) 143px,rgba(0,0,0,0.05) 158px,rgba(0,0,0,0.15) 187px,rgba(0,0,0,0.3) 208px,rgba(0,0,0,0.5) 233px,rgba(0,0,0,0.75) 259px,rgba(0,0,0,0.92) 276px,#000 287px)"></div>
<div style="top:152px;background:linear-gradient(90deg,rgba(0,0,0,0) 152px,rgba(0,0,0,0.05) 166px,rgba(0,0,0,0.15) 193px,rgba(0,0,0,0.3) 213px,rgba(0,0,0,0.5) 236px,rgba(0,0,0,0.75) 261px,rgba(0,0,0,0.92) 277px,#000 288px)"></div>
<div style="top:154px;background:linear-gradient(90deg,rgba(0,0,0,0) 183px,rgba(0,0,0,0.05) 194px,rgba(0,0,0,0.15) 216px,rgba(0,0,0,0.3) 232px,rgba(0,0,0,0.5) 251px,rgba(0,0,0,0.75) 270px,rgba(0,0,0,0.92) 283px,#000 292px)"></div>
<div style="top:156px;background:linear-gradient(90deg,rgba(0,0,0,0) 197px,rgba(0,0,0,0.05) 206px,rgba(0,0,0,0.15) 225px,rgba(0,0,0,0.3) 240px,rgba(0,0,0,0.5) 256px,rgba(0,0,0,0.75) 273px,rgba(0,0,0,0.92) 284px,#000 292px)"></div>
<div style="top:158px;background:linear-gradient(90deg,rgba(0,0,0,0) 200px,rgba(0,0,0,0.05) 209px,rgba(0,0,0,0.15) 228px,rgba(0,0,0,0.3) 242px,rgba(0,0,0,0.5) 257px,rgba(0,0,0,0.75) 274px,rgba(0,0,0,0.92) 285px,#000 292px)"></div>
<div style="top:160px;background:linear-gradient(90deg,rgba(0,0,0,0) 203px,rgba(0,0,0,0.05) 212px,rgba(0,0,0,0.15) 230px,rgba(0,0,0,0.3) 243px,rgba(0,0,0,0.5) 258px,rgba(0,0,0,0.75) 274px,rgba(0,0,0,0.92) 285px,#000 292px)"></div>
<div style="top:162px;background:linear-gradient(90deg,rgba(0,0,0,0) 196px,rgba(0,0,0,0.05) 205px,rgba(0,0,0,0.15) 225px,rgba(0,0,0,0.3) 239px,rgba(0,0,0,0.5) 255px,rgba(0,0,0,0.75) 273px,rgba(0,0,0,0.92) 284px,#000 292px)"></div>
<div style="top:164px;background:linear-gradient(90deg,rgba(0,0,0,0) 197px,rgba(0,0,0,0.05) 207px,rgba(0,0,0,0.15) 226px,rgba(0,0,0,0.3) 240px,rgba(0,0,0,0.5) 256px,rgba(0,0,0,0.75) 273px,rgba(0,0,0,0.92) 284px,#000 292px)"></div>
<div style="top:166px;background:linear-gradient(90deg,rgba(0,0,0,0) 180px,rgba(0,0,0,0.05) 191px,rgba(0,0,0,0.15) 214px,rgba(0,0,0,0.3) 230px,rgba(0,0,0,0.5) 249px,rgba(0,0,0,0.75) 270px,rgba(0,0,0,0.92) 283px,#000 292px)"></div>
<div style="top:168px;background:linear-gradient(90deg,rgba(0,0,0,0) 173px,rgba(0,0,0,0.05) 185px,rgba(0,0,0,0.15) 209px,rgba(0,0,0,0.3) 227px,rgba(0,0,0,0.5) 247px,rgba(0,0,0,0.75) 268px,rgba(0,0,0,0.92) 282px,#000 292px)"></div>
<div style="top:170px;background:linear-gradient(90deg,rgba(0,0,0,0) 171px,rgba(0,0,0,0.05) 183px,rgba(0,0,0,0.15) 207px,rgba(0,0,0,0.3) 225px,rgba(0,0,0,0.5) 246px,rgba(0,0,0,0.75) 268px,rgba(0,0,0,0.92) 282px,#000 292px)"></div>
<div style="top:172px;background:linear-gradient(90deg,rgba(0,0,0,0) 149px,rgba(0,0,0,0.05) 162px,rgba(0,0,0,0.15) 190px,rgba(0,0,0,0.3) 210px,rgba(0,0,0,0.5) 233px,rgba(0,0,0,0.75) 258px,rgba(0,0,0,0.92) 274px,#000 285px)"></div>
<div style="top:174px;background:linear-gradient(90deg,rgba(0,0,0,0) 172px,rgba(0,0,0,0.05) 184px,rgba(0,0,0,0.15) 208px,rgba(0,0,0,0.3) 226px,rgba(0,0,0,0.5) 246px,rgba(0,0,0,0.75) 268px,rgba(0,0,0,0.92) 282px,#000 292px)"></div>
<div style="top:176px;background:linear-gradient(90deg,rgba(0,0,0,0) 171px,rgba(0,0,0,0.05) 183px,rgba(0,0,0,0.15) 207px,rgba(0,0,0,0.3) 225px,rgba(0,0,0,0.5) 246px,rgba(0,0,0,0.75) 268px,rgba(0,0,0,0.92) 282px,#000 292px)"></div>
<div style="top:178px;background:linear-gradient(90deg,rgba(0,0,0,0) 169px,rgba(0,0,0,0.05) 181px,rgba(0,0,0,0.15) 206px,rgba(0,0,0,0.3) 224px,rgba(0,0,0,0.5) 245px,rgba(0,0,0,0.75) 267px,rgba(0,0,0,0.92) 282px,#000 292px)"></div>
<div style="top:180px;background:linear-gradient(90deg,rgba(0,0,0,0) 148px,rgba(0,0,0,0.05) 162px,rgba(0,0,0,0.15) 189px,rgba(0,0,0,0.3) 210px,rgba(0,0,0,0.5) 233px,rgba(0,0,0,0.75) 257px,rgba(0,0,0,0.92) 274px,#000 285px)"></div>
<div style="top:182px;background:linear-gradient(90deg,rgba(0,0,0,0) 162px,rgba(0,0,0,0.05) 175px,rgba(0,0,0,0.15) 201px,rgba(0,0,0,0.3) 220px,rgba(0,0,0,0.5) 242px,rgba(0,0,0,0.75) 265px,rgba(0,0,0,0.92) 280px,#000 290px)"></div>
<div style="top:184px;background:linear-gradient(90deg,rgba(0,0,0,0) 178px,rgba(0,0,0,0.05) 189px,rgba(0,0,0,0.15) 212px,rgba(0,0,0,0.3) 229px,rgba(0,0,0,0.5) 249px,rgba(0,0,0,0.75) 269px,rgba(0,0,0,0.92) 283px,#000 292px)"></div>
<div style="top:186px;background:linear-gradient(90deg,rgba(0,0,0,0) 150px,rgba(0,0,0,0.05) 164px,rgba(0,0,0,0.15) 191px,rgba(0,0,0,0.3) 211px,rgba(0,0,0,0.5) 234px,rgba(0,0,0,0.75) 258px,rgba(0,0,0,0.92) 275px,#000 285px)"></div>
<div style="top:188px;background:linear-gradient(90deg,rgba(0,0,0,0) 162px,rgba(0,0,0,0.05) 175px,rgba(0,0,0,0.15) 200px,rgba(0,0,0,0.3) 220px,rgba(0,0,0,0.5) 241px,rgba(0,0,0,0.75) 265px,rgba(0,0,0,0.92) 280px,#000 290px)"></div>
<div style="top:190px;background:linear-gradient(90deg,rgba(0,0,0,0) 169px,rgba(0,0,0,0.05) 181px,rgba(0,0,0,0.15) 206px,rgba(0,0,0,0.3) 224px,rgba(0,0,0,0.5) 245px,rgba(0,0,0,0.75) 267px,rgba(0,0,0,0.92) 282px,#000 292px)"></div>
<div style="top:192px;background:linear-gradient(90deg,rgba(0,0,0,0) 158px,rgba(0,0,0,0.05) 171px,rgba(0,0,0,0.15) 197px,rgba(0,0,0,0.3) 216px,rgba(0,0,0,0.5) 238px,rgba(0,0,0,0.75) 261px,rgba(0,0,0,0.92) 277px,#000 287px)"></div>
<div style="top:194px;background:linear-gradient(90deg,rgba(0,0,0,0) 194px,rgba(0,0,0,0.05) 204px,rgba(0,0,0,0.15) 224px,rgba(0,0,0,0.3) 238px,rgba(0,0,0,0.5) 255px,rgba(0,0,0,0.75) 272px,rgba(0,0,0,0.92) 284px,#000 292px)"></div>
<div style="top:196px;background:linear-gradient(90deg,rgba(0,0,0,0) 195px,rgba(0,0,0,0.05) 205px,rgba(0,0,0,0.15) 224px,rgba(0,0,0,0.3) 239px,rgba(0,0,0,0.5) 255px,rgba(0,0,0,0.75) 273px,rgba(0,0,0,0.92) 284px,#000 292px)"></div>
<div style="top:198px;background:linear-gradient(90deg,rgba(0,0,0,0) 199px,rgba(0,0,0,0.05) 208px,rgba(0,0,0,0.15) 227px,rgba(0,0,0,0.3) 241px,rgba(0,0,0,0.5) 257px,rgba(0,0,0,0.75) 273px,rgba(0,0,0,0.92) 285px,#000 292px)"></div>
<div style="top:200px;background:linear-gradient(90deg,rgba(0,0,0,0) 182px,rgba(0,0,0,0.05) 193px,rgba(0,0,0,0.15) 215px,rgba(0,0,0,0.3) 231px,rgba(0,0,0,0.5) 249px,rgba(0,0,0,0.75) 269px,rgba(0,0,0,0.92) 282px,#000 291px)"></div>
<div style="top:202px;background:linear-gradient(90deg,rgba(0,0,0,0) 134px,rgba(0,0,0,0.05) 148px,rgba(0,0,0,0.15) 177px,rgba(0,0,0,0.3) 198px,rgba(0,0,0,0.5) 223px,rgba(0,0,0,0.75) 248px,rgba(0,0,0,0.92) 266px,#000 277px)"></div>
<div style="top:204px;background:linear-gradient(90deg,rgba(0,0,0,0) 78px,rgba(0,0,0,0.05) 96px,rgba(0,0,0,0.15) 132px,rgba(0,0,0,0.3) 160px,rgba(0,0,0,0.5) 191px,rgba(0,0,0,0.75) 224px,rgba(0,0,0,0.92) 246px,#000 260px)"></div>
<div style="top:206px;background:linear-gradient(90deg,rgba(0,0,0,0) 35px,rgba(0,0,0,0.05) 57px,rgba(0,0,0,0.15) 99px,rgba(0,0,0,0.3) 132px,rgba(0,0,0,0.5) 168px,rgba(0,0,0,0.75) 206px,rgba(0,0,0,0.92) 232px,#000 249px)"></div>
<div style="top:208px;background:linear-gradient(90deg,rgba(0,0,0,0) 19px,rgba(0,0,0,0.05) 41px,rgba(0,0,0,0.15) 86px,rgba(0,0,0,0.3) 120px,rgba(0,0,0,0.5) 158px,rgba(0,0,0,0.75) 198px,rgba(0,0,0,0.92) 225px,#000 243px)"></div>
<div style="top:210px;background:linear-gradient(90deg,rgba(0,0,0,0) 21px,rgba(0,0,0,0.05) 43px,rgba(0,0,0,0.15) 88px,rgba(0,0,0,0.3) 121px,rgba(0,0,0,0.5) 159px,rgba(0,0,0,0.75) 199px,rgba(0,0,0,0.92) 226px,#000 244px)"></div>
<div style="top:212px;background:linear-gradient(90deg,rgba(0,0,0,0) 34px,rgba(0,0,0,0.05) 56px,rgba(0,0,0,0.15) 99px,rgba(0,0,0,0.3) 131px,rgba(0,0,0,0.5) 167px,rgba(0,0,0,0.75) 206px,rgba(0,0,0,0.92) 232px,#000 249px)"></div>
<div style="top:214px;background:linear-gradient(90deg,rgba(0,0,0,0) 25px,rgba(0,0,0,0.05) 47px,rgba(0,0,0,0.15) 91px,rgba(0,0,0,0.3) 124px,rgba(0,0,0,0.5) 162px,rgba(0,0,0,0.75) 201px,rgba(0,0,0,0.92) 228px,#000 245px)"></div>
<div style="top:216px;background:linear-gradient(90deg,rgba(0,0,0,0) 17px,rgba(0,0,0,0.05) 40px,rgba(0,0,0,0.15) 85px,rgba(0,0,0,0.3) 118px,rgba(0,0,0,0.5) 156px,rgba(0,0,0,0.75) 197px,rgba(0,0,0,0.92) 224px,#000 242px)"></div>
<div style="top:218px;background:linear-gradient(90deg,rgba(0,0,0,0) 41px,rgba(0,0,0,0.05) 62px,rgba(0,0,0,0.15) 105px,rgba(0,0,0,0.3) 137px,rgba(0,0,0,0.5) 173px,rgba(0,0,0,0.75) 211px,rgba(0,0,0,0.92) 236px,#000 253px)"></div>
<div style="top:220px;background:linear-gradient(90deg,rgba(0,0,0,0) 53px,rgba(0,0,0,0.05) 74px,rgba(0,0,0,0.15) 115px,rgba(0,0,0,0.3) 146px,rgba(0,0,0,0.5) 182px,rgba(0,0,0,0.75) 219px,rgba(0,0,0,0.92) 244px,#000 260px)"></div>
<div style="top:222px;background:linear-gradient(90deg,rgba(0,0,0,0) 36px,rgba(0,0,0,0.05) 58px,rgba(0,0,0,0.15) 101px,rgba(0,0,0,0.3) 134px,rgba(0,0,0,0.5) 171px,rgba(0,0,0,0.75) 210px,rgba(0,0,0,0.92) 236px,#000 253px)"></div>
<div style="top:224px;background:linear-gradient(90deg,rgba(0,0,0,0) 28px,rgba(0,0,0,0.05) 50px,rgba(0,0,0,0.15) 94px,rgba(0,0,0,0.3) 128px,rgba(0,0,0,0.5) 166px,rgba(0,0,0,0.75) 206px,rgba(0,0,0,0.92) 232px,#000 250px)"></div>
<div style="top:226px;background:linear-gradient(90deg,rgba(0,0,0,0) 39px,rgba(0,0,0,0.05) 60px,rgba(0,0,0,0.15) 104px,rgba(0,0,0,0.3) 136px,rgba(0,0,0,0.5) 173px,rgba(0,0,0,0.75) 211px,rgba(0,0,0,0.92) 237px,#000 255px)"></div>
<div style="top:228px;background:linear-gradient(90deg,rgba(0,0,0,0) 39px,rgba(0,0,0,0.05) 60px,rgba(0,0,0,0.15) 103px,rgba(0,0,0,0.3) 136px,rgba(0,0,0,0.5) 172px,rgba(0,0,0,0.75) 211px,rgba(0,0,0,0.92) 237px,#000 254px)"></div>
<div style="top:230px;background:linear-gradient(90deg,rgba(0,0,0,0) 37px,rgba(0,0,0,0.05) 59px,rgba(0,0,0,0.15) 102px,rgba(0,0,0,0.3) 135px,rgba(0,0,0,0.5) 172px,rgba(0,0,0,0.75) 211px,rgba(0,0,0,0.92) 237px,#000 254px)"></div>
<div style="top:232px;background:linear-gradient(90deg,rgba(0,0,0,0) 53px,rgba(0,0,0,0.05) 73px,rgba(0,0,0,0.15) 115px,rgba(0,0,0,0.3) 146px,rgba(0,0,0,0.5) 181px,rgba(0,0,0,0.75) 219px,rgba(0,0,0,0.92) 243px,#000 260px)"></div>
<div style="top:234px;background:linear-gradient(90deg,rgba(0,0,0,0) 47px,rgba(0,0,0,0.05) 68px,rgba(0,0,0,0.15) 111px,rgba(0,0,0,0.3) 142px,rgba(0,0,0,0.5) 178px,rgba(0,0,0,0.75) 216px,rgba(0,0,0,0.92) 241px,#000 258px)"></div>
<div style="top:236px;background:linear-gradient(90deg,rgba(0,0,0,0) 85px,rgba(0,0,0,0.05) 103px,rgba(0,0,0,0.15) 141px,rgba(0,0,0,0.3) 169px,rgba(0,0,0,0.5) 201px,rgba(0,0,0,0.75) 235px,rgba(0,0,0,0.92) 258px,#000 273px)"></div>
<div style="top:238px;background:linear-gradient(90deg,rgba(0,0,0,0) 79px,rgba(0,0,0,0.05) 98px,rgba(0,0,0,0.15) 136px,rgba(0,0,0,0.3) 165px,rgba(0,0,0,0.5) 198px,rgba(0,0,0,0.75) 232px,rgba(0,0,0,0.92) 255px,#000 270px)"></div>
<div style="top:240px;background:linear-gradient(90deg,rgba(0,0,0,0) 107px,rgba(0,0,0,0.05) 124px,rgba(0,0,0,0.15) 158px,rgba(0,0,0,0.3) 183px,rgba(0,0,0,0.5) 212px,rgba(0,0,0,0.75) 243px,rgba(0,0,0,0.92) 264px,#000 277px)"></div>
<div style="top:242px;background:linear-gradient(90deg,rgba(0,0,0,0) 143px,rgba(0,0,0,0.05) 158px,rgba(0,0,0,0.15) 186px,rgba(0,0,0,0.3) 208px,rgba(0,0,0,0.5) 233px,rgba(0,0,0,0.75) 258px,rgba(0,0,0,0.92) 276px,#000 287px)"></div>
<div style="top:244px;background:linear-gradient(90deg,rgba(0,0,0,0) 171px,rgba(0,0,0,0.05) 183px,rgba(0,0,0,0.15) 208px,rgba(0,0,0,0.3) 226px,rgba(0,0,0,0.5) 246px,rgba(0,0,0,0.75) 268px,rgba(0,0,0,0.92) 282px,#000 292px)"></div>
<div style="top:246px;background:linear-gradient(90deg,rgba(0,0,0,0) 193px,rgba(0,0,0,0.05) 203px,rgba(0,0,0,0.15) 223px,rgba(0,0,0,0.3) 237px,rgba(0,0,0,0.5) 254px,rgba(0,0,0,0.75) 272px,rgba(0,0,0,0.92) 284px,#000 292px)"></div>
<div style="top:248px;background:linear-gradient(90deg,rgba(0,0,0,0) 164px,rgba(0,0,0,0.05) 177px,rgba(0,0,0,0.15) 202px,rgba(0,0,0,0.3) 221px,rgba(0,0,0,0.5) 242px,rgba(0,0,0,0.75) 265px,rgba(0,0,0,0.92) 280px,#000 290px)"></div>
<div style="top:250px;background:linear-gradient(90deg,rgba(0,0,0,0) 139px,rgba(0,0,0,0.05) 153px,rgba(0,0,0,0.15) 182px,rgba(0,0,0,0.3) 204px,rgba(0,0,0,0.5) 228px,rgba(0,0,0,0.75) 254px,rgba(0,0,0,0.92) 271px,#000 283px)"></div>
<div style="top:252px;background:linear-gradient(90deg,rgba(0,0,0,0) 115px,rgba(0,0,0,0.05) 131px,rgba(0,0,0,0.15) 164px,rgba(0,0,0,0.3) 188px,rgba(0,0,0,0.5) 215px,rgba(0,0,0,0.75) 244px,rgba(0,0,0,0.92) 264px,#000 277px)"></div>
<div style="top:254px;background:linear-gradient(90deg,rgba(0,0,0,0) 95px,rgba(0,0,0,0.05) 113px,rgba(0,0,0,0.15) 148px,rgba(0,0,0,0.3) 175px,rgba(0,0,0,0.5) 205px,rgba(0,0,0,0.75) 237px,rgba(0,0,0,0.92) 258px,#000 272px)"></div>
<div style="top:256px;background:linear-gradient(90deg,rgba(0,0,0,0) 80px,rgba(0,0,0,0.05) 99px,rgba(0,0,0,0.15) 136px,rgba(0,0,0,0.3) 164px,rgba(0,0,0,0.5) 195px,rgba(0,0,0,0.75) 228px,rgba(0,0,0,0.92) 251px,#000 265px)"></div>
<div style="top:258px;background:linear-gradient(90deg,rgba(0,0,0,0) 76px,rgba(0,0,0,0.05) 95px,rgba(0,0,0,0.15) 132px,rgba(0,0,0,0.3) 160px,rgba(0,0,0,0.5) 192px,rgba(0,0,0,0.75) 226px,rgba(0,0,0,0.92) 248px,#000 263px)"></div>
<div style="top:260px;background:linear-gradient(90deg,rgba(0,0,0,0) 75px,rgba(0,0,0,0.05) 94px,rgba(0,0,0,0.15) 131px,rgba(0,0,0,0.3) 159px,rgba(0,0,0,0.5) 191px,rgba(0,0,0,0.75) 225px,rgba(0,0,0,0.92) 247px,#000 262px)"></div>
<div style="top:262px;background:linear-gradient(90deg,rgba(0,0,0,0) 70px,rgba(0,0,0,0.05) 89px,rgba(0,0,0,0.15) 127px,rgba(0,0,0,0.3) 156px,rgba(0,0,0,0.5) 188px,rgba(0,0,0,0.75) 222px,rgba(0,0,0,0.92) 245px,#000 260px)"></div>
<div style="top:264px;background:linear-gradient(90deg,rgba(0,0,0,0) 77px,rgba(0,0,0,0.05) 95px,rgba(0,0,0,0.15) 133px,rgba(0,0,0,0.3) 161px,rgba(0,0,0,0.5) 192px,rgba(0,0,0,0.75) 226px,rgba(0,0,0,0.92) 248px,#000 263px)"></div>
<div style="top:266px;background:linear-gradient(90deg,rgba(0,0,0,0) 75px,rgba(0,0,0,0.05) 94px,rgba(0,0,0,0.15) 131px,rgba(0,0,0,0.3) 159px,rgba(0,0,0,0.5) 191px,rgba(0,0,0,0.75) 225px,rgba(0,0,0,0.92) 247px,#000 262px)"></div>
<div style="top:268px;background:linear-gradient(90deg,rgba(0,0,0,0) 88px,rgba(0,0,0,0.05) 106px,rgba(0,0,0,0.15) 142px,rgba(0,0,0,0.3) 169px,rgba(0,0,0,0.5) 199px,rgba(0,0,0,0.75) 231px,rgba(0,0,0,0.92) 253px,#000 267px)"></div>
<div style="top:270px;background:linear-gradient(90deg,rgba(0,0,0,0) 73px,rgba(0,0,0,0.05) 92px,rgba(0,0,0,0.15) 129px,rgba(0,0,0,0.3) 158px,rgba(0,0,0,0.5) 190px,rgba(0,0,0,0.75) 224px,rgba(0,0,0,0.92) 246px,#000 261px)"></div>
<div style="top:272px;background:linear-gradient(90deg,rgba(0,0,0,0) 66px,rgba(0,0,0,0.05) 85px,rgba(0,0,0,0.15) 124px,rgba(0,0,0,0.3) 153px,rgba(0,0,0,0.5) 185px,rgba(0,0,0,0.75) 220px,rgba(0,0,0,0.92) 243px,#000 258px)"></div>
<div style="top:274px;background:linear-gradient(90deg,rgba(0,0,0,0) 67px,rgba(0,0,0,0.05) 86px,rgba(0,0,0,0.15) 124px,rgba(0,0,0,0.3) 153px,rgba(0,0,0,0.5) 186px,rgba(0,0,0,0.75) 220px,rgba(0,0,0,0.92) 243px,#000 259px)"></div>
<div style="top:276px;background:linear-gradient(90deg,rgba(0,0,0,0) 70px,rgba(0,0,0,0.05) 89px,rgba(0,0,0,0.15) 127px,rgba(0,0,0,0.3) 155px,rgba(0,0,0,0.5) 188px,rgba(0,0,0,0.75) 222px,rgba(0,0,0,0.92) 245px,#000 260px)"></div>
<div style="top:278px;background:linear-gradient(90deg,rgba(0,0,0,0) 98px,rgba(0,0,0,0.05) 116px,rgba(0,0,0,0.15) 150px,rgba(0,0,0,0.3) 176px,rgba(0,0,0,0.5) 205px,rgba(0,0,0,0.75) 236px,rgba(0,0,0,0.92) 257px,#000 271px)"></div>
<div style="top:280px;background:linear-gradient(90deg,rgba(0,0,0,0) 107px,rgba(0,0,0,0.05) 124px,rgba(0,0,0,0.15) 157px,rgba(0,0,0,0.3) 182px,rgba(0,0,0,0.5) 210px,rgba(0,0,0,0.75) 240px,rgba(0,0,0,0.92) 260px,#000 274px)"></div>
<div style="top:282px;background:linear-gradient(90deg,rgba(0,0,0,0) 133px,rgba(0,0,0,0.05) 149px,rgba(0,0,0,0.15) 179px,rgba(0,0,0,0.3) 201px,rgba(0,0,0,0.5) 227px,rgba(0,0,0,0.75) 254px,rgba(0,0,0,0.92) 272px,#000 284px)"></div>
<div style="top:284px;background:linear-gradient(90deg,rgba(0,0,0,0) 167px,rgba(0,0,0,0.05) 179px,rgba(0,0,0,0.15) 204px,rgba(0,0,0,0.3) 223px,rgba(0,0,0,0.5) 244px,rgba(0,0,0,0.75) 267px,rgba(0,0,0,0.92) 282px,#000 292px)"></div>
<div style="top:286px;background:linear-gradient(90deg,rgba(0,0,0,0) 117px,rgba(0,0,0,0.05) 133px,rgba(0,0,0,0.15) 165px,rgba(0,0,0,0.3) 190px,rgba(0,0,0,0.5) 217px,rgba(0,0,0,0.75) 246px,rgba(0,0,0,0.92) 265px,#000 278px)"></div>
<div style="top:288px;background:linear-gradient(90deg,rgba(0,0,0,0) 120px,rgba(0,0,0,0.05) 136px,rgba(0,0,0,0.15) 168px,rgba(0,0,0,0.3) 192px,rgba(0,0,0,0.5) 220px,rgba(0,0,0,0.75) 249px,rgba(0,0,0,0.92) 268px,#000 281px)"></div>
<div style="top:290px;background:linear-gradient(90deg,rgba(0,0,0,0) 122px,rgba(0,0,0,0.05) 138px,rgba(0,0,0,0.15) 171px,rgba(0,0,0,0.3) 195px,rgba(0,0,0,0.5) 222px,rgba(0,0,0,0.75) 251px,rgba(0,0,0,0.92) 270px,#000 283px)"></div>
<div style="top:292px;background:linear-gradient(90deg,rgba(0,0,0,0) 114px,rgba(0,0,0,0.05) 130px,rgba(0,0,0,0.15) 164px,rgba(0,0,0,0.3) 189px,rgba(0,0,0,0.5) 218px,rgba(0,0,0,0.75) 248px,rgba(0,0,0,0.92) 268px,#000 281px)"></div>
<div style="top:294px;background:linear-gradient(90deg,rgba(0,0,0,0) 112px,rgba(0,0,0,0.05) 129px,rgba(0,0,0,0.15) 163px,rgba(0,0,0,0.3) 188px,rgba(0,0,0,0.5) 217px,rgba(0,0,0,0.75) 247px,rgba(0,0,0,0.92) 267px,#000 281px)"></div>
<div style="top:296px;background:linear-gradient(90deg,rgba(0,0,0,0) 130px,rgba(0,0,0,0.05) 145px,rgba(0,0,0,0.15) 176px,rgba(0,0,0,0.3) 199px,rgba(0,0,0,0.5) 225px,rgba(0,0,0,0.75) 253px,rgba(0,0,0,0.92) 271px,#000 283px)"></div>
<div style="top:298px;background:linear-gradient(90deg,rgba(0,0,0,0) 188px,rgba(0,0,0,0.05) 198px,rgba(0,0,0,0.15) 219px,rgba(0,0,0,0.3) 235px,rgba(0,0,0,0.5) 252px,rgba(0,0,0,0.75) 271px,rgba(0,0,0,0.92) 284px,#000 292px)"></div>
<div style="top:300px;background:linear-gradient(90deg,rgba(0,0,0,0) 233px,rgba(0,0,0,0.05) 238px,rgba(0,0,0,0.15) 250px,rgba(0,0,0,0.3) 259px,rgba(0,0,0,0.5) 269px,rgba(0,0,0,0.75) 280px,rgba(0,0,0,0.92) 287px,#000 292px)"></div>
<div style="top:302px;background:linear-gradient(90deg,rgba(0,0,0,0) 219px,rgba(0,0,0,0.05) 226px,rgba(0,0,0,0.15) 241px,rgba(0,0,0,0.3) 252px,rgba(0,0,0,0.5) 264px,rgba(0,0,0,0.75) 277px,rgba(0,0,0,0.92) 286px,#000 292px)"></div>
<div style="top:304px;background:linear-gradient(90deg,rgba(0,0,0,0) 239px,rgba(0,0,0,0.05) 244px,rgba(0,0,0,0.15) 255px,rgba(0,0,0,0.3) 263px,rgba(0,0,0,0.5) 272px,rgba(0,0,0,0.75) 281px,rgba(0,0,0,0.92) 288px,#000 292px)"></div>
<div style="top:306px;background:linear-gradient(90deg,rgba(0,0,0,0) 213px,rgba(0,0,0,0.05) 221px,rgba(0,0,0,0.15) 237px,rgba(0,0,0,0.3) 249px,rgba(0,0,0,0.5) 262px,rgba(0,0,0,0.75) 276px,rgba(0,0,0,0.92) 286px,#000 292px)"></div>
<div style="top:308px;background:linear-gradient(90deg,rgba(0,0,0,0) 198px,rgba(0,0,0,0.05) 208px,rgba(0,0,0,0.15) 226px,rgba(0,0,0,0.3) 240px,rgba(0,0,0,0.5) 256px,rgba(0,0,0,0.75) 273px,rgba(0,0,0,0.92) 285px,#000 292px)"></div>
<div style="top:310px;background:linear-gradient(90deg,rgba(0,0,0,0) 196px,rgba(0,0,0,0.05) 206px,rgba(0,0,0,0.15) 225px,rgba(0,0,0,0.3) 239px,rgba(0,0,0,0.5) 256px,rgba(0,0,0,0.75) 273px,rgba(0,0,0,0.92) 284px,#000 292px)"></div>
<div style="top:312px;background:linear-gradient(90deg,rgba(0,0,0,0) 189px,rgba(0,0,0,0.05) 200px,rgba(0,0,0,0.15) 220px,rgba(0,0,0,0.3) 236px,rgba(0,0,0,0.5) 253px,rgba(0,0,0,0.75) 271px,rgba(0,0,0,0.92) 284px,#000 292px)"></div>
<div style="top:314px;background:linear-gradient(90deg,rgba(0,0,0,0) 185px,rgba(0,0,0,0.05) 196px,rgba(0,0,0,0.15) 217px,rgba(0,0,0,0.3) 233px,rgba(0,0,0,0.5) 251px,rgba(0,0,0,0.75) 271px,rgba(0,0,0,0.92) 283px,#000 292px)"></div>
<div style="top:316px;background:linear-gradient(90deg,rgba(0,0,0,0) 155px,rgba(0,0,0,0.05) 169px,rgba(0,0,0,0.15) 195px,rgba(0,0,0,0.3) 215px,rgba(0,0,0,0.5) 238px,rgba(0,0,0,0.75) 262px,rgba(0,0,0,0.92) 278px,#000 288px)"></div>
<div style="top:318px;background:linear-gradient(90deg,rgba(0,0,0,0) 170px,rgba(0,0,0,0.05) 182px,rgba(0,0,0,0.15) 206px,rgba(0,0,0,0.3) 225px,rgba(0,0,0,0.5) 245px,rgba(0,0,0,0.75) 268px,rgba(0,0,0,0.92) 282px,#000 292px)"></div>
<div style="top:320px;background:linear-gradient(90deg,rgba(0,0,0,0) 177px,rgba(0,0,0,0.05) 189px,rgba(0,0,0,0.15) 212px,rgba(0,0,0,0.3) 229px,rgba(0,0,0,0.5) 248px,rgba(0,0,0,0.75) 269px,rgba(0,0,0,0.92) 283px,#000 292px)"></div>
<div style="top:322px;background:linear-gradient(90deg,rgba(0,0,0,0) 151px,rgba(0,0,0,0.05) 166px,rgba(0,0,0,0.15) 194px,rgba(0,0,0,0.3) 215px,rgba(0,0,0,0.5) 239px,rgba(0,0,0,0.75) 264px,rgba(0,0,0,0.92) 281px,#000 292px)"></div>
<div style="top:324px;background:linear-gradient(90deg,rgba(0,0,0,0) 155px,rgba(0,0,0,0.05) 169px,rgba(0,0,0,0.15) 196px,rgba(0,0,0,0.3) 217px,rgba(0,0,0,0.5) 240px,rgba(0,0,0,0.75) 265px,rgba(0,0,0,0.92) 281px,#000 292px)"></div>
<div style="top:326px;background:linear-gradient(90deg,rgba(0,0,0,0) 159px,rgba(0,0,0,0.05) 172px,rgba(0,0,0,0.15) 199px,rgba(0,0,0,0.3) 219px,rgba(0,0,0,0.5) 241px,rgba(0,0,0,0.75) 265px,rgba(0,0,0,0.92) 281px,#000 292px)"></div>
<div style="top:328px;background:linear-gradient(90deg,rgba(0,0,0,0) 164px,rgba(0,0,0,0.05) 177px,rgba(0,0,0,0.15) 202px,rgba(0,0,0,0.3) 222px,rgba(0,0,0,0.5) 243px,rgba(0,0,0,0.75) 266px,rgba(0,0,0,0.92) 282px,#000 292px)"></div>
<div style="top:330px;background:linear-gradient(90deg,rgba(0,0,0,0) 176px,rgba(0,0,0,0.05) 188px,rgba(0,0,0,0.15) 211px,rgba(0,0,0,0.3) 228px,rgba(0,0,0,0.5) 248px,rgba(0,0,0,0.75) 269px,rgba(0,0,0,0.92) 283px,#000 292px)"></div>
<div style="top:332px;background:linear-gradient(90deg,rgba(0,0,0,0) 153px,rgba(0,0,0,0.05) 167px,rgba(0,0,0,0.15) 195px,rgba(0,0,0,0.3) 215px,rgba(0,0,0,0.5) 238px,rgba(0,0,0,0.75) 263px,rgba(0,0,0,0.92) 279px,#000 290px)"></div>
<div style="top:334px;background:linear-gradient(90deg,rgba(0,0,0,0) 172px,rgba(0,0,0,0.05) 184px,rgba(0,0,0,0.15) 208px,rgba(0,0,0,0.3) 226px,rgba(0,0,0,0.5) 246px,rgba(0,0,0,0.75) 268px,rgba(0,0,0,0.92) 282px,#000 292px)"></div>
<div style="top:336px;background:linear-gradient(90deg,rgba(0,0,0,0) 169px,rgba(0,0,0,0.05) 181px,rgba(0,0,0,0.15) 206px,rgba(0,0,0,0.3) 224px,rgba(0,0,0,0.5) 245px,rgba(0,0,0,0.75) 267px,rgba(0,0,0,0.92) 282px,#000 292px)"></div>
<div style="top:338px;background:linear-gradient(90deg,rgba(0,0,0,0) 175px,rgba(0,0,0,0.05) 186px,rgba(0,0,0,0.15) 210px,rgba(0,0,0,0.3) 227px,rgba(0,0,0,0.5) 247px,rgba(0,0,0,0.75) 269px,rgba(0,0,0,0.92) 283px,#000 292px)"></div>
<div style="top:340px;background:linear-gradient(90deg,rgba(0,0,0,0) 176px,rgba(0,0,0,0.05) 187px,rgba(0,0,0,0.15) 211px,rgba(0,0,0,0.3) 228px,rgba(0,0,0,0.5) 248px,rgba(0,0,0,0.75) 269px,rgba(0,0,0,0.92) 283px,#000 292px)"></div>
<div style="top:342px;background:linear-gradient(90deg,rgba(0,0,0,0) 139px,rgba(0,0,0,0.05) 154px,rgba(0,0,0,0.15) 183px,rgba(0,0,0,0.3) 205px,rgba(0,0,0,0.5) 230px,rgba(0,0,0,0.75) 256px,rgba(0,0,0,0.92) 274px,#000 286px)"></div>
<div style="top:344px;background:linear-gradient(90deg,rgba(0,0,0,0) 170px,rgba(0,0,0,0.05) 182px,rgba(0,0,0,0.15) 206px,rgba(0,0,0,0.3) 225px,rgba(0,0,0,0.5) 246px,rgba(0,0,0,0.75) 268px,rgba(0,0,0,0.92) 282px,#000 292px)"></div>
<div style="top:346px;background:linear-gradient(90deg,rgba(0,0,0,0) 150px,rgba(0,0,0,0.05) 164px,rgba(0,0,0,0.15) 192px,rgba(0,0,0,0.3) 213px,rgba(0,0,0,0.5) 237px,rgba(0,0,0,0.75) 262px,rgba(0,0,0,0.92) 279px,#000 290px)"></div>
<div style="top:348px;background:linear-gradient(90deg,rgba(0,0,0,0) 172px,rgba(0,0,0,0.05) 184px,rgba(0,0,0,0.15) 208px,rgba(0,0,0,0.3) 226px,rgba(0,0,0,0.5) 246px,rgba(0,0,0,0.75) 268px,rgba(0,0,0,0.92) 282px,#000 292px)"></div>
<div style="top:350px;background:linear-gradient(90deg,rgba(0,0,0,0) 156px,rgba(0,0,0,0.05) 169px,rgba(0,0,0,0.15) 196px,rgba(0,0,0,0.3) 216px,rgba(0,0,0,0.5) 239px,rgba(0,0,0,0.75) 264px,rgba(0,0,0,0.92) 280px,#000 291px)"></div>
<div style="top:352px;background:linear-gradient(90deg,rgba(0,0,0,0) 174px,rgba(0,0,0,0.05) 185px,rgba(0,0,0,0.15) 209px,rgba(0,0,0,0.3) 227px,rgba(0,0,0,0.5) 247px,rgba(0,0,0,0.75) 268px,rgba(0,0,0,0.92) 283px,#000 292px)"></div>
<div style="top:354px;background:linear-gradient(90deg,rgba(0,0,0,0) 186px,rgba(0,0,0,0.05) 196px,rgba(0,0,0,0.15) 218px,rgba(0,0,0,0.3) 234px,rgba(0,0,0,0.5) 252px,rgba(0,0,0,0.75) 271px,rgba(0,0,0,0.92) 284px,#000 292px)"></div>
<div style="top:356px;background:linear-gradient(90deg,rgba(0,0,0,0) 182px,rgba(0,0,0,0.05) 193px,rgba(0,0,0,0.15) 215px,rgba(0,0,0,0.3) 231px,rgba(0,0,0,0.5) 250px,rgba(0,0,0,0.75) 270px,rgba(0,0,0,0.92) 283px,#000 292px)"></div>
<div style="top:358px;background:linear-gradient(90deg,rgba(0,0,0,0) 193px,rgba(0,0,0,0.05) 203px,rgba(0,0,0,0.15) 223px,rgba(0,0,0,0.3) 237px,rgba(0,0,0,0.5) 254px,rgba(0,0,0,0.75) 272px,rgba(0,0,0,0.92) 284px,#000 292px)"></div>
<div style="top:360px;background:linear-gradient(90deg,rgba(0,0,0,0) 206px,rgba(0,0,0,0.05) 215px,rgba(0,0,0,0.15) 232px,rgba(0,0,0,0.3) 245px,rgba(0,0,0,0.5) 259px,rgba(0,0,0,0.75) 275px,rgba(0,0,0,0.92) 285px,#000 292px)"></div>
<div style="top:362px;background:linear-gradient(90deg,rgba(0,0,0,0) 208px,rgba(0,0,0,0.05) 217px,rgba(0,0,0,0.15) 233px,rgba(0,0,0,0.3) 246px,rgba(0,0,0,0.5) 260px,rgba(0,0,0,0.75) 275px,rgba(0,0,0,0.92) 285px,#000 292px)"></div>
<div style="top:364px;background:linear-gradient(90deg,rgba(0,0,0,0) 214px,rgba(0,0,0,0.05) 222px,rgba(0,0,0,0.15) 238px,rgba(0,0,0,0.3) 249px,rgba(0,0,0,0.5) 262px,rgba(0,0,0,0.75) 276px,rgba(0,0,0,0.92) 286px,#000 292px)"></div>
<div style="top:366px;background:linear-gradient(90deg,rgba(0,0,0,0) 205px,rgba(0,0,0,0.05) 214px,rgba(0,0,0,0.15) 231px,rgba(0,0,0,0.3) 244px,rgba(0,0,0,0.5) 259px,rgba(0,0,0,0.75) 275px,rgba(0,0,0,0.92) 285px,#000 292px)"></div>
<div style="top:368px;background:linear-gradient(90deg,rgba(0,0,0,0) 177px,rgba(0,0,0,0.05) 188px,rgba(0,0,0,0.15) 211px,rgba(0,0,0,0.3) 229px,rgba(0,0,0,0.5) 248px,rgba(0,0,0,0.75) 269px,rgba(0,0,0,0.92) 283px,#000 292px)"></div>
<div style="top:370px;background:linear-gradient(90deg,rgba(0,0,0,0) 141px,rgba(0,0,0,0.05) 155px,rgba(0,0,0,0.15) 184px,rgba(0,0,0,0.3) 205px,rgba(0,0,0,0.5) 230px,rgba(0,0,0,0.75) 256px,rgba(0,0,0,0.92) 273px,#000 284px)"></div>
<div style="top:372px;background:linear-gradient(90deg,rgba(0,0,0,0) 145px,rgba(0,0,0,0.05) 159px,rgba(0,0,0,0.15) 188px,rgba(0,0,0,0.3) 210px,rgba(0,0,0,0.5) 235px,rgba(0,0,0,0.75) 261px,rgba(0,0,0,0.92) 278px,#000 290px)"></div>
<div style="top:374px;background:linear-gradient(90deg,rgba(0,0,0,0) 80px,rgba(0,0,0,0.05) 98px,rgba(0,0,0,0.15) 135px,rgba(0,0,0,0.3) 162px,rgba(0,0,0,0.5) 194px,rgba(0,0,0,0.75) 227px,rgba(0,0,0,0.92) 249px,#000 263px)"></div>
<div style="top:376px;background:linear-gradient(90deg,rgba(0,0,0,0) 68px,rgba(0,0,0,0.05) 87px,rgba(0,0,0,0.15) 125px,rgba(0,0,0,0.3) 154px,rgba(0,0,0,0.5) 186px,rgba(0,0,0,0.75) 220px,rgba(0,0,0,0.92) 243px,#000 258px)"></div>
<div style="top:378px;background:linear-gradient(90deg,rgba(0,0,0,0) 58px,rgba(0,0,0,0.05) 77px,rgba(0,0,0,0.15) 117px,rgba(0,0,0,0.3) 146px,rgba(0,0,0,0.5) 180px,rgba(0,0,0,0.75) 215px,rgba(0,0,0,0.92) 239px,#000 255px)"></div>
<div style="top:380px;background:linear-gradient(90deg,rgba(0,0,0,0) 61px,rgba(0,0,0,0.05) 81px,rgba(0,0,0,0.15) 120px,rgba(0,0,0,0.3) 149px,rgba(0,0,0,0.5) 182px,rgba(0,0,0,0.75) 218px,rgba(0,0,0,0.92) 241px,#000 257px)"></div>
<div style="top:382px;background:linear-gradient(90deg,rgba(0,0,0,0) 66px,rgba(0,0,0,0.05) 86px,rgba(0,0,0,0.15) 124px,rgba(0,0,0,0.3) 153px,rgba(0,0,0,0.5) 186px,rgba(0,0,0,0.75) 221px,rgba(0,0,0,0.92) 244px,#000 259px)"></div>
<div style="top:384px;background:linear-gradient(90deg,rgba(0,0,0,0) 62px,rgba(0,0,0,0.05) 82px,rgba(0,0,0,0.15) 121px,rgba(0,0,0,0.3) 150px,rgba(0,0,0,0.5) 184px,rgba(0,0,0,0.75) 219px,rgba(0,0,0,0.92) 242px,#000 258px)"></div>
<div style="top:386px;background:linear-gradient(90deg,rgba(0,0,0,0) 66px,rgba(0,0,0,0.05) 85px,rgba(0,0,0,0.15) 124px,rgba(0,0,0,0.3) 153px,rgba(0,0,0,0.5) 186px,rgba(0,0,0,0.75) 221px,rgba(0,0,0,0.92) 245px,#000 260px)"></div>
<div style="top:388px;background:linear-gradient(90deg,rgba(0,0,0,0) 46px,rgba(0,0,0,0.05) 67px,rgba(0,0,0,0.15) 108px,rgba(0,0,0,0.3) 139px,rgba(0,0,0,0.5) 174px,rgba(0,0,0,0.75) 212px,rgba(0,0,0,0.92) 236px,#000 253px)"></div>
<div style="top:390px;background:linear-gradient(90deg,rgba(0,0,0,0) 46px,rgba(0,0,0,0.05) 67px,rgba(0,0,0,0.15) 109px,rgba(0,0,0,0.3) 140px,rgba(0,0,0,0.5) 175px,rgba(0,0,0,0.75) 212px,rgba(0,0,0,0.92) 237px,#000 253px)"></div>
<div style="top:392px;background:linear-gradient(90deg,rgba(0,0,0,0) 66px,rgba(0,0,0,0.05) 85px,rgba(0,0,0,0.15) 124px,rgba(0,0,0,0.3) 154px,rgba(0,0,0,0.5) 187px,rgba(0,0,0,0.75) 222px,rgba(0,0,0,0.92) 246px,#000 262px)"></div>
<div style="top:394px;background:linear-gradient(90deg,rgba(0,0,0,0) 51px,rgba(0,0,0,0.05) 72px,rgba(0,0,0,0.15) 113px,rgba(0,0,0,0.3) 144px,rgba(0,0,0,0.5) 179px,rgba(0,0,0,0.75) 215px,rgba(0,0,0,0.92) 240px,#000 257px)"></div>
<div style="top:396px;background:linear-gradient(90deg,rgba(0,0,0,0) 46px,rgba(0,0,0,0.05) 66px,rgba(0,0,0,0.15) 108px,rgba(0,0,0,0.3) 139px,rgba(0,0,0,0.5) 174px,rgba(0,0,0,0.75) 212px,rgba(0,0,0,0.92) 236px,#000 253px)"></div>
<div style="top:398px;background:linear-gradient(90deg,rgba(0,0,0,0) 37px,rgba(0,0,0,0.05) 58px,rgba(0,0,0,0.15) 100px,rgba(0,0,0,0.3) 132px,rgba(0,0,0,0.5) 168px,rgba(0,0,0,0.75) 206px,rgba(0,0,0,0.92) 231px,#000 248px)"></div>
<div style="top:400px;background:linear-gradient(90deg,rgba(0,0,0,0) 56px,rgba(0,0,0,0.05) 76px,rgba(0,0,0,0.15) 116px,rgba(0,0,0,0.3) 146px,rgba(0,0,0,0.5) 179px,rgba(0,0,0,0.75) 215px,rgba(0,0,0,0.92) 239px,#000 255px)"></div>
<div style="top:402px;background:linear-gradient(90deg,rgba(0,0,0,0) 52px,rgba(0,0,0,0.05) 72px,rgba(0,0,0,0.15) 112px,rgba(0,0,0,0.3) 142px,rgba(0,0,0,0.5) 176px,rgba(0,0,0,0.75) 213px,rgba(0,0,0,0.92) 237px,#000 253px)"></div>
<div style="top:404px;background:linear-gradient(90deg,rgba(0,0,0,0) 59px,rgba(0,0,0,0.05) 78px,rgba(0,0,0,0.15) 118px,rgba(0,0,0,0.3) 147px,rgba(0,0,0,0.5) 181px,rgba(0,0,0,0.75) 216px,rgba(0,0,0,0.92) 240px,#000 255px)"></div>
<div style="top:406px;background:linear-gradient(90deg,rgba(0,0,0,0) 37px,rgba(0,0,0,0.05) 58px,rgba(0,0,0,0.15) 100px,rgba(0,0,0,0.3) 132px,rgba(0,0,0,0.5) 167px,rgba(0,0,0,0.75) 205px,rgba(0,0,0,0.92) 230px,#000 247px)"></div>
<div style="top:408px;background:linear-gradient(90deg,rgba(0,0,0,0) 46px,rgba(0,0,0,0.05) 67px,rgba(0,0,0,0.15) 107px,rgba(0,0,0,0.3) 138px,rgba(0,0,0,0.5) 173px,rgba(0,0,0,0.75) 209px,rgba(0,0,0,0.92) 234px,#000 250px)"></div>
<div style="top:410px;background:linear-gradient(90deg,rgba(0,0,0,0) 36px,rgba(0,0,0,0.05) 57px,rgba(0,0,0,0.15) 99px,rgba(0,0,0,0.3) 131px,rgba(0,0,0,0.5) 166px,rgba(0,0,0,0.75) 204px,rgba(0,0,0,0.92) 229px,#000 246px)"></div>
<div style="top:412px;background:linear-gradient(90deg,rgba(0,0,0,0) 54px,rgba(0,0,0,0.05) 74px,rgba(0,0,0,0.15) 113px,rgba(0,0,0,0.3) 143px,rgba(0,0,0,0.5) 177px,rgba(0,0,0,0.75) 213px,rgba(0,0,0,0.92) 237px,#000 253px)"></div>
<div style="top:414px;background:linear-gradient(90deg,rgba(0,0,0,0) 61px,rgba(0,0,0,0.05) 81px,rgba(0,0,0,0.15) 120px,rgba(0,0,0,0.3) 149px,rgba(0,0,0,0.5) 182px,rgba(0,0,0,0.75) 217px,rgba(0,0,0,0.92) 240px,#000 256px)"></div>
<div style="top:416px;background:linear-gradient(90deg,rgba(0,0,0,0) 39px,rgba(0,0,0,0.05) 60px,rgba(0,0,0,0.15) 102px,rgba(0,0,0,0.3) 133px,rgba(0,0,0,0.5) 168px,rgba(0,0,0,0.75) 205px,rgba(0,0,0,0.92) 230px,#000 247px)"></div>
<div style="top:418px;background:linear-gradient(90deg,rgba(0,0,0,0) 62px,rgba(0,0,0,0.05) 81px,rgba(0,0,0,0.15) 120px,rgba(0,0,0,0.3) 149px,rgba(0,0,0,0.5) 182px,rgba(0,0,0,0.75) 217px,rgba(0,0,0,0.92) 240px,#000 256px)"></div>
<div style="top:420px;background:linear-gradient(90deg,rgba(0,0,0,0) 57px,rgba(0,0,0,0.05) 77px,rgba(0,0,0,0.15) 116px,rgba(0,0,0,0.3) 145px,rgba(0,0,0,0.5) 179px,rgba(0,0,0,0.75) 214px,rgba(0,0,0,0.92) 238px,#000 254px)"></div>
<div style="top:422px;background:linear-gradient(90deg,rgba(0,0,0,0) 47px,rgba(0,0,0,0.05) 67px,rgba(0,0,0,0.15) 107px,rgba(0,0,0,0.3) 138px,rgba(0,0,0,0.5) 172px,rgba(0,0,0,0.75) 209px,rgba(0,0,0,0.92) 233px,#000 249px)"></div>
<div style="top:424px;background:linear-gradient(90deg,rgba(0,0,0,0) 31px,rgba(0,0,0,0.05) 52px,rgba(0,0,0,0.15) 94px,rgba(0,0,0,0.3) 126px,rgba(0,0,0,0.5) 162px,rgba(0,0,0,0.75) 200px,rgba(0,0,0,0.92) 226px,#000 243px)"></div>
<div style="top:426px;background:linear-gradient(90deg,rgba(0,0,0,0) 61px,rgba(0,0,0,0.05) 81px,rgba(0,0,0,0.15) 120px,rgba(0,0,0,0.3) 149px,rgba(0,0,0,0.5) 182px,rgba(0,0,0,0.75) 216px,rgba(0,0,0,0.92) 240px,#000 255px)"></div>
<div style="top:428px;background:linear-gradient(90deg,rgba(0,0,0,0) 48px,rgba(0,0,0,0.05) 68px,rgba(0,0,0,0.15) 109px,rgba(0,0,0,0.3) 139px,rgba(0,0,0,0.5) 173px,rgba(0,0,0,0.75) 209px,rgba(0,0,0,0.92) 234px,#000 250px)"></div>
<div style="top:430px;background:linear-gradient(90deg,rgba(0,0,0,0) 44px,rgba(0,0,0,0.05) 64px,rgba(0,0,0,0.15) 105px,rgba(0,0,0,0.3) 136px,rgba(0,0,0,0.5) 170px,rgba(0,0,0,0.75) 207px,rgba(0,0,0,0.92) 232px,#000 248px)"></div>
<div style="top:432px;background:linear-gradient(90deg,rgba(0,0,0,0) 53px,rgba(0,0,0,0.05) 73px,rgba(0,0,0,0.15) 113px,rgba(0,0,0,0.3) 142px,rgba(0,0,0,0.5) 176px,rgba(0,0,0,0.75) 212px,rgba(0,0,0,0.92) 236px,#000 251px)"></div>
<div style="top:434px;background:linear-gradient(90deg,rgba(0,0,0,0) 54px,rgba(0,0,0,0.05) 73px,rgba(0,0,0,0.15) 113px,rgba(0,0,0,0.3) 143px,rgba(0,0,0,0.5) 176px,rgba(0,0,0,0.75) 212px,rgba(0,0,0,0.92) 236px,#000 251px)"></div>
<div style="top:436px;background:linear-gradient(90deg,rgba(0,0,0,0) 67px,rgba(0,0,0,0.05) 86px,rgba(0,0,0,0.15) 124px,rgba(0,0,0,0.3) 153px,rgba(0,0,0,0.5) 186px,rgba(0,0,0,0.75) 220px,rgba(0,0,0,0.92) 243px,#000 259px)"></div>
<div style="top:438px;background:linear-gradient(90deg,rgba(0,0,0,0) 47px,rgba(0,0,0,0.05) 68px,rgba(0,0,0,0.15) 109px,rgba(0,0,0,0.3) 140px,rgba(0,0,0,0.5) 175px,rgba(0,0,0,0.75) 212px,rgba(0,0,0,0.92) 237px,#000 253px)"></div>
<div style="top:440px;background:linear-gradient(90deg,rgba(0,0,0,0) 70px,rgba(0,0,0,0.05) 90px,rgba(0,0,0,0.15) 128px,rgba(0,0,0,0.3) 157px,rgba(0,0,0,0.5) 190px,rgba(0,0,0,0.75) 225px,rgba(0,0,0,0.92) 249px,#000 264px)"></div>
<div style="top:442px;background:linear-gradient(90deg,rgba(0,0,0,0) 78px,rgba(0,0,0,0.05) 97px,rgba(0,0,0,0.15) 135px,rgba(0,0,0,0.3) 163px,rgba(0,0,0,0.5) 195px,rgba(0,0,0,0.75) 230px,rgba(0,0,0,0.92) 252px,#000 268px)"></div>
<div style="top:444px;background:linear-gradient(90deg,rgba(0,0,0,0) 82px,rgba(0,0,0,0.05) 101px,rgba(0,0,0,0.15) 138px,rgba(0,0,0,0.3) 166px,rgba(0,0,0,0.5) 198px,rgba(0,0,0,0.75) 232px,rgba(0,0,0,0.92) 255px,#000 270px)"></div>
<div style="top:446px;background:linear-gradient(90deg,rgba(0,0,0,0) 72px,rgba(0,0,0,0.05) 91px,rgba(0,0,0,0.15) 130px,rgba(0,0,0,0.3) 159px,rgba(0,0,0,0.5) 192px,rgba(0,0,0,0.75) 227px,rgba(0,0,0,0.92) 250px,#000 266px)"></div>
<div style="top:448px;background:linear-gradient(90deg,rgba(0,0,0,0) 71px,rgba(0,0,0,0.05) 91px,rgba(0,0,0,0.15) 130px,rgba(0,0,0,0.3) 159px,rgba(0,0,0,0.5) 192px,rgba(0,0,0,0.75) 227px,rgba(0,0,0,0.92) 251px,#000 266px)"></div>
<div style="top:450px;background:linear-gradient(90deg,rgba(0,0,0,0) 90px,rgba(0,0,0,0.05) 108px,rgba(0,0,0,0.15) 145px,rgba(0,0,0,0.3) 173px,rgba(0,0,0,0.5) 204px,rgba(0,0,0,0.75) 237px,rgba(0,0,0,0.92) 259px,#000 274px)"></div>
<div style="top:452px;background:linear-gradient(90deg,rgba(0,0,0,0) 84px,rgba(0,0,0,0.05) 103px,rgba(0,0,0,0.15) 140px,rgba(0,0,0,0.3) 168px,rgba(0,0,0,0.5) 200px,rgba(0,0,0,0.75) 234px,rgba(0,0,0,0.92) 256px,#000 271px)"></div>
<div style="top:454px;background:linear-gradient(90deg,rgba(0,0,0,0) 86px,rgba(0,0,0,0.05) 104px,rgba(0,0,0,0.15) 142px,rgba(0,0,0,0.3) 169px,rgba(0,0,0,0.5) 201px,rgba(0,0,0,0.75) 235px,rgba(0,0,0,0.92) 257px,#000 272px)"></div>
<div style="top:456px;background:linear-gradient(90deg,rgba(0,0,0,0) 99px,rgba(0,0,0,0.05) 117px,rgba(0,0,0,0.15) 153px,rgba(0,0,0,0.3) 179px,rgba(0,0,0,0.5) 209px,rgba(0,0,0,0.75) 241px,rgba(0,0,0,0.92) 263px,#000 277px)"></div>
<div style="top:458px;background:linear-gradient(90deg,rgba(0,0,0,0) 86px,rgba(0,0,0,0.05) 104px,rgba(0,0,0,0.15) 142px,rgba(0,0,0,0.3) 169px,rgba(0,0,0,0.5) 201px,rgba(0,0,0,0.75) 234px,rgba(0,0,0,0.92) 257px,#000 272px)"></div>
<div style="top:460px;background:linear-gradient(90deg,rgba(0,0,0,0) 69px,rgba(0,0,0,0.05) 89px,rgba(0,0,0,0.15) 128px,rgba(0,0,0,0.3) 157px,rgba(0,0,0,0.5) 190px,rgba(0,0,0,0.75) 226px,rgba(0,0,0,0.92) 249px,#000 265px)"></div>
<div style="top:462px;background:linear-gradient(90deg,rgba(0,0,0,0) 97px,rgba(0,0,0,0.05) 114px,rgba(0,0,0,0.15) 150px,rgba(0,0,0,0.3) 177px,rgba(0,0,0,0.5) 208px,rgba(0,0,0,0.75) 240px,rgba(0,0,0,0.92) 261px,#000 276px)"></div>
<div style="top:464px;background:linear-gradient(90deg,rgba(0,0,0,0) 93px,rgba(0,0,0,0.05) 111px,rgba(0,0,0,0.15) 148px,rgba(0,0,0,0.3) 175px,rgba(0,0,0,0.5) 206px,rgba(0,0,0,0.75) 238px,rgba(0,0,0,0.92) 260px,#000 274px)"></div>
<div style="top:466px;background:linear-gradient(90deg,rgba(0,0,0,0) 127px,rgba(0,0,0,0.05) 143px,rgba(0,0,0,0.15) 176px,rgba(0,0,0,0.3) 200px,rgba(0,0,0,0.5) 227px,rgba(0,0,0,0.75) 256px,rgba(0,0,0,0.92) 275px,#000 288px)"></div>
<div style="top:468px;background:linear-gradient(90deg,rgba(0,0,0,0) 123px,rgba(0,0,0,0.05) 139px,rgba(0,0,0,0.15) 172px,rgba(0,0,0,0.3) 196px,rgba(0,0,0,0.5) 224px,rgba(0,0,0,0.75) 253px,rgba(0,0,0,0.92) 273px,#000 286px)"></div>
<div style="top:470px;background:linear-gradient(90deg,rgba(0,0,0,0) 114px,rgba(0,0,0,0.05) 131px,rgba(0,0,0,0.15) 165px,rgba(0,0,0,0.3) 190px,rgba(0,0,0,0.5) 219px,rgba(0,0,0,0.75) 249px,rgba(0,0,0,0.92) 269px,#000 283px)"></div>
<div style="top:472px;background:linear-gradient(90deg,rgba(0,0,0,0) 120px,rgba(0,0,0,0.05) 136px,rgba(0,0,0,0.15) 169px,rgba(0,0,0,0.3) 194px,rgba(0,0,0,0.5) 222px,rgba(0,0,0,0.75) 252px,rgba(0,0,0,0.92) 272px,#000 285px)"></div>
<div style="top:474px;background:linear-gradient(90deg,rgba(0,0,0,0) 127px,rgba(0,0,0,0.05) 144px,rgba(0,0,0,0.15) 176px,rgba(0,0,0,0.3) 200px,rgba(0,0,0,0.5) 227px,rgba(0,0,0,0.75) 256px,rgba(0,0,0,0.92) 275px,#000 288px)"></div>
<div style="top:476px;background:linear-gradient(90deg,rgba(0,0,0,0) 121px,rgba(0,0,0,0.05) 137px,rgba(0,0,0,0.15) 170px,rgba(0,0,0,0.3) 195px,rgba(0,0,0,0.5) 223px,rgba(0,0,0,0.75) 252px,rgba(0,0,0,0.92) 272px,#000 285px)"></div>
<div style="top:478px;background:linear-gradient(90deg,rgba(0,0,0,0) 132px,rgba(0,0,0,0.05) 148px,rgba(0,0,0,0.15) 179px,rgba(0,0,0,0.3) 203px,rgba(0,0,0,0.5) 230px,rgba(0,0,0,0.75) 258px,rgba(0,0,0,0.92) 277px,#000 290px)"></div>
<div style="top:480px;background:linear-gradient(90deg,rgba(0,0,0,0) 106px,rgba(0,0,0,0.05) 123px,rgba(0,0,0,0.15) 158px,rgba(0,0,0,0.3) 184px,rgba(0,0,0,0.5) 214px,rgba(0,0,0,0.75) 245px,rgba(0,0,0,0.92) 266px,#000 280px)"></div>
<div style="top:482px;background:linear-gradient(90deg,rgba(0,0,0,0) 103px,rgba(0,0,0,0.05) 120px,rgba(0,0,0,0.15) 156px,rgba(0,0,0,0.3) 182px,rgba(0,0,0,0.5) 212px,rgba(0,0,0,0.75) 244px,rgba(0,0,0,0.92) 265px,#000 279px)"></div>
<div style="top:484px;background:linear-gradient(90deg,rgba(0,0,0,0) 93px,rgba(0,0,0,0.05) 112px,rgba(0,0,0,0.15) 148px,rgba(0,0,0,0.3) 175px,rgba(0,0,0,0.5) 206px,rgba(0,0,0,0.75) 239px,rgba(0,0,0,0.92) 261px,#000 275px)"></div>
<div style="top:486px;background:linear-gradient(90deg,rgba(0,0,0,0) 88px,rgba(0,0,0,0.05) 107px,rgba(0,0,0,0.15) 143px,rgba(0,0,0,0.3) 170px,rgba(0,0,0,0.5) 201px,rgba(0,0,0,0.75) 234px,rgba(0,0,0,0.92) 256px,#000 271px)"></div>
<div style="top:488px;background:linear-gradient(90deg,rgba(0,0,0,0) 62px,rgba(0,0,0,0.05) 81px,rgba(0,0,0,0.15) 121px,rgba(0,0,0,0.3) 150px,rgba(0,0,0,0.5) 183px,rgba(0,0,0,0.75) 218px,rgba(0,0,0,0.92) 242px,#000 257px)"></div>
<div style="top:490px;background:linear-gradient(90deg,rgba(0,0,0,0) 73px,rgba(0,0,0,0.05) 92px,rgba(0,0,0,0.15) 129px,rgba(0,0,0,0.3) 157px,rgba(0,0,0,0.5) 189px,rgba(0,0,0,0.75) 223px,rgba(0,0,0,0.92) 245px,#000 260px)"></div>
<div style="top:492px;background:linear-gradient(90deg,rgba(0,0,0,0) 48px,rgba(0,0,0,0.05) 68px,rgba(0,0,0,0.15) 109px,rgba(0,0,0,0.3) 139px,rgba(0,0,0,0.5) 173px,rgba(0,0,0,0.75) 210px,rgba(0,0,0,0.92) 234px,#000 250px)"></div>
<div style="top:494px;background:linear-gradient(90deg,rgba(0,0,0,0) 55px,rgba(0,0,0,0.05) 75px,rgba(0,0,0,0.15) 115px,rgba(0,0,0,0.3) 144px,rgba(0,0,0,0.5) 178px,rgba(0,0,0,0.75) 214px,rgba(0,0,0,0.92) 237px,#000 253px)"></div>
<div style="top:496px;background:linear-gradient(90deg,rgba(0,0,0,0) 47px,rgba(0,0,0,0.05) 68px,rgba(0,0,0,0.15) 108px,rgba(0,0,0,0.3) 139px,rgba(0,0,0,0.5) 173px,rgba(0,0,0,0.75) 209px,rgba(0,0,0,0.92) 234px,#000 250px)"></div>
<div style="top:498px;background:linear-gradient(90deg,rgba(0,0,0,0) 75px,rgba(0,0,0,0.05) 93px,rgba(0,0,0,0.15) 130px,rgba(0,0,0,0.3) 158px,rgba(0,0,0,0.5) 190px,rgba(0,0,0,0.75) 224px,rgba(0,0,0,0.92) 246px,#000 261px)"></div>
<div style="top:500px;background:linear-gradient(90deg,rgba(0,0,0,0) 54px,rgba(0,0,0,0.05) 74px,rgba(0,0,0,0.15) 114px,rgba(0,0,0,0.3) 143px,rgba(0,0,0,0.5) 177px,rgba(0,0,0,0.75) 213px,rgba(0,0,0,0.92) 237px,#000 253px)"></div>
<div style="top:502px;background:linear-gradient(90deg,rgba(0,0,0,0) 82px,rgba(0,0,0,0.05) 101px,rgba(0,0,0,0.15) 137px,rgba(0,0,0,0.3) 165px,rgba(0,0,0,0.5) 196px,rgba(0,0,0,0.75) 229px,rgba(0,0,0,0.92) 251px,#000 266px)"></div>
<div style="top:504px;background:linear-gradient(90deg,rgba(0,0,0,0) 98px,rgba(0,0,0,0.05) 116px,rgba(0,0,0,0.15) 151px,rgba(0,0,0,0.3) 177px,rgba(0,0,0,0.5) 207px,rgba(0,0,0,0.75) 239px,rgba(0,0,0,0.92) 260px,#000 274px)"></div>
<div style="top:506px;background:linear-gradient(90deg,rgba(0,0,0,0) 100px,rgba(0,0,0,0.05) 117px,rgba(0,0,0,0.15) 152px,rgba(0,0,0,0.3) 179px,rgba(0,0,0,0.5) 208px,rgba(0,0,0,0.75) 240px,rgba(0,0,0,0.92) 261px,#000 275px)"></div>
<div style="top:508px;background:linear-gradient(90deg,rgba(0,0,0,0) 95px,rgba(0,0,0,0.05) 112px,rgba(0,0,0,0.15) 148px,rgba(0,0,0,0.3) 175px,rgba(0,0,0,0.5) 205px,rgba(0,0,0,0.75) 237px,rgba(0,0,0,0.92) 259px,#000 273px)"></div>
<div style="top:510px;background:linear-gradient(90deg,rgba(0,0,0,0) 102px,rgba(0,0,0,0.05) 119px,rgba(0,0,0,0.15) 154px,rgba(0,0,0,0.3) 180px,rgba(0,0,0,0.5) 210px,rgba(0,0,0,0.75) 241px,rgba(0,0,0,0.92) 262px,#000 276px)"></div>
<div style="top:512px;background:linear-gradient(90deg,rgba(0,0,0,0) 116px,rgba(0,0,0,0.05) 133px,rgba(0,0,0,0.15) 166px,rgba(0,0,0,0.3) 191px,rgba(0,0,0,0.5) 219px,rgba(0,0,0,0.75) 248px,rgba(0,0,0,0.92) 268px,#000 281px)"></div>
<div style="top:514px;background:linear-gradient(90deg,rgba(0,0,0,0) 129px,rgba(0,0,0,0.05) 144px,rgba(0,0,0,0.15) 175px,rgba(0,0,0,0.3) 197px,rgba(0,0,0,0.5) 223px,rgba(0,0,0,0.75) 250px,rgba(0,0,0,0.92) 269px,#000 281px)"></div>
<div style="top:516px;background:linear-gradient(90deg,rgba(0,0,0,0) 163px,rgba(0,0,0,0.05) 175px,rgba(0,0,0,0.15) 200px,rgba(0,0,0,0.3) 219px,rgba(0,0,0,0.5) 240px,rgba(0,0,0,0.75) 263px,rgba(0,0,0,0.92) 278px,#000 288px)"></div>
<div style="top:518px;background:linear-gradient(90deg,rgba(0,0,0,0) 196px,rgba(0,0,0,0.05) 205px,rgba(0,0,0,0.15) 225px,rgba(0,0,0,0.3) 239px,rgba(0,0,0,0.5) 255px,rgba(0,0,0,0.75) 273px,rgba(0,0,0,0.92) 284px,#000 292px)"></div>
<div style="top:520px;background:linear-gradient(90deg,rgba(0,0,0,0) 214px,rgba(0,0,0,0.05) 222px,rgba(0,0,0,0.15) 237px,rgba(0,0,0,0.3) 249px,rgba(0,0,0,0.5) 262px,rgba(0,0,0,0.75) 276px,rgba(0,0,0,0.92) 286px,#000 292px)"></div>
<div style="top:522px;background:linear-gradient(90deg,rgba(0,0,0,0) 209px,rgba(0,0,0,0.05) 217px,rgba(0,0,0,0.15) 234px,rgba(0,0,0,0.3) 246px,rgba(0,0,0,0.5) 260px,rgba(0,0,0,0.75) 275px,rgba(0,0,0,0.92) 285px,#000 292px)"></div>
<div style="top:524px;background:linear-gradient(90deg,rgba(0,0,0,0) 195px,rgba(0,0,0,0.05) 205px,rgba(0,0,0,0.15) 224px,rgba(0,0,0,0.3) 239px,rgba(0,0,0,0.5) 255px,rgba(0,0,0,0.75) 273px,rgba(0,0,0,0.92) 284px,#000 292px)"></div>
<div style="top:526px;background:linear-gradient(90deg,rgba(0,0,0,0) 190px,rgba(0,0,0,0.05) 200px,rgba(0,0,0,0.15) 220px,rgba(0,0,0,0.3) 236px,rgba(0,0,0,0.5) 253px,rgba(0,0,0,0.75) 272px,rgba(0,0,0,0.92) 284px,#000 292px)"></div>
<div style="top:528px;background:linear-gradient(90deg,rgba(0,0,0,0) 145px,rgba(0,0,0,0.05) 159px,rgba(0,0,0,0.15) 187px,rgba(0,0,0,0.3) 208px,rgba(0,0,0,0.5) 232px,rgba(0,0,0,0.75) 257px,rgba(0,0,0,0.92) 274px,#000 285px)"></div>
<div style="top:530px;background:linear-gradient(90deg,rgba(0,0,0,0) 145px,rgba(0,0,0,0.05) 159px,rgba(0,0,0,0.15) 188px,rgba(0,0,0,0.3) 209px,rgba(0,0,0,0.5) 233px,rgba(0,0,0,0.75) 259px,rgba(0,0,0,0.92) 276px,#000 288px)"></div>
<div style="top:532px;background:linear-gradient(90deg,rgba(0,0,0,0) 159px,rgba(0,0,0,0.05) 172px,rgba(0,0,0,0.15) 199px,rgba(0,0,0,0.3) 219px,rgba(0,0,0,0.5) 241px,rgba(0,0,0,0.75) 265px,rgba(0,0,0,0.92) 281px,#000 292px)"></div>
<div style="top:534px;background:linear-gradient(90deg,rgba(0,0,0,0) 157px,rgba(0,0,0,0.05) 171px,rgba(0,0,0,0.15) 198px,rgba(0,0,0,0.3) 218px,rgba(0,0,0,0.5) 241px,rgba(0,0,0,0.75) 265px,rgba(0,0,0,0.92) 281px,#000 292px)"></div>
<div style="top:536px;background:linear-gradient(90deg,rgba(0,0,0,0) 163px,rgba(0,0,0,0.05) 176px,rgba(0,0,0,0.15) 202px,rgba(0,0,0,0.3) 221px,rgba(0,0,0,0.5) 243px,rgba(0,0,0,0.75) 266px,rgba(0,0,0,0.92) 282px,#000 292px)"></div>
<div style="top:538px;background:linear-gradient(90deg,rgba(0,0,0,0) 183px,rgba(0,0,0,0.05) 194px,rgba(0,0,0,0.15) 216px,rgba(0,0,0,0.3) 232px,rgba(0,0,0,0.5) 251px,rgba(0,0,0,0.75) 270px,rgba(0,0,0,0.92) 283px,#000 292px)"></div>
<div style="top:540px;background:linear-gradient(90deg,rgba(0,0,0,0) 190px,rgba(0,0,0,0.05) 200px,rgba(0,0,0,0.15) 221px,rgba(0,0,0,0.3) 236px,rgba(0,0,0,0.5) 253px,rgba(0,0,0,0.75) 272px,rgba(0,0,0,0.92) 284px,#000 292px)"></div>
<div style="top:542px;background:linear-gradient(90deg,rgba(0,0,0,0) 191px,rgba(0,0,0,0.05) 201px,rgba(0,0,0,0.15) 221px,rgba(0,0,0,0.3) 236px,rgba(0,0,0,0.5) 254px,rgba(0,0,0,0.75) 272px,rgba(0,0,0,0.92) 284px,#000 292px)"></div>
<div style="top:544px;background:linear-gradient(90deg,rgba(0,0,0,0) 200px,rgba(0,0,0,0.05) 209px,rgba(0,0,0,0.15) 228px,rgba(0,0,0,0.3) 242px,rgba(0,0,0,0.5) 257px,rgba(0,0,0,0.75) 274px,rgba(0,0,0,0.92) 285px,#000 292px)"></div>
<div style="top:546px;background:linear-gradient(90deg,rgba(0,0,0,0) 221px,rgba(0,0,0,0.05) 228px,rgba(0,0,0,0.15) 243px,rgba(0,0,0,0.3) 253px,rgba(0,0,0,0.5) 265px,rgba(0,0,0,0.75) 278px,rgba(0,0,0,0.92) 286px,#000 292px)"></div>
<div style="top:548px;background:linear-gradient(90deg,rgba(0,0,0,0) 248px,rgba(0,0,0,0.05) 253px,rgba(0,0,0,0.15) 261px,rgba(0,0,0,0.3) 268px,rgba(0,0,0,0.5) 275px,rgba(0,0,0,0.75) 283px,rgba(0,0,0,0.92) 289px,#000 292px)"></div>
<div style="top:550px;background:linear-gradient(90deg,rgba(0,0,0,0) 204px,rgba(0,0,0,0.05) 213px,rgba(0,0,0,0.15) 230px,rgba(0,0,0,0.3) 244px,rgba(0,0,0,0.5) 259px,rgba(0,0,0,0.75) 274px,rgba(0,0,0,0.92) 285px,#000 292px)"></div>
<div style="top:552px;background:linear-gradient(90deg,rgba(0,0,0,0) 170px,rgba(0,0,0,0.05) 182px,rgba(0,0,0,0.15) 205px,rgba(0,0,0,0.3) 222px,rgba(0,0,0,0.5) 242px,rgba(0,0,0,0.75) 262px,rgba(0,0,0,0.92) 276px,#000 285px)"></div>
<div style="top:554px;background:linear-gradient(90deg,rgba(0,0,0,0) 140px,rgba(0,0,0,0.05) 154px,rgba(0,0,0,0.15) 182px,rgba(0,0,0,0.3) 202px,rgba(0,0,0,0.5) 225px,rgba(0,0,0,0.75) 250px,rgba(0,0,0,0.92) 267px,#000 278px)"></div>
<div style="top:556px;background:linear-gradient(90deg,rgba(0,0,0,0) 103px,rgba(0,0,0,0.05) 119px,rgba(0,0,0,0.15) 152px,rgba(0,0,0,0.3) 176px,rgba(0,0,0,0.5) 204px,rgba(0,0,0,0.75) 234px,rgba(0,0,0,0.92) 254px,#000 267px)"></div>
<div style="top:558px;background:linear-gradient(90deg,rgba(0,0,0,0) 84px,rgba(0,0,0,0.05) 102px,rgba(0,0,0,0.15) 138px,rgba(0,0,0,0.3) 165px,rgba(0,0,0,0.5) 196px,rgba(0,0,0,0.75) 228px,rgba(0,0,0,0.92) 249px,#000 264px)"></div>
<div style="top:560px;background:linear-gradient(90deg,rgba(0,0,0,0) 59px,rgba(0,0,0,0.05) 79px,rgba(0,0,0,0.15) 118px,rgba(0,0,0,0.3) 148px,rgba(0,0,0,0.5) 181px,rgba(0,0,0,0.75) 216px,rgba(0,0,0,0.92) 240px,#000 256px)"></div>
<div style="top:562px;background:linear-gradient(90deg,rgba(0,0,0,0) 73px,rgba(0,0,0,0.05) 92px,rgba(0,0,0,0.15) 130px,rgba(0,0,0,0.3) 158px,rgba(0,0,0,0.5) 190px,rgba(0,0,0,0.75) 224px,rgba(0,0,0,0.92) 246px,#000 261px)"></div>
<div style="top:564px;background:linear-gradient(90deg,rgba(0,0,0,0) 49px,rgba(0,0,0,0.05) 69px,rgba(0,0,0,0.15) 110px,rgba(0,0,0,0.3) 140px,rgba(0,0,0,0.5) 174px,rgba(0,0,0,0.75) 211px,rgba(0,0,0,0.92) 235px,#000 252px)"></div>
<div style="top:566px;background:linear-gradient(90deg,rgba(0,0,0,0) 73px,rgba(0,0,0,0.05) 92px,rgba(0,0,0,0.15) 129px,rgba(0,0,0,0.3) 158px,rgba(0,0,0,0.5) 190px,rgba(0,0,0,0.75) 224px,rgba(0,0,0,0.92) 246px,#000 261px)"></div>
<div style="top:568px;background:linear-gradient(90deg,rgba(0,0,0,0) 64px,rgba(0,0,0,0.05) 84px,rgba(0,0,0,0.15) 122px,rgba(0,0,0,0.3) 151px,rgba(0,0,0,0.5) 184px,rgba(0,0,0,0.75) 219px,rgba(0,0,0,0.92) 242px,#000 258px)"></div>
<div style="top:570px;background:linear-gradient(90deg,rgba(0,0,0,0) 53px,rgba(0,0,0,0.05) 73px,rgba(0,0,0,0.15) 113px,rgba(0,0,0,0.3) 143px,rgba(0,0,0,0.5) 177px,rgba(0,0,0,0.75) 213px,rgba(0,0,0,0.92) 237px,#000 253px)"></div>
<div style="top:572px;background:linear-gradient(90deg,rgba(0,0,0,0) 87px,rgba(0,0,0,0.05) 105px,rgba(0,0,0,0.15) 140px,rgba(0,0,0,0.3) 167px,rgba(0,0,0,0.5) 198px,rgba(0,0,0,0.75) 230px,rgba(0,0,0,0.92) 252px,#000 266px)"></div>
<div style="top:574px;background:linear-gradient(90deg,rgba(0,0,0,0) 98px,rgba(0,0,0,0.05) 115px,rgba(0,0,0,0.15) 149px,rgba(0,0,0,0.3) 175px,rgba(0,0,0,0.5) 205px,rgba(0,0,0,0.75) 236px,rgba(0,0,0,0.92) 256px,#000 270px)"></div>
<div style="top:576px;background:linear-gradient(90deg,rgba(0,0,0,0) 100px,rgba(0,0,0,0.05) 117px,rgba(0,0,0,0.15) 151px,rgba(0,0,0,0.3) 177px,rgba(0,0,0,0.5) 206px,rgba(0,0,0,0.75) 237px,rgba(0,0,0,0.92) 257px,#000 271px)"></div>
<div style="top:578px;background:linear-gradient(90deg,rgba(0,0,0,0) 132px,rgba(0,0,0,0.05) 147px,rgba(0,0,0,0.15) 177px,rgba(0,0,0,0.3) 200px,rgba(0,0,0,0.5) 226px,rgba(0,0,0,0.75) 253px,rgba(0,0,0,0.92) 271px,#000 283px)"></div>
<div style="top:580px;background:linear-gradient(90deg,rgba(0,0,0,0) 156px,rgba(0,0,0,0.05) 170px,rgba(0,0,0,0.15) 197px,rgba(0,0,0,0.3) 217px,rgba(0,0,0,0.5) 240px,rgba(0,0,0,0.75) 265px,rgba(0,0,0,0.92) 281px,#000 292px)"></div>
<div style="top:582px;background:linear-gradient(90deg,rgba(0,0,0,0) 156px,rgba(0,0,0,0.05) 170px,rgba(0,0,0,0.15) 196px,rgba(0,0,0,0.3) 217px,rgba(0,0,0,0.5) 239px,rgba(0,0,0,0.75) 263px,rgba(0,0,0,0.92) 280px,#000 290px)"></div>
<div style="top:584px;background:linear-gradient(90deg,rgba(0,0,0,0) 174px,rgba(0,0,0,0.05) 186px,rgba(0,0,0,0.15) 210px,rgba(0,0,0,0.3) 227px,rgba(0,0,0,0.5) 247px,rgba(0,0,0,0.75) 268px,rgba(0,0,0,0.92) 283px,#000 292px)"></div>
<div style="top:586px;background:linear-gradient(90deg,rgba(0,0,0,0) 181px,rgba(0,0,0,0.05) 192px,rgba(0,0,0,0.15) 214px,rgba(0,0,0,0.3) 231px,rgba(0,0,0,0.5) 250px,rgba(0,0,0,0.75) 270px,rgba(0,0,0,0.92) 283px,#000 292px)"></div>
<div style="top:588px;background:linear-gradient(90deg,rgba(0,0,0,0) 187px,rgba(0,0,0,0.05) 197px,rgba(0,0,0,0.15) 218px,rgba(0,0,0,0.3) 234px,rgba(0,0,0,0.5) 252px,rgba(0,0,0,0.75) 271px,rgba(0,0,0,0.92) 284px,#000 292px)"></div>
<div style="top:590px;background:linear-gradient(90deg,rgba(0,0,0,0) 191px,rgba(0,0,0,0.05) 201px,rgba(0,0,0,0.15) 221px,rgba(0,0,0,0.3) 236px,rgba(0,0,0,0.5) 254px,rgba(0,0,0,0.75) 272px,rgba(0,0,0,0.92) 284px,#000 292px)"></div>
<div style="top:592px;background:linear-gradient(90deg,rgba(0,0,0,0) 207px,rgba(0,0,0,0.05) 215px,rgba(0,0,0,0.15) 232px,rgba(0,0,0,0.3) 245px,rgba(0,0,0,0.5) 260px,rgba(0,0,0,0.75) 275px,rgba(0,0,0,0.92) 285px,#000 292px)"></div>
<div style="top:594px;background:linear-gradient(90deg,rgba(0,0,0,0) 208px,rgba(0,0,0,0.05) 216px,rgba(0,0,0,0.15) 233px,rgba(0,0,0,0.3) 246px,rgba(0,0,0,0.5) 260px,rgba(0,0,0,0.75) 275px,rgba(0,0,0,0.92) 285px,#000 292px)"></div>
<div style="top:596px;background:linear-gradient(90deg,rgba(0,0,0,0) 201px,rgba(0,0,0,0.05) 210px,rgba(0,0,0,0.15) 228px,rgba(0,0,0,0.3) 242px,rgba(0,0,0,0.5) 257px,rgba(0,0,0,0.75) 274px,rgba(0,0,0,0.92) 285px,#000 292px)"></div>
<div style="top:598px;background:linear-gradient(90deg,rgba(0,0,0,0) 161px,rgba(0,0,0,0.05) 174px,rgba(0,0,0,0.15) 199px,rgba(0,0,0,0.3) 218px,rgba(0,0,0,0.5) 240px,rgba(0,0,0,0.75) 262px,rgba(0,0,0,0.92) 277px,#000 287px)"></div>
<div style="top:600px;background:linear-gradient(90deg,rgba(0,0,0,0) 171px,rgba(0,0,0,0.05) 183px,rgba(0,0,0,0.15) 208px,rgba(0,0,0,0.3) 226px,rgba(0,0,0,0.5) 246px,rgba(0,0,0,0.75) 268px,rgba(0,0,0,0.92) 282px,#000 292px)"></div>
<div style="top:602px;background:linear-gradient(90deg,rgba(0,0,0,0) 158px,rgba(0,0,0,0.05) 172px,rgba(0,0,0,0.15) 199px,rgba(0,0,0,0.3) 219px,rgba(0,0,0,0.5) 241px,rgba(0,0,0,0.75) 265px,rgba(0,0,0,0.92) 281px,#000 292px)"></div>
<div style="top:604px;background:linear-gradient(90deg,rgba(0,0,0,0) 127px,rgba(0,0,0,0.05) 143px,rgba(0,0,0,0.15) 174px,rgba(0,0,0,0.3) 198px,rgba(0,0,0,0.5) 224px,rgba(0,0,0,0.75) 253px,rgba(0,0,0,0.92) 271px,#000 284px)"></div>
<div style="top:606px;background:linear-gradient(90deg,rgba(0,0,0,0) 126px,rgba(0,0,0,0.05) 142px,rgba(0,0,0,0.15) 173px,rgba(0,0,0,0.3) 197px,rgba(0,0,0,0.5) 223px,rgba(0,0,0,0.75) 252px,rgba(0,0,0,0.92) 271px,#000 283px)"></div>
<div style="top:608px;background:linear-gradient(90deg,rgba(0,0,0,0) 147px,rgba(0,0,0,0.05) 162px,rgba(0,0,0,0.15) 191px,rgba(0,0,0,0.3) 212px,rgba(0,0,0,0.5) 237px,rgba(0,0,0,0.75) 263px,rgba(0,0,0,0.92) 280px,#000 292px)"></div>
<div style="top:610px;background:linear-gradient(90deg,rgba(0,0,0,0) 121px,rgba(0,0,0,0.05) 137px,rgba(0,0,0,0.15) 169px,rgba(0,0,0,0.3) 193px,rgba(0,0,0,0.5) 220px,rgba(0,0,0,0.75) 248px,rgba(0,0,0,0.92) 267px,#000 280px)"></div>
<div style="top:612px;background:linear-gradient(90deg,rgba(0,0,0,0) 156px,rgba(0,0,0,0.05) 169px,rgba(0,0,0,0.15) 196px,rgba(0,0,0,0.3) 216px,rgba(0,0,0,0.5) 239px,rgba(0,0,0,0.75) 263px,rgba(0,0,0,0.92) 279px,#000 290px)"></div>
<div style="top:614px;background:linear-gradient(90deg,rgba(0,0,0,0) 188px,rgba(0,0,0,0.05) 199px,rgba(0,0,0,0.15) 219px,rgba(0,0,0,0.3) 235px,rgba(0,0,0,0.5) 253px,rgba(0,0,0,0.75) 271px,rgba(0,0,0,0.92) 284px,#000 292px)"></div>
<div style="top:616px;background:linear-gradient(90deg,rgba(0,0,0,0) 173px,rgba(0,0,0,0.05) 184px,rgba(0,0,0,0.15) 208px,rgba(0,0,0,0.3) 225px,rgba(0,0,0,0.5) 245px,rgba(0,0,0,0.75) 266px,rgba(0,0,0,0.92) 281px,#000 290px)"></div>
<div style="top:618px;background:linear-gradient(90deg,rgba(0,0,0,0) 202px,rgba(0,0,0,0.05) 211px,rgba(0,0,0,0.15) 229px,rgba(0,0,0,0.3) 242px,rgba(0,0,0,0.5) 258px,rgba(0,0,0,0.75) 274px,rgba(0,0,0,0.92) 285px,#000 292px)"></div>
<div style="top:620px;background:linear-gradient(90deg,rgba(0,0,0,0) 227px,rgba(0,0,0,0.05) 233px,rgba(0,0,0,0.15) 246px,rgba(0,0,0,0.3) 256px,rgba(0,0,0,0.5) 267px,rgba(0,0,0,0.75) 279px,rgba(0,0,0,0.92) 287px,#000 292px)"></div>
<div style="top:622px;background:linear-gradient(90deg,rgba(0,0,0,0) 184px,rgba(0,0,0,0.05) 195px,rgba(0,0,0,0.15) 217px,rgba(0,0,0,0.3) 233px,rgba(0,0,0,0.5) 251px,rgba(0,0,0,0.75) 270px,rgba(0,0,0,0.92) 283px,#000 291px)"></div>
<div style="top:624px;background:linear-gradient(90deg,rgba(0,0,0,0) 166px,rgba(0,0,0,0.05) 178px,rgba(0,0,0,0.15) 203px,rgba(0,0,0,0.3) 221px,rgba(0,0,0,0.5) 241px,rgba(0,0,0,0.75) 263px,rgba(0,0,0,0.92) 278px,#000 288px)"></div>
<div style="top:626px;background:linear-gradient(90deg,rgba(0,0,0,0) 145px,rgba(0,0,0,0.05) 159px,rgba(0,0,0,0.15) 186px,rgba(0,0,0,0.3) 207px,rgba(0,0,0,0.5) 230px,rgba(0,0,0,0.75) 255px,rgba(0,0,0,0.92) 272px,#000 283px)"></div>
<div style="top:628px;background:linear-gradient(90deg,rgba(0,0,0,0) 104px,rgba(0,0,0,0.05) 121px,rgba(0,0,0,0.15) 154px,rgba(0,0,0,0.3) 179px,rgba(0,0,0,0.5) 207px,rgba(0,0,0,0.75) 237px,rgba(0,0,0,0.92) 257px,#000 270px)"></div>
<div style="top:630px;background:linear-gradient(90deg,rgba(0,0,0,0) 99px,rgba(0,0,0,0.05) 116px,rgba(0,0,0,0.15) 150px,rgba(0,0,0,0.3) 176px,rgba(0,0,0,0.5) 205px,rgba(0,0,0,0.75) 236px,rgba(0,0,0,0.92) 256px,#000 270px)"></div>
<div style="top:632px;background:linear-gradient(90deg,rgba(0,0,0,0) 103px,rgba(0,0,0,0.05) 119px,rgba(0,0,0,0.15) 153px,rgba(0,0,0,0.3) 178px,rgba(0,0,0,0.5) 207px,rgba(0,0,0,0.75) 237px,rgba(0,0,0,0.92) 258px,#000 271px)"></div>
<div style="top:634px;background:linear-gradient(90deg,rgba(0,0,0,0) 107px,rgba(0,0,0,0.05) 124px,rgba(0,0,0,0.15) 157px,rgba(0,0,0,0.3) 182px,rgba(0,0,0,0.5) 210px,rgba(0,0,0,0.75) 240px,rgba(0,0,0,0.92) 260px,#000 273px)"></div>
<div style="top:636px;background:linear-gradient(90deg,rgba(0,0,0,0) 100px,rgba(0,0,0,0.05) 117px,rgba(0,0,0,0.15) 151px,rgba(0,0,0,0.3) 176px,rgba(0,0,0,0.5) 205px,rgba(0,0,0,0.75) 236px,rgba(0,0,0,0.92) 256px,#000 270px)"></div>
<div style="top:638px;background:linear-gradient(90deg,rgba(0,0,0,0) 91px,rgba(0,0,0,0.05) 109px,rgba(0,0,0,0.15) 144px,rgba(0,0,0,0.3) 170px,rgba(0,0,0,0.5) 200px,rgba(0,0,0,0.75) 232px,rgba(0,0,0,0.92) 253px,#000 267px)"></div>
<div style="top:640px;background:linear-gradient(90deg,rgba(0,0,0,0) 69px,rgba(0,0,0,0.05) 88px,rgba(0,0,0,0.15) 127px,rgba(0,0,0,0.3) 155px,rgba(0,0,0,0.5) 188px,rgba(0,0,0,0.75) 222px,rgba(0,0,0,0.92) 245px,#000 260px)"></div>
<div style="top:642px;background:linear-gradient(90deg,rgba(0,0,0,0) 61px,rgba(0,0,0,0.05) 81px,rgba(0,0,0,0.15) 120px,rgba(0,0,0,0.3) 150px,rgba(0,0,0,0.5) 183px,rgba(0,0,0,0.75) 219px,rgba(0,0,0,0.92) 242px,#000 258px)"></div>
<div style="top:644px;background:linear-gradient(90deg,rgba(0,0,0,0) 58px,rgba(0,0,0,0.05) 78px,rgba(0,0,0,0.15) 118px,rgba(0,0,0,0.3) 148px,rgba(0,0,0,0.5) 182px,rgba(0,0,0,0.75) 218px,rgba(0,0,0,0.92) 242px,#000 258px)"></div>
<div style="top:646px;background:linear-gradient(90deg,rgba(0,0,0,0) 51px,rgba(0,0,0,0.05) 71px,rgba(0,0,0,0.15) 112px,rgba(0,0,0,0.3) 143px,rgba(0,0,0,0.5) 178px,rgba(0,0,0,0.75) 214px,rgba(0,0,0,0.92) 239px,#000 255px)"></div>
<div style="top:648px;background:linear-gradient(90deg,rgba(0,0,0,0) 42px,rgba(0,0,0,0.05) 63px,rgba(0,0,0,0.15) 105px,rgba(0,0,0,0.3) 137px,rgba(0,0,0,0.5) 172px,rgba(0,0,0,0.75) 210px,rgba(0,0,0,0.92) 235px,#000 252px)"></div>
<div style="top:650px;background:linear-gradient(90deg,rgba(0,0,0,0) 42px,rgba(0,0,0,0.05) 63px,rgba(0,0,0,0.15) 105px,rgba(0,0,0,0.3) 137px,rgba(0,0,0,0.5) 172px,rgba(0,0,0,0.75) 210px,rgba(0,0,0,0.92) 235px,#000 252px)"></div>
<div style="top:652px;background:linear-gradient(90deg,rgba(0,0,0,0) 74px,rgba(0,0,0,0.05) 93px,rgba(0,0,0,0.15) 131px,rgba(0,0,0,0.3) 160px,rgba(0,0,0,0.5) 192px,rgba(0,0,0,0.75) 226px,rgba(0,0,0,0.92) 249px,#000 265px)"></div>
<div style="top:654px;background:linear-gradient(90deg,rgba(0,0,0,0) 60px,rgba(0,0,0,0.05) 80px,rgba(0,0,0,0.15) 120px,rgba(0,0,0,0.3) 150px,rgba(0,0,0,0.5) 184px,rgba(0,0,0,0.75) 219px,rgba(0,0,0,0.92) 243px,#000 259px)"></div>
<div style="top:656px;background:linear-gradient(90deg,rgba(0,0,0,0) 56px,rgba(0,0,0,0.05) 76px,rgba(0,0,0,0.15) 116px,rgba(0,0,0,0.3) 146px,rgba(0,0,0,0.5) 181px,rgba(0,0,0,0.75) 217px,rgba(0,0,0,0.92) 241px,#000 257px)"></div>
<div style="top:658px;background:linear-gradient(90deg,rgba(0,0,0,0) 27px,rgba(0,0,0,0.05) 49px,rgba(0,0,0,0.15) 92px,rgba(0,0,0,0.3) 125px,rgba(0,0,0,0.5) 162px,rgba(0,0,0,0.75) 202px,rgba(0,0,0,0.92) 228px,#000 246px)"></div>
<div style="top:660px;background:linear-gradient(90deg,rgba(0,0,0,0) 56px,rgba(0,0,0,0.05) 76px,rgba(0,0,0,0.15) 116px,rgba(0,0,0,0.3) 146px,rgba(0,0,0,0.5) 181px,rgba(0,0,0,0.75) 217px,rgba(0,0,0,0.92) 241px,#000 257px)"></div>
<div style="top:662px;background:linear-gradient(90deg,rgba(0,0,0,0) 54px,rgba(0,0,0,0.05) 75px,rgba(0,0,0,0.15) 115px,rgba(0,0,0,0.3) 145px,rgba(0,0,0,0.5) 180px,rgba(0,0,0,0.75) 216px,rgba(0,0,0,0.92) 241px,#000 257px)"></div>
<div style="top:664px;background:linear-gradient(90deg,rgba(0,0,0,0) 65px,rgba(0,0,0,0.05) 85px,rgba(0,0,0,0.15) 124px,rgba(0,0,0,0.3) 153px,rgba(0,0,0,0.5) 187px,rgba(0,0,0,0.75) 222px,rgba(0,0,0,0.92) 245px,#000 261px)"></div>
<div style="top:666px;background:linear-gradient(90deg,rgba(0,0,0,0) 54px,rgba(0,0,0,0.05) 74px,rgba(0,0,0,0.15) 115px,rgba(0,0,0,0.3) 145px,rgba(0,0,0,0.5) 180px,rgba(0,0,0,0.75) 216px,rgba(0,0,0,0.92) 240px,#000 257px)"></div>
<div style="top:668px;background:linear-gradient(90deg,rgba(0,0,0,0) 49px,rgba(0,0,0,0.05) 70px,rgba(0,0,0,0.15) 111px,rgba(0,0,0,0.3) 142px,rgba(0,0,0,0.5) 177px,rgba(0,0,0,0.75) 214px,rgba(0,0,0,0.92) 238px,#000 255px)"></div>
<div style="top:670px;background:linear-gradient(90deg,rgba(0,0,0,0) 55px,rgba(0,0,0,0.05) 75px,rgba(0,0,0,0.15) 115px,rgba(0,0,0,0.3) 146px,rgba(0,0,0,0.5) 180px,rgba(0,0,0,0.75) 216px,rgba(0,0,0,0.92) 241px,#000 257px)"></div>
<div style="top:672px;background:linear-gradient(90deg,rgba(0,0,0,0) 33px,rgba(0,0,0,0.05) 54px,rgba(0,0,0,0.15) 97px,rgba(0,0,0,0.3) 129px,rgba(0,0,0,0.5) 166px,rgba(0,0,0,0.75) 205px,rgba(0,0,0,0.92) 231px,#000 248px)"></div>
<div style="top:674px;background:linear-gradient(90deg,rgba(0,0,0,0) 59px,rgba(0,0,0,0.05) 79px,rgba(0,0,0,0.15) 119px,rgba(0,0,0,0.3) 149px,rgba(0,0,0,0.5) 183px,rgba(0,0,0,0.75) 219px,rgba(0,0,0,0.92) 243px,#000 259px)"></div>
<div style="top:676px;background:linear-gradient(90deg,rgba(0,0,0,0) 53px,rgba(0,0,0,0.05) 73px,rgba(0,0,0,0.15) 114px,rgba(0,0,0,0.3) 144px,rgba(0,0,0,0.5) 179px,rgba(0,0,0,0.75) 216px,rgba(0,0,0,0.92) 240px,#000 256px)"></div>
<div style="top:678px;background:linear-gradient(90deg,rgba(0,0,0,0) 44px,rgba(0,0,0,0.05) 65px,rgba(0,0,0,0.15) 106px,rgba(0,0,0,0.3) 138px,rgba(0,0,0,0.5) 173px,rgba(0,0,0,0.75) 211px,rgba(0,0,0,0.92) 236px,#000 252px)"></div>
<div style="top:680px;background:linear-gradient(90deg,rgba(0,0,0,0) 62px,rgba(0,0,0,0.05) 82px,rgba(0,0,0,0.15) 121px,rgba(0,0,0,0.3) 151px,rgba(0,0,0,0.5) 185px,rgba(0,0,0,0.75) 220px,rgba(0,0,0,0.92) 244px,#000 260px)"></div>
<div style="top:682px;background:linear-gradient(90deg,rgba(0,0,0,0) 66px,rgba(0,0,0,0.05) 86px,rgba(0,0,0,0.15) 125px,rgba(0,0,0,0.3) 154px,rgba(0,0,0,0.5) 187px,rgba(0,0,0,0.75) 222px,rgba(0,0,0,0.92) 246px,#000 262px)"></div>
<div style="top:684px;background:linear-gradient(90deg,rgba(0,0,0,0) 37px,rgba(0,0,0,0.05) 59px,rgba(0,0,0,0.15) 101px,rgba(0,0,0,0.3) 133px,rgba(0,0,0,0.5) 169px,rgba(0,0,0,0.75) 207px,rgba(0,0,0,0.92) 233px,#000 250px)"></div>
<div style="top:686px;background:linear-gradient(90deg,rgba(0,0,0,0) 42px,rgba(0,0,0,0.05) 62px,rgba(0,0,0,0.15) 104px,rgba(0,0,0,0.3) 135px,rgba(0,0,0,0.5) 171px,rgba(0,0,0,0.75) 208px,rgba(0,0,0,0.92) 233px,#000 250px)"></div>
<div style="top:688px;background:linear-gradient(90deg,rgba(0,0,0,0) 48px,rgba(0,0,0,0.05) 68px,rgba(0,0,0,0.15) 109px,rgba(0,0,0,0.3) 139px,rgba(0,0,0,0.5) 174px,rgba(0,0,0,0.75) 210px,rgba(0,0,0,0.92) 235px,#000 251px)"></div>
<div style="top:690px;background:linear-gradient(90deg,rgba(0,0,0,0) 44px,rgba(0,0,0,0.05) 65px,rgba(0,0,0,0.15) 105px,rgba(0,0,0,0.3) 136px,rgba(0,0,0,0.5) 171px,rgba(0,0,0,0.75) 207px,rgba(0,0,0,0.92) 232px,#000 248px)"></div>
<div style="top:692px;background:linear-gradient(90deg,rgba(0,0,0,0) 36px,rgba(0,0,0,0.05) 57px,rgba(0,0,0,0.15) 99px,rgba(0,0,0,0.3) 130px,rgba(0,0,0,0.5) 165px,rgba(0,0,0,0.75) 202px,rgba(0,0,0,0.92) 227px,#000 244px)"></div>
<div style="top:694px;background:linear-gradient(90deg,rgba(0,0,0,0) 31px,rgba(0,0,0,0.05) 52px,rgba(0,0,0,0.15) 94px,rgba(0,0,0,0.3) 125px,rgba(0,0,0,0.5) 161px,rgba(0,0,0,0.75) 199px,rgba(0,0,0,0.92) 224px,#000 241px)"></div>
<div style="top:696px;background:linear-gradient(90deg,rgba(0,0,0,0) 58px,rgba(0,0,0,0.05) 77px,rgba(0,0,0,0.15) 116px,rgba(0,0,0,0.3) 145px,rgba(0,0,0,0.5) 178px,rgba(0,0,0,0.75) 213px,rgba(0,0,0,0.92) 237px,#000 252px)"></div>
<div style="top:698px;background:linear-gradient(90deg,rgba(0,0,0,0) 47px,rgba(0,0,0,0.05) 67px,rgba(0,0,0,0.15) 108px,rgba(0,0,0,0.3) 138px,rgba(0,0,0,0.5) 172px,rgba(0,0,0,0.75) 208px,rgba(0,0,0,0.92) 232px,#000 248px)"></div>
<div style="top:700px;background:linear-gradient(90deg,rgba(0,0,0,0) 27px,rgba(0,0,0,0.05) 48px,rgba(0,0,0,0.15) 90px,rgba(0,0,0,0.3) 122px,rgba(0,0,0,0.5) 159px,rgba(0,0,0,0.75) 197px,rgba(0,0,0,0.92) 223px,#000 240px)"></div>
<div style="top:702px;background:linear-gradient(90deg,rgba(0,0,0,0) 25px,rgba(0,0,0,0.05) 46px,rgba(0,0,0,0.15) 89px,rgba(0,0,0,0.3) 121px,rgba(0,0,0,0.5) 157px,rgba(0,0,0,0.75) 196px,rgba(0,0,0,0.92) 222px,#000 239px)"></div>
<div style="top:704px;background:linear-gradient(90deg,rgba(0,0,0,0) 51px,rgba(0,0,0,0.05) 71px,rgba(0,0,0,0.15) 111px,rgba(0,0,0,0.3) 141px,rgba(0,0,0,0.5) 174px,rgba(0,0,0,0.75) 210px,rgba(0,0,0,0.92) 234px,#000 250px)"></div>
<div style="top:706px;background:linear-gradient(90deg,rgba(0,0,0,0) 44px,rgba(0,0,0,0.05) 64px,rgba(0,0,0,0.15) 105px,rgba(0,0,0,0.3) 135px,rgba(0,0,0,0.5) 170px,rgba(0,0,0,0.75) 206px,rgba(0,0,0,0.92) 230px,#000 247px)"></div>
<div style="top:708px;background:linear-gradient(90deg,rgba(0,0,0,0) 51px,rgba(0,0,0,0.05) 71px,rgba(0,0,0,0.15) 111px,rgba(0,0,0,0.3) 140px,rgba(0,0,0,0.5) 174px,rgba(0,0,0,0.75) 210px,rgba(0,0,0,0.92) 234px,#000 249px)"></div>
<div style="top:710px;background:linear-gradient(90deg,rgba(0,0,0,0) 42px,rgba(0,0,0,0.05) 62px,rgba(0,0,0,0.15) 103px,rgba(0,0,0,0.3) 133px,rgba(0,0,0,0.5) 168px,rgba(0,0,0,0.75) 205px,rgba(0,0,0,0.92) 229px,#000 245px)"></div>
<div style="top:712px;background:linear-gradient(90deg,rgba(0,0,0,0) 26px,rgba(0,0,0,0.05) 47px,rgba(0,0,0,0.15) 90px,rgba(0,0,0,0.3) 122px,rgba(0,0,0,0.5) 158px,rgba(0,0,0,0.75) 196px,rgba(0,0,0,0.92) 222px,#000 239px)"></div>
<div style="top:714px;background:linear-gradient(90deg,rgba(0,0,0,0) 36px,rgba(0,0,0,0.05) 56px,rgba(0,0,0,0.15) 98px,rgba(0,0,0,0.3) 129px,rgba(0,0,0,0.5) 164px,rgba(0,0,0,0.75) 201px,rgba(0,0,0,0.92) 226px,#000 243px)"></div>
<div style="top:716px;background:linear-gradient(90deg,rgba(0,0,0,0) 13px,rgba(0,0,0,0.05) 35px,rgba(0,0,0,0.15) 79px,rgba(0,0,0,0.3) 112px,rgba(0,0,0,0.5) 150px,rgba(0,0,0,0.75) 190px,rgba(0,0,0,0.92) 216px,#000 234px)"></div>
<div style="top:718px;background:linear-gradient(90deg,rgba(0,0,0,0) 25px,rgba(0,0,0,0.05) 47px,rgba(0,0,0,0.15) 89px,rgba(0,0,0,0.3) 121px,rgba(0,0,0,0.5) 158px,rgba(0,0,0,0.75) 196px,rgba(0,0,0,0.92) 222px,#000 239px)"></div>
<div style="top:720px;background:linear-gradient(90deg,rgba(0,0,0,0) 31px,rgba(0,0,0,0.05) 52px,rgba(0,0,0,0.15) 94px,rgba(0,0,0,0.3) 125px,rgba(0,0,0,0.5) 161px,rgba(0,0,0,0.75) 199px,rgba(0,0,0,0.92) 224px,#000 241px)"></div>
<div style="top:722px;background:linear-gradient(90deg,rgba(0,0,0,0) 36px,rgba(0,0,0,0.05) 56px,rgba(0,0,0,0.15) 98px,rgba(0,0,0,0.3) 129px,rgba(0,0,0,0.5) 164px,rgba(0,0,0,0.75) 201px,rgba(0,0,0,0.92) 226px,#000 243px)"></div>
<div style="top:724px;background:linear-gradient(90deg,rgba(0,0,0,0) 24px,rgba(0,0,0,0.05) 45px,rgba(0,0,0,0.15) 88px,rgba(0,0,0,0.3) 120px,rgba(0,0,0,0.5) 156px,rgba(0,0,0,0.75) 195px,rgba(0,0,0,0.92) 221px,#000 238px)"></div>
<div style="top:726px;background:linear-gradient(90deg,rgba(0,0,0,0) 29px,rgba(0,0,0,0.05) 50px,rgba(0,0,0,0.15) 92px,rgba(0,0,0,0.3) 124px,rgba(0,0,0,0.5) 159px,rgba(0,0,0,0.75) 197px,rgba(0,0,0,0.92) 223px,#000 240px)"></div>
<div style="top:728px;background:linear-gradient(90deg,rgba(0,0,0,0) 44px,rgba(0,0,0,0.05) 64px,rgba(0,0,0,0.15) 103px,rgba(0,0,0,0.3) 132px,rgba(0,0,0,0.5) 165px,rgba(0,0,0,0.75) 200px,rgba(0,0,0,0.92) 224px,#000 239px)"></div>
<div style="top:730px;background:linear-gradient(90deg,rgba(0,0,0,0) 53px,rgba(0,0,0,0.05) 72px,rgba(0,0,0,0.15) 108px,rgba(0,0,0,0.3) 136px,rgba(0,0,0,0.5) 167px,rgba(0,0,0,0.75) 200px,rgba(0,0,0,0.92) 222px,#000 236px)"></div>
<div style="top:732px;background:linear-gradient(90deg,rgba(0,0,0,0) 56px,rgba(0,0,0,0.05) 74px,rgba(0,0,0,0.15) 110px,rgba(0,0,0,0.3) 137px,rgba(0,0,0,0.5) 168px,rgba(0,0,0,0.75) 201px,rgba(0,0,0,0.92) 223px,#000 237px)"></div>
<div style="top:734px;background:linear-gradient(90deg,rgba(0,0,0,0) 52px,rgba(0,0,0,0.05) 70px,rgba(0,0,0,0.15) 107px,rgba(0,0,0,0.3) 135px,rgba(0,0,0,0.5) 166px,rgba(0,0,0,0.75) 199px,rgba(0,0,0,0.92) 221px,#000 236px)"></div>
<div style="top:736px;background:linear-gradient(90deg,rgba(0,0,0,0) 47px,rgba(0,0,0,0.05) 66px,rgba(0,0,0,0.15) 103px,rgba(0,0,0,0.3) 131px,rgba(0,0,0,0.5) 163px,rgba(0,0,0,0.75) 196px,rgba(0,0,0,0.92) 219px,#000 234px)"></div>
<div style="top:738px;background:linear-gradient(90deg,rgba(0,0,0,0) 57px,rgba(0,0,0,0.05) 75px,rgba(0,0,0,0.15) 111px,rgba(0,0,0,0.3) 138px,rgba(0,0,0,0.5) 169px,rgba(0,0,0,0.75) 202px,rgba(0,0,0,0.92) 223px,#000 238px)"></div>
<div style="top:740px;background:linear-gradient(90deg,rgba(0,0,0,0) 50px,rgba(0,0,0,0.05) 69px,rgba(0,0,0,0.15) 106px,rgba(0,0,0,0.3) 134px,rgba(0,0,0,0.5) 165px,rgba(0,0,0,0.75) 198px,rgba(0,0,0,0.92) 220px,#000 235px)"></div>
<div style="top:742px;background:linear-gradient(90deg,rgba(0,0,0,0) 45px,rgba(0,0,0,0.05) 64px,rgba(0,0,0,0.15) 102px,rgba(0,0,0,0.3) 131px,rgba(0,0,0,0.5) 163px,rgba(0,0,0,0.75) 198px,rgba(0,0,0,0.92) 221px,#000 236px)"></div>
<div style="top:744px;background:linear-gradient(90deg,rgba(0,0,0,0) 50px,rgba(0,0,0,0.05) 70px,rgba(0,0,0,0.15) 109px,rgba(0,0,0,0.3) 138px,rgba(0,0,0,0.5) 171px,rgba(0,0,0,0.75) 206px,rgba(0,0,0,0.92) 229px,#000 245px)"></div>
<div style="top:746px;background:linear-gradient(90deg,rgba(0,0,0,0) 60px,rgba(0,0,0,0.05) 79px,rgba(0,0,0,0.15) 118px,rgba(0,0,0,0.3) 148px,rgba(0,0,0,0.5) 181px,rgba(0,0,0,0.75) 216px,rgba(0,0,0,0.92) 239px,#000 255px)"></div>
<div style="top:748px;background:linear-gradient(90deg,rgba(0,0,0,0) 59px,rgba(0,0,0,0.05) 79px,rgba(0,0,0,0.15) 118px,rgba(0,0,0,0.3) 147px,rgba(0,0,0,0.5) 180px,rgba(0,0,0,0.75) 215px,rgba(0,0,0,0.92) 239px,#000 255px)"></div>
<div style="top:750px;background:linear-gradient(90deg,rgba(0,0,0,0) 61px,rgba(0,0,0,0.05) 81px,rgba(0,0,0,0.15) 120px,rgba(0,0,0,0.3) 149px,rgba(0,0,0,0.5) 182px,rgba(0,0,0,0.75) 217px,rgba(0,0,0,0.92) 240px,#000 256px)"></div>
<div style="top:752px;background:linear-gradient(90deg,rgba(0,0,0,0) 60px,rgba(0,0,0,0.05) 79px,rgba(0,0,0,0.15) 118px,rgba(0,0,0,0.3) 148px,rgba(0,0,0,0.5) 181px,rgba(0,0,0,0.75) 216px,rgba(0,0,0,0.92) 239px,#000 255px)"></div>
<div style="top:754px;background:linear-gradient(90deg,rgba(0,0,0,0) 62px,rgba(0,0,0,0.05) 81px,rgba(0,0,0,0.15) 120px,rgba(0,0,0,0.3) 149px,rgba(0,0,0,0.5) 182px,rgba(0,0,0,0.75) 217px,rgba(0,0,0,0.92) 240px,#000 256px)"></div>
<div style="top:756px;background:linear-gradient(90deg,rgba(0,0,0,0) 59px,rgba(0,0,0,0.05) 78px,rgba(0,0,0,0.15) 118px,rgba(0,0,0,0.3) 147px,rgba(0,0,0,0.5) 180px,rgba(0,0,0,0.75) 215px,rgba(0,0,0,0.92) 239px,#000 255px)"></div>
<div style="top:758px;background:linear-gradient(90deg,rgba(0,0,0,0) 86px,rgba(0,0,0,0.05) 104px,rgba(0,0,0,0.15) 139px,rgba(0,0,0,0.3) 165px,rgba(0,0,0,0.5) 195px,rgba(0,0,0,0.75) 226px,rgba(0,0,0,0.92) 247px,#000 261px)"></div>
<div style="top:760px;background:linear-gradient(90deg,rgba(0,0,0,0) 139px,rgba(0,0,0,0.05) 153px,rgba(0,0,0,0.15) 181px,rgba(0,0,0,0.3) 202px,rgba(0,0,0,0.5) 225px,rgba(0,0,0,0.75) 250px,rgba(0,0,0,0.92) 267px,#000 278px)"></div>
<div style="top:762px;background:linear-gradient(90deg,rgba(0,0,0,0) 183px,rgba(0,0,0,0.05) 194px,rgba(0,0,0,0.15) 215px,rgba(0,0,0,0.3) 231px,rgba(0,0,0,0.5) 250px,rgba(0,0,0,0.75) 269px,rgba(0,0,0,0.92) 282px,#000 291px)"></div>
<div style="top:764px;background:linear-gradient(90deg,rgba(0,0,0,0) 215px,rgba(0,0,0,0.05) 223px,rgba(0,0,0,0.15) 238px,rgba(0,0,0,0.3) 250px,rgba(0,0,0,0.5) 263px,rgba(0,0,0,0.75) 277px,rgba(0,0,0,0.92) 286px,#000 292px)"></div>
<div style="top:766px;background:linear-gradient(90deg,rgba(0,0,0,0) 205px,rgba(0,0,0,0.05) 213px,rgba(0,0,0,0.15) 231px,rgba(0,0,0,0.3) 244px,rgba(0,0,0,0.5) 259px,rgba(0,0,0,0.75) 275px,rgba(0,0,0,0.92) 285px,#000 292px)"></div>
<div style="top:768px;background:linear-gradient(90deg,rgba(0,0,0,0) 163px,rgba(0,0,0,0.05) 174px,rgba(0,0,0,0.15) 198px,rgba(0,0,0,0.3) 215px,rgba(0,0,0,0.5) 235px,rgba(0,0,0,0.75) 256px,rgba(0,0,0,0.92) 270px,#000 279px)"></div>
<div style="top:770px;background:linear-gradient(90deg,rgba(0,0,0,0) 103px,rgba(0,0,0,0.05) 118px,rgba(0,0,0,0.15) 149px,rgba(0,0,0,0.3) 172px,rgba(0,0,0,0.5) 198px,rgba(0,0,0,0.75) 226px,rgba(0,0,0,0.92) 245px,#000 257px)"></div>
<div style="top:772px;background:linear-gradient(90deg,rgba(0,0,0,0) 47px,rgba(0,0,0,0.05) 66px,rgba(0,0,0,0.15) 104px,rgba(0,0,0,0.3) 132px,rgba(0,0,0,0.5) 164px,rgba(0,0,0,0.75) 199px,rgba(0,0,0,0.92) 221px,#000 237px)"></div>
<div style="top:774px;background:linear-gradient(90deg,rgba(0,0,0,0) 41px,rgba(0,0,0,0.05) 60px,rgba(0,0,0,0.15) 99px,rgba(0,0,0,0.3) 128px,rgba(0,0,0,0.5) 161px,rgba(0,0,0,0.75) 196px,rgba(0,0,0,0.92) 220px,#000 235px)"></div>
<div style="top:776px;background:linear-gradient(90deg,rgba(0,0,0,0) 33px,rgba(0,0,0,0.05) 53px,rgba(0,0,0,0.15) 92px,rgba(0,0,0,0.3) 122px,rgba(0,0,0,0.5) 156px,rgba(0,0,0,0.75) 192px,rgba(0,0,0,0.92) 216px,#000 232px)"></div>
<div style="top:778px;background:linear-gradient(90deg,rgba(0,0,0,0) 48px,rgba(0,0,0,0.05) 67px,rgba(0,0,0,0.15) 105px,rgba(0,0,0,0.3) 134px,rgba(0,0,0,0.5) 166px,rgba(0,0,0,0.75) 200px,rgba(0,0,0,0.92) 223px,#000 238px)"></div>
<div style="top:780px;background:linear-gradient(90deg,rgba(0,0,0,0) 33px,rgba(0,0,0,0.05) 53px,rgba(0,0,0,0.15) 92px,rgba(0,0,0,0.3) 122px,rgba(0,0,0,0.5) 156px,rgba(0,0,0,0.75) 191px,rgba(0,0,0,0.92) 215px,#000 231px)"></div>
<div style="top:782px;background:linear-gradient(90deg,rgba(0,0,0,0) 19px,rgba(0,0,0,0.05) 40px,rgba(0,0,0,0.15) 81px,rgba(0,0,0,0.3) 112px,rgba(0,0,0,0.5) 147px,rgba(0,0,0,0.75) 184px,rgba(0,0,0,0.92) 209px,#000 226px)"></div>
<div style="top:784px;background:linear-gradient(90deg,rgba(0,0,0,0) 34px,rgba(0,0,0,0.05) 54px,rgba(0,0,0,0.15) 93px,rgba(0,0,0,0.3) 123px,rgba(0,0,0,0.5) 156px,rgba(0,0,0,0.75) 192px,rgba(0,0,0,0.92) 216px,#000 231px)"></div>
<div style="top:786px;background:linear-gradient(90deg,rgba(0,0,0,0) 59px,rgba(0,0,0,0.05) 77px,rgba(0,0,0,0.15) 113px,rgba(0,0,0,0.3) 141px,rgba(0,0,0,0.5) 172px,rgba(0,0,0,0.75) 204px,rgba(0,0,0,0.92) 226px,#000 241px)"></div>
<div style="top:788px;background:linear-gradient(90deg,rgba(0,0,0,0) 42px,rgba(0,0,0,0.05) 61px,rgba(0,0,0,0.15) 99px,rgba(0,0,0,0.3) 128px,rgba(0,0,0,0.5) 161px,rgba(0,0,0,0.75) 195px,rgba(0,0,0,0.92) 218px,#000 234px)"></div>
<div style="top:790px;background:linear-gradient(90deg,rgba(0,0,0,0) 34px,rgba(0,0,0,0.05) 53px,rgba(0,0,0,0.15) 92px,rgba(0,0,0,0.3) 122px,rgba(0,0,0,0.5) 155px,rgba(0,0,0,0.75) 191px,rgba(0,0,0,0.92) 214px,#000 230px)"></div>
<div style="top:792px;background:linear-gradient(90deg,rgba(0,0,0,0) 40px,rgba(0,0,0,0.05) 59px,rgba(0,0,0,0.15) 97px,rgba(0,0,0,0.3) 126px,rgba(0,0,0,0.5) 159px,rgba(0,0,0,0.75) 194px,rgba(0,0,0,0.92) 217px,#000 232px)"></div>
<div style="top:794px;background:linear-gradient(90deg,rgba(0,0,0,0) 52px,rgba(0,0,0,0.05) 70px,rgba(0,0,0,0.15) 107px,rgba(0,0,0,0.3) 135px,rgba(0,0,0,0.5) 167px,rgba(0,0,0,0.75) 200px,rgba(0,0,0,0.92) 222px,#000 237px)"></div>
<div style="top:796px;background:linear-gradient(90deg,rgba(0,0,0,0) 52px,rgba(0,0,0,0.05) 71px,rgba(0,0,0,0.15) 108px,rgba(0,0,0,0.3) 135px,rgba(0,0,0,0.5) 167px,rgba(0,0,0,0.75) 200px,rgba(0,0,0,0.92) 222px,#000 237px)"></div>
<div style="top:798px;background:linear-gradient(90deg,rgba(0,0,0,0) 50px,rgba(0,0,0,0.05) 69px,rgba(0,0,0,0.15) 106px,rgba(0,0,0,0.3) 134px,rgba(0,0,0,0.5) 165px,rgba(0,0,0,0.75) 199px,rgba(0,0,0,0.92) 221px,#000 236px)"></div>
<div style="top:800px;background:linear-gradient(90deg,rgba(0,0,0,0) 63px,rgba(0,0,0,0.05) 80px,rgba(0,0,0,0.15) 116px,rgba(0,0,0,0.3) 143px,rgba(0,0,0,0.5) 173px,rgba(0,0,0,0.75) 205px,rgba(0,0,0,0.92) 226px,#000 240px)"></div>
<div style="top:802px;background:linear-gradient(90deg,rgba(0,0,0,0) 56px,rgba(0,0,0,0.05) 74px,rgba(0,0,0,0.15) 111px,rgba(0,0,0,0.3) 138px,rgba(0,0,0,0.5) 169px,rgba(0,0,0,0.75) 201px,rgba(0,0,0,0.92) 223px,#000 238px)"></div>
<div style="top:804px;background:linear-gradient(90deg,rgba(0,0,0,0) 53px,rgba(0,0,0,0.05) 72px,rgba(0,0,0,0.15) 109px,rgba(0,0,0,0.3) 138px,rgba(0,0,0,0.5) 170px,rgba(0,0,0,0.75) 204px,rgba(0,0,0,0.92) 227px,#000 242px)"></div>
<div style="top:806px;background:linear-gradient(90deg,rgba(0,0,0,0) 61px,rgba(0,0,0,0.05) 80px,rgba(0,0,0,0.15) 118px,rgba(0,0,0,0.3) 147px,rgba(0,0,0,0.5) 179px,rgba(0,0,0,0.75) 213px,rgba(0,0,0,0.92) 236px,#000 251px)"></div>
<div style="top:808px;background:linear-gradient(90deg,rgba(0,0,0,0) 73px,rgba(0,0,0,0.05) 92px,rgba(0,0,0,0.15) 130px,rgba(0,0,0,0.3) 158px,rgba(0,0,0,0.5) 191px,rgba(0,0,0,0.75) 225px,rgba(0,0,0,0.92) 247px,#000 262px)"></div>
<div style="top:810px;background:linear-gradient(90deg,rgba(0,0,0,0) 69px,rgba(0,0,0,0.05) 88px,rgba(0,0,0,0.15) 127px,rgba(0,0,0,0.3) 156px,rgba(0,0,0,0.5) 189px,rgba(0,0,0,0.75) 225px,rgba(0,0,0,0.92) 248px,#000 263px)"></div>
<div style="top:812px;background:linear-gradient(90deg,rgba(0,0,0,0) 69px,rgba(0,0,0,0.05) 89px,rgba(0,0,0,0.15) 128px,rgba(0,0,0,0.3) 157px,rgba(0,0,0,0.5) 190px,rgba(0,0,0,0.75) 225px,rgba(0,0,0,0.92) 248px,#000 264px)"></div>
<div style="top:814px;background:linear-gradient(90deg,rgba(0,0,0,0) 50px,rgba(0,0,0,0.05) 71px,rgba(0,0,0,0.15) 112px,rgba(0,0,0,0.3) 143px,rgba(0,0,0,0.5) 178px,rgba(0,0,0,0.75) 215px,rgba(0,0,0,0.92) 240px,#000 256px)"></div>
<div style="top:816px;background:linear-gradient(90deg,rgba(0,0,0,0) 59px,rgba(0,0,0,0.05) 79px,rgba(0,0,0,0.15) 119px,rgba(0,0,0,0.3) 149px,rgba(0,0,0,0.5) 183px,rgba(0,0,0,0.75) 219px,rgba(0,0,0,0.92) 243px,#000 259px)"></div>
<div style="top:818px;background:linear-gradient(90deg,rgba(0,0,0,0) 67px,rgba(0,0,0,0.05) 86px,rgba(0,0,0,0.15) 125px,rgba(0,0,0,0.3) 155px,rgba(0,0,0,0.5) 188px,rgba(0,0,0,0.75) 223px,rgba(0,0,0,0.92) 247px,#000 263px)"></div>
<div style="top:820px;background:linear-gradient(90deg,rgba(0,0,0,0) 57px,rgba(0,0,0,0.05) 77px,rgba(0,0,0,0.15) 118px,rgba(0,0,0,0.3) 148px,rgba(0,0,0,0.5) 182px,rgba(0,0,0,0.75) 219px,rgba(0,0,0,0.92) 243px,#000 259px)"></div>
<div style="top:822px;background:linear-gradient(90deg,rgba(0,0,0,0) 70px,rgba(0,0,0,0.05) 89px,rgba(0,0,0,0.15) 128px,rgba(0,0,0,0.3) 157px,rgba(0,0,0,0.5) 190px,rgba(0,0,0,0.75) 225px,rgba(0,0,0,0.92) 248px,#000 264px)"></div>
<div style="top:824px;background:linear-gradient(90deg,rgba(0,0,0,0) 65px,rgba(0,0,0,0.05) 85px,rgba(0,0,0,0.15) 124px,rgba(0,0,0,0.3) 154px,rgba(0,0,0,0.5) 187px,rgba(0,0,0,0.75) 223px,rgba(0,0,0,0.92) 246px,#000 262px)"></div>
<div style="top:826px;background:linear-gradient(90deg,rgba(0,0,0,0) 92px,rgba(0,0,0,0.05) 109px,rgba(0,0,0,0.15) 145px,rgba(0,0,0,0.3) 172px,rgba(0,0,0,0.5) 202px,rgba(0,0,0,0.75) 234px,rgba(0,0,0,0.92) 256px,#000 270px)"></div>
<div style="top:828px;background:linear-gradient(90deg,rgba(0,0,0,0) 105px,rgba(0,0,0,0.05) 122px,rgba(0,0,0,0.15) 155px,rgba(0,0,0,0.3) 180px,rgba(0,0,0,0.5) 209px,rgba(0,0,0,0.75) 239px,rgba(0,0,0,0.92) 259px,#000 273px)"></div>
<div style="top:830px;background:linear-gradient(90deg,rgba(0,0,0,0) 153px,rgba(0,0,0,0.05) 167px,rgba(0,0,0,0.15) 194px,rgba(0,0,0,0.3) 214px,rgba(0,0,0,0.5) 237px,rgba(0,0,0,0.75) 262px,rgba(0,0,0,0.92) 278px,#000 289px)"></div>
<div style="top:832px;background:linear-gradient(90deg,rgba(0,0,0,0) 157px,rgba(0,0,0,0.05) 170px,rgba(0,0,0,0.15) 196px,rgba(0,0,0,0.3) 216px,rgba(0,0,0,0.5) 238px,rgba(0,0,0,0.75) 262px,rgba(0,0,0,0.92) 277px,#000 288px)"></div>
<div style="top:834px;background:linear-gradient(90deg,rgba(0,0,0,0) 159px,rgba(0,0,0,0.05) 172px,rgba(0,0,0,0.15) 197px,rgba(0,0,0,0.3) 216px,rgba(0,0,0,0.5) 238px,rgba(0,0,0,0.75) 261px,rgba(0,0,0,0.92) 276px,#000 286px)"></div>
<div style="top:836px;background:linear-gradient(90deg,rgba(0,0,0,0) 177px,rgba(0,0,0,0.05) 189px,rgba(0,0,0,0.15) 211px,rgba(0,0,0,0.3) 228px,rgba(0,0,0,0.5) 247px,rgba(0,0,0,0.75) 268px,rgba(0,0,0,0.92) 281px,#000 290px)"></div>
<div style="top:838px;background:linear-gradient(90deg,rgba(0,0,0,0) 216px,rgba(0,0,0,0.05) 223px,rgba(0,0,0,0.15) 239px,rgba(0,0,0,0.3) 250px,rgba(0,0,0,0.5) 263px,rgba(0,0,0,0.75) 277px,rgba(0,0,0,0.92) 286px,#000 292px)"></div>
<div style="top:840px;background:linear-gradient(90deg,rgba(0,0,0,0) 188px,rgba(0,0,0,0.05) 199px,rgba(0,0,0,0.15) 219px,rgba(0,0,0,0.3) 235px,rgba(0,0,0,0.5) 252px,rgba(0,0,0,0.75) 271px,rgba(0,0,0,0.92) 283px,#000 292px)"></div>
<div style="top:842px;background:linear-gradient(90deg,rgba(0,0,0,0) 182px,rgba(0,0,0,0.05) 193px,rgba(0,0,0,0.15) 215px,rgba(0,0,0,0.3) 231px,rgba(0,0,0,0.5) 250px,rgba(0,0,0,0.75) 270px,rgba(0,0,0,0.92) 283px,#000 292px)"></div>
<div style="top:844px;background:linear-gradient(90deg,rgba(0,0,0,0) 166px,rgba(0,0,0,0.05) 178px,rgba(0,0,0,0.15) 203px,rgba(0,0,0,0.3) 221px,rgba(0,0,0,0.5) 242px,rgba(0,0,0,0.75) 263px,rgba(0,0,0,0.92) 278px,#000 288px)"></div>
<div style="top:846px;background:linear-gradient(90deg,rgba(0,0,0,0) 140px,rgba(0,0,0,0.05) 154px,rgba(0,0,0,0.15) 182px,rgba(0,0,0,0.3) 203px,rgba(0,0,0,0.5) 227px,rgba(0,0,0,0.75) 252px,rgba(0,0,0,0.92) 269px,#000 280px)"></div>
<div style="top:848px;background:linear-gradient(90deg,rgba(0,0,0,0) 141px,rgba(0,0,0,0.05) 155px,rgba(0,0,0,0.15) 182px,rgba(0,0,0,0.3) 203px,rgba(0,0,0,0.5) 226px,rgba(0,0,0,0.75) 251px,rgba(0,0,0,0.92) 268px,#000 279px)"></div>
<div style="top:850px;background:linear-gradient(90deg,rgba(0,0,0,0) 165px,rgba(0,0,0,0.05) 177px,rgba(0,0,0,0.15) 201px,rgba(0,0,0,0.3) 220px,rgba(0,0,0,0.5) 240px,rgba(0,0,0,0.75) 262px,rgba(0,0,0,0.92) 277px,#000 286px)"></div>
<div style="top:852px;background:linear-gradient(90deg,rgba(0,0,0,0) 178px,rgba(0,0,0,0.05) 189px,rgba(0,0,0,0.15) 212px,rgba(0,0,0,0.3) 228px,rgba(0,0,0,0.5) 247px,rgba(0,0,0,0.75) 267px,rgba(0,0,0,0.92) 281px,#000 290px)"></div>
<div style="top:854px;background:linear-gradient(90deg,rgba(0,0,0,0) 197px,rgba(0,0,0,0.05) 206px,rgba(0,0,0,0.15) 225px,rgba(0,0,0,0.3) 240px,rgba(0,0,0,0.5) 256px,rgba(0,0,0,0.75) 273px,rgba(0,0,0,0.92) 284px,#000 292px)"></div>
<div style="top:856px;background:linear-gradient(90deg,rgba(0,0,0,0) 205px,rgba(0,0,0,0.05) 214px,rgba(0,0,0,0.15) 231px,rgba(0,0,0,0.3) 244px,rgba(0,0,0,0.5) 259px,rgba(0,0,0,0.75) 275px,rgba(0,0,0,0.92) 285px,#000 292px)"></div>
<div style="top:858px;background:linear-gradient(90deg,rgba(0,0,0,0) 210px,rgba(0,0,0,0.05) 218px,rgba(0,0,0,0.15) 235px,rgba(0,0,0,0.3) 247px,rgba(0,0,0,0.5) 261px,rgba(0,0,0,0.75) 276px,rgba(0,0,0,0.92) 285px,#000 292px)"></div>
<div style="top:860px;background:linear-gradient(90deg,rgba(0,0,0,0) 175px,rgba(0,0,0,0.05) 186px,rgba(0,0,0,0.15) 209px,rgba(0,0,0,0.3) 226px,rgba(0,0,0,0.5) 245px,rgba(0,0,0,0.75) 265px,rgba(0,0,0,0.92) 278px,#000 287px)"></div>
<div style="top:862px;background:linear-gradient(90deg,rgba(0,0,0,0) 130px,rgba(0,0,0,0.05) 144px,rgba(0,0,0,0.15) 173px,rgba(0,0,0,0.3) 194px,rgba(0,0,0,0.5) 219px,rgba(0,0,0,0.75) 244px,rgba(0,0,0,0.92) 261px,#000 273px)"></div>
<div style="top:864px;background:linear-gradient(90deg,rgba(0,0,0,0) 84px,rgba(0,0,0,0.05) 102px,rgba(0,0,0,0.15) 137px,rgba(0,0,0,0.3) 163px,rgba(0,0,0,0.5) 192px,rgba(0,0,0,0.75) 224px,rgba(0,0,0,0.92) 245px,#000 259px)"></div>
<div style="top:866px;background:linear-gradient(90deg,rgba(0,0,0,0) 40px,rgba(0,0,0,0.05) 61px,rgba(0,0,0,0.15) 102px,rgba(0,0,0,0.3) 133px,rgba(0,0,0,0.5) 167px,rgba(0,0,0,0.75) 204px,rgba(0,0,0,0.92) 229px,#000 245px)"></div>
<div style="top:868px;background:linear-gradient(90deg,rgba(0,0,0,0) 38px,rgba(0,0,0,0.05) 58px,rgba(0,0,0,0.15) 100px,rgba(0,0,0,0.3) 131px,rgba(0,0,0,0.5) 166px,rgba(0,0,0,0.75) 203px,rgba(0,0,0,0.92) 228px,#000 244px)"></div>
<div style="top:870px;background:linear-gradient(90deg,rgba(0,0,0,0) 46px,rgba(0,0,0,0.05) 66px,rgba(0,0,0,0.15) 107px,rgba(0,0,0,0.3) 137px,rgba(0,0,0,0.5) 171px,rgba(0,0,0,0.75) 207px,rgba(0,0,0,0.92) 231px,#000 247px)"></div>
<div style="top:872px;background:linear-gradient(90deg,rgba(0,0,0,0) 31px,rgba(0,0,0,0.05) 52px,rgba(0,0,0,0.15) 94px,rgba(0,0,0,0.3) 125px,rgba(0,0,0,0.5) 161px,rgba(0,0,0,0.75) 199px,rgba(0,0,0,0.92) 224px,#000 241px)"></div>
<div style="top:874px;background:linear-gradient(90deg,rgba(0,0,0,0) 34px,rgba(0,0,0,0.05) 55px,rgba(0,0,0,0.15) 97px,rgba(0,0,0,0.3) 128px,rgba(0,0,0,0.5) 164px,rgba(0,0,0,0.75) 201px,rgba(0,0,0,0.92) 226px,#000 243px)"></div>
<div style="top:876px;background:linear-gradient(90deg,rgba(0,0,0,0) 40px,rgba(0,0,0,0.05) 61px,rgba(0,0,0,0.15) 102px,rgba(0,0,0,0.3) 132px,rgba(0,0,0,0.5) 167px,rgba(0,0,0,0.75) 204px,rgba(0,0,0,0.92) 229px,#000 245px)"></div>
<div style="top:878px;background:linear-gradient(90deg,rgba(0,0,0,0) 27px,rgba(0,0,0,0.05) 48px,rgba(0,0,0,0.15) 91px,rgba(0,0,0,0.3) 123px,rgba(0,0,0,0.5) 159px,rgba(0,0,0,0.75) 197px,rgba(0,0,0,0.92) 223px,#000 240px)"></div>
<div style="top:880px;background:linear-gradient(90deg,rgba(0,0,0,0) 34px,rgba(0,0,0,0.05) 55px,rgba(0,0,0,0.15) 97px,rgba(0,0,0,0.3) 128px,rgba(0,0,0,0.5) 163px,rgba(0,0,0,0.75) 201px,rgba(0,0,0,0.92) 226px,#000 242px)"></div>
<div style="top:882px;background:linear-gradient(90deg,rgba(0,0,0,0) 16px,rgba(0,0,0,0.05) 38px,rgba(0,0,0,0.15) 82px,rgba(0,0,0,0.3) 114px,rgba(0,0,0,0.5) 152px,rgba(0,0,0,0.75) 191px,rgba(0,0,0,0.92) 217px,#000 235px)"></div>
<div style="top:884px;background:linear-gradient(90deg,rgba(0,0,0,0) 24px,rgba(0,0,0,0.05) 45px,rgba(0,0,0,0.15) 88px,rgba(0,0,0,0.3) 120px,rgba(0,0,0,0.5) 156px,rgba(0,0,0,0.75) 195px,rgba(0,0,0,0.92) 220px,#000 238px)"></div>
<div style="top:886px;background:linear-gradient(90deg,rgba(0,0,0,0) 35px,rgba(0,0,0,0.05) 56px,rgba(0,0,0,0.15) 97px,rgba(0,0,0,0.3) 128px,rgba(0,0,0,0.5) 163px,rgba(0,0,0,0.75) 201px,rgba(0,0,0,0.92) 225px,#000 242px)"></div>
<div style="top:888px;background:linear-gradient(90deg,rgba(0,0,0,0) 35px,rgba(0,0,0,0.05) 56px,rgba(0,0,0,0.15) 97px,rgba(0,0,0,0.3) 128px,rgba(0,0,0,0.5) 163px,rgba(0,0,0,0.75) 201px,rgba(0,0,0,0.92) 225px,#000 242px)"></div>
<div style="top:890px;background:linear-gradient(90deg,rgba(0,0,0,0) 30px,rgba(0,0,0,0.05) 51px,rgba(0,0,0,0.15) 93px,rgba(0,0,0,0.3) 124px,rgba(0,0,0,0.5) 160px,rgba(0,0,0,0.75) 198px,rgba(0,0,0,0.92) 223px,#000 240px)"></div>
<div style="top:892px;background:linear-gradient(90deg,rgba(0,0,0,0) 28px,rgba(0,0,0,0.05) 49px,rgba(0,0,0,0.15) 91px,rgba(0,0,0,0.3) 123px,rgba(0,0,0,0.5) 159px,rgba(0,0,0,0.75) 197px,rgba(0,0,0,0.92) 222px,#000 239px)"></div>
<div style="top:894px;background:linear-gradient(90deg,rgba(0,0,0,0) 17px,rgba(0,0,0,0.05) 39px,rgba(0,0,0,0.15) 83px,rgba(0,0,0,0.3) 115px,rgba(0,0,0,0.5) 152px,rgba(0,0,0,0.75) 191px,rgba(0,0,0,0.92) 217px,#000 235px)"></div>
<div style="top:896px;background:linear-gradient(90deg,rgba(0,0,0,0) 46px,rgba(0,0,0,0.05) 66px,rgba(0,0,0,0.15) 106px,rgba(0,0,0,0.3) 137px,rgba(0,0,0,0.5) 171px,rgba(0,0,0,0.75) 207px,rgba(0,0,0,0.92) 231px,#000 247px)"></div>
<div style="top:898px;background:linear-gradient(90deg,rgba(0,0,0,0) 48px,rgba(0,0,0,0.05) 68px,rgba(0,0,0,0.15) 108px,rgba(0,0,0,0.3) 138px,rgba(0,0,0,0.5) 172px,rgba(0,0,0,0.75) 208px,rgba(0,0,0,0.92) 232px,#000 249px)"></div>
<div style="top:900px;background:linear-gradient(90deg,rgba(0,0,0,0) 67px,rgba(0,0,0,0.05) 86px,rgba(0,0,0,0.15) 124px,rgba(0,0,0,0.3) 152px,rgba(0,0,0,0.5) 185px,rgba(0,0,0,0.75) 219px,rgba(0,0,0,0.92) 242px,#000 257px)"></div>
<div style="top:902px;background:linear-gradient(90deg,rgba(0,0,0,0) 62px,rgba(0,0,0,0.05) 82px,rgba(0,0,0,0.15) 120px,rgba(0,0,0,0.3) 150px,rgba(0,0,0,0.5) 183px,rgba(0,0,0,0.75) 218px,rgba(0,0,0,0.92) 241px,#000 257px)"></div>
<div style="top:904px;background:linear-gradient(90deg,rgba(0,0,0,0) 68px,rgba(0,0,0,0.05) 87px,rgba(0,0,0,0.15) 126px,rgba(0,0,0,0.3) 154px,rgba(0,0,0,0.5) 187px,rgba(0,0,0,0.75) 221px,rgba(0,0,0,0.92) 244px,#000 259px)"></div>
<div style="top:906px;background:linear-gradient(90deg,rgba(0,0,0,0) 54px,rgba(0,0,0,0.05) 74px,rgba(0,0,0,0.15) 114px,rgba(0,0,0,0.3) 144px,rgba(0,0,0,0.5) 178px,rgba(0,0,0,0.75) 213px,rgba(0,0,0,0.92) 237px,#000 253px)"></div>
<div style="top:908px;background:linear-gradient(90deg,rgba(0,0,0,0) 77px,rgba(0,0,0,0.05) 96px,rgba(0,0,0,0.15) 133px,rgba(0,0,0,0.3) 161px,rgba(0,0,0,0.5) 192px,rgba(0,0,0,0.75) 226px,rgba(0,0,0,0.92) 248px,#000 263px)"></div>
<div style="top:910px;background:linear-gradient(90deg,rgba(0,0,0,0) 78px,rgba(0,0,0,0.05) 97px,rgba(0,0,0,0.15) 134px,rgba(0,0,0,0.3) 162px,rgba(0,0,0,0.5) 193px,rgba(0,0,0,0.75) 226px,rgba(0,0,0,0.92) 249px,#000 263px)"></div>
<div style="top:912px;background:linear-gradient(90deg,rgba(0,0,0,0) 53px,rgba(0,0,0,0.05) 73px,rgba(0,0,0,0.15) 113px,rgba(0,0,0,0.3) 143px,rgba(0,0,0,0.5) 177px,rgba(0,0,0,0.75) 213px,rgba(0,0,0,0.92) 237px,#000 253px)"></div>
<div style="top:914px;background:linear-gradient(90deg,rgba(0,0,0,0) 85px,rgba(0,0,0,0.05) 102px,rgba(0,0,0,0.15) 138px,rgba(0,0,0,0.3) 165px,rgba(0,0,0,0.5) 196px,rgba(0,0,0,0.75) 228px,rgba(0,0,0,0.92) 250px,#000 264px)"></div>
<div style="top:916px;background:linear-gradient(90deg,rgba(0,0,0,0) 121px,rgba(0,0,0,0.05) 136px,rgba(0,0,0,0.15) 167px,rgba(0,0,0,0.3) 190px,rgba(0,0,0,0.5) 217px,rgba(0,0,0,0.75) 244px,rgba(0,0,0,0.92) 263px,#000 275px)"></div>
<div style="top:918px;background:linear-gradient(90deg,rgba(0,0,0,0) 129px,rgba(0,0,0,0.05) 144px,rgba(0,0,0,0.15) 173px,rgba(0,0,0,0.3) 195px,rgba(0,0,0,0.5) 220px,rgba(0,0,0,0.75) 246px,rgba(0,0,0,0.92) 264px,#000 276px)"></div>
<div style="top:920px;background:linear-gradient(90deg,rgba(0,0,0,0) 159px,rgba(0,0,0,0.05) 171px,rgba(0,0,0,0.15) 196px,rgba(0,0,0,0.3) 215px,rgba(0,0,0,0.5) 236px,rgba(0,0,0,0.75) 259px,rgba(0,0,0,0.92) 274px,#000 284px)"></div>
<div style="top:922px;background:linear-gradient(90deg,rgba(0,0,0,0) 173px,rgba(0,0,0,0.05) 185px,rgba(0,0,0,0.15) 208px,rgba(0,0,0,0.3) 225px,rgba(0,0,0,0.5) 245px,rgba(0,0,0,0.75) 266px,rgba(0,0,0,0.92) 280px,#000 289px)"></div>
<div style="top:924px;background:linear-gradient(90deg,rgba(0,0,0,0) 162px,rgba(0,0,0,0.05) 174px,rgba(0,0,0,0.15) 199px,rgba(0,0,0,0.3) 218px,rgba(0,0,0,0.5) 240px,rgba(0,0,0,0.75) 262px,rgba(0,0,0,0.92) 277px,#000 287px)"></div>
<div style="top:926px;background:linear-gradient(90deg,rgba(0,0,0,0) 140px,rgba(0,0,0,0.05) 154px,rgba(0,0,0,0.15) 182px,rgba(0,0,0,0.3) 203px,rgba(0,0,0,0.5) 227px,rgba(0,0,0,0.75) 252px,rgba(0,0,0,0.92) 269px,#000 281px)"></div>
<div style="top:928px;background:linear-gradient(90deg,rgba(0,0,0,0) 138px,rgba(0,0,0,0.05) 152px,rgba(0,0,0,0.15) 181px,rgba(0,0,0,0.3) 203px,rgba(0,0,0,0.5) 227px,rgba(0,0,0,0.75) 253px,rgba(0,0,0,0.92) 270px,#000 282px)"></div>
<div style="top:930px;background:linear-gradient(90deg,rgba(0,0,0,0) 139px,rgba(0,0,0,0.05) 154px,rgba(0,0,0,0.15) 182px,rgba(0,0,0,0.3) 204px,rgba(0,0,0,0.5) 228px,rgba(0,0,0,0.75) 254px,rgba(0,0,0,0.92) 271px,#000 282px)"></div>
<div style="top:932px;background:linear-gradient(90deg,rgba(0,0,0,0) 157px,rgba(0,0,0,0.05) 170px,rgba(0,0,0,0.15) 196px,rgba(0,0,0,0.3) 216px,rgba(0,0,0,0.5) 238px,rgba(0,0,0,0.75) 261px,rgba(0,0,0,0.92) 277px,#000 287px)"></div>
<div style="top:934px;background:linear-gradient(90deg,rgba(0,0,0,0) 172px,rgba(0,0,0,0.05) 184px,rgba(0,0,0,0.15) 208px,rgba(0,0,0,0.3) 225px,rgba(0,0,0,0.5) 245px,rgba(0,0,0,0.75) 267px,rgba(0,0,0,0.92) 281px,#000 290px)"></div>
<div style="top:936px;background:linear-gradient(90deg,rgba(0,0,0,0) 194px,rgba(0,0,0,0.05) 203px,rgba(0,0,0,0.15) 223px,rgba(0,0,0,0.3) 238px,rgba(0,0,0,0.5) 255px,rgba(0,0,0,0.75) 272px,rgba(0,0,0,0.92) 284px,#000 292px)"></div>
<div style="top:938px;background:linear-gradient(90deg,rgba(0,0,0,0) 205px,rgba(0,0,0,0.05) 213px,rgba(0,0,0,0.15) 231px,rgba(0,0,0,0.3) 244px,rgba(0,0,0,0.5) 259px,rgba(0,0,0,0.75) 275px,rgba(0,0,0,0.92) 285px,#000 292px)"></div>
<div style="top:940px;background:linear-gradient(90deg,rgba(0,0,0,0) 197px,rgba(0,0,0,0.05) 206px,rgba(0,0,0,0.15) 225px,rgba(0,0,0,0.3) 240px,rgba(0,0,0,0.5) 256px,rgba(0,0,0,0.75) 273px,rgba(0,0,0,0.92) 284px,#000 292px)"></div>
<div style="top:942px;background:linear-gradient(90deg,rgba(0,0,0,0) 218px,rgba(0,0,0,0.05) 226px,rgba(0,0,0,0.15) 240px,rgba(0,0,0,0.3) 251px,rgba(0,0,0,0.5) 264px,rgba(0,0,0,0.75) 277px,rgba(0,0,0,0.92) 286px,#000 292px)"></div>
<div style="top:944px;background:linear-gradient(90deg,rgba(0,0,0,0) 210px,rgba(0,0,0,0.05) 219px,rgba(0,0,0,0.15) 235px,rgba(0,0,0,0.3) 247px,rgba(0,0,0,0.5) 261px,rgba(0,0,0,0.75) 276px,rgba(0,0,0,0.92) 285px,#000 292px)"></div>
<div style="top:946px;background:linear-gradient(90deg,rgba(0,0,0,0) 190px,rgba(0,0,0,0.05) 200px,rgba(0,0,0,0.15) 220px,rgba(0,0,0,0.3) 236px,rgba(0,0,0,0.5) 253px,rgba(0,0,0,0.75) 271px,rgba(0,0,0,0.92) 283px,#000 291px)"></div>
<div style="top:948px;background:linear-gradient(90deg,rgba(0,0,0,0) 179px,rgba(0,0,0,0.05) 190px,rgba(0,0,0,0.15) 212px,rgba(0,0,0,0.3) 229px,rgba(0,0,0,0.5) 248px,rgba(0,0,0,0.75) 267px,rgba(0,0,0,0.92) 281px,#000 289px)"></div>
<div style="top:950px;background:linear-gradient(90deg,rgba(0,0,0,0) 160px,rgba(0,0,0,0.05) 173px,rgba(0,0,0,0.15) 197px,rgba(0,0,0,0.3) 216px,rgba(0,0,0,0.5) 237px,rgba(0,0,0,0.75) 260px,rgba(0,0,0,0.92) 275px,#000 285px)"></div>
<div style="top:952px;background:linear-gradient(90deg,rgba(0,0,0,0) 144px,rgba(0,0,0,0.05) 158px,rgba(0,0,0,0.15) 186px,rgba(0,0,0,0.3) 206px,rgba(0,0,0,0.5) 230px,rgba(0,0,0,0.75) 254px,rgba(0,0,0,0.92) 271px,#000 282px)"></div>
<div style="top:954px;background:linear-gradient(90deg,rgba(0,0,0,0) 106px,rgba(0,0,0,0.05) 122px,rgba(0,0,0,0.15) 155px,rgba(0,0,0,0.3) 179px,rgba(0,0,0,0.5) 207px,rgba(0,0,0,0.75) 237px,rgba(0,0,0,0.92) 256px,#000 269px)"></div>
<div style="top:956px;background:linear-gradient(90deg,rgba(0,0,0,0) 109px,rgba(0,0,0,0.05) 125px,rgba(0,0,0,0.15) 157px,rgba(0,0,0,0.3) 182px,rgba(0,0,0,0.5) 209px,rgba(0,0,0,0.75) 238px,rgba(0,0,0,0.92) 258px,#000 271px)"></div>
<div style="top:958px;background:linear-gradient(90deg,rgba(0,0,0,0) 120px,rgba(0,0,0,0.05) 135px,rgba(0,0,0,0.15) 166px,rgba(0,0,0,0.3) 190px,rgba(0,0,0,0.5) 216px,rgba(0,0,0,0.75) 244px,rgba(0,0,0,0.92) 263px,#000 275px)"></div>
<div style="top:960px;background:linear-gradient(90deg,rgba(0,0,0,0) 118px,rgba(0,0,0,0.05) 134px,rgba(0,0,0,0.15) 165px,rgba(0,0,0,0.3) 188px,rgba(0,0,0,0.5) 215px,rgba(0,0,0,0.75) 243px,rgba(0,0,0,0.92) 262px,#000 274px)"></div>
<div style="top:962px;background:linear-gradient(90deg,rgba(0,0,0,0) 101px,rgba(0,0,0,0.05) 117px,rgba(0,0,0,0.15) 151px,rgba(0,0,0,0.3) 176px,rgba(0,0,0,0.5) 204px,rgba(0,0,0,0.75) 234px,rgba(0,0,0,0.92) 254px,#000 267px)"></div>
<div style="top:964px;background:linear-gradient(90deg,rgba(0,0,0,0) 86px,rgba(0,0,0,0.05) 104px,rgba(0,0,0,0.15) 139px,rgba(0,0,0,0.3) 165px,rgba(0,0,0,0.5) 195px,rgba(0,0,0,0.75) 226px,rgba(0,0,0,0.92) 247px,#000 261px)"></div>
<div style="top:966px;background:linear-gradient(90deg,rgba(0,0,0,0) 63px,rgba(0,0,0,0.05) 82px,rgba(0,0,0,0.15) 120px,rgba(0,0,0,0.3) 148px,rgba(0,0,0,0.5) 180px,rgba(0,0,0,0.75) 214px,rgba(0,0,0,0.92) 237px,#000 252px)"></div>
<div style="top:968px;background:linear-gradient(90deg,rgba(0,0,0,0) 76px,rgba(0,0,0,0.05) 94px,rgba(0,0,0,0.15) 131px,rgba(0,0,0,0.3) 158px,rgba(0,0,0,0.5) 189px,rgba(0,0,0,0.75) 221px,rgba(0,0,0,0.92) 243px,#000 258px)"></div>
<div style="top:970px;background:linear-gradient(90deg,rgba(0,0,0,0) 73px,rgba(0,0,0,0.05) 91px,rgba(0,0,0,0.15) 128px,rgba(0,0,0,0.3) 156px,rgba(0,0,0,0.5) 187px,rgba(0,0,0,0.75) 220px,rgba(0,0,0,0.92) 242px,#000 256px)"></div>
<div style="top:972px;background:linear-gradient(90deg,rgba(0,0,0,0) 69px,rgba(0,0,0,0.05) 88px,rgba(0,0,0,0.15) 125px,rgba(0,0,0,0.3) 153px,rgba(0,0,0,0.5) 184px,rgba(0,0,0,0.75) 218px,rgba(0,0,0,0.92) 240px,#000 255px)"></div>
<div style="top:974px;background:linear-gradient(90deg,rgba(0,0,0,0) 64px,rgba(0,0,0,0.05) 83px,rgba(0,0,0,0.15) 121px,rgba(0,0,0,0.3) 149px,rgba(0,0,0,0.5) 181px,rgba(0,0,0,0.75) 215px,rgba(0,0,0,0.92) 237px,#000 253px)"></div>
<div style="top:976px;background:linear-gradient(90deg,rgba(0,0,0,0) 68px,rgba(0,0,0,0.05) 87px,rgba(0,0,0,0.15) 124px,rgba(0,0,0,0.3) 152px,rgba(0,0,0,0.5) 184px,rgba(0,0,0,0.75) 217px,rgba(0,0,0,0.92) 239px,#000 254px)"></div>
<div style="top:978px;background:linear-gradient(90deg,rgba(0,0,0,0) 46px,rgba(0,0,0,0.05) 65px,rgba(0,0,0,0.15) 105px,rgba(0,0,0,0.3) 135px,rgba(0,0,0,0.5) 169px,rgba(0,0,0,0.75) 205px,rgba(0,0,0,0.92) 229px,#000 245px)"></div>
<div style="top:980px;background:linear-gradient(90deg,rgba(0,0,0,0) 61px,rgba(0,0,0,0.05) 80px,rgba(0,0,0,0.15) 118px,rgba(0,0,0,0.3) 147px,rgba(0,0,0,0.5) 179px,rgba(0,0,0,0.75) 213px,rgba(0,0,0,0.92) 236px,#000 251px)"></div>
<div style="top:982px;background:linear-gradient(90deg,rgba(0,0,0,0) 70px,rgba(0,0,0,0.05) 89px,rgba(0,0,0,0.15) 126px,rgba(0,0,0,0.3) 153px,rgba(0,0,0,0.5) 185px,rgba(0,0,0,0.75) 218px,rgba(0,0,0,0.92) 240px,#000 255px)"></div>
<div style="top:984px;background:linear-gradient(90deg,rgba(0,0,0,0) 56px,rgba(0,0,0,0.05) 76px,rgba(0,0,0,0.15) 114px,rgba(0,0,0,0.3) 143px,rgba(0,0,0,0.5) 176px,rgba(0,0,0,0.75) 211px,rgba(0,0,0,0.92) 234px,#000 250px)"></div>
<div style="top:986px;background:linear-gradient(90deg,rgba(0,0,0,0) 72px,rgba(0,0,0,0.05) 90px,rgba(0,0,0,0.15) 127px,rgba(0,0,0,0.3) 155px,rgba(0,0,0,0.5) 186px,rgba(0,0,0,0.75) 219px,rgba(0,0,0,0.92) 241px,#000 256px)"></div>
<div style="top:988px;background:linear-gradient(90deg,rgba(0,0,0,0) 71px,rgba(0,0,0,0.05) 90px,rgba(0,0,0,0.15) 127px,rgba(0,0,0,0.3) 154px,rgba(0,0,0,0.5) 186px,rgba(0,0,0,0.75) 219px,rgba(0,0,0,0.92) 241px,#000 256px)"></div>
<div style="top:990px;background:linear-gradient(90deg,rgba(0,0,0,0) 58px,rgba(0,0,0,0.05) 77px,rgba(0,0,0,0.15) 115px,rgba(0,0,0,0.3) 144px,rgba(0,0,0,0.5) 177px,rgba(0,0,0,0.75) 212px,rgba(0,0,0,0.92) 235px,#000 250px)"></div>
<div style="top:992px;background:linear-gradient(90deg,rgba(0,0,0,0) 68px,rgba(0,0,0,0.05) 86px,rgba(0,0,0,0.15) 124px,rgba(0,0,0,0.3) 152px,rgba(0,0,0,0.5) 183px,rgba(0,0,0,0.75) 217px,rgba(0,0,0,0.92) 239px,#000 254px)"></div>
<div style="top:994px;background:linear-gradient(90deg,rgba(0,0,0,0) 67px,rgba(0,0,0,0.05) 86px,rgba(0,0,0,0.15) 123px,rgba(0,0,0,0.3) 151px,rgba(0,0,0,0.5) 183px,rgba(0,0,0,0.75) 217px,rgba(0,0,0,0.92) 239px,#000 254px)"></div>
<div style="top:996px;background:linear-gradient(90deg,rgba(0,0,0,0) 74px,rgba(0,0,0,0.05) 92px,rgba(0,0,0,0.15) 129px,rgba(0,0,0,0.3) 156px,rgba(0,0,0,0.5) 187px,rgba(0,0,0,0.75) 220px,rgba(0,0,0,0.92) 242px,#000 257px)"></div>
</div><i style="top:208.8px"></i>
<i style="top:387.8px"></i>
<i style="top:431.8px"></i>
<i style="top:682.8px"></i>
<i style="top:720.3px"></i>
<i style="top:734.8px"></i>
<i style="top:783.3px"></i>
<i style="top:795.8px"></i>
<i style="top:873.3px"></i></div>
</body></html>
